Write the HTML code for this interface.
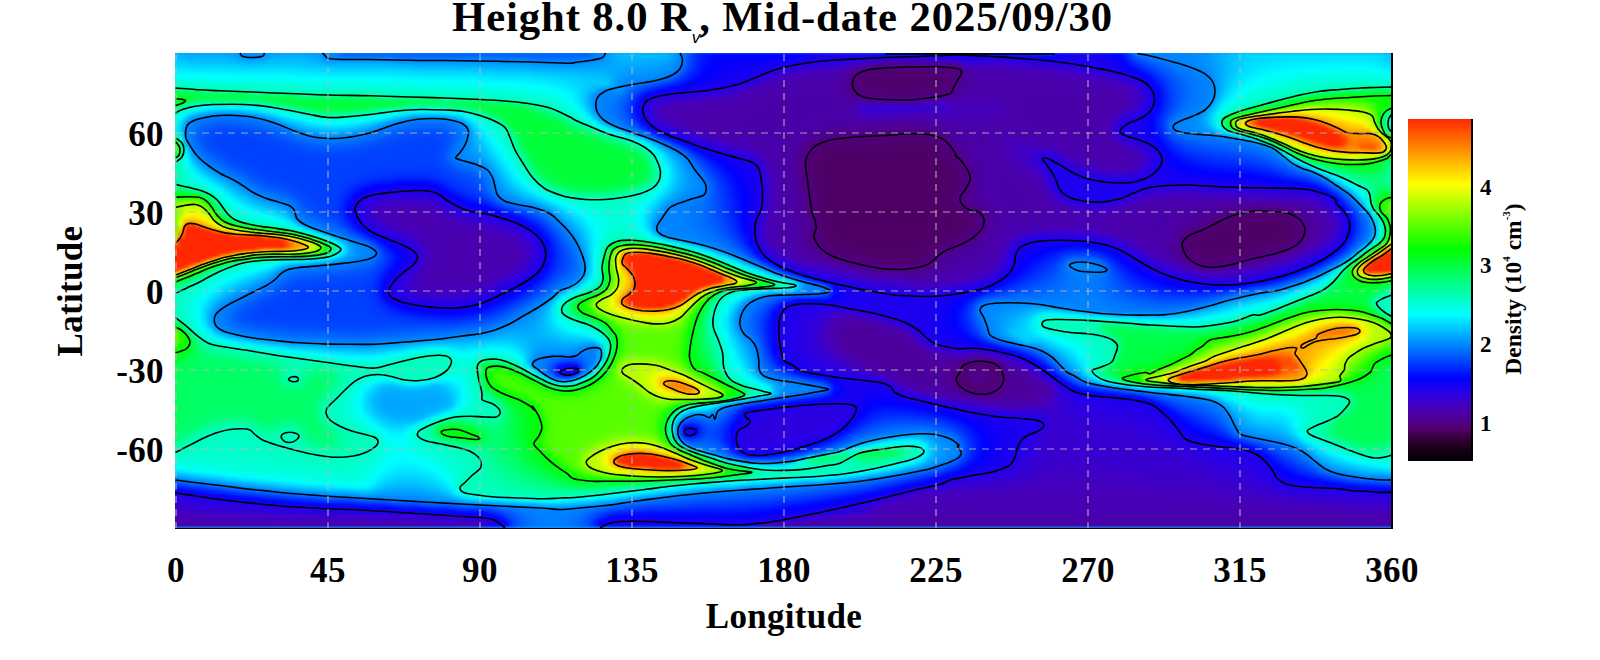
<!DOCTYPE html>
<html><head><meta charset="utf-8"><title>Density map</title>
<style>
html,body{margin:0;padding:0;background:#fff;}
body{width:1600px;height:660px;position:relative;overflow:hidden;font-family:"Liberation Serif",serif;font-weight:bold;color:#000;}
#title{position:absolute;left:0;width:1565px;top:-7.5px;text-align:center;font-size:42.7px;line-height:48px;white-space:nowrap;letter-spacing:0.9px}
#title sub{font-size:17px;font-style:italic;font-weight:normal;vertical-align:baseline;position:relative;top:12px;left:0px;font-family:"Liberation Sans",sans-serif;margin-right:-1px;letter-spacing:0}
.xt{position:absolute;top:551.3px;width:100px;text-align:center;font-size:35px;line-height:40px;letter-spacing:0.4px}
.yt{position:absolute;left:60px;width:104px;text-align:right;font-size:35px;line-height:40px;letter-spacing:0.4px}
#xl{position:absolute;left:176px;width:1216px;top:597.3px;text-align:center;font-size:35px;line-height:40px;letter-spacing:0.3px}
#yl{position:absolute;left:-29px;top:271px;width:200px;height:40px;text-align:center;font-size:35px;line-height:40px;transform:rotate(-90deg);letter-spacing:0.3px}
#heat{position:absolute;left:175px;top:53px;width:1217px;height:475px;overflow:hidden;background:#00a0ff;}
#hin{width:100%;height:100%;filter:url(#vb)}
#hin div{height:3px;width:100%;}
#ov{position:absolute;left:0;top:0;}
#cb{position:absolute;left:1408px;top:119px;width:65px;height:342px;background:linear-gradient(to top,#000000 0%,#190019 3.6%,#34003a 6.9%,#4e0062 8.9%,#500087 11.2%,#4800b8 15.6%,#2800e8 20%,#0000ff 24.1%,#00ffff 42.9%,#00ff00 62%,#ffff00 81%,#ff2800 100%);border-right:2px solid #000;box-sizing:border-box}
.ct{position:absolute;left:1480px;font-size:23px;line-height:24px;}
#cl{position:absolute;left:1413px;top:277px;width:200px;height:24px;text-align:center;font-size:23.5px;line-height:24px;transform:rotate(-90deg);white-space:nowrap}
#cl sup{font-size:11px;vertical-align:baseline;position:relative;top:-11px}
</style></head><body>
<div id="title">Height 8.0 R<sub>v</sub>, Mid-date 2025/09/30</div>
<svg width="0" height="0" style="position:absolute"><defs><filter id="vb" x="0" y="0" width="100%" height="100%" color-interpolation-filters="sRGB"><feGaussianBlur stdDeviation="0 1.3" edgeMode="duplicate"/></filter></defs></svg>
<div id="heat"><div id="hin"><div style="background:linear-gradient(90deg,#00bfff,#00b4ff,#00adff,#00abff,#00abff,#00abff,#00abff,#00aaff,#00a9ff,#00a4ff,#00a0ff,#008bff,#0086ff,#0087ff,#008eff,#0094ff,#00a1ff,#00a6ff,#00aaff,#00aaff,#00aaff,#00a9ff,#00a6ff,#00a2ff,#009bff,#0086ff,#0084ff,#0080ff,#006bff,#0060ff,#0060ff,#0060ff,#0060ff,#0060ff,#0060ff,#0060ff,#0060ff,#005eff,#005eff,#005eff,#005eff,#005eff,#005eff,#005eff,#005eff,#005eff,#005eff,#005eff,#005eff,#005eff,#005eff,#005eff,#005eff,#005eff,#005eff,#005eff,#005eff,#005eff,#005eff,#005dff,#005eff,#005dff,#005dff,#005dff,#005dff,#005dff,#005eff,#005dff,#005eff,#0061ff,#007bff,#0084ff,#0094ff,#00a7ff,#00b4ff,#00b9ff,#00bcff,#00bcff,#00bcff,#00bbff,#00baff,#00b7ff,#00b6ff,#00a6ff,#008aff,#006eff,#0048ff,#0028ff,#0015ff,#000bff,#0006ff,#0005ff,#0004ff,#0003ff,#0002ff,#0002ff,#0001ff,#0000ff,#0000ff,#0000ff,#0000ff,#0000ff,#0000ff,#0100ff,#0300fe,#1100f5,#1800f1,#1b00ef,#1c00ef,#1c00ef,#1c00ef,#1c00ef,#1c00ef,#1c00ef,#1c00ef,#1c00ef,#1c00ef,#1b00ef,#0200fe,#0011ff,#0011ff,#0011ff,#0011ff,#0011ff,#0011ff,#000eff,#0800fa,#0700fb,#0400fd,#0c00f8,#1300f4,#0a00fa,#0500fc,#0200fe,#0400fc,#000fff,#0012ff,#0012ff,#0012ff,#0012ff,#0018ff,#0021ff,#0021ff,#0021ff,#0024ff,#0028ff,#0027ff,#0004ff,#1200f5,#1900f1,#1b00ef,#1c00ef,#1b00ef,#1a00f0,#1800f1,#1500f3,#0f00f6,#0600fc,#000cff,#002cff,#0065ff,#007dff,#0080ff,#0084ff,#0084ff,#0085ff,#0085ff,#0085ff,#0086ff,#0087ff,#008aff,#008fff,#0095ff,#009eff,#00a8ff,#00b2ff,#00bdff,#00c6ff,#00ceff,#00d3ff,#00d6ff,#00d7ff,#00d8ff,#00d9ff,#00daff,#00daff,#00daff,#00dbff,#00dbff,#00dbff,#00dcff,#00dcff,#00dcff,#00dcff,#00dcff,#00dcff,#00dcff,#00dcff,#00dcff,#00dbff,#00daff,#00d5ff,#00cbff,#00c4ff)"></div>
<div style="background:linear-gradient(90deg,#00c5ff,#00bcff,#00b5ff,#00b3ff,#00b3ff,#00b2ff,#00b2ff,#00b2ff,#00b1ff,#00aeff,#00a8ff,#0098ff,#0091ff,#0091ff,#0093ff,#009fff,#00abff,#00afff,#00b2ff,#00b2ff,#00b1ff,#00b1ff,#00aeff,#00aaff,#00a1ff,#008cff,#0087ff,#0086ff,#0080ff,#007dff,#007dff,#007dff,#007dff,#007dff,#007dff,#007dff,#007bff,#0072ff,#0071ff,#0071ff,#0071ff,#0071ff,#0071ff,#0071ff,#0071ff,#0071ff,#0071ff,#0071ff,#0071ff,#0071ff,#0071ff,#0071ff,#0071ff,#0071ff,#0071ff,#0071ff,#0071ff,#0071ff,#0071ff,#006eff,#006bff,#006aff,#006aff,#006aff,#006aff,#006aff,#006bff,#006eff,#0071ff,#0075ff,#0083ff,#0089ff,#0098ff,#00a7ff,#00b1ff,#00b6ff,#00b8ff,#00b8ff,#00b7ff,#00b7ff,#00b5ff,#00b2ff,#00aeff,#00a0ff,#008bff,#006eff,#0047ff,#0029ff,#0015ff,#000aff,#0005ff,#0003ff,#0001ff,#0000ff,#0100ff,#0100fe,#0200fe,#0200fe,#0300fd,#0400fd,#0400fc,#0500fc,#0600fb,#0800fb,#0b00f9,#1400f3,#1a00f0,#1c00ef,#1c00ef,#1c00ef,#1d00ee,#1e00ee,#1f00ed,#1f00ed,#2000ed,#2000ed,#2200ec,#2900e7,#2800e8,#2800e8,#2800e8,#2800e8,#2800e8,#2800e8,#2800e8,#2800e8,#2700e9,#2400ea,#2300eb,#2700e9,#2800e8,#2000ed,#1900f1,#1600f2,#1a00f0,#1e00ed,#1f00ed,#1f00ed,#1f00ed,#1e00ee,#1600f2,#0f00f6,#0f00f6,#0f00f7,#0900fa,#0100ff,#0100fe,#0c00f8,#1500f3,#1a00f0,#1b00ef,#1c00ef,#1c00ef,#1b00f0,#1900f1,#1600f2,#1100f5,#0800fb,#0008ff,#0025ff,#004fff,#0067ff,#0072ff,#007cff,#0082ff,#0084ff,#0085ff,#0085ff,#0085ff,#0087ff,#008aff,#008eff,#0095ff,#009dff,#00a8ff,#00b2ff,#00bdff,#00c7ff,#00cfff,#00d4ff,#00d8ff,#00daff,#00dcff,#00ddff,#00deff,#00deff,#00dfff,#00e0ff,#00e0ff,#00e1ff,#00e1ff,#00e1ff,#00e2ff,#00e2ff,#00e2ff,#00e2ff,#00e2ff,#00e2ff,#00e2ff,#00e1ff,#00dfff,#00daff,#00d0ff,#00caff)"></div>
<div style="background:linear-gradient(90deg,#00cdff,#00c5ff,#00bfff,#00bdff,#00bdff,#00bcff,#00bcff,#00bcff,#00bbff,#00b9ff,#00b5ff,#00abff,#00a6ff,#00a5ff,#00a7ff,#00afff,#00b7ff,#00baff,#00bbff,#00bbff,#00bbff,#00baff,#00b7ff,#00b4ff,#00acff,#009dff,#0097ff,#0096ff,#0096ff,#0096ff,#0096ff,#0096ff,#0096ff,#0096ff,#0096ff,#0095ff,#0092ff,#008aff,#0089ff,#0089ff,#0088ff,#0088ff,#0088ff,#0088ff,#0088ff,#0088ff,#0088ff,#0088ff,#0088ff,#0088ff,#0088ff,#0087ff,#0087ff,#0087ff,#0087ff,#0087ff,#0087ff,#0087ff,#0086ff,#0081ff,#007cff,#007cff,#007cff,#007cff,#007cff,#007cff,#007cff,#0080ff,#0085ff,#0086ff,#008cff,#0091ff,#009dff,#00a7ff,#00aeff,#00b2ff,#00b3ff,#00b3ff,#00b2ff,#00b1ff,#00afff,#00acff,#00a5ff,#0099ff,#008aff,#006dff,#0046ff,#0028ff,#0015ff,#0009ff,#0003ff,#0000ff,#0100fe,#0200fe,#0300fd,#0400fd,#0500fc,#0600fb,#0700fb,#0900fa,#0b00f9,#0d00f8,#0f00f6,#1100f5,#1500f3,#1a00f0,#1c00ef,#2000ed,#2100ec,#2100ec,#2300eb,#2700e8,#2900e6,#2b00e3,#2e00df,#3000db,#3400d7,#3a00cd,#3f00c6,#4100c3,#4100c2,#4100c2,#4100c2,#4100c2,#4100c2,#4100c3,#3f00c5,#3e00c7,#3d00c8,#3e00c7,#3c00ca,#3400d6,#2d00e0,#2a00e4,#2c00e3,#2e00de,#2f00dd,#2f00dd,#2f00de,#2d00e0,#2a00e6,#2800e8,#2800e8,#2600e9,#2000ed,#1c00ef,#1c00ef,#1a00f0,#1a00f0,#1c00ef,#1c00ef,#1c00ef,#1c00ef,#1b00ef,#1a00f0,#1700f2,#1300f4,#0b00f9,#0002ff,#001bff,#003aff,#0050ff,#0060ff,#006cff,#0077ff,#007eff,#0082ff,#0084ff,#0085ff,#0086ff,#0089ff,#008dff,#0094ff,#009dff,#00a7ff,#00b3ff,#00beff,#00c8ff,#00d0ff,#00d7ff,#00dbff,#00deff,#00e0ff,#00e2ff,#00e3ff,#00e4ff,#00e5ff,#00e6ff,#00e6ff,#00e7ff,#00e8ff,#00e8ff,#00e8ff,#00e9ff,#00e9ff,#00e9ff,#00e9ff,#00e9ff,#00e9ff,#00e8ff,#00e5ff,#00e0ff,#00d7ff,#00d1ff)"></div>
<div style="background:linear-gradient(90deg,#00d6ff,#00cfff,#00caff,#00c9ff,#00c8ff,#00c8ff,#00c8ff,#00c7ff,#00c7ff,#00c6ff,#00c3ff,#00beff,#00bbff,#00baff,#00bcff,#00c0ff,#00c4ff,#00c6ff,#00c7ff,#00c6ff,#00c5ff,#00c4ff,#00c2ff,#00bfff,#00baff,#00b1ff,#00adff,#00acff,#00abff,#00abff,#00abff,#00abff,#00abff,#00abff,#00abff,#00aaff,#00a7ff,#00a3ff,#00a2ff,#00a1ff,#009fff,#009eff,#009dff,#009dff,#009dff,#009dff,#009dff,#009dff,#009dff,#009dff,#009dff,#009cff,#009aff,#009aff,#009aff,#009aff,#0099ff,#0099ff,#0097ff,#0091ff,#008eff,#008eff,#008eff,#008dff,#008dff,#008dff,#008dff,#008eff,#0092ff,#0093ff,#0096ff,#009bff,#00a1ff,#00a7ff,#00abff,#00adff,#00aeff,#00adff,#00acff,#00abff,#00a8ff,#00a5ff,#009eff,#0094ff,#0087ff,#0068ff,#0042ff,#0027ff,#0014ff,#0008ff,#0001ff,#0200fe,#0400fd,#0500fc,#0700fb,#0800fb,#0900fa,#0b00f9,#0d00f8,#0f00f6,#1200f5,#1500f3,#1800f1,#1b00ef,#1f00ed,#2300eb,#2500e9,#2a00e5,#2b00e3,#2c00e2,#2e00df,#3100da,#3500d5,#3a00ce,#3f00c5,#4400be,#4800b6,#4900af,#4b00a6,#4c00a1,#4c00a0,#4c00a0,#4c00a0,#4c00a0,#4c00a0,#4c00a0,#4c00a2,#4c00a2,#4b00a3,#4b00a3,#4a00a9,#4700ba,#3c00ca,#3800d0,#3800d0,#3900cf,#3900cf,#3900cf,#3800d0,#3700d2,#3400d5,#3300d7,#3200d9,#3000db,#2d00e0,#2c00e2,#2b00e4,#2700e9,#2400ea,#2200ec,#1e00ee,#1d00ee,#1c00ef,#1c00ef,#1b00f0,#1900f1,#1500f3,#0f00f7,#0400fd,#000fff,#0027ff,#003cff,#004dff,#005bff,#0068ff,#0073ff,#007bff,#0081ff,#0084ff,#0085ff,#0087ff,#008bff,#0092ff,#009bff,#00a7ff,#00b3ff,#00bfff,#00c9ff,#00d2ff,#00d9ff,#00dfff,#00e2ff,#00e5ff,#00e7ff,#00e9ff,#00eaff,#00ecff,#00edff,#00eeff,#00eeff,#00efff,#00f0ff,#00f0ff,#00f1ff,#00f1ff,#00f2ff,#00f2ff,#00f2ff,#00f1ff,#00f0ff,#00edff,#00e7ff,#00dfff,#00d9ff)"></div>
<div style="background:linear-gradient(90deg,#00e0ff,#00dbff,#00d7ff,#00d5ff,#00d5ff,#00d4ff,#00d4ff,#00d4ff,#00d4ff,#00d3ff,#00d1ff,#00cfff,#00ceff,#00cdff,#00ceff,#00d0ff,#00d1ff,#00d2ff,#00d3ff,#00d2ff,#00d1ff,#00cfff,#00cdff,#00cbff,#00c8ff,#00c4ff,#00c1ff,#00c0ff,#00c0ff,#00bfff,#00bfff,#00bfff,#00bfff,#00bfff,#00bfff,#00beff,#00bdff,#00bbff,#00bbff,#00baff,#00b6ff,#00b3ff,#00b2ff,#00b2ff,#00b2ff,#00b2ff,#00b2ff,#00b2ff,#00b2ff,#00b2ff,#00b1ff,#00afff,#00adff,#00acff,#00acff,#00acff,#00abff,#00abff,#00a9ff,#00a5ff,#00a2ff,#00a0ff,#00a0ff,#009fff,#009eff,#009dff,#009dff,#009dff,#009fff,#00a0ff,#00a1ff,#00a4ff,#00a6ff,#00a8ff,#00a9ff,#00a9ff,#00a8ff,#00a7ff,#00a5ff,#00a4ff,#00a1ff,#009dff,#0097ff,#008fff,#0083ff,#0060ff,#003dff,#0023ff,#0011ff,#0005ff,#0100fe,#0500fc,#0700fb,#0800fa,#0a00f9,#0c00f8,#0d00f7,#0f00f6,#1200f5,#1500f3,#1900f1,#1d00ee,#2100ec,#2700e9,#2a00e4,#2e00df,#3100db,#3400d6,#3600d3,#3700d2,#3800cf,#3b00cb,#4000c4,#4700b9,#4a00ab,#4c00a0,#4e0096,#4e0093,#4f008b,#500087,#500086,#500086,#500086,#500086,#500086,#500086,#500086,#500087,#500087,#500087,#4f008d,#4c009f,#4800b8,#4400bf,#4300c0,#4200c1,#4200c1,#4200c1,#4200c2,#4000c4,#3e00c7,#3d00c9,#3c00ca,#3a00cd,#3800d0,#3600d3,#3500d5,#3200d9,#2f00dd,#2c00e2,#2800e7,#2500ea,#2100ec,#1e00ee,#1c00ef,#1b00f0,#1800f1,#1300f4,#0b00f9,#0002ff,#0016ff,#0029ff,#003bff,#004bff,#005aff,#0067ff,#0071ff,#007aff,#0080ff,#0083ff,#0086ff,#0089ff,#0090ff,#009aff,#00a6ff,#00b3ff,#00c0ff,#00cbff,#00d5ff,#00ddff,#00e3ff,#00e7ff,#00eaff,#00edff,#00efff,#00f1ff,#00f3ff,#00f4ff,#00f5ff,#00f6ff,#00f7ff,#00f8ff,#00f9ff,#00faff,#00faff,#00fbff,#00fbff,#00fbff,#00fbff,#00f9ff,#00f6ff,#00f0ff,#00e8ff,#00e3ff)"></div>
<div style="background:linear-gradient(90deg,#00eaff,#00e7ff,#00e4ff,#00e3ff,#00e2ff,#00e2ff,#00e2ff,#00e1ff,#00e1ff,#00e0ff,#00dfff,#00deff,#00ddff,#00ddff,#00ddff,#00deff,#00deff,#00dfff,#00dfff,#00deff,#00ddff,#00dbff,#00d9ff,#00d7ff,#00d6ff,#00d4ff,#00d3ff,#00d2ff,#00d2ff,#00d1ff,#00d1ff,#00d1ff,#00d1ff,#00d1ff,#00d1ff,#00d1ff,#00d1ff,#00d0ff,#00d0ff,#00ceff,#00c9ff,#00c7ff,#00c6ff,#00c6ff,#00c6ff,#00c6ff,#00c6ff,#00c6ff,#00c5ff,#00c5ff,#00c5ff,#00c2ff,#00bfff,#00bdff,#00bdff,#00bdff,#00bdff,#00bcff,#00bbff,#00b8ff,#00b4ff,#00b2ff,#00b1ff,#00b1ff,#00afff,#00adff,#00acff,#00acff,#00abff,#00abff,#00acff,#00acff,#00abff,#00a9ff,#00a7ff,#00a4ff,#00a2ff,#00a0ff,#009fff,#009cff,#009aff,#0096ff,#0091ff,#008aff,#007cff,#0056ff,#0036ff,#001eff,#000dff,#0002ff,#0400fd,#0800fb,#0a00f9,#0c00f8,#0e00f7,#1000f6,#1200f5,#1400f3,#1700f2,#1b00ef,#2100ec,#2700e9,#2c00e2,#3100db,#3500d5,#3800cf,#3b00cb,#3e00c7,#4000c4,#4100c3,#4200c1,#4400be,#4800b5,#4b00a4,#4e0091,#500089,#500081,#500080,#4f007d,#4f007a,#4f007a,#4f0079,#4f0079,#4f0079,#4f0079,#4f0079,#4f0079,#4f007a,#4f007a,#4f007c,#500081,#4f008e,#4a00aa,#4900b3,#4800b6,#4800b6,#4800b6,#4800b7,#4800b7,#4800b8,#4600ba,#4500bc,#4500bd,#4300bf,#4100c2,#4000c4,#3e00c7,#3c00ca,#3900ce,#3600d2,#3300d7,#3000dd,#2c00e3,#2700e8,#2400ea,#2000ed,#1d00ee,#1900f1,#1300f4,#0900fa,#0005ff,#0017ff,#002aff,#003cff,#004dff,#005bff,#0068ff,#0072ff,#007aff,#0080ff,#0083ff,#0086ff,#008cff,#0097ff,#00a5ff,#00b3ff,#00c1ff,#00ceff,#00d8ff,#00e1ff,#00e7ff,#00ecff,#00f0ff,#00f4ff,#00f6ff,#00f8ff,#00faff,#00fcff,#00feff,#00ffff,#00fffe,#00fffd,#00fffc,#00fffb,#00fffa,#00fffa,#00fff9,#00fff9,#00fffa,#00fffb,#00fffe,#00faff,#00f2ff,#00edff)"></div>
<div style="background:linear-gradient(90deg,#00f6ff,#00f4ff,#00f2ff,#00f1ff,#00f1ff,#00f0ff,#00efff,#00efff,#00efff,#00eeff,#00eeff,#00edff,#00ecff,#00ebff,#00ebff,#00ebff,#00ecff,#00ecff,#00ecff,#00ebff,#00eaff,#00e8ff,#00e6ff,#00e4ff,#00e3ff,#00e2ff,#00e1ff,#00e1ff,#00e1ff,#00e0ff,#00e0ff,#00e0ff,#00e0ff,#00e0ff,#00e0ff,#00dfff,#00dfff,#00dfff,#00deff,#00dcff,#00d9ff,#00d7ff,#00d7ff,#00d7ff,#00d7ff,#00d6ff,#00d6ff,#00d6ff,#00d6ff,#00d6ff,#00d5ff,#00d2ff,#00cfff,#00ceff,#00cdff,#00cdff,#00cdff,#00ccff,#00ccff,#00caff,#00c5ff,#00c3ff,#00c2ff,#00c1ff,#00bfff,#00bcff,#00bbff,#00b9ff,#00b8ff,#00b6ff,#00b5ff,#00b3ff,#00b0ff,#00aaff,#00a4ff,#009fff,#009cff,#009aff,#0098ff,#0096ff,#0093ff,#008fff,#008bff,#0084ff,#006cff,#0049ff,#002cff,#0017ff,#0008ff,#0200fe,#0700fb,#0b00f9,#0d00f7,#0f00f6,#1100f5,#1300f4,#1600f2,#1900f1,#1d00ee,#2300eb,#2b00e3,#3100da,#3600d3,#3b00cc,#3f00c6,#4200c1,#4400be,#4600bb,#4700b9,#4800b8,#4800b6,#4900b3,#4b00a8,#4e0092,#500082,#4f007c,#4f0078,#4f0077,#4f0076,#4f0075,#4f0074,#4f0074,#4f0074,#4f0074,#4f0074,#4f0074,#4f0074,#4f0074,#4f0075,#4f0078,#50007e,#50008a,#4c00a2,#4a00ac,#4900b1,#4900b1,#4900b1,#4900b2,#4900b2,#4900b2,#4900b3,#4900b4,#4900b5,#4800b5,#4800b7,#4800b9,#4700ba,#4500bd,#4300c0,#4000c4,#3d00c8,#3a00cd,#3600d3,#3200d9,#2f00de,#2a00e4,#2700e9,#2000ec,#1b00f0,#1400f4,#0900fa,#0005ff,#0019ff,#002dff,#0040ff,#0051ff,#005fff,#006bff,#0074ff,#007bff,#0080ff,#0084ff,#0088ff,#0094ff,#00a4ff,#00b4ff,#00c3ff,#00d0ff,#00dcff,#00e5ff,#00ecff,#00f2ff,#00f7ff,#00faff,#00fdff,#00fffe,#00fffc,#00fffa,#00fff8,#00fff7,#00fff5,#00fff4,#00fff3,#00fff2,#00fff1,#00fff0,#00fff0,#00ffef,#00ffef,#00fff1,#00fff3,#00fff8,#00feff,#00f9ff)"></div>
<div style="background:linear-gradient(90deg,#00fff8,#00fffb,#00fffd,#00fffd,#00fffe,#00ffff,#00feff,#00fdff,#00fdff,#00fdff,#00fcff,#00fcff,#00fbff,#00faff,#00faff,#00f9ff,#00f9ff,#00f9ff,#00f9ff,#00f8ff,#00f6ff,#00f4ff,#00f3ff,#00f1ff,#00f0ff,#00f0ff,#00efff,#00efff,#00efff,#00efff,#00efff,#00eeff,#00eeff,#00eeff,#00edff,#00edff,#00edff,#00ecff,#00ebff,#00e9ff,#00e7ff,#00e6ff,#00e5ff,#00e5ff,#00e5ff,#00e4ff,#00e4ff,#00e4ff,#00e3ff,#00e3ff,#00e2ff,#00e0ff,#00ddff,#00dcff,#00dcff,#00dbff,#00dbff,#00daff,#00d9ff,#00d7ff,#00d4ff,#00d2ff,#00d1ff,#00d0ff,#00cdff,#00c9ff,#00c8ff,#00c5ff,#00c2ff,#00bfff,#00bdff,#00baff,#00b5ff,#00acff,#00a1ff,#009aff,#0096ff,#0093ff,#0091ff,#008fff,#008dff,#0089ff,#0083ff,#0075ff,#0058ff,#0039ff,#0021ff,#000fff,#0001ff,#0600fc,#0b00f9,#0e00f7,#1100f5,#1300f4,#1500f3,#1700f2,#1a00f0,#1e00ee,#2600e9,#2e00df,#3500d4,#3b00cc,#4000c4,#4400be,#4700ba,#4800b7,#4900b5,#4900b3,#4900b3,#4900b2,#4900b0,#4a00ab,#4c009e,#500087,#4f007b,#4f0075,#4f0073,#4f0072,#4f0071,#4f0070,#4f0070,#4f0070,#4f0070,#4f0070,#4f0070,#4f0070,#4f0070,#4f0070,#4f0071,#4f0075,#4f007d,#50008a,#4c009e,#4a00a9,#4a00ad,#4a00ae,#4a00ae,#4a00ae,#4a00af,#4900af,#4900af,#4900b0,#4900b1,#4900b1,#4900b2,#4900b2,#4900b3,#4900b4,#4800b6,#4800b8,#4600bc,#4300c0,#4000c5,#3c00ca,#3900cf,#3500d5,#3100db,#2b00e3,#2500ea,#1e00ee,#1600f3,#0b00f9,#0007ff,#001eff,#0034ff,#0047ff,#0057ff,#0064ff,#006fff,#0077ff,#007dff,#0082ff,#0085ff,#0090ff,#00a2ff,#00b5ff,#00c5ff,#00d4ff,#00e0ff,#00eaff,#00f2ff,#00f8ff,#00fdff,#00fffd,#00fffa,#00fff7,#00fff4,#00fff2,#00fff0,#00ffee,#00ffec,#00ffeb,#00ffe9,#00ffe8,#00ffe7,#00ffe6,#00ffe5,#00ffe5,#00ffe5,#00ffe5,#00ffe8,#00ffec,#00fff2,#00fff6)"></div>
<div style="background:linear-gradient(90deg,#00ffe9,#00ffeb,#00ffed,#00ffee,#00ffef,#00fff1,#00fff2,#00fff2,#00fff3,#00fff3,#00fff3,#00fff4,#00fff5,#00fff6,#00fff7,#00fff7,#00fff7,#00fff8,#00fff8,#00fff9,#00fffa,#00fffd,#00fffe,#00ffff,#00feff,#00feff,#00fdff,#00fdff,#00fdff,#00fdff,#00fdff,#00fdff,#00fdff,#00fcff,#00fcff,#00fbff,#00faff,#00f9ff,#00f8ff,#00f7ff,#00f5ff,#00f4ff,#00f4ff,#00f3ff,#00f3ff,#00f2ff,#00f2ff,#00f1ff,#00f1ff,#00f0ff,#00efff,#00edff,#00ebff,#00eaff,#00e9ff,#00e8ff,#00e8ff,#00e7ff,#00e5ff,#00e3ff,#00e0ff,#00deff,#00ddff,#00dbff,#00d7ff,#00d4ff,#00d1ff,#00ceff,#00c9ff,#00c6ff,#00c4ff,#00c2ff,#00bcff,#00adff,#009cff,#0094ff,#008fff,#008dff,#008bff,#0088ff,#0085ff,#007cff,#006fff,#005bff,#0041ff,#0029ff,#0015ff,#0005ff,#0500fc,#0b00f9,#0f00f6,#1200f5,#1400f3,#1600f2,#1800f1,#1b00f0,#2000ed,#2800e8,#3000dc,#3800d0,#3f00c6,#4400bf,#4700b9,#4800b5,#4900b3,#4900b2,#4900b1,#4900b0,#4900af,#4a00af,#4a00ac,#4b00a6,#4d0098,#500082,#4f0077,#4f0071,#4f006f,#4f006f,#4f006e,#4f006e,#4f006e,#4f006e,#4f006e,#4f006e,#4f006e,#4f006e,#4f006e,#4f006f,#4f0070,#4f0073,#50007f,#4f008c,#4c009e,#4b00a7,#4a00aa,#4a00ab,#4a00ac,#4a00ac,#4a00ac,#4a00ac,#4a00ad,#4a00ad,#4a00ad,#4a00ae,#4a00ae,#4900af,#4900b0,#4900b0,#4900b2,#4900b2,#4900b4,#4800b6,#4700b9,#4500bd,#4200c1,#3f00c6,#3b00cc,#3500d4,#2f00dd,#2900e6,#2000ed,#1800f1,#0800fb,#0010ff,#0028ff,#003eff,#0050ff,#005fff,#006aff,#0074ff,#007bff,#0080ff,#0083ff,#008cff,#00a1ff,#00b6ff,#00c8ff,#00d8ff,#00e5ff,#00efff,#00f8ff,#00feff,#00fffa,#00fff6,#00fff2,#00ffef,#00ffec,#00ffea,#00ffe7,#00ffe5,#00ffe3,#00ffe1,#00ffdf,#00ffde,#00ffdd,#00ffdc,#00ffdb,#00ffdb,#00ffda,#00ffda,#00ffdc,#00ffdf,#00ffe4,#00ffe7)"></div>
<div style="background:linear-gradient(90deg,#00ffda,#00ffdd,#00ffde,#00ffdf,#00ffe0,#00ffe2,#00ffe3,#00ffe4,#00ffe5,#00ffe5,#00ffe5,#00ffe6,#00ffe6,#00ffe8,#00ffe9,#00ffea,#00ffea,#00ffea,#00ffeb,#00ffec,#00ffed,#00ffef,#00fff1,#00fff2,#00fff3,#00fff3,#00fff3,#00fff3,#00fff3,#00fff3,#00fff3,#00fff3,#00fff4,#00fff4,#00fff5,#00fff6,#00fff7,#00fff8,#00fff9,#00fffa,#00fffb,#00fffc,#00fffc,#00fffd,#00fffd,#00fffe,#00ffff,#00feff,#00feff,#00fdff,#00fcff,#00fbff,#00f9ff,#00f7ff,#00f6ff,#00f6ff,#00f5ff,#00f3ff,#00f2ff,#00efff,#00edff,#00eaff,#00e8ff,#00e5ff,#00e1ff,#00ddff,#00d9ff,#00d3ff,#00ceff,#00cbff,#00cbff,#00cbff,#00c8ff,#00afff,#0095ff,#008cff,#0089ff,#0085ff,#0082ff,#0079ff,#0071ff,#0061ff,#0052ff,#003eff,#002aff,#0017ff,#0007ff,#0400fd,#0b00f9,#0f00f6,#1300f4,#1500f3,#1700f2,#1900f0,#1c00ef,#2000ec,#2a00e5,#3200d9,#3a00cd,#4100c3,#4600ba,#4800b5,#4900b3,#4900b1,#4900b0,#4a00af,#4a00ae,#4a00ad,#4a00ac,#4a00ac,#4a00a9,#4b00a4,#4e0095,#500081,#4f0076,#4f0070,#4f006f,#4f006e,#4f006e,#4f006e,#4f006e,#4f006e,#4f006e,#4f006e,#4f006e,#4f006e,#4f006e,#4f006f,#4f006f,#4f0075,#500081,#4f0090,#4c009f,#4b00a7,#4a00a9,#4a00aa,#4a00aa,#4a00aa,#4a00aa,#4a00aa,#4a00ab,#4a00ab,#4a00ab,#4a00ab,#4a00ac,#4a00ac,#4a00ad,#4a00ad,#4a00ae,#4900af,#4900b0,#4900b1,#4900b3,#4900b4,#4800b7,#4700ba,#4300bf,#3f00c6,#3900ce,#3200d8,#2a00e4,#2100ec,#1400f4,#0001ff,#001eff,#0036ff,#0049ff,#005aff,#0067ff,#0071ff,#0078ff,#007eff,#0082ff,#0089ff,#00a0ff,#00b8ff,#00ccff,#00dcff,#00eaff,#00f5ff,#00feff,#00fff9,#00fff4,#00ffef,#00ffeb,#00ffe7,#00ffe4,#00ffe1,#00ffde,#00ffdc,#00ffda,#00ffd8,#00ffd6,#00ffd5,#00ffd4,#00ffd3,#00ffd2,#00ffd1,#00ffd0,#00ffd0,#00ffd1,#00ffd3,#00ffd6,#00ffd9)"></div>
<div style="background:linear-gradient(90deg,#00ffcb,#00ffcf,#00ffd0,#00ffd1,#00ffd2,#00ffd5,#00ffd7,#00ffd7,#00ffd8,#00ffd8,#00ffd8,#00ffd8,#00ffd9,#00ffdb,#00ffdc,#00ffdd,#00ffdd,#00ffde,#00ffde,#00ffdf,#00ffe0,#00ffe2,#00ffe4,#00ffe5,#00ffe5,#00ffe6,#00ffe6,#00ffe6,#00ffe6,#00ffe6,#00ffe6,#00ffe6,#00ffe6,#00ffe7,#00ffe8,#00ffe9,#00ffea,#00ffeb,#00ffec,#00ffed,#00ffee,#00ffee,#00ffef,#00ffef,#00fff0,#00fff1,#00fff2,#00fff3,#00fff3,#00fff4,#00fff5,#00fff6,#00fff8,#00fffa,#00fffb,#00fffc,#00fffd,#00fffe,#00feff,#00fbff,#00f8ff,#00f6ff,#00f3ff,#00efff,#00ebff,#00e6ff,#00e0ff,#00d9ff,#00d1ff,#00cbff,#00c8ff,#00caff,#00ccff,#00acff,#008fff,#0086ff,#0081ff,#0078ff,#006eff,#0060ff,#0052ff,#0042ff,#0033ff,#0023ff,#0014ff,#0005ff,#0600fc,#0c00f8,#1100f5,#1400f3,#1700f2,#1900f0,#1b00ef,#1f00ed,#2400eb,#2b00e3,#3400d7,#3c00cb,#4200c0,#4800b8,#4900b3,#4900b1,#4900b0,#4a00ae,#4a00ad,#4a00ac,#4a00ab,#4a00ab,#4a00ab,#4a00aa,#4b00a8,#4c00a2,#4e0094,#500081,#4f0075,#4f0070,#4f006f,#4f006e,#4f006e,#4f006e,#4f006d,#4f006e,#4f006d,#4f006d,#4f006e,#4f006e,#4f006e,#4f006e,#4f0071,#4f0078,#500085,#4e0094,#4c00a1,#4b00a7,#4a00a9,#4a00aa,#4a00aa,#4a00aa,#4a00aa,#4a00aa,#4a00aa,#4a00aa,#4a00aa,#4a00aa,#4a00aa,#4a00ab,#4a00ab,#4a00ab,#4a00ac,#4a00ac,#4a00ad,#4a00ae,#4900af,#4900b0,#4900b2,#4900b3,#4800b5,#4700ba,#4200c1,#3c00ca,#3300d7,#2900e6,#1c00ef,#0900fa,#0014ff,#002eff,#0044ff,#0055ff,#0063ff,#006eff,#0077ff,#007dff,#0081ff,#0086ff,#00a0ff,#00baff,#00d0ff,#00e2ff,#00f0ff,#00fcff,#00fff9,#00fff2,#00ffec,#00ffe7,#00ffe3,#00ffdf,#00ffdc,#00ffd8,#00ffd6,#00ffd3,#00ffd1,#00ffcf,#00ffce,#00ffcc,#00ffca,#00ffca,#00ffc9,#00ffc8,#00ffc3,#00ffc2,#00ffc2,#00ffc3,#00ffc5,#00ffc7)"></div>
<div style="background:linear-gradient(90deg,#00ffb2,#00ffba,#00ffba,#00ffba,#00ffbc,#00ffc6,#00ffc9,#00ffca,#00ffca,#00ffca,#00ffca,#00ffca,#00ffcb,#00ffcf,#00ffd1,#00ffd1,#00ffd2,#00ffd2,#00ffd2,#00ffd3,#00ffd4,#00ffd6,#00ffd8,#00ffd9,#00ffd9,#00ffd9,#00ffd9,#00ffd9,#00ffda,#00ffda,#00ffda,#00ffda,#00ffda,#00ffdb,#00ffdc,#00ffdd,#00ffde,#00ffdf,#00ffe0,#00ffe0,#00ffe1,#00ffe1,#00ffe2,#00ffe2,#00ffe3,#00ffe5,#00ffe6,#00ffe7,#00ffe7,#00ffe8,#00ffe8,#00ffea,#00ffeb,#00ffed,#00ffee,#00ffef,#00fff1,#00fff2,#00fff5,#00fff7,#00fffa,#00fffd,#00fdff,#00f9ff,#00f4ff,#00edff,#00e6ff,#00dcff,#00d2ff,#00c7ff,#00bbff,#00b1ff,#00a6ff,#0096ff,#009dff,#0086ff,#0075ff,#0065ff,#0055ff,#0042ff,#0032ff,#0023ff,#0015ff,#0007ff,#0300fd,#0a00fa,#1100f5,#1500f3,#1700f2,#1a00f0,#1d00ef,#1e00ed,#2400eb,#2900e6,#2f00de,#3500d4,#3d00c8,#4400be,#4800b7,#4900b3,#4900b0,#4a00ae,#4a00ad,#4a00ac,#4a00ab,#4a00aa,#4a00aa,#4a00aa,#4a00aa,#4a00a9,#4b00a7,#4c00a2,#4e0095,#500083,#4f0077,#4f0071,#4f006f,#4f006f,#4f006f,#4f006e,#4f006e,#4f006e,#4f006e,#4f006e,#4f006f,#4f006f,#4f0070,#4f0071,#4f0075,#4f007c,#500089,#4d0098,#4b00a3,#4b00a7,#4a00a9,#4a00aa,#4a00aa,#4a00aa,#4a00aa,#4a00aa,#4a00aa,#4a00aa,#4a00aa,#4a00aa,#4a00aa,#4a00aa,#4a00aa,#4a00aa,#4a00aa,#4a00ab,#4a00ab,#4a00ac,#4a00ad,#4a00ad,#4a00af,#4900b0,#4900b1,#4900b3,#4800b7,#4400be,#3c00cb,#3000dc,#2200eb,#1000f6,#000cff,#0028ff,#003fff,#0052ff,#0061ff,#006dff,#0076ff,#007cff,#0081ff,#0086ff,#00a1ff,#00beff,#00d5ff,#00e8ff,#00f7ff,#00fffb,#00fff2,#00ffeb,#00ffe5,#00ffdf,#00ffdb,#00ffd7,#00ffd3,#00ffd0,#00ffce,#00ffcb,#00ffc9,#00ffc6,#00ffc5,#00ffc0,#00ffba,#00ffb8,#00ffb8,#00ffb7,#00ffa8,#00ffa0,#00ff9c,#00ff9a,#00ff9e,#00ffa8)"></div>
<div style="background:linear-gradient(90deg,#00ff79,#00ff8a,#00ff89,#00ff86,#00ff8b,#00ffa7,#00ffab,#00ffac,#00ffac,#00ffac,#00ffac,#00ffac,#00ffae,#00ffbe,#00ffc2,#00ffc2,#00ffc2,#00ffc2,#00ffc2,#00ffc2,#00ffc4,#00ffca,#00ffcd,#00ffcd,#00ffcd,#00ffcd,#00ffce,#00ffce,#00ffce,#00ffce,#00ffce,#00ffce,#00ffce,#00ffce,#00ffd0,#00ffd2,#00ffd3,#00ffd4,#00ffd4,#00ffd5,#00ffd5,#00ffd6,#00ffd6,#00ffd6,#00ffd7,#00ffd9,#00ffda,#00ffdb,#00ffdb,#00ffdc,#00ffdc,#00ffdd,#00ffdf,#00ffe0,#00ffe2,#00ffe3,#00ffe5,#00ffe7,#00ffe9,#00ffec,#00ffef,#00fff2,#00fff6,#00fffb,#00fcff,#00f5ff,#00ebff,#00e0ff,#00d2ff,#00c1ff,#00abff,#0094ff,#0088ff,#0087ff,#0098ff,#0080ff,#0068ff,#0053ff,#003cff,#0025ff,#0013ff,#0003ff,#0600fc,#0f00f6,#1400f4,#1600f2,#1c00ef,#1f00ed,#2000ed,#2200ec,#2700e9,#2a00e6,#2e00de,#3300d7,#3900cf,#3f00c6,#4500bc,#4800b5,#4900b2,#4900b0,#4a00ad,#4a00ac,#4a00ab,#4a00aa,#4a00aa,#4a00aa,#4a00aa,#4a00aa,#4a00a9,#4a00a9,#4b00a7,#4b00a3,#4d0097,#500087,#4f007c,#4f0075,#4f0073,#4f0072,#4f0072,#4f0072,#4f0070,#4f0070,#4f0070,#4f0071,#4f0072,#4f0073,#4f0075,#4f0077,#4f007a,#500080,#4f008e,#4d009c,#4b00a5,#4b00a8,#4a00a9,#4a00aa,#4a00aa,#4a00aa,#4a00aa,#4a00a9,#4a00a9,#4a00a9,#4a00a9,#4a00a9,#4a00a9,#4a00a9,#4a00aa,#4a00aa,#4a00aa,#4a00aa,#4a00aa,#4a00aa,#4a00ab,#4a00ab,#4a00ac,#4a00ad,#4a00ae,#4900b0,#4900b2,#4800b6,#4300c0,#3600d3,#2700e9,#1600f2,#0004ff,#0023ff,#003cff,#0050ff,#0060ff,#006cff,#0075ff,#007cff,#0081ff,#0086ff,#00a4ff,#00c3ff,#00dcff,#00efff,#00ffff,#00fff3,#00ffea,#00ffe3,#00ffdc,#00ffd7,#00ffd3,#00ffd0,#00ffcc,#00ffc9,#00ffc5,#00ffc0,#00ffb8,#00ffac,#00ffab,#00ffa0,#00ff8b,#00ff85,#00ff85,#00ff83,#00ff75,#00ff6b,#00ff5f,#00ff59,#00ff5e,#00ff6b)"></div>
<div style="background:linear-gradient(90deg,#00ff39,#00ff51,#00ff50,#00ff4d,#00ff51,#00ff69,#00ff6f,#00ff6f,#00ff6f,#00ff6f,#00ff6f,#00ff6f,#00ff75,#00ff93,#00ff99,#00ff99,#00ff99,#00ff99,#00ff99,#00ff99,#00ff9e,#00ffb5,#00ffb9,#00ffb9,#00ffb9,#00ffb9,#00ffb9,#00ffb9,#00ffb9,#00ffb9,#00ffb9,#00ffb9,#00ffb9,#00ffbb,#00ffc3,#00ffc7,#00ffc8,#00ffc8,#00ffc8,#00ffc8,#00ffc9,#00ffc9,#00ffc9,#00ffc9,#00ffca,#00ffcd,#00ffcf,#00ffd0,#00ffd0,#00ffd1,#00ffd1,#00ffd2,#00ffd3,#00ffd5,#00ffd7,#00ffd8,#00ffd9,#00ffdb,#00ffdd,#00ffe0,#00ffe3,#00ffe7,#00ffec,#00fff2,#00fff9,#00fcff,#00f1ff,#00e3ff,#00d1ff,#00baff,#009bff,#0086ff,#0083ff,#0083ff,#0085ff,#0074ff,#005bff,#0041ff,#0023ff,#0006ff,#0900fa,#1500f3,#1900f1,#2000ed,#2300eb,#2400ea,#2700e8,#2b00e4,#2c00e2,#2d00e0,#3100da,#3400d5,#3900cf,#3d00c8,#4200c1,#4700ba,#4900b4,#4900b1,#4900af,#4a00ad,#4a00ab,#4a00aa,#4a00aa,#4a00aa,#4a00aa,#4a00a9,#4a00a9,#4a00a9,#4a00a9,#4a00a9,#4b00a8,#4b00a5,#4d009b,#4f008d,#500081,#4f007b,#4f0078,#4f0077,#4f0077,#4f0077,#4f0075,#4f0075,#4f0075,#4f0076,#4f0077,#4f0079,#4f007b,#4f007d,#500082,#500088,#4e0095,#4c00a0,#4b00a7,#4a00a9,#4a00ab,#4a00ab,#4a00ab,#4a00aa,#4a00aa,#4a00aa,#4a00a9,#4a00a9,#4a00a9,#4a00a9,#4a00a9,#4a00a9,#4a00a9,#4a00a9,#4a00a9,#4a00aa,#4a00aa,#4a00aa,#4a00aa,#4a00aa,#4a00aa,#4a00ab,#4a00ac,#4a00ad,#4900b0,#4900b3,#4600ba,#3b00cc,#2b00e4,#1a00f0,#0100ff,#0020ff,#003aff,#004fff,#005fff,#006bff,#0075ff,#007cff,#0081ff,#0086ff,#00a8ff,#00caff,#00e4ff,#00f8ff,#00fff6,#00ffeb,#00ffe1,#00ffda,#00ffd4,#00ffd0,#00ffcd,#00ffc9,#00ffc4,#00ffbb,#00ffb3,#00ff9c,#00ff8a,#00ff72,#00ff6d,#00ff64,#00ff4c,#00ff41,#00ff40,#00ff3f,#00ff39,#00ff34,#00ff24,#00ff1b,#00ff1f,#00ff28)"></div>
<div style="background:linear-gradient(90deg,#00ff15,#00ff21,#00ff32,#00ff43,#00ff45,#00ff46,#00ff48,#00ff48,#00ff48,#00ff48,#00ff48,#00ff48,#00ff4a,#00ff5c,#00ff60,#00ff5e,#00ff5d,#00ff5c,#00ff5c,#00ff5c,#00ff62,#00ff7f,#00ff85,#00ff85,#00ff85,#00ff85,#00ff85,#00ff85,#00ff85,#00ff85,#00ff85,#00ff85,#00ff85,#00ff8a,#00ffa6,#00ffab,#00ffab,#00ffab,#00ffab,#00ffab,#00ffab,#00ffab,#00ffac,#00ffac,#00ffaf,#00ffbf,#00ffc1,#00ffc1,#00ffc2,#00ffc2,#00ffc2,#00ffc2,#00ffc6,#00ffcb,#00ffcc,#00ffcd,#00ffce,#00ffd0,#00ffd3,#00ffd5,#00ffd8,#00ffdc,#00ffe2,#00ffe8,#00fff0,#00fffa,#00f8ff,#00e7ff,#00d2ff,#00b5ff,#0090ff,#0083ff,#0082ff,#0080ff,#0079ff,#0069ff,#004fff,#0030ff,#0008ff,#1100f5,#1c00ef,#2400ea,#2800e8,#2c00e2,#2f00de,#3000dc,#3200d9,#3500d5,#3700d2,#3800d0,#3b00cb,#3e00c6,#4200c1,#4600bc,#4800b7,#4900b3,#4900b0,#4a00ae,#4a00ac,#4a00ab,#4a00aa,#4a00aa,#4a00aa,#4a00a9,#4a00a9,#4a00a9,#4a00a9,#4a00a9,#4a00a9,#4a00a9,#4b00a8,#4b00a6,#4c009f,#4e0095,#4f008b,#500085,#500080,#500080,#500080,#50007f,#4f007c,#4f007a,#4f007b,#50007f,#500080,#500082,#500089,#4f008a,#4e0090,#4e0096,#4c009d,#4b00a5,#4a00aa,#4a00ac,#4a00ad,#4a00ad,#4a00ad,#4a00ac,#4a00ab,#4a00aa,#4a00a9,#4a00a9,#4a00a9,#4a00a9,#4a00a9,#4a00a9,#4a00a9,#4a00a9,#4a00a9,#4a00a9,#4a00a9,#4a00a9,#4a00aa,#4a00aa,#4a00aa,#4a00aa,#4a00aa,#4a00ab,#4a00ae,#4900b2,#4700ba,#3d00c8,#2c00e1,#1d00ef,#0300fd,#001eff,#0039ff,#004fff,#005fff,#006cff,#0076ff,#007dff,#0081ff,#0089ff,#00afff,#00d2ff,#00edff,#00fffc,#00ffec,#00ffe1,#00ffd8,#00ffd2,#00ffcd,#00ffc9,#00ffc4,#00ffbc,#00ffab,#00ff90,#00ff7a,#00ff5c,#00ff47,#00ff2e,#00ff2a,#00ff25,#00ff14,#00ff05,#00ff04,#00ff04,#00ff05,#00ff06,#00ff03,#00ff02,#00ff07,#00ff0c)"></div>
<div style="background:linear-gradient(90deg,#00ff08,#00ff0a,#00ff31,#00ff4b,#00ff5b,#00ff5d,#00ff5d,#00ff5d,#00ff5d,#00ff5d,#00ff5d,#00ff5d,#00ff5d,#00ff60,#00ff5f,#00ff4f,#00ff47,#00ff45,#00ff46,#00ff44,#00ff44,#00ff4a,#00ff4c,#00ff4c,#00ff4c,#00ff4c,#00ff4c,#00ff4c,#00ff4c,#00ff4c,#00ff4c,#00ff4c,#00ff4d,#00ff51,#00ff69,#00ff6e,#00ff6f,#00ff6f,#00ff6f,#00ff6f,#00ff70,#00ff70,#00ff70,#00ff70,#00ff79,#00ffa0,#00ff9b,#00ff99,#00ff99,#00ff99,#00ff99,#00ff9b,#00ffac,#00ffb8,#00ffb9,#00ffb9,#00ffbb,#00ffc5,#00ffc8,#00ffca,#00ffce,#00ffd2,#00ffd7,#00ffde,#00ffe6,#00fff1,#00ffff,#00edff,#00d4ff,#00b2ff,#008bff,#0083ff,#0081ff,#007bff,#0072ff,#0060ff,#0045ff,#0020ff,#0c00f8,#1e00ee,#2800e8,#2e00df,#3200d8,#3600d3,#3900cf,#3a00cd,#3c00ca,#3f00c6,#4000c4,#4200c1,#4400be,#4700ba,#4800b7,#4900b4,#4900b2,#4900b0,#4a00ae,#4a00ac,#4a00ab,#4a00aa,#4a00aa,#4a00a9,#4a00a9,#4a00a9,#4a00a9,#4a00a9,#4a00a9,#4a00a9,#4a00a9,#4a00a9,#4b00a8,#4b00a7,#4b00a3,#4c009d,#4d009a,#4e0096,#4e0093,#4e0093,#4e0093,#4e0091,#500089,#500087,#500087,#4f008f,#4e0093,#4e0096,#4c009f,#4c00a1,#4b00a4,#4b00a6,#4b00a6,#4a00aa,#4a00ae,#4900b0,#4900b0,#4900b0,#4900b0,#4a00ae,#4a00ac,#4a00aa,#4a00aa,#4a00a9,#4a00a9,#4a00a9,#4a00a9,#4a00a9,#4a00a9,#4a00a9,#4a00a9,#4a00a9,#4a00a9,#4a00a9,#4a00a9,#4a00a9,#4a00a9,#4a00aa,#4a00aa,#4a00ab,#4a00ad,#4900b2,#4700ba,#3d00c8,#2c00e1,#1d00ee,#0300fd,#001eff,#003aff,#0050ff,#0061ff,#006dff,#0077ff,#007eff,#0082ff,#008fff,#00b9ff,#00ddff,#00f9ff,#00fff0,#00ffe2,#00ffd8,#00ffd1,#00ffcb,#00ffc5,#00ffbd,#00ffb1,#00ff90,#00ff6e,#00ff4b,#00ff34,#00ff15,#00ff0b,#0dff00,#14ff00,#15ff00,#1aff00,#28ff00,#29ff00,#26ff00,#21ff00,#19ff00,#0fff00,#04ff00,#00ff05,#00ff07)"></div>
<div style="background:linear-gradient(90deg,#00ff0a,#00ff18,#00ff59,#00ff7d,#00ff99,#00ff9b,#00ff9b,#00ff9b,#00ff9c,#00ff9c,#00ff9c,#00ff9b,#00ff9b,#00ff9b,#00ff98,#00ff7e,#00ff6e,#00ff58,#00ff4d,#00ff45,#00ff43,#00ff42,#00ff41,#00ff42,#00ff41,#00ff40,#00ff40,#00ff40,#00ff40,#00ff40,#00ff41,#00ff42,#00ff43,#00ff42,#00ff44,#00ff46,#00ff47,#00ff48,#00ff4a,#00ff55,#00ff58,#00ff58,#00ff58,#00ff58,#00ff60,#00ff7f,#00ff63,#00ff61,#00ff60,#00ff5e,#00ff5d,#00ff5e,#00ff76,#00ff84,#00ff85,#00ff85,#00ff8a,#00ffa6,#00ffac,#00ffb3,#00ffc2,#00ffc6,#00ffcc,#00ffd4,#00ffdc,#00ffe8,#00fff7,#00f4ff,#00d9ff,#00b3ff,#0088ff,#0082ff,#007fff,#0078ff,#006cff,#0059ff,#003dff,#0013ff,#1600f2,#2500e9,#3000dd,#3700d1,#3c00ca,#3f00c5,#4200c1,#4300bf,#4500bd,#4700ba,#4800b8,#4800b7,#4900b5,#4900b3,#4900b1,#4900b0,#4a00af,#4a00ad,#4a00ac,#4a00aa,#4a00aa,#4a00aa,#4a00a9,#4a00a9,#4a00a9,#4a00a9,#4a00a9,#4a00a9,#4a00a9,#4a00a9,#4a00a9,#4a00a9,#4a00a9,#4b00a8,#4b00a6,#4b00a5,#4a00ab,#4900b0,#4a00af,#4a00af,#4a00ae,#4a00ac,#4b00a4,#4c00a2,#4b00a3,#4a00aa,#4a00ae,#4900b2,#4800b9,#4800b8,#4700b9,#4800b6,#4a00ae,#4900b0,#4900b4,#4900b4,#4900b5,#4900b5,#4900b4,#4900b2,#4a00ae,#4a00ab,#4a00aa,#4a00a9,#4a00a9,#4a00a9,#4a00a9,#4a00a9,#4a00a9,#4a00a9,#4a00a9,#4a00a9,#4a00a9,#4a00a9,#4a00a9,#4a00a9,#4a00a9,#4a00aa,#4a00aa,#4a00ac,#4a00af,#4900b3,#4700ba,#3b00cc,#2b00e4,#1b00f0,#0200fe,#0020ff,#003cff,#0052ff,#0063ff,#0070ff,#0079ff,#007fff,#0083ff,#009aff,#00c6ff,#00eaff,#00fff8,#00ffe4,#00ffd8,#00ffcf,#00ffc8,#00ffbf,#00ffae,#00ff96,#00ff70,#00ff45,#00ff27,#00ff08,#0fff00,#2eff00,#35ff00,#43ff00,#4cff00,#4dff00,#50ff00,#55ff00,#51ff00,#4cff00,#43ff00,#34ff00,#1fff00,#09ff00,#00ff04,#00ff08)"></div>
<div style="background:linear-gradient(90deg,#00ff29,#00ff5e,#00ffa0,#00ffb7,#00ffcf,#00ffd4,#00ffd7,#00ffd9,#00ffda,#00ffda,#00ffda,#00ffd8,#00ffd6,#00ffd3,#00ffcc,#00ffb6,#00ffae,#00ff93,#00ff84,#00ff6a,#00ff58,#00ff46,#00ff41,#00ff42,#00ff42,#00ff43,#00ff43,#00ff43,#00ff43,#00ff44,#00ff41,#00ff42,#00ff43,#00ff42,#00ff46,#00ff4c,#00ff5b,#00ff5d,#00ff62,#00ff7f,#00ff85,#00ff86,#00ff86,#00ff86,#00ff8b,#00ff8b,#00ff64,#00ff61,#00ff5f,#00ff4e,#00ff45,#00ff46,#00ff47,#00ff4c,#00ff4c,#00ff4c,#00ff50,#00ff69,#00ff6f,#00ff82,#00ffa6,#00ffb5,#00ffbf,#00ffc9,#00ffd2,#00ffde,#00ffed,#00fcff,#00e0ff,#00b7ff,#0089ff,#0082ff,#007eff,#0076ff,#0069ff,#0055ff,#0037ff,#000cff,#1b00ef,#2a00e5,#3600d3,#4000c5,#4400be,#4700b9,#4800b7,#4800b5,#4900b4,#4900b3,#4900b2,#4900b1,#4900b0,#4900b0,#4a00ae,#4a00ad,#4a00ac,#4a00ab,#4a00aa,#4a00aa,#4a00aa,#4a00a9,#4a00a9,#4a00a9,#4a00a9,#4a00a9,#4a00a9,#4a00a9,#4a00a9,#4a00a9,#4a00a9,#4a00a9,#4a00a9,#4b00a8,#4b00a8,#4a00aa,#4700b9,#3e00c7,#3d00c8,#3d00c8,#3e00c8,#3e00c7,#3f00c6,#4000c4,#3f00c5,#3e00c7,#3e00c7,#3c00ca,#3a00cd,#3c00ca,#3d00c9,#4000c4,#4700b9,#4800b8,#4700b9,#4700b9,#4700b9,#4700b9,#4800b8,#4800b5,#4900b0,#4a00ac,#4a00aa,#4a00a9,#4a00a9,#4a00a9,#4a00a9,#4a00a9,#4a00a9,#4a00a9,#4a00a9,#4a00a9,#4a00a9,#4a00a9,#4a00a9,#4a00a9,#4a00a9,#4a00aa,#4a00ab,#4a00ad,#4900b0,#4800b5,#4300bf,#3600d2,#2800e8,#1800f1,#0002ff,#0023ff,#003fff,#0055ff,#0066ff,#0073ff,#007bff,#0081ff,#0087ff,#00a7ff,#00d4ff,#00f9ff,#00ffea,#00ffd9,#00ffcd,#00ffc2,#00ffb1,#00ff90,#00ff6f,#00ff49,#00ff1b,#02ff00,#26ff00,#39ff00,#5dff00,#75ff00,#7aff00,#80ff00,#84ff00,#85ff00,#86ff00,#86ff00,#7bff00,#74ff00,#68ff00,#52ff00,#30ff00,#0fff00,#00ff06,#00ff14)"></div>
<div style="background:linear-gradient(90deg,#00ff6d,#00ffaf,#00ffce,#00ffe3,#00fff7,#00fcff,#00f4ff,#00eeff,#00ecff,#00ecff,#00ecff,#00efff,#00f7ff,#00fdff,#00fff5,#00ffe4,#00ffdb,#00ffc6,#00ffbc,#00ffa5,#00ff95,#00ff74,#00ff62,#00ff4d,#00ff43,#00ff41,#00ff41,#00ff41,#00ff41,#00ff42,#00ff47,#00ff4c,#00ff4e,#00ff62,#00ff6f,#00ff7e,#00ff98,#00ff9b,#00ffa0,#00ffba,#00ffc5,#00ffc6,#00ffc6,#00ffc6,#00ffc5,#00ffb4,#00ff9e,#00ff9b,#00ff98,#00ff7d,#00ff62,#00ff49,#00ff43,#00ff41,#00ff40,#00ff3f,#00ff3e,#00ff41,#00ff43,#00ff54,#00ff7d,#00ff94,#00ffa7,#00ffbb,#00ffc7,#00ffd4,#00ffe2,#00fff7,#00ebff,#00c1ff,#008eff,#0082ff,#007eff,#0076ff,#0068ff,#0053ff,#0035ff,#0009ff,#1d00ee,#2c00e1,#3c00cb,#4500bc,#4800b7,#4900b3,#4900b2,#4900b1,#4900b0,#4900b0,#4900af,#4a00ae,#4a00ae,#4a00ad,#4a00ac,#4a00ab,#4a00aa,#4a00aa,#4a00aa,#4a00aa,#4a00a9,#4a00a9,#4a00a9,#4a00a9,#4a00a9,#4a00a9,#4a00a9,#4a00a9,#4a00a9,#4a00a9,#4a00a9,#4a00a9,#4a00a9,#4a00a9,#4a00a9,#4a00ac,#4300bf,#3700d2,#3600d4,#3500d4,#3600d4,#3500d4,#3300d7,#3400d6,#3400d6,#3500d5,#3700d2,#3600d3,#3700d2,#3800cf,#3900ce,#3c00c9,#4100c3,#4500bd,#4500bc,#4500bc,#4500bc,#4500bc,#4600bb,#4800b8,#4900b1,#4a00ac,#4a00aa,#4a00a9,#4a00a9,#4a00a9,#4a00a9,#4a00a9,#4a00a9,#4a00a9,#4a00a9,#4a00a9,#4a00a9,#4a00a9,#4a00a9,#4a00a9,#4a00aa,#4a00aa,#4a00ac,#4900af,#4900b4,#4500bc,#3d00c9,#3000db,#2300eb,#1400f3,#0007ff,#0027ff,#0043ff,#005aff,#006bff,#0077ff,#007eff,#0083ff,#008fff,#00b6ff,#00e3ff,#00fff4,#00ffdb,#00ffc9,#00ffb3,#00ff97,#00ff6d,#00ff3c,#00ff1f,#12ff00,#3cff00,#5fff00,#81ff00,#8bff00,#a7ff00,#b9ff00,#b9ff00,#b8ff00,#b7ff00,#b6ff00,#b4ff00,#aeff00,#a1ff00,#9cff00,#8dff00,#74ff00,#41ff00,#0fff00,#00ff15,#00ff3d)"></div>
<div style="background:linear-gradient(90deg,#00ffad,#00ffd2,#00ffef,#00f3ff,#00dcff,#00cdff,#00c3ff,#00b6ff,#00b4ff,#00b4ff,#00b4ff,#00b8ff,#00c7ff,#00ceff,#00ddff,#00eeff,#00feff,#00ffee,#00ffdf,#00ffcf,#00ffc5,#00ffb0,#00ff9f,#00ff85,#00ff6a,#00ff5d,#00ff5c,#00ff5c,#00ff5c,#00ff5e,#00ff76,#00ff84,#00ff87,#00ff9f,#00ffae,#00ffb6,#00ffcc,#00ffd4,#00ffda,#00ffe9,#00fffb,#00ffff,#00ffff,#00ffff,#00fffa,#00ffe7,#00ffdd,#00ffd8,#00ffcd,#00ffb5,#00ff9d,#00ff77,#00ff53,#00ff41,#00ff42,#00ff41,#00ff3f,#00ff3d,#00ff3e,#00ff46,#00ff5a,#00ff6e,#00ff84,#00ffa1,#00ffb7,#00ffc8,#00ffd7,#00ffeb,#00f8ff,#00cfff,#0097ff,#0082ff,#007fff,#0076ff,#0069ff,#0054ff,#0036ff,#000aff,#1d00ee,#2d00e0,#3d00c8,#4500bc,#4800b6,#4900b2,#4900b0,#4a00ae,#4a00ae,#4a00ad,#4a00ac,#4a00ac,#4a00ab,#4a00ab,#4a00aa,#4a00aa,#4a00aa,#4a00aa,#4a00a9,#4a00a9,#4a00a9,#4a00a9,#4a00a9,#4a00a9,#4a00a9,#4a00a9,#4a00a9,#4a00a9,#4a00a9,#4a00a9,#4a00a9,#4a00a9,#4a00a9,#4a00a9,#4a00aa,#4a00ae,#4500bc,#3a00cd,#3800cf,#3800d0,#3800d0,#3700d1,#3600d3,#3600d3,#3900cf,#3b00cb,#3d00c8,#3d00c9,#3d00c8,#3e00c6,#3f00c6,#4100c2,#4400bf,#4500bd,#4500bc,#4500bc,#4500bc,#4500bc,#4600bb,#4800b8,#4900b1,#4a00ac,#4a00aa,#4a00a9,#4a00a9,#4a00a9,#4a00a9,#4a00a9,#4a00a9,#4a00a9,#4a00a9,#4a00a9,#4a00a9,#4a00a9,#4a00a9,#4a00a9,#4a00aa,#4a00ab,#4a00ae,#4900b2,#4600bb,#3e00c7,#3500d5,#2a00e6,#1d00ee,#0e00f7,#000cff,#002cff,#0049ff,#0061ff,#0071ff,#007cff,#0082ff,#0088ff,#009cff,#00c4ff,#00f4ff,#00ffdf,#00ffc7,#00ffa1,#00ff69,#00ff38,#00ff05,#29ff00,#4fff00,#91ff00,#a6ff00,#bbff00,#ddff00,#e2ff00,#edff00,#f4ff00,#efff00,#e8ff00,#e1ff00,#dbff00,#d4ff00,#c9ff00,#c0ff00,#bcff00,#aeff00,#98ff00,#54ff00,#0aff00,#00ff42,#00ff83)"></div>
<div style="background:linear-gradient(90deg,#00ffc9,#00ffe9,#00edff,#00c7ff,#00b0ff,#009fff,#0097ff,#008aff,#0089ff,#0089ff,#0089ff,#008dff,#009bff,#00a0ff,#00b0ff,#00c2ff,#00d7ff,#00ebff,#00fdff,#00fff1,#00ffe4,#00ffd7,#00ffc9,#00ffbd,#00ffa5,#00ff9b,#00ff9a,#00ff9a,#00ff9a,#00ff9c,#00ffb0,#00ffbd,#00ffc0,#00ffcc,#00ffdb,#00ffe3,#00fff4,#00faff,#00edff,#00ddff,#00cbff,#00c7ff,#00c7ff,#00c7ff,#00cbff,#00d5ff,#00e4ff,#00f1ff,#00fff7,#00ffdc,#00ffc6,#00ffaf,#00ff89,#00ff56,#00ff40,#00ff3d,#00ff3f,#00ff3c,#00ff3d,#00ff3f,#00ff45,#00ff4f,#00ff61,#00ff7c,#00ff99,#00ffb7,#00ffca,#00ffdc,#00fff6,#00e2ff,#00a9ff,#0085ff,#007fff,#0079ff,#006cff,#0058ff,#003aff,#000fff,#1a00f0,#2c00e2,#3b00cb,#4600bb,#4800b5,#4900b1,#4a00ae,#4a00ad,#4a00ac,#4a00ab,#4a00ab,#4a00aa,#4a00aa,#4a00aa,#4a00aa,#4a00aa,#4a00a9,#4a00a9,#4a00a9,#4a00a9,#4a00a9,#4a00a9,#4a00a9,#4a00a9,#4a00a9,#4a00a9,#4a00a9,#4a00a9,#4a00a9,#4a00a9,#4a00a9,#4a00a9,#4b00a8,#4b00a8,#4a00a9,#4a00ad,#4800b7,#4300c0,#4100c3,#4100c3,#4100c3,#4000c4,#4000c4,#4100c3,#4500bd,#4800b8,#4800b8,#4800b8,#4700ba,#4600bb,#4600bb,#4600bb,#4700ba,#4700ba,#4700b9,#4700b9,#4700b9,#4700b9,#4800b9,#4800b6,#4900b0,#4a00ac,#4a00aa,#4a00a9,#4a00a9,#4a00a9,#4a00a9,#4a00a9,#4a00a9,#4a00a9,#4a00a9,#4a00a9,#4a00a9,#4a00a9,#4a00a9,#4a00a9,#4a00aa,#4a00ac,#4900b0,#4800b7,#3f00c5,#3500d4,#2c00e2,#2200ec,#1800f1,#0900fa,#0012ff,#0032ff,#0051ff,#006aff,#0079ff,#0081ff,#0086ff,#008fff,#00a7ff,#00d0ff,#00fff8,#00ffc6,#00ff99,#00ff42,#10ff00,#49ff00,#8fff00,#dcff00,#f3ff00,#ffe600,#ffdd00,#ffda00,#ffcb00,#ffc900,#ffca00,#ffd700,#ffe000,#ffec00,#fff600,#fdff00,#f1ff00,#e5ff00,#dbff00,#d3ff00,#c6ff00,#b2ff00,#66ff00,#00ff00,#00ff77,#00ffb4)"></div>
<div style="background:linear-gradient(90deg,#00ffd8,#00fffc,#00c8ff,#009dff,#008dff,#0082ff,#007fff,#0078ff,#0077ff,#0076ff,#0077ff,#007bff,#0080ff,#0083ff,#008dff,#009aff,#00afff,#00c6ff,#00dcff,#00eeff,#00fdff,#00fff3,#00ffe6,#00ffdc,#00ffcf,#00ffcb,#00ffca,#00ffca,#00ffcb,#00ffcc,#00ffd4,#00ffdf,#00ffe5,#00ffef,#00fffe,#00f2ff,#00e0ff,#00cbff,#00b7ff,#00a9ff,#0096ff,#0094ff,#0094ff,#0094ff,#0095ff,#0099ff,#00abff,#00baff,#00d9ff,#00ffff,#00ffe2,#00ffcd,#00ffb7,#00ff8d,#00ff5c,#00ff3f,#00ff3d,#00ff3c,#00ff3b,#00ff3c,#00ff3f,#00ff42,#00ff49,#00ff5b,#00ff76,#00ff9a,#00ffbb,#00ffcd,#00ffe3,#00f8ff,#00c4ff,#008bff,#0081ff,#007bff,#0070ff,#005eff,#0042ff,#001aff,#1200f4,#2900e7,#3700d2,#4300bf,#4800b6,#4900b2,#4900b0,#4a00ad,#4a00ac,#4a00ab,#4a00aa,#4a00aa,#4a00aa,#4a00aa,#4a00a9,#4a00a9,#4a00a9,#4a00a9,#4a00a9,#4a00a9,#4a00a9,#4a00a9,#4a00a9,#4a00a9,#4a00a9,#4a00a9,#4a00a9,#4a00a9,#4a00a9,#4a00a9,#4b00a8,#4b00a8,#4b00a7,#4b00a7,#4b00a8,#4a00ab,#4900b0,#4800b5,#4800b6,#4800b6,#4800b5,#4800b5,#4900b4,#4900b2,#4900b0,#4a00ae,#4a00ae,#4a00af,#4900b1,#4900b2,#4900b4,#4900b5,#4900b5,#4900b5,#4900b5,#4900b5,#4900b5,#4900b5,#4900b4,#4900b2,#4a00ae,#4a00ab,#4a00aa,#4a00a9,#4a00a9,#4a00a9,#4a00a9,#4a00a9,#4a00a9,#4a00a9,#4a00a9,#4a00a9,#4a00a9,#4a00a9,#4a00a9,#4a00a9,#4a00aa,#4a00ad,#4900b2,#4300bf,#3700d2,#2b00e3,#2200eb,#1c00ef,#1400f4,#0400fd,#0017ff,#0037ff,#005bff,#0075ff,#0081ff,#0085ff,#0089ff,#0095ff,#00aeff,#00d8ff,#00ffe5,#00ffa8,#00ff3a,#4cff00,#9fff00,#fff800,#ffd000,#ff8000,#ff5c00,#ff6100,#ff6700,#ff6900,#ff6e00,#ff7600,#ff8600,#ffa400,#ffb400,#ffc500,#ffd500,#ffe400,#fff200,#fffe00,#f5ff00,#eaff00,#dbff00,#c4ff00,#79ff00,#00ff0e,#00ff96,#00ffc8)"></div>
<div style="background:linear-gradient(90deg,#00ffe1,#00edff,#00a6ff,#0086ff,#007dff,#0076ff,#0071ff,#006dff,#006bff,#006bff,#006cff,#006fff,#0072ff,#0076ff,#007bff,#0083ff,#008eff,#00a2ff,#00baff,#00ceff,#00e0ff,#00efff,#00fcff,#00fff7,#00ffed,#00ffe9,#00ffe7,#00ffe7,#00ffe9,#00ffec,#00fff2,#00fffb,#00faff,#00edff,#00ddff,#00c9ff,#00b4ff,#009fff,#008dff,#0086ff,#007eff,#007bff,#007bff,#007bff,#007bff,#007dff,#0087ff,#008eff,#00acff,#00ddff,#00fffb,#00ffe1,#00ffce,#00ffb9,#00ff96,#00ff54,#00ff3c,#00ff3b,#00ff39,#00ff3a,#00ff3c,#00ff3f,#00ff41,#00ff46,#00ff58,#00ff79,#00ffa1,#00ffbc,#00ffcd,#00ffeb,#00e4ff,#00a4ff,#0087ff,#007eff,#0075ff,#0065ff,#004dff,#0029ff,#0600fb,#2200eb,#3100db,#3c00c9,#4500bc,#4800b5,#4900b2,#4900b0,#4a00ad,#4a00ac,#4a00ab,#4a00aa,#4a00aa,#4a00aa,#4a00a9,#4a00a9,#4a00a9,#4a00a9,#4a00a9,#4a00a9,#4a00a9,#4a00a9,#4a00a9,#4a00a9,#4a00a9,#4a00a9,#4a00a9,#4a00a9,#4b00a9,#4b00a8,#4b00a7,#4b00a6,#4b00a6,#4b00a6,#4b00a6,#4b00a7,#4a00aa,#4a00ac,#4a00ac,#4a00ab,#4a00ab,#4a00aa,#4a00aa,#4b00a7,#4b00a5,#4b00a5,#4b00a5,#4b00a6,#4b00a8,#4a00aa,#4a00ac,#4a00ae,#4900af,#4900b0,#4900b0,#4900b0,#4900b0,#4900b0,#4900b0,#4a00af,#4a00ac,#4a00aa,#4a00aa,#4a00a9,#4a00a9,#4a00a9,#4a00a9,#4a00a9,#4a00a9,#4a00a9,#4a00a9,#4a00a9,#4a00a9,#4a00a9,#4a00a9,#4a00aa,#4a00aa,#4a00ae,#4800b5,#3d00c8,#2d00e0,#2100ec,#1c00ef,#1800f1,#1000f6,#0100fe,#001aff,#003dff,#0067ff,#0080ff,#0085ff,#0086ff,#008bff,#0097ff,#00afff,#00daff,#00ffda,#00ff90,#13ff00,#afff00,#fff400,#ffa600,#ff5f00,#ff2800,#ff2800,#ff2800,#ff2800,#ff2800,#ff2800,#ff2800,#ff3a00,#ff5d00,#ff7f00,#ff9e00,#ffb400,#ffc800,#ffd900,#ffe600,#fff200,#fffc00,#f2ff00,#d6ff00,#8fff00,#00ff13,#00ff9e,#00ffce)"></div>
<div style="background:linear-gradient(90deg,#00ffe6,#00daff,#008fff,#007eff,#0075ff,#006cff,#0066ff,#0062ff,#0060ff,#005fff,#0061ff,#0063ff,#0066ff,#006aff,#006fff,#0076ff,#007dff,#0088ff,#009aff,#00afff,#00c3ff,#00d3ff,#00e1ff,#00edff,#00f6ff,#00fbff,#00fdff,#00fdff,#00faff,#00f6ff,#00efff,#00e6ff,#00daff,#00cbff,#00b9ff,#00a2ff,#0090ff,#0083ff,#007cff,#0076ff,#0072ff,#006fff,#006eff,#006eff,#0070ff,#0073ff,#0079ff,#0080ff,#008eff,#00bdff,#00ecff,#00fff3,#00ffdc,#00ffcc,#00ffbc,#00ff80,#00ff3f,#00ff3c,#00ff39,#00ff38,#00ff39,#00ff3b,#00ff3d,#00ff41,#00ff46,#00ff5a,#00ff7e,#00ffa0,#00ffb7,#00ffcf,#00fff6,#00d4ff,#00a2ff,#0086ff,#007cff,#006eff,#005aff,#003bff,#000dff,#1a00f0,#2a00e5,#3500d5,#3e00c7,#4500bd,#4800b6,#4900b2,#4900b0,#4a00ae,#4a00ac,#4a00ab,#4a00aa,#4a00aa,#4a00aa,#4a00a9,#4a00a9,#4a00a9,#4a00a9,#4a00a9,#4a00a9,#4a00a9,#4a00a9,#4a00a9,#4a00a9,#4a00a9,#4a00a9,#4b00a9,#4b00a8,#4b00a7,#4b00a6,#4b00a5,#4b00a4,#4b00a3,#4c00a3,#4b00a3,#4b00a4,#4b00a4,#4b00a3,#4c00a2,#4c00a1,#4c00a1,#4c00a0,#4c009e,#4d009c,#4d009b,#4d009c,#4c009e,#4c00a0,#4b00a3,#4b00a6,#4b00a9,#4a00ab,#4a00ac,#4a00ad,#4a00ad,#4a00ad,#4a00ad,#4a00ad,#4a00ac,#4a00ab,#4a00aa,#4a00aa,#4a00a9,#4a00a9,#4a00a9,#4a00a9,#4a00a9,#4a00a9,#4a00a9,#4a00a9,#4a00a9,#4a00a9,#4a00a9,#4a00a9,#4a00aa,#4a00ab,#4a00ae,#4700b9,#3700d1,#2400ea,#1c00ef,#1b00f0,#1600f2,#0e00f7,#0001ff,#001cff,#0040ff,#0072ff,#0084ff,#0085ff,#0087ff,#008bff,#0097ff,#00acff,#00d4ff,#00ffe2,#00ff91,#1aff00,#bcff00,#ffda00,#ff9e00,#ff5300,#ff2800,#ff2800,#ff2800,#ff2800,#ff2800,#ff2800,#ff2800,#ff2800,#ff2800,#ff3800,#ff6700,#ff9000,#ffae00,#ffc200,#ffd100,#ffdc00,#ffe600,#fff400,#edff00,#a6ff00,#00ff0c,#00ff9d,#00ffd1)"></div>
<div style="background:linear-gradient(90deg,#00ffe6,#00cdff,#0086ff,#007aff,#006eff,#0062ff,#005bff,#0056ff,#0054ff,#0054ff,#0055ff,#0058ff,#005bff,#005fff,#0064ff,#006aff,#0071ff,#007aff,#0084ff,#0093ff,#00a6ff,#00b7ff,#00c6ff,#00d2ff,#00dbff,#00e0ff,#00e3ff,#00e2ff,#00dfff,#00daff,#00d2ff,#00c8ff,#00bbff,#00abff,#0098ff,#0088ff,#007dff,#0076ff,#0070ff,#006bff,#0067ff,#0064ff,#0063ff,#0063ff,#0064ff,#0069ff,#0070ff,#007aff,#0083ff,#00a3ff,#00d8ff,#00fcff,#00ffe9,#00ffd7,#00ffc8,#00ffa8,#00ff4d,#00ff3d,#00ff3a,#00ff37,#00ff36,#00ff38,#00ff3a,#00ff3d,#00ff41,#00ff47,#00ff5d,#00ff7b,#00ff98,#00ffb4,#00ffd0,#00fff8,#00d4ff,#00a5ff,#008bff,#007aff,#0069ff,#004fff,#0027ff,#0a00f9,#2000ec,#2c00e2,#3500d5,#3d00c9,#4300bf,#4800b8,#4900b3,#4900b1,#4a00af,#4a00ad,#4a00ab,#4a00ab,#4a00aa,#4a00aa,#4a00aa,#4a00a9,#4a00a9,#4a00a9,#4a00a9,#4a00a9,#4a00a9,#4a00a9,#4a00a9,#4a00a9,#4a00a9,#4b00a8,#4b00a6,#4b00a5,#4b00a4,#4c00a2,#4c00a0,#4c009e,#4c009d,#4c009c,#4c009c,#4d009c,#4d009a,#4d0099,#4d0098,#4d0098,#4d0097,#4e0095,#4e0093,#4e0093,#4e0093,#4e0095,#4d0098,#4d009b,#4c00a0,#4b00a5,#4b00a7,#4a00a9,#4a00aa,#4a00ab,#4a00ab,#4a00ab,#4a00ab,#4a00ab,#4a00aa,#4a00aa,#4a00aa,#4a00aa,#4a00aa,#4a00a9,#4a00a9,#4a00a9,#4a00a9,#4a00a9,#4a00a9,#4a00a9,#4a00a9,#4a00a9,#4a00a9,#4a00aa,#4a00ab,#4a00af,#4500bc,#3200d9,#1e00ee,#1c00ef,#1a00f0,#1600f3,#0d00f8,#0001ff,#001cff,#0040ff,#0074ff,#0085ff,#0085ff,#0086ff,#008aff,#0093ff,#00a5ff,#00c6ff,#00fff9,#00ffab,#00ff18,#86ff00,#f5ff00,#ffc700,#ff9000,#ff4d00,#ff2800,#ff2800,#ff2800,#ff2800,#ff2800,#ff2800,#ff2800,#ff2800,#ff2800,#ff2800,#ff5500,#ff8a00,#ffaa00,#ffbd00,#ffc700,#ffce00,#ffd900,#fff200,#c2ff00,#12ff00,#00ff98,#00ffcf)"></div>
<div style="background:linear-gradient(90deg,#00ffdc,#00caff,#0082ff,#0077ff,#0067ff,#0058ff,#0051ff,#004dff,#004cff,#004cff,#004cff,#004eff,#0050ff,#0054ff,#0059ff,#005fff,#0066ff,#006eff,#0078ff,#0081ff,#008dff,#009cff,#00abff,#00b8ff,#00c0ff,#00c6ff,#00c9ff,#00c7ff,#00c3ff,#00beff,#00b5ff,#00abff,#009eff,#008fff,#0083ff,#007bff,#0072ff,#006aff,#0064ff,#005fff,#005bff,#0058ff,#0057ff,#0057ff,#0059ff,#005eff,#0068ff,#0075ff,#007fff,#0095ff,#00c9ff,#00eeff,#00fff5,#00ffe0,#00ffcf,#00ffbb,#00ff6a,#00ff41,#00ff3b,#00ff37,#00ff35,#00ff36,#00ff37,#00ff3a,#00ff3d,#00ff40,#00ff48,#00ff5a,#00ff74,#00ff91,#00ffae,#00ffcc,#00fff2,#00dfff,#00b4ff,#008eff,#007cff,#0067ff,#0045ff,#0016ff,#1100f5,#2200ec,#2c00e2,#3400d7,#3b00cc,#4100c2,#4700ba,#4900b4,#4900b2,#4900b0,#4a00ae,#4a00ac,#4a00ab,#4a00aa,#4a00aa,#4a00aa,#4a00aa,#4a00a9,#4a00a9,#4a00a9,#4a00a9,#4a00a9,#4a00a9,#4a00a9,#4b00a8,#4b00a7,#4b00a5,#4c00a2,#4c009f,#4d009c,#4d0099,#4d0097,#4e0095,#4e0095,#4e0095,#4e0094,#4e0092,#4f0090,#4f008f,#4f008f,#4f008f,#4f008d,#4f008a,#4f008a,#4f008a,#4f008d,#4f0090,#4e0094,#4d0099,#4c00a0,#4b00a5,#4b00a7,#4a00a9,#4a00aa,#4a00aa,#4a00aa,#4a00aa,#4a00aa,#4a00aa,#4a00ab,#4a00ab,#4a00aa,#4a00aa,#4a00aa,#4a00aa,#4a00aa,#4a00aa,#4a00a9,#4a00a9,#4a00a9,#4a00a9,#4a00a9,#4a00a9,#4a00aa,#4a00ab,#4900af,#4500bd,#2f00dd,#1d00ef,#1c00ef,#1a00f0,#1600f3,#0d00f7,#0000ff,#0019ff,#003cff,#006cff,#0082ff,#0085ff,#0085ff,#0088ff,#008eff,#009aff,#00b1ff,#00e1ff,#00ffd5,#00ff78,#00ff03,#8dff00,#c1ff00,#ffe700,#ffb800,#ff8a00,#ff5500,#ff2f00,#ff2800,#ff2800,#ff2800,#ff2800,#ff2800,#ff2800,#ff2800,#ff2800,#ff4900,#ff8a00,#ffaa00,#ffb300,#ffb700,#ffbc00,#ffcb00,#f3ff00,#50ff00,#00ff85,#00ffc3)"></div>
<div style="background:linear-gradient(90deg,#00ffbf,#00d2ff,#0081ff,#0075ff,#0062ff,#0052ff,#004cff,#0049ff,#0048ff,#0048ff,#0048ff,#0048ff,#004aff,#004cff,#004fff,#0054ff,#005bff,#0063ff,#006cff,#0075ff,#007fff,#0087ff,#0093ff,#009fff,#00a5ff,#00adff,#00b0ff,#00aeff,#00a7ff,#00a3ff,#0099ff,#0092ff,#0087ff,#007fff,#0077ff,#006eff,#0066ff,#005fff,#0059ff,#0054ff,#0051ff,#004fff,#004eff,#004eff,#0050ff,#0054ff,#0060ff,#0071ff,#007eff,#0090ff,#00bfff,#00e2ff,#00fdff,#00ffea,#00ffd6,#00ffc4,#00ff8b,#00ff4d,#00ff3d,#00ff38,#00ff35,#00ff35,#00ff36,#00ff37,#00ff3a,#00ff3d,#00ff40,#00ff46,#00ff56,#00ff6e,#00ff8c,#00ffac,#00ffc3,#00ffe3,#00f1ff,#00c1ff,#009bff,#0081ff,#0067ff,#003fff,#0010ff,#1200f5,#2000ec,#2a00e5,#3200da,#3800cf,#3f00c6,#4500bd,#4800b6,#4900b3,#4900b1,#4a00af,#4a00ad,#4a00ac,#4a00ab,#4a00aa,#4a00aa,#4a00aa,#4a00a9,#4a00a9,#4a00a9,#4a00a9,#4a00a9,#4b00a9,#4b00a7,#4b00a6,#4c00a2,#4c009d,#4d0098,#4e0094,#4e0091,#4f008f,#4f008d,#4f008d,#4f008c,#4f008c,#4f008a,#500088,#500087,#500087,#500087,#500085,#500082,#500081,#500082,#500085,#500088,#4f008b,#4e0092,#4d009a,#4c00a2,#4b00a6,#4b00a8,#4a00a9,#4a00a9,#4a00aa,#4a00aa,#4a00aa,#4a00ab,#4a00ac,#4a00ac,#4a00ac,#4a00ab,#4a00aa,#4a00aa,#4a00aa,#4a00aa,#4a00aa,#4a00aa,#4a00a9,#4a00a9,#4a00a9,#4a00a9,#4a00aa,#4a00ab,#4a00af,#4500bc,#3100da,#1e00ee,#1c00ef,#1a00f0,#1600f2,#0f00f6,#0300fd,#0014ff,#0034ff,#005bff,#0075ff,#007fff,#0081ff,#0085ff,#0088ff,#008cff,#0096ff,#00b6ff,#00e6ff,#00ffde,#00ffac,#00ff37,#0bff00,#7eff00,#dfff00,#ffe800,#ffb300,#ff8a00,#ff5d00,#ff2b00,#ff2800,#ff2800,#ff2800,#ff2800,#ff2800,#ff2800,#ff2800,#ff4e00,#ff8e00,#ff9e00,#ffa100,#ffa200,#ffa600,#ffce00,#adff00,#00ff45,#00ff96)"></div>
<div style="background:linear-gradient(90deg,#00ff90,#00e6ff,#0082ff,#0074ff,#005fff,#0051ff,#004aff,#0046ff,#0044ff,#0044ff,#0044ff,#0045ff,#0046ff,#0048ff,#0049ff,#004cff,#0051ff,#0058ff,#0060ff,#0069ff,#0072ff,#007bff,#0082ff,#0089ff,#008dff,#0096ff,#0098ff,#0096ff,#008eff,#008bff,#0085ff,#007fff,#0078ff,#0072ff,#006bff,#0063ff,#005bff,#0054ff,#004fff,#004cff,#004aff,#0049ff,#0049ff,#0049ff,#004bff,#0050ff,#005aff,#006dff,#007dff,#008fff,#00b7ff,#00d8ff,#00f3ff,#00fff3,#00ffde,#00ffca,#00ffa3,#00ff5c,#00ff40,#00ff3a,#00ff36,#00ff35,#00ff35,#00ff35,#00ff37,#00ff3a,#00ff3d,#00ff40,#00ff45,#00ff51,#00ff69,#00ff87,#00ffa1,#00ffb9,#00ffd3,#00fffa,#00d7ff,#00acff,#008aff,#0067ff,#003fff,#0012ff,#0c00f8,#1d00ef,#2800e8,#2f00de,#3600d4,#3d00c9,#4300c0,#4800b9,#4900b4,#4900b2,#4900b0,#4a00ae,#4a00ad,#4a00ab,#4a00ab,#4a00aa,#4a00aa,#4a00a9,#4a00a9,#4a00a9,#4a00a9,#4b00a8,#4b00a6,#4b00a3,#4c009d,#4e0096,#4e0090,#4f008c,#50008a,#500087,#500084,#500084,#500084,#500084,#500082,#50007f,#50007e,#50007e,#50007e,#4f007d,#4f007b,#4f007a,#4f007b,#4f007e,#50007f,#500083,#50008a,#4e0094,#4c009e,#4b00a5,#4b00a7,#4a00a9,#4a00a9,#4a00a9,#4a00aa,#4a00aa,#4a00ac,#4a00ae,#4900af,#4a00af,#4a00ad,#4a00ac,#4a00ab,#4a00ab,#4a00ab,#4a00aa,#4a00aa,#4a00aa,#4a00a9,#4a00a9,#4a00a9,#4a00aa,#4a00ab,#4a00ae,#4700b9,#3700d2,#2500ea,#1e00ee,#1b00ef,#1800f1,#1200f5,#0600fb,#000eff,#002aff,#004aff,#0063ff,#0070ff,#0076ff,#007cff,#007eff,#007fff,#0082ff,#008fff,#009dff,#00bbff,#00deff,#00ffe9,#00ff98,#00ff3d,#3bff00,#aaff00,#f9ff00,#ffcb00,#ffa100,#ff7a00,#ff4900,#ff2800,#ff2800,#ff2800,#ff2800,#ff2800,#ff2800,#ff2800,#ff6100,#ff8700,#ff9100,#ff9100,#ff9300,#ffa200,#ffed00,#2dff00,#00ff3e)"></div>
<div style="background:linear-gradient(90deg,#00ff5d,#00fff6,#0089ff,#0074ff,#005fff,#004fff,#0048ff,#0044ff,#0042ff,#0042ff,#0042ff,#0042ff,#0043ff,#0044ff,#0046ff,#0048ff,#004aff,#004fff,#0056ff,#005eff,#0066ff,#006eff,#0076ff,#007aff,#007dff,#0083ff,#0084ff,#0083ff,#007fff,#007aff,#0077ff,#0071ff,#006cff,#0066ff,#005fff,#0058ff,#0051ff,#004cff,#0049ff,#0048ff,#0046ff,#0045ff,#0045ff,#0045ff,#0048ff,#004eff,#0057ff,#006cff,#007eff,#0091ff,#00b2ff,#00d0ff,#00eaff,#00fffc,#00ffe5,#00ffd0,#00ffb1,#00ff6c,#00ff43,#00ff3b,#00ff36,#00ff35,#00ff35,#00ff35,#00ff35,#00ff37,#00ff39,#00ff3d,#00ff3f,#00ff43,#00ff4f,#00ff64,#00ff7c,#00ff95,#00ffac,#00ffc2,#00ffe6,#00edff,#00bdff,#0090ff,#006dff,#0045ff,#001dff,#0500fc,#1900f0,#2400ea,#2c00e2,#3300d7,#3a00cd,#4000c4,#4500bc,#4800b7,#4900b3,#4900b1,#4900b0,#4a00ae,#4a00ac,#4a00ab,#4a00aa,#4a00aa,#4a00a9,#4a00a9,#4a00a9,#4b00a7,#4b00a5,#4c009f,#4d0097,#4f008e,#500088,#500084,#500081,#50007f,#4f007c,#4f007c,#4f007c,#4f007c,#4f007b,#4f0079,#4f0078,#4f0077,#4f0077,#4f0076,#4f0075,#4f0074,#4f0075,#4f0077,#4f0079,#4f007d,#500083,#4f008e,#4d0099,#4b00a3,#4b00a6,#4b00a8,#4a00a9,#4a00a9,#4a00aa,#4a00ab,#4a00ad,#4900b1,#4900b4,#4900b3,#4900b0,#4a00af,#4a00ae,#4a00ad,#4a00ad,#4a00ac,#4a00ab,#4a00aa,#4a00aa,#4a00a9,#4a00a9,#4a00aa,#4a00ab,#4a00ad,#4800b5,#3e00c8,#3000dd,#2600e9,#1f00ed,#1b00ef,#1600f2,#0c00f8,#0006ff,#0020ff,#003bff,#0052ff,#0060ff,#0068ff,#006fff,#0072ff,#0075ff,#0077ff,#007bff,#007dff,#0085ff,#0091ff,#00aaff,#00ddff,#00ffd5,#00ff76,#00ff02,#87ff00,#eaff00,#ffde00,#ffb300,#ff8f00,#ff5b00,#ff2c00,#ff2800,#ff2800,#ff2800,#ff2800,#ff2800,#ff3f00,#ff7700,#ff8400,#ff8200,#ff8300,#ff8d00,#ffb100,#aeff00,#26ff00)"></div>
<div style="background:linear-gradient(90deg,#00ff05,#00ffc6,#0094ff,#0076ff,#0062ff,#0050ff,#0048ff,#0043ff,#0041ff,#0041ff,#0041ff,#0041ff,#0041ff,#0042ff,#0043ff,#0045ff,#0047ff,#0049ff,#004dff,#0053ff,#005bff,#0062ff,#0069ff,#006dff,#0071ff,#0074ff,#0075ff,#0075ff,#0072ff,#006eff,#006aff,#0065ff,#0060ff,#005aff,#0054ff,#004fff,#004aff,#0048ff,#0046ff,#0044ff,#0043ff,#0042ff,#0042ff,#0043ff,#0046ff,#004cff,#0058ff,#006eff,#0080ff,#0092ff,#00aeff,#00c9ff,#00e2ff,#00faff,#00ffed,#00ffd5,#00ffba,#00ff7c,#00ff47,#00ff3d,#00ff37,#00ff35,#00ff35,#00ff35,#00ff35,#00ff36,#00ff37,#00ff39,#00ff3c,#00ff3f,#00ff42,#00ff4b,#00ff5b,#00ff70,#00ff87,#00ff9b,#00ffb4,#00ffd4,#00faff,#00c0ff,#0096ff,#0075ff,#004fff,#0025ff,#0200fe,#1500f3,#2000ed,#2a00e6,#3100db,#3700d1,#3d00c9,#4200c1,#4600bb,#4800b6,#4900b3,#4900b1,#4a00af,#4a00ad,#4a00ab,#4a00aa,#4a00a9,#4a00a9,#4b00a9,#4b00a7,#4b00a3,#4d009b,#4f0090,#500087,#500080,#4f007d,#4f007a,#4f0078,#4f0076,#4f0076,#4f0075,#4f0075,#4f0074,#4f0073,#4f0072,#4f0071,#4f0071,#4f0070,#4f006f,#4f006f,#4f006f,#4f0071,#4f0073,#4f0077,#50007e,#500088,#4e0094,#4c00a0,#4b00a5,#4b00a8,#4a00a9,#4a00a9,#4a00aa,#4a00ab,#4900af,#4800b5,#4800b9,#4800b8,#4800b5,#4900b3,#4900b1,#4900b0,#4900af,#4a00ae,#4a00ac,#4a00ab,#4a00aa,#4a00aa,#4a00a9,#4a00a9,#4a00aa,#4a00ad,#4900b2,#4400be,#3a00ce,#3100db,#2900e6,#2200ec,#1b00f0,#1200f4,#0300fe,#0016ff,#002fff,#0043ff,#0051ff,#005bff,#0062ff,#0066ff,#006aff,#006dff,#0071ff,#0074ff,#0076ff,#007aff,#0081ff,#008aff,#00aeff,#00edff,#00ffa7,#00ff15,#7eff00,#d6ff00,#ffed00,#ffc200,#ff9900,#ff7100,#ff4600,#ff2800,#ff2800,#ff2800,#ff2800,#ff3a00,#ff7200,#ff7f00,#ff7700,#ff7500,#ff7f00,#ff9a00,#faff00,#81ff00)"></div>
<div style="background:linear-gradient(90deg,#2fff00,#00ff9a,#00adff,#007bff,#0067ff,#0054ff,#004aff,#0044ff,#0042ff,#0041ff,#0040ff,#0040ff,#0040ff,#0041ff,#0041ff,#0042ff,#0044ff,#0046ff,#0048ff,#004cff,#0051ff,#0057ff,#005dff,#0061ff,#0064ff,#0067ff,#0068ff,#0067ff,#0065ff,#0062ff,#005eff,#005aff,#0055ff,#0051ff,#004cff,#0049ff,#0047ff,#0045ff,#0043ff,#0042ff,#0041ff,#0041ff,#0041ff,#0042ff,#0045ff,#004cff,#005cff,#0071ff,#0083ff,#0093ff,#00aaff,#00c2ff,#00daff,#00f2ff,#00fff4,#00ffdc,#00ffc2,#00ff8c,#00ff4d,#00ff3f,#00ff38,#00ff35,#00ff35,#00ff35,#00ff35,#00ff35,#00ff35,#00ff37,#00ff39,#00ff3b,#00ff3e,#00ff41,#00ff46,#00ff52,#00ff63,#00ff76,#00ff90,#00ffae,#00ffd2,#00f4ff,#00bfff,#0096ff,#0078ff,#0052ff,#0029ff,#0004ff,#1000f6,#1d00ee,#2600e9,#2d00e0,#3300d7,#3900cf,#3e00c7,#4300bf,#4700b9,#4900b5,#4900b1,#4a00af,#4a00ac,#4a00aa,#4a00aa,#4a00a9,#4b00a8,#4b00a6,#4c00a1,#4e0095,#500089,#500080,#4f007b,#4f0077,#4f0074,#4f0072,#4f0070,#4f0070,#4f0070,#4f006f,#4f006f,#4f006d,#4f006d,#4f006d,#4f006c,#4f006c,#4e006b,#4e006b,#4e006b,#4f006c,#4f006e,#4f0072,#4f0079,#500082,#4f0090,#4c009d,#4b00a4,#4b00a7,#4a00a9,#4a00a9,#4a00aa,#4a00ab,#4900b1,#4800b8,#4500bd,#4400bd,#4600bb,#4800b7,#4900b4,#4900b4,#4900b2,#4900b0,#4a00ae,#4a00ac,#4a00aa,#4a00aa,#4a00aa,#4a00a9,#4a00aa,#4a00ac,#4900af,#4800b6,#4200c1,#3a00cc,#3300d8,#2b00e3,#2200ec,#1900f1,#0a00f9,#000bff,#0023ff,#0036ff,#0044ff,#004fff,#0056ff,#005bff,#005fff,#0063ff,#0067ff,#006bff,#006eff,#0071ff,#0074ff,#0077ff,#007dff,#008fff,#00c5ff,#00ffae,#00ff1b,#6bff00,#ceff00,#fff600,#ffcc00,#ffa900,#ff8600,#ff5e00,#ff3500,#ff2800,#ff2800,#ff4900,#ff7700,#ff7c00,#ff6500,#ff6200,#ff6f00,#ff8c00,#ffe700,#9dff00)"></div>
<div style="background:linear-gradient(90deg,#4bff00,#00ff80,#00cdff,#0080ff,#006dff,#005aff,#004cff,#0047ff,#0043ff,#0041ff,#0040ff,#0040ff,#0040ff,#0040ff,#0040ff,#0041ff,#0042ff,#0043ff,#0045ff,#0047ff,#004aff,#004eff,#0052ff,#0056ff,#0059ff,#005bff,#005cff,#005bff,#0059ff,#0057ff,#0053ff,#0050ff,#004dff,#004aff,#0048ff,#0046ff,#0044ff,#0042ff,#0041ff,#0041ff,#0040ff,#0040ff,#0040ff,#0041ff,#0045ff,#004eff,#0060ff,#0076ff,#0085ff,#0093ff,#00a6ff,#00bcff,#00d2ff,#00eaff,#00fffc,#00ffe3,#00ffc9,#00ff9a,#00ff57,#00ff41,#00ff3a,#00ff36,#00ff35,#00ff35,#00ff35,#00ff35,#00ff35,#00ff35,#00ff36,#00ff38,#00ff3b,#00ff3d,#00ff40,#00ff43,#00ff4a,#00ff57,#00ff6d,#00ff8d,#00ffb1,#00ffdc,#00e6ff,#00b5ff,#0092ff,#0078ff,#0054ff,#002aff,#0008ff,#0d00f8,#1900f0,#2200eb,#2900e7,#2f00de,#3500d5,#3a00cd,#4000c4,#4500bd,#4800b7,#4900b1,#4a00ae,#4a00ab,#4a00aa,#4a00a9,#4b00a8,#4b00a5,#4c009e,#4e0090,#500083,#4f007b,#4f0075,#4f0071,#4f006e,#4f006d,#4f006c,#4f006c,#4f006b,#4e006b,#4e006b,#4e006a,#4e006a,#4e006a,#4e006a,#4e006a,#4e0069,#4e006a,#4e006a,#4e006a,#4e006b,#4f006d,#4f0075,#50007f,#4f008b,#4d0098,#4c00a3,#4b00a6,#4b00a8,#4a00a9,#4a00aa,#4a00ac,#4900b1,#4700ba,#4200c0,#4100c2,#4200c1,#4300c0,#4400bf,#4500bd,#4700ba,#4900b5,#4900b1,#4a00ae,#4a00ac,#4a00aa,#4a00aa,#4a00aa,#4a00aa,#4a00ab,#4a00ae,#4900b1,#4800b7,#4300c0,#3c00c9,#3400d6,#2a00e5,#1f00ed,#1200f5,#0001ff,#0018ff,#002bff,#0039ff,#0043ff,#004aff,#0050ff,#0054ff,#0058ff,#005cff,#0060ff,#0064ff,#0068ff,#006cff,#0071ff,#0074ff,#0079ff,#0084ff,#00c2ff,#00ffaf,#00ff22,#68ff00,#caff00,#fbff00,#ffdc00,#ffba00,#ff9b00,#ff7e00,#ff5f00,#ff5800,#ff6f00,#ff8400,#ff8300,#ff6800,#ff5f00,#ff5b00,#ff8900,#ffe100,#a8ff00)"></div>
<div style="background:linear-gradient(90deg,#3fff00,#00ff75,#00e6ff,#008aff,#0073ff,#0061ff,#0052ff,#0049ff,#0045ff,#0042ff,#0041ff,#0040ff,#0040ff,#0040ff,#0040ff,#0040ff,#0041ff,#0041ff,#0043ff,#0045ff,#0046ff,#0048ff,#004bff,#004dff,#004fff,#0051ff,#0051ff,#0051ff,#0050ff,#004dff,#004bff,#0049ff,#0048ff,#0046ff,#0045ff,#0043ff,#0042ff,#0041ff,#0040ff,#0040ff,#0040ff,#0040ff,#0040ff,#0042ff,#0045ff,#0050ff,#0066ff,#007dff,#0087ff,#0092ff,#00a2ff,#00b5ff,#00caff,#00e1ff,#00faff,#00ffea,#00ffd0,#00ffa8,#00ff66,#00ff43,#00ff3c,#00ff37,#00ff35,#00ff35,#00ff35,#00ff35,#00ff35,#00ff35,#00ff35,#00ff36,#00ff38,#00ff3a,#00ff3c,#00ff3f,#00ff41,#00ff45,#00ff52,#00ff6c,#00ff92,#00ffbe,#00fff3,#00d2ff,#00a9ff,#008eff,#0076ff,#004fff,#0027ff,#0008ff,#0b00f9,#1600f2,#1d00ee,#2400ea,#2b00e4,#3000dc,#3600d2,#3c00ca,#4200c1,#4800b7,#4900b0,#4a00ad,#4a00aa,#4a00a9,#4b00a7,#4b00a4,#4d009a,#4f008b,#50007f,#4f0077,#4f0070,#4f006c,#4e006b,#4e006a,#4e006a,#4e006a,#4e006a,#4e006a,#4e0069,#4e0069,#4e0069,#4e0069,#4e0069,#4e0069,#4e0069,#4e0069,#4e0069,#4e0069,#4e006a,#4e006b,#4f0071,#4f007b,#500087,#4e0094,#4c009f,#4b00a5,#4b00a8,#4a00a9,#4a00aa,#4a00ac,#4900b1,#4700ba,#4200c1,#4000c5,#3e00c7,#3c00ca,#3b00cb,#3c00ca,#3f00c6,#4400be,#4800b5,#4900b1,#4a00ae,#4a00ac,#4a00aa,#4a00aa,#4a00aa,#4a00aa,#4a00ac,#4a00af,#4900b2,#4800b6,#4400be,#3d00c9,#3100da,#2500ea,#1900f1,#0600fc,#000fff,#0020ff,#002eff,#0038ff,#003fff,#0045ff,#0049ff,#004dff,#0051ff,#0054ff,#0058ff,#005cff,#0061ff,#0067ff,#006cff,#0071ff,#0076ff,#0082ff,#00c6ff,#00ffa2,#00ff20,#66ff00,#b7ff00,#e6ff00,#fff300,#ffd400,#ffb700,#ffaa00,#ffa400,#ff9700,#ff9a00,#ff9a00,#ff9000,#ff8a00,#ff8400,#ffa200,#efff00,#88ff00)"></div>
<div style="background:linear-gradient(90deg,#0fff00,#00ff8d,#00f1ff,#0098ff,#007bff,#006aff,#005aff,#004eff,#0048ff,#0045ff,#0042ff,#0041ff,#0040ff,#0040ff,#0040ff,#0040ff,#0040ff,#0040ff,#0041ff,#0042ff,#0044ff,#0045ff,#0047ff,#0048ff,#0049ff,#004aff,#004aff,#004aff,#0049ff,#0048ff,#0047ff,#0046ff,#0045ff,#0043ff,#0042ff,#0041ff,#0041ff,#0040ff,#0040ff,#0040ff,#0040ff,#0040ff,#0040ff,#0042ff,#0046ff,#0052ff,#006bff,#0082ff,#0087ff,#0090ff,#009dff,#00aeff,#00c2ff,#00d8ff,#00f1ff,#00fff2,#00ffd7,#00ffb5,#00ff7a,#00ff49,#00ff3e,#00ff38,#00ff35,#00ff35,#00ff35,#00ff35,#00ff35,#00ff35,#00ff35,#00ff35,#00ff36,#00ff37,#00ff39,#00ff3b,#00ff3d,#00ff41,#00ff45,#00ff52,#00ff74,#00ffa8,#00ffd7,#00ebff,#00bfff,#009fff,#0088ff,#006fff,#0043ff,#0020ff,#0007ff,#0900fa,#1300f4,#1a00f0,#2000ed,#2600e9,#2c00e2,#3200d9,#3a00ce,#4200c1,#4900b5,#4a00ae,#4a00ab,#4a00a9,#4b00a7,#4b00a3,#4d0097,#500088,#4f007b,#4f0072,#4f006c,#4e006a,#4e0069,#4e0069,#4e0069,#4e0069,#4e0069,#4e0069,#4e0069,#4e0068,#4e0068,#4e0068,#4e0068,#4e0068,#4e0068,#4e0068,#4e0068,#4e0068,#4e0069,#4e006a,#4f006e,#4f0077,#500082,#4f008f,#4d009c,#4b00a4,#4b00a7,#4a00a9,#4a00aa,#4a00ab,#4900b0,#4800b8,#4300c0,#3f00c5,#3c00ca,#3a00ce,#3600d4,#3200da,#3400d6,#3c00ca,#4400be,#4900b5,#4900b1,#4a00ae,#4a00ac,#4a00ab,#4a00aa,#4a00aa,#4a00ab,#4a00ad,#4900af,#4900b2,#4800b6,#4300bf,#3700d2,#2900e6,#1c00ef,#0b00f9,#0006ff,#0017ff,#0024ff,#002dff,#0035ff,#003aff,#003fff,#0043ff,#0046ff,#0049ff,#004dff,#0051ff,#0055ff,#005aff,#0060ff,#0067ff,#006fff,#0075ff,#008aff,#00f3ff,#00ff97,#00ff1e,#49ff00,#96ff00,#c3ff00,#ebff00,#fff900,#ffe800,#ffde00,#ffcd00,#ffca00,#ffca00,#ffcc00,#ffcc00,#ffd100,#ffef00,#7aff00,#2aff00)"></div>
<div style="background:linear-gradient(90deg,#00ff25,#00ffb0,#00f7ff,#00aaff,#0083ff,#0072ff,#0063ff,#0055ff,#004cff,#0047ff,#0044ff,#0042ff,#0041ff,#0040ff,#0040ff,#0040ff,#0040ff,#0040ff,#0040ff,#0041ff,#0042ff,#0043ff,#0044ff,#0045ff,#0045ff,#0046ff,#0046ff,#0046ff,#0046ff,#0045ff,#0044ff,#0043ff,#0042ff,#0041ff,#0041ff,#0040ff,#0040ff,#0040ff,#0040ff,#0040ff,#0040ff,#0040ff,#0040ff,#0042ff,#0046ff,#0053ff,#006dff,#0083ff,#0086ff,#008cff,#0096ff,#00a5ff,#00b9ff,#00cfff,#00e8ff,#00fffb,#00ffdf,#00ffc2,#00ff91,#00ff55,#00ff40,#00ff3a,#00ff36,#00ff35,#00ff35,#00ff35,#00ff35,#00ff35,#00ff35,#00ff35,#00ff35,#00ff35,#00ff36,#00ff38,#00ff3a,#00ff3d,#00ff40,#00ff46,#00ff5b,#00ff91,#00ffc6,#00fffd,#00d1ff,#00aeff,#0095ff,#0083ff,#005cff,#0036ff,#001aff,#0005ff,#0900fa,#1200f5,#1700f2,#1c00ef,#2200ec,#2800e8,#2f00dd,#3a00cc,#4600bb,#4900b0,#4a00ac,#4a00a9,#4b00a7,#4c00a2,#4e0095,#500084,#4f0078,#4f006e,#4e006b,#4e0069,#4e0069,#4e0068,#4e0068,#4e0068,#4e0068,#4e0068,#4e0068,#4e0068,#4e0068,#4e0068,#4e0068,#4e0067,#4e0067,#4e0067,#4e0067,#4e0068,#4e0068,#4e0069,#4f006b,#4f0073,#50007e,#4f008b,#4d0097,#4c00a1,#4b00a6,#4b00a8,#4a00a9,#4a00ab,#4a00ae,#4900b4,#4500bc,#4100c3,#3c00ca,#3900cf,#3000dc,#2600e9,#2900e6,#3200d9,#3c00c9,#4500bc,#4900b4,#4900b1,#4a00ae,#4a00ac,#4a00ab,#4a00ab,#4a00ab,#4a00ac,#4a00ae,#4900b0,#4900b5,#4600bb,#3b00cc,#2b00e3,#1e00ee,#0f00f6,#0100ff,#000eff,#001aff,#0023ff,#002aff,#0030ff,#0034ff,#0038ff,#003cff,#003fff,#0042ff,#0046ff,#0049ff,#004eff,#0054ff,#005bff,#0065ff,#006dff,#0078ff,#00a7ff,#00ffef,#00ff89,#00ff31,#13ff00,#5dff00,#90ff00,#b2ff00,#d1ff00,#d8ff00,#e1ff00,#edff00,#efff00,#e1ff00,#deff00,#d0ff00,#8dff00,#10ff00,#00ff16)"></div>
<div style="background:linear-gradient(90deg,#00ff7e,#00ffc9,#00fdff,#00bdff,#008eff,#007bff,#006dff,#005fff,#0053ff,#004bff,#0047ff,#0044ff,#0042ff,#0041ff,#0040ff,#0040ff,#0040ff,#0040ff,#0040ff,#0040ff,#0041ff,#0041ff,#0042ff,#0042ff,#0043ff,#0043ff,#0043ff,#0043ff,#0043ff,#0042ff,#0042ff,#0041ff,#0041ff,#0040ff,#0040ff,#0040ff,#0040ff,#0040ff,#003fff,#003fff,#003fff,#0040ff,#0040ff,#0041ff,#0046ff,#0051ff,#0069ff,#007eff,#0084ff,#0088ff,#008fff,#009cff,#00afff,#00c6ff,#00dfff,#00faff,#00ffe8,#00ffcb,#00ffa7,#00ff66,#00ff43,#00ff3c,#00ff37,#00ff35,#00ff35,#00ff35,#00ff35,#00ff35,#00ff35,#00ff35,#00ff35,#00ff35,#00ff35,#00ff36,#00ff37,#00ff39,#00ff3d,#00ff42,#00ff4c,#00ff7c,#00ffb9,#00ffec,#00e1ff,#00bbff,#00a0ff,#008cff,#006fff,#0049ff,#002cff,#0015ff,#0002ff,#0900fa,#1000f6,#1600f2,#1a00f0,#1e00ee,#2400ea,#3200da,#4100c2,#4900b2,#4a00ad,#4a00aa,#4b00a7,#4c00a1,#4e0093,#500081,#4f0076,#4f006c,#4e006a,#4e0069,#4e0068,#4e0068,#4e0068,#4e0067,#4e0067,#4e0067,#4e0067,#4e0067,#4e0067,#4e0067,#4e0067,#4e0067,#4e0067,#4e0067,#4e0067,#4e0067,#4e0068,#4e0069,#4e006a,#4f0070,#4f007a,#500086,#4e0092,#4c009e,#4b00a5,#4b00a8,#4a00a9,#4a00aa,#4a00ac,#4900b1,#4800b7,#4400be,#3d00c8,#3900cf,#2e00e0,#1e00ee,#1f00ed,#2900e7,#3300d7,#3e00c8,#4600bb,#4900b4,#4900b1,#4900af,#4a00ae,#4a00ad,#4a00ac,#4a00ac,#4a00ad,#4900b0,#4800b5,#4600bc,#3c00cb,#2c00e2,#1f00ed,#1200f5,#0500fc,#0007ff,#0011ff,#001aff,#0021ff,#0026ff,#002aff,#002eff,#0031ff,#0034ff,#0037ff,#003bff,#003eff,#0042ff,#0048ff,#004eff,#0058ff,#0062ff,#006cff,#0080ff,#00bbff,#00ffe5,#00ff93,#00ff4a,#00ff10,#1aff00,#44ff00,#6aff00,#75ff00,#85ff00,#9eff00,#a6ff00,#81ff00,#6cff00,#52ff00,#14ff00,#00ff2e,#00ff58)"></div>
<div style="background:linear-gradient(90deg,#00ffa8,#00ffcd,#00fff9,#00cfff,#00a0ff,#0085ff,#0077ff,#0069ff,#005cff,#0051ff,#004aff,#0047ff,#0044ff,#0042ff,#0040ff,#0040ff,#0040ff,#0040ff,#0040ff,#0040ff,#0040ff,#0040ff,#0040ff,#0041ff,#0041ff,#0041ff,#0041ff,#0041ff,#0041ff,#0041ff,#0041ff,#0040ff,#0040ff,#0040ff,#003fff,#003fff,#003fff,#003fff,#003fff,#003fff,#003fff,#003fff,#003fff,#0041ff,#0044ff,#004eff,#0060ff,#0071ff,#007bff,#0082ff,#0087ff,#0092ff,#00a3ff,#00bbff,#00d6ff,#00f1ff,#00fff1,#00ffd5,#00ffb6,#00ff79,#00ff48,#00ff3e,#00ff38,#00ff35,#00ff35,#00ff35,#00ff35,#00ff35,#00ff35,#00ff35,#00ff35,#00ff35,#00ff35,#00ff35,#00ff35,#00ff36,#00ff39,#00ff3f,#00ff46,#00ff6b,#00ffad,#00ffdf,#00edff,#00c6ff,#00a9ff,#0093ff,#007dff,#005bff,#003cff,#0024ff,#0010ff,#0000ff,#0900fa,#1000f6,#1500f3,#1900f1,#1d00ef,#2900e6,#3c00ca,#4800b6,#4a00ae,#4a00aa,#4b00a7,#4c00a1,#4e0092,#500080,#4f0075,#4f006b,#4e006a,#4e0068,#4e0067,#4e0067,#4e0067,#4e0067,#4e0067,#4e0067,#4e0067,#4e0067,#4e0067,#4e0067,#4e0067,#4e0067,#4e0067,#4e0067,#4e0067,#4e0067,#4e0067,#4e0068,#4e0069,#4f006d,#4f0076,#500080,#4f008d,#4d009b,#4b00a4,#4b00a7,#4a00a9,#4a00aa,#4a00ab,#4a00ae,#4900b3,#4700b9,#4100c3,#3900ce,#3000dc,#1f00ed,#1c00ef,#2000ed,#2a00e5,#3500d5,#3f00c6,#4600bb,#4800b5,#4900b2,#4900b1,#4900b0,#4900af,#4a00af,#4900af,#4900b1,#4900b5,#4600bb,#3a00cd,#2b00e4,#1e00ee,#1400f4,#0900fa,#0000ff,#0009ff,#0011ff,#0017ff,#001cff,#0020ff,#0024ff,#0027ff,#002aff,#002dff,#0030ff,#0033ff,#0037ff,#003cff,#0042ff,#004aff,#0055ff,#0061ff,#006fff,#008aff,#00c8ff,#00ffe6,#00ff9c,#00ff5f,#00ff3b,#00ff15,#00ff03,#12ff00,#2bff00,#3aff00,#40ff00,#24ff00,#07ff00,#00ff07,#00ff22,#00ff55,#00ff85)"></div>
<div style="background:linear-gradient(90deg,#00ffa3,#00ffc8,#00fff2,#00deff,#00b4ff,#0094ff,#0081ff,#0073ff,#0066ff,#005aff,#0051ff,#004aff,#0046ff,#0043ff,#0041ff,#0040ff,#0040ff,#0040ff,#0040ff,#0040ff,#0040ff,#0040ff,#0040ff,#0040ff,#0040ff,#0040ff,#0040ff,#0040ff,#0040ff,#0040ff,#0040ff,#0040ff,#003fff,#003fff,#003fff,#003eff,#003eff,#003eff,#003dff,#003dff,#003dff,#003dff,#003eff,#003fff,#0043ff,#004aff,#0057ff,#0065ff,#006fff,#0077ff,#007eff,#0087ff,#0097ff,#00b0ff,#00ccff,#00e8ff,#00fffa,#00ffde,#00ffc1,#00ff8d,#00ff53,#00ff41,#00ff3b,#00ff36,#00ff35,#00ff35,#00ff35,#00ff35,#00ff35,#00ff35,#00ff35,#00ff35,#00ff35,#00ff35,#00ff35,#00ff35,#00ff37,#00ff3c,#00ff44,#00ff5e,#00ffa1,#00ffd5,#00f7ff,#00cfff,#00b0ff,#0099ff,#0085ff,#006aff,#004bff,#0031ff,#001cff,#000aff,#0300fd,#0b00f9,#1100f5,#1600f2,#1a00f0,#2200ec,#3600d2,#4700ba,#4900af,#4a00aa,#4b00a7,#4c00a1,#4e0092,#500080,#4f0074,#4e006b,#4e0069,#4e0068,#4e0067,#4e0067,#4e0067,#4e0067,#4e0067,#4e0067,#4e0067,#4e0067,#4e0067,#4e0067,#4e0067,#4e0067,#4e0067,#4e0067,#4e0067,#4e0067,#4e0067,#4e0068,#4e0069,#4e006b,#4f0072,#4f007d,#500088,#4d0097,#4b00a3,#4b00a7,#4a00a9,#4a00a9,#4a00aa,#4a00ac,#4900af,#4900b4,#4600bb,#3c00ca,#3400d6,#2300eb,#1c00ef,#1d00ef,#2000ec,#2c00e2,#3600d3,#3e00c6,#4400bd,#4800b8,#4900b5,#4900b3,#4900b2,#4900b2,#4900b2,#4900b4,#4800b7,#4200c0,#3600d3,#2800e8,#1d00ee,#1500f3,#0c00f8,#0500fc,#0002ff,#0008ff,#000eff,#0012ff,#0016ff,#001aff,#001dff,#001fff,#0022ff,#0025ff,#0028ff,#002bff,#0030ff,#0035ff,#003dff,#0047ff,#0053ff,#0061ff,#0074ff,#008fff,#00c5ff,#00ffef,#00ffac,#00ff7c,#00ff57,#00ff42,#00ff2a,#00ff1a,#00ff14,#00ff10,#00ff14,#00ff1e,#00ff26,#00ff3c,#00ff69,#00ff8c)"></div>
<div style="background:linear-gradient(90deg,#00ff9f,#00ffc3,#00ffea,#00ecff,#00c8ff,#00a7ff,#008eff,#007eff,#0071ff,#0065ff,#005aff,#0050ff,#0049ff,#0046ff,#0043ff,#0041ff,#0040ff,#0040ff,#0040ff,#0040ff,#0040ff,#0040ff,#0040ff,#0040ff,#0040ff,#0040ff,#0040ff,#0040ff,#0040ff,#0040ff,#003fff,#003fff,#003eff,#003eff,#003dff,#003cff,#003cff,#003bff,#003bff,#003aff,#003aff,#003aff,#003bff,#003dff,#0040ff,#0046ff,#0050ff,#005aff,#0063ff,#006bff,#0074ff,#007eff,#008aff,#00a5ff,#00c2ff,#00deff,#00faff,#00ffe8,#00ffcc,#00ffa3,#00ff64,#00ff44,#00ff3e,#00ff39,#00ff36,#00ff35,#00ff35,#00ff35,#00ff35,#00ff35,#00ff35,#00ff35,#00ff35,#00ff35,#00ff35,#00ff35,#00ff36,#00ff3b,#00ff44,#00ff56,#00ff99,#00ffcd,#00feff,#00d5ff,#00b6ff,#009dff,#008aff,#0077ff,#0059ff,#003eff,#0027ff,#0014ff,#0004ff,#0600fc,#0d00f7,#1300f4,#1800f1,#1e00ee,#3200d9,#4400be,#4900b0,#4a00ab,#4b00a7,#4c00a1,#4e0093,#500082,#4f0074,#4e006b,#4e0069,#4e0067,#4e0067,#4e0067,#4e0067,#4e0067,#4e0067,#4e0067,#4e0067,#4e0067,#4e0067,#4e0067,#4e0067,#4e0067,#4e0067,#4e0067,#4e0067,#4e0067,#4e0067,#4e0067,#4e0068,#4e006a,#4f006f,#4f0079,#500084,#4e0094,#4c00a1,#4b00a6,#4b00a9,#4a00a9,#4a00aa,#4a00ab,#4a00ad,#4900b0,#4800b5,#4200c0,#3800d0,#2900e6,#1d00ee,#1c00ef,#1d00ef,#2300eb,#2d00e1,#3500d4,#3c00ca,#4100c3,#4500bd,#4700ba,#4800b7,#4800b6,#4800b7,#4700b9,#4300bf,#3b00cb,#3000dc,#2300eb,#1b00ef,#1600f3,#0f00f6,#0900fa,#0400fd,#0000ff,#0005ff,#0009ff,#000dff,#0010ff,#0012ff,#0015ff,#0017ff,#001aff,#001cff,#0020ff,#0024ff,#0029ff,#002fff,#0038ff,#0044ff,#0051ff,#0061ff,#0073ff,#0089ff,#00b6ff,#00fffb,#00ffb7,#00ff93,#00ff76,#00ff5c,#00ff47,#00ff3c,#00ff35,#00ff32,#00ff33,#00ff3b,#00ff4e,#00ff74,#00ff8e)"></div>
<div style="background:linear-gradient(90deg,#00ff9f,#00ffbf,#00ffe3,#00faff,#00daff,#00bcff,#00a0ff,#0089ff,#007cff,#0070ff,#0064ff,#0059ff,#004fff,#0049ff,#0045ff,#0042ff,#0041ff,#0040ff,#0040ff,#0040ff,#0040ff,#0040ff,#0040ff,#0040ff,#0040ff,#0040ff,#0040ff,#0040ff,#0040ff,#003fff,#003fff,#003eff,#003cff,#003bff,#003aff,#0038ff,#0037ff,#0037ff,#0036ff,#0036ff,#0036ff,#0036ff,#0037ff,#0039ff,#003cff,#0042ff,#0049ff,#0050ff,#0058ff,#0060ff,#006aff,#0076ff,#0083ff,#009aff,#00b9ff,#00d5ff,#00f0ff,#00fff2,#00ffd6,#00ffb4,#00ff7a,#00ff4b,#00ff41,#00ff3c,#00ff38,#00ff36,#00ff35,#00ff35,#00ff35,#00ff35,#00ff35,#00ff35,#00ff35,#00ff35,#00ff35,#00ff36,#00ff37,#00ff3c,#00ff45,#00ff55,#00ff95,#00ffca,#00fffd,#00d9ff,#00baff,#00a1ff,#008fff,#0081ff,#0065ff,#0049ff,#0031ff,#001dff,#000cff,#0100fe,#0900fa,#1000f6,#1600f2,#1c00ef,#2e00df,#4200c1,#4900b1,#4a00ab,#4b00a7,#4c00a1,#4e0094,#500084,#4f0075,#4f006b,#4e0069,#4e0067,#4e0067,#4e0067,#4e0067,#4e0067,#4e0067,#4e0067,#4e0067,#4e0067,#4e0067,#4e0067,#4e0067,#4e0067,#4e0067,#4e0067,#4e0067,#4e0067,#4e0067,#4e0067,#4e0068,#4e006a,#4f006d,#4f0077,#500081,#4e0091,#4c00a0,#4b00a6,#4b00a8,#4a00a9,#4a00a9,#4a00aa,#4a00ab,#4a00ad,#4900b2,#4800b7,#3d00c9,#2f00dd,#1f00ed,#1c00ef,#1c00ef,#1d00ee,#2300eb,#2c00e3,#3200d8,#3800d0,#3c00ca,#3f00c6,#4100c2,#4200c0,#4200c1,#4000c4,#3b00cc,#3300d7,#2900e6,#1e00ee,#1b00f0,#1700f2,#1200f5,#0d00f7,#0900fa,#0600fc,#0300fd,#0000ff,#0003ff,#0006ff,#0008ff,#000aff,#000cff,#000fff,#0011ff,#0014ff,#0017ff,#001cff,#0022ff,#002aff,#0034ff,#0040ff,#004eff,#005dff,#006cff,#007eff,#00a7ff,#00fbff,#00ffc7,#00ffa7,#00ff8c,#00ff71,#00ff5d,#00ff51,#00ff4a,#00ff48,#00ff4e,#00ff5e,#00ff7e,#00ff92)"></div>
<div style="background:linear-gradient(90deg,#00ffa1,#00ffbd,#00ffdb,#00fff7,#00ebff,#00cfff,#00b4ff,#009aff,#0088ff,#007cff,#0070ff,#0063ff,#0057ff,#004dff,#0048ff,#0045ff,#0043ff,#0041ff,#0041ff,#0040ff,#0040ff,#0040ff,#0040ff,#0040ff,#0040ff,#0040ff,#0040ff,#0040ff,#003fff,#003fff,#003dff,#003bff,#0039ff,#0037ff,#0035ff,#0033ff,#0033ff,#0031ff,#0030ff,#0030ff,#0030ff,#0030ff,#0031ff,#0034ff,#0037ff,#003dff,#0043ff,#0049ff,#004fff,#0056ff,#0060ff,#006dff,#007dff,#0091ff,#00b0ff,#00ccff,#00e6ff,#00fffd,#00ffe1,#00ffc2,#00ff94,#00ff5d,#00ff44,#00ff3f,#00ff3b,#00ff39,#00ff37,#00ff36,#00ff36,#00ff36,#00ff36,#00ff36,#00ff36,#00ff36,#00ff37,#00ff38,#00ff3a,#00ff3e,#00ff47,#00ff57,#00ff98,#00ffcb,#00fffc,#00daff,#00bcff,#00a4ff,#0092ff,#0086ff,#0071ff,#0054ff,#003aff,#0025ff,#0013ff,#0004ff,#0600fc,#0e00f7,#1400f3,#1a00f0,#2b00e3,#4000c4,#4900b2,#4a00ac,#4b00a7,#4c00a2,#4e0095,#500085,#4f0076,#4f006c,#4e0069,#4e0067,#4e0067,#4e0067,#4e0067,#4e0067,#4e0067,#4e0067,#4e0067,#4e0067,#4e0067,#4e0067,#4e0067,#4e0067,#4e0067,#4e0067,#4e0067,#4e0067,#4e0067,#4e0067,#4e0068,#4e0069,#4f006c,#4f0075,#50007f,#4f008f,#4c009e,#4b00a6,#4b00a8,#4a00a9,#4a00a9,#4a00aa,#4a00aa,#4a00ab,#4900af,#4900b3,#4300c0,#3500d4,#2300eb,#1c00ef,#1d00ef,#1c00ef,#1d00ee,#2200ec,#2900e7,#2d00e0,#3200d9,#3500d4,#3800d0,#3900ce,#3900cf,#3600d2,#3100da,#2a00e5,#2100ec,#1c00ef,#1b00f0,#1800f1,#1500f3,#1100f5,#0e00f7,#0b00f8,#0900fa,#0700fb,#0500fc,#0300fd,#0100fe,#0000ff,#0002ff,#0003ff,#0005ff,#0008ff,#000bff,#000eff,#0014ff,#001bff,#0023ff,#002dff,#0039ff,#0046ff,#0054ff,#0063ff,#0076ff,#00a4ff,#00efff,#00ffd5,#00ffb5,#00ff97,#00ff80,#00ff6e,#00ff63,#00ff5d,#00ff5f,#00ff6b,#00ff85,#00ff96)"></div>
<div style="background:linear-gradient(90deg,#00ffa5,#00ffbc,#00ffd3,#00ffeb,#00fcff,#00e3ff,#00c9ff,#00afff,#0099ff,#0088ff,#007bff,#006fff,#0061ff,#0055ff,#004cff,#0048ff,#0045ff,#0043ff,#0042ff,#0041ff,#0040ff,#0040ff,#0040ff,#0040ff,#0040ff,#0040ff,#0040ff,#0040ff,#003fff,#003dff,#003bff,#0037ff,#0034ff,#0032ff,#002fff,#002cff,#002aff,#0027ff,#0025ff,#0025ff,#0025ff,#0025ff,#0027ff,#002bff,#0031ff,#0037ff,#003dff,#0044ff,#0048ff,#004dff,#0056ff,#0065ff,#0077ff,#008bff,#00a8ff,#00c3ff,#00dcff,#00f6ff,#00ffec,#00ffce,#00ffad,#00ff77,#00ff4e,#00ff43,#00ff3f,#00ff3c,#00ff3a,#00ff39,#00ff38,#00ff37,#00ff37,#00ff37,#00ff38,#00ff38,#00ff39,#00ff3b,#00ff3d,#00ff41,#00ff47,#00ff62,#00ffa1,#00ffd0,#00fffe,#00daff,#00bcff,#00a5ff,#0094ff,#0088ff,#007cff,#005eff,#0042ff,#002cff,#0019ff,#0009ff,#0300fd,#0b00f8,#1300f4,#1900f0,#2a00e5,#3f00c6,#4900b3,#4a00ac,#4b00a7,#4c00a3,#4e0096,#500086,#4f0077,#4f006c,#4e0069,#4e0068,#4e0067,#4e0067,#4e0067,#4e0067,#4e0067,#4e0067,#4e0067,#4e0067,#4e0067,#4e0067,#4e0067,#4e0067,#4e0067,#4e0067,#4e0067,#4e0067,#4e0067,#4e0067,#4e0068,#4e0069,#4f006c,#4f0075,#50007f,#4f008e,#4c009e,#4b00a6,#4b00a8,#4a00a9,#4a00a9,#4a00a9,#4a00aa,#4a00aa,#4a00ad,#4900b1,#4700b9,#3a00cc,#2900e7,#1d00ef,#1d00ee,#1c00ef,#1c00ef,#1d00ee,#1f00ed,#2300eb,#2800e8,#2b00e4,#2e00df,#2f00de,#2e00de,#2d00e1,#2700e8,#2100ec,#1d00ee,#1c00ef,#1b00ef,#1900f0,#1700f2,#1500f3,#1300f4,#1100f5,#0f00f6,#0e00f7,#0c00f8,#0a00f9,#0900fa,#0800fb,#0700fb,#0600fc,#0500fc,#0300fd,#0200fe,#0001ff,#0005ff,#000cff,#0013ff,#001bff,#0024ff,#002fff,#003bff,#0049ff,#005cff,#0077ff,#00a7ff,#00ebff,#00ffdd,#00ffb8,#00ff9f,#00ff8b,#00ff7b,#00ff71,#00ff6d,#00ff73,#00ff89,#00ff99)"></div>
<div style="background:linear-gradient(90deg,#00ffaa,#00ffbd,#00ffcd,#00ffde,#00fff1,#00f7ff,#00deff,#00c4ff,#00adff,#0097ff,#0086ff,#007aff,#006cff,#005eff,#0053ff,#004cff,#0048ff,#0046ff,#0044ff,#0042ff,#0041ff,#0040ff,#0040ff,#0040ff,#0040ff,#0040ff,#0040ff,#003fff,#003eff,#003bff,#0037ff,#0033ff,#002dff,#0028ff,#0023ff,#001fff,#001cff,#0018ff,#0016ff,#0015ff,#0015ff,#0016ff,#0018ff,#001dff,#0026ff,#0030ff,#0037ff,#003eff,#0043ff,#0048ff,#004fff,#005eff,#0072ff,#0086ff,#00a1ff,#00baff,#00d2ff,#00ebff,#00fff9,#00ffdc,#00ffbf,#00ff94,#00ff65,#00ff4b,#00ff43,#00ff40,#00ff3e,#00ff3c,#00ff3b,#00ff3b,#00ff3b,#00ff3b,#00ff3b,#00ff3c,#00ff3d,#00ff3e,#00ff41,#00ff45,#00ff52,#00ff78,#00ffae,#00ffd8,#00fbff,#00d7ff,#00bbff,#00a5ff,#0095ff,#008aff,#0082ff,#0067ff,#0049ff,#0032ff,#001eff,#000eff,#0000ff,#0900fa,#1100f5,#1900f1,#2900e6,#3d00c8,#4900b3,#4a00ad,#4b00a8,#4b00a3,#4d0097,#500086,#4f0078,#4f006c,#4e0069,#4e0068,#4e0067,#4e0067,#4e0067,#4e0067,#4e0067,#4e0067,#4e0067,#4e0067,#4e0067,#4e0067,#4e0067,#4e0067,#4e0067,#4e0067,#4e0067,#4e0067,#4e0067,#4e0067,#4e0068,#4e0069,#4f006c,#4f0075,#500080,#4f008e,#4c009e,#4b00a6,#4b00a8,#4a00a9,#4a00a9,#4a00a9,#4a00a9,#4a00aa,#4a00ab,#4900af,#4900b5,#3f00c5,#2d00e1,#1d00ee,#1d00ee,#1d00ee,#1d00ef,#1c00ef,#1c00ef,#1d00ee,#1e00ee,#2000ec,#2300eb,#2400ea,#2400ea,#2300eb,#1e00ed,#1d00ef,#1c00ef,#1c00ef,#1b00ef,#1b00f0,#1900f0,#1800f1,#1700f2,#1600f2,#1500f3,#1400f3,#1300f4,#1100f5,#1000f6,#0f00f6,#0e00f7,#0e00f7,#0d00f8,#0c00f8,#0b00f9,#0900fa,#0700fb,#0300fd,#0002ff,#0008ff,#000eff,#0016ff,#0020ff,#002eff,#0041ff,#0059ff,#007bff,#00afff,#00ecff,#00ffdc,#00ffbc,#00ffa4,#00ff92,#00ff82,#00ff77,#00ff78,#00ff8b,#00ff9d)"></div>
<div style="background:linear-gradient(90deg,#00ffac,#00ffbc,#00ffc5,#00ffd1,#00ffe0,#00fff4,#00f3ff,#00d9ff,#00c1ff,#00a9ff,#0093ff,#0084ff,#0077ff,#0069ff,#005cff,#0053ff,#004dff,#0049ff,#0047ff,#0045ff,#0043ff,#0041ff,#0040ff,#0040ff,#0040ff,#0040ff,#0040ff,#003fff,#003dff,#0038ff,#0033ff,#002aff,#0021ff,#0019ff,#0013ff,#000fff,#000bff,#0006ff,#0004ff,#0003ff,#0003ff,#0003ff,#0006ff,#000cff,#0018ff,#0025ff,#0031ff,#0037ff,#003eff,#0044ff,#004aff,#0057ff,#006cff,#0082ff,#009aff,#00b1ff,#00c8ff,#00dfff,#00f7ff,#00ffec,#00ffce,#00ffaf,#00ff84,#00ff62,#00ff4e,#00ff44,#00ff41,#00ff40,#00ff3f,#00ff3f,#00ff3e,#00ff3f,#00ff3f,#00ff40,#00ff40,#00ff43,#00ff46,#00ff51,#00ff6c,#00ff94,#00ffbc,#00ffe1,#00f4ff,#00d2ff,#00b8ff,#00a3ff,#0095ff,#008bff,#0085ff,#006eff,#004eff,#0036ff,#0023ff,#0012ff,#0003ff,#0700fb,#1000f6,#1800f1,#2700e9,#3c00ca,#4900b4,#4a00ad,#4b00a8,#4b00a4,#4d0098,#500088,#4f0079,#4f006d,#4e0069,#4e0068,#4e0067,#4e0067,#4e0067,#4e0067,#4e0067,#4e0067,#4e0067,#4e0067,#4e0067,#4e0067,#4e0067,#4e0067,#4e0067,#4e0067,#4e0067,#4e0067,#4e0067,#4e0067,#4e0068,#4e0069,#4f006c,#4f0077,#500082,#4e0091,#4c009f,#4b00a6,#4b00a8,#4a00a9,#4a00a9,#4a00a9,#4a00a9,#4a00aa,#4a00aa,#4a00ad,#4900b2,#4300c0,#3100da,#1e00ee,#1d00ef,#1d00ee,#1d00ee,#1d00ef,#1c00ef,#1c00ef,#1c00ef,#1d00ef,#1d00ee,#1d00ee,#1d00ee,#1d00ee,#1c00ef,#1c00ef,#1c00ef,#1c00ef,#1c00ef,#1d00ee,#1d00ee,#1d00ee,#1d00ee,#1d00ef,#1c00ef,#1c00ef,#1a00f0,#1700f2,#1700f2,#1600f2,#1600f2,#1600f3,#1500f3,#1500f3,#1400f3,#1400f4,#1200f5,#0d00f7,#0b00f9,#0800fa,#0500fc,#0200fe,#0004ff,#000fff,#0022ff,#003bff,#005bff,#0083ff,#00b4ff,#00f1ff,#00ffdc,#00ffbb,#00ffa7,#00ff93,#00ff7f,#00ff77,#00ff86,#00ff9b)"></div>
<div style="background:linear-gradient(90deg,#00ff90,#00ffa6,#00ffb3,#00ffc2,#00ffce,#00ffe0,#00fff7,#00eeff,#00d4ff,#00bbff,#00a4ff,#008fff,#0081ff,#0073ff,#0067ff,#005dff,#0055ff,#004fff,#004bff,#0047ff,#0045ff,#0042ff,#0041ff,#0040ff,#0040ff,#0040ff,#003fff,#003eff,#003aff,#0035ff,#002bff,#001dff,#0011ff,#0007ff,#0000ff,#0300fd,#0600fc,#0a00f9,#0b00f8,#0c00f8,#0c00f8,#0c00f8,#0a00f9,#0600fc,#0007ff,#0017ff,#0027ff,#0032ff,#0037ff,#003eff,#0046ff,#0051ff,#0066ff,#007fff,#0095ff,#00a9ff,#00bdff,#00d2ff,#00e9ff,#00fffc,#00ffe0,#00ffc3,#00ffa4,#00ff84,#00ff69,#00ff56,#00ff4a,#00ff46,#00ff44,#00ff43,#00ff43,#00ff43,#00ff43,#00ff45,#00ff49,#00ff50,#00ff5b,#00ff6e,#00ff8e,#00ffaf,#00ffca,#00ffee,#00ebff,#00ccff,#00b3ff,#00a1ff,#0093ff,#008aff,#0086ff,#0071ff,#0052ff,#003aff,#0026ff,#0015ff,#0006ff,#0600fc,#0f00f6,#1700f2,#2400ea,#3a00cc,#4800b5,#4a00ad,#4b00a8,#4b00a4,#4d0099,#50008a,#4f007a,#4f006e,#4e0069,#4e0068,#4e0067,#4e0067,#4e0067,#4e0067,#4e0067,#4e0067,#4e0067,#4e0067,#4e0067,#4e0067,#4e0067,#4e0067,#4e0067,#4e0067,#4e0067,#4e0067,#4e0067,#4e0067,#4e0068,#4e0069,#4f006e,#4f0079,#500084,#4e0093,#4c00a0,#4b00a6,#4b00a8,#4a00a9,#4a00a9,#4a00a9,#4a00a9,#4a00a9,#4a00aa,#4a00ac,#4900b1,#4600bb,#3600d3,#2200ec,#1c00ef,#1d00ee,#1d00ee,#1d00ee,#1d00ef,#1d00ef,#1d00ef,#1c00ef,#1c00ef,#1c00ef,#1c00ef,#1c00ef,#1c00ef,#1d00ef,#1e00ee,#2000ec,#2200ec,#2600e9,#2800e8,#2800e8,#2800e8,#2800e8,#2800e8,#2700e8,#2300eb,#2000ed,#2000ed,#2000ed,#1f00ed,#1f00ed,#1f00ed,#1f00ed,#1f00ed,#1e00ed,#1d00ee,#1800f1,#1600f2,#1500f3,#1400f3,#1300f4,#1100f5,#0b00f9,#0002ff,#0019ff,#0038ff,#0061ff,#0089ff,#00c0ff,#00faff,#00ffd5,#00ffbc,#00ffa2,#00ff84,#00ff71,#00ff76,#00ff84)"></div>
<div style="background:linear-gradient(90deg,#00ff66,#00ff76,#00ff87,#00ff9c,#00ffb4,#00ffca,#00ffe2,#00fffc,#00e7ff,#00cdff,#00b5ff,#009fff,#008bff,#007dff,#0072ff,#0068ff,#0060ff,#0059ff,#0052ff,#004cff,#0047ff,#0044ff,#0041ff,#0040ff,#0040ff,#0040ff,#003fff,#003dff,#0038ff,#0030ff,#0020ff,#000eff,#0200fe,#0800fa,#0f00f7,#1100f5,#1300f4,#1800f1,#1900f0,#1900f0,#1900f0,#1900f0,#1900f1,#1400f3,#0900fa,#0007ff,#001aff,#0029ff,#0032ff,#0038ff,#0040ff,#004bff,#005fff,#007cff,#0090ff,#00a1ff,#00b2ff,#00c5ff,#00d9ff,#00f0ff,#00fff4,#00ffd8,#00ffbe,#00ffa6,#00ff8e,#00ff76,#00ff66,#00ff5a,#00ff53,#00ff52,#00ff52,#00ff52,#00ff53,#00ff59,#00ff64,#00ff6f,#00ff7f,#00ff92,#00ffad,#00ffc3,#00ffda,#00fffc,#00e0ff,#00c4ff,#00adff,#009cff,#0091ff,#0089ff,#0085ff,#0072ff,#0054ff,#003dff,#0029ff,#0018ff,#0008ff,#0400fc,#0e00f7,#1600f2,#2300eb,#3a00ce,#4800b6,#4a00ae,#4b00a8,#4b00a4,#4d009a,#4f008b,#4f007a,#4f006f,#4e0069,#4e0068,#4e0067,#4e0067,#4e0067,#4e0067,#4e0067,#4e0067,#4e0067,#4e0067,#4e0067,#4e0067,#4e0067,#4e0067,#4e0067,#4e0067,#4e0067,#4e0067,#4e0067,#4e0067,#4e0068,#4e0069,#4f0070,#4f007c,#500087,#4e0095,#4c00a1,#4b00a6,#4b00a8,#4a00a9,#4a00a9,#4a00a9,#4a00a9,#4a00a9,#4a00aa,#4a00ab,#4900af,#4800b6,#3b00cc,#2800e8,#1d00ef,#1c00ef,#1d00ee,#1d00ee,#1d00ee,#1d00ee,#1d00ee,#1d00ee,#1d00ee,#1d00ee,#1c00ef,#1c00ef,#1d00ee,#2000ed,#2600e9,#2b00e4,#2d00e0,#3100db,#3200d9,#3300d8,#3300d8,#3300d8,#3300d8,#3100da,#2e00de,#2c00e1,#2c00e2,#2c00e2,#2b00e3,#2b00e4,#2a00e4,#2a00e5,#2a00e5,#2a00e6,#2800e8,#2400ea,#2300eb,#2300eb,#2300eb,#2200eb,#2100ec,#1c00ef,#1500f3,#0700fb,#0012ff,#003dff,#006bff,#0098ff,#00ceff,#00fff9,#00ffd1,#00ffb0,#00ff85,#00ff67,#00ff5d,#00ff61)"></div>
<div style="background:linear-gradient(90deg,#00ff3c,#00ff43,#00ff4d,#00ff5b,#00ff76,#00ffa8,#00ffcd,#00ffe9,#00f9ff,#00deff,#00c6ff,#00b0ff,#009aff,#0089ff,#007dff,#0074ff,#006bff,#0064ff,#005cff,#0054ff,#004cff,#0046ff,#0043ff,#0041ff,#0040ff,#0040ff,#003fff,#003cff,#0036ff,#0028ff,#0012ff,#0300fd,#1000f6,#1600f3,#1c00ef,#1d00ee,#1e00ee,#2200eb,#2400ea,#2500ea,#2500ea,#2400ea,#2300eb,#1e00ee,#1500f3,#0700fb,#000aff,#001cff,#0029ff,#0031ff,#0038ff,#0045ff,#0057ff,#0074ff,#008bff,#0099ff,#00a8ff,#00b8ff,#00caff,#00deff,#00f5ff,#00ffef,#00ffd4,#00ffc2,#00ffaf,#00ff9b,#00ff8c,#00ff7c,#00ff75,#00ff74,#00ff73,#00ff74,#00ff75,#00ff7c,#00ff8b,#00ff95,#00ffa6,#00ffb1,#00ffc2,#00ffd3,#00ffeb,#00f4ff,#00d5ff,#00baff,#00a5ff,#0097ff,#008dff,#0088ff,#0084ff,#006fff,#0055ff,#003fff,#002cff,#001aff,#000aff,#0300fd,#0d00f7,#1600f2,#2300eb,#3900ce,#4800b6,#4a00ae,#4b00a9,#4b00a5,#4d009b,#4f008b,#4f007b,#4f006f,#4e006a,#4e0068,#4e0067,#4e0067,#4e0067,#4e0067,#4e0067,#4e0067,#4e0067,#4e0067,#4e0067,#4e0067,#4e0067,#4e0067,#4e0067,#4e0067,#4e0067,#4e0067,#4e0067,#4e0067,#4e0068,#4e006a,#4f0072,#50007f,#50008a,#4e0096,#4c00a1,#4b00a5,#4b00a8,#4a00a9,#4a00a9,#4a00a9,#4a00a9,#4a00a9,#4a00a9,#4a00aa,#4a00ae,#4900b3,#4000c4,#2f00dd,#1f00ed,#1c00ef,#1c00ef,#1d00ee,#1d00ee,#1d00ef,#1d00ee,#1d00ee,#1d00ef,#1d00ef,#1c00ef,#1d00ee,#2300eb,#2a00e5,#3000dc,#3500d5,#3800d0,#3b00cc,#3c00c9,#3d00c9,#3d00c8,#3d00c8,#3d00c9,#3b00cb,#3900ce,#3700d1,#3700d2,#3600d2,#3600d3,#3500d5,#3400d6,#3300d7,#3300d7,#3300d8,#3100da,#2f00dd,#2e00de,#2e00df,#2e00df,#2e00e0,#2c00e1,#2900e7,#2400ea,#1c00ef,#0d00f8,#0017ff,#004bff,#0079ff,#00a6ff,#00e2ff,#00ffe8,#00ffba,#00ff84,#00ff56,#00ff3d,#00ff3a)"></div>
<div style="background:linear-gradient(90deg,#00ff0f,#00ff0e,#00ff10,#00ff14,#00ff22,#00ff65,#00ffaf,#00ffd5,#00fff3,#00efff,#00d7ff,#00c1ff,#00acff,#0099ff,#0089ff,#007fff,#0077ff,#006fff,#0067ff,#005eff,#0053ff,#0049ff,#0045ff,#0041ff,#0040ff,#0040ff,#003fff,#003aff,#0032ff,#001eff,#0002ff,#1100f5,#1b00f0,#2000ed,#2500ea,#2800e8,#2900e6,#2b00e3,#2d00e1,#2d00e0,#2d00e0,#2c00e1,#2b00e4,#2600e9,#1e00ee,#1300f4,#0400fd,#000dff,#001cff,#0028ff,#0030ff,#003bff,#004bff,#0067ff,#0085ff,#0091ff,#009dff,#00aaff,#00b9ff,#00cbff,#00dfff,#00f7ff,#00ffee,#00ffd9,#00ffc8,#00ffba,#00ffb1,#00ffa2,#00ff9d,#00ff9c,#00ff9c,#00ff9c,#00ff9d,#00ffa2,#00ffb0,#00ffb5,#00ffbe,#00ffc5,#00ffd1,#00ffe2,#00fffb,#00e5ff,#00c8ff,#00afff,#009cff,#0090ff,#0088ff,#0085ff,#007fff,#006cff,#0056ff,#0041ff,#002eff,#001cff,#000cff,#0200fe,#0d00f8,#1600f3,#2200eb,#3900ce,#4800b6,#4a00ae,#4a00a9,#4b00a5,#4d009c,#4f008c,#4f007b,#4f006f,#4e006a,#4e0068,#4e0067,#4e0067,#4e0067,#4e0067,#4e0067,#4e0067,#4e0067,#4e0067,#4e0067,#4e0067,#4e0067,#4e0067,#4e0067,#4e0067,#4e0067,#4e0067,#4e0067,#4e0067,#4e0068,#4e006a,#4f0074,#500081,#4f008a,#4e0095,#4c00a0,#4b00a5,#4b00a7,#4a00a9,#4a00a9,#4a00a9,#4a00a9,#4a00a9,#4a00a9,#4a00aa,#4a00ac,#4900b1,#4500bd,#3700d2,#2700e9,#1d00ee,#1c00ef,#1c00ef,#1c00ef,#1c00ef,#1c00ef,#1c00ef,#1c00ef,#1c00ef,#1e00ee,#2300eb,#2c00e1,#3400d6,#3a00cd,#3e00c6,#4100c2,#4400be,#4500bc,#4600bc,#4600bc,#4600bc,#4500bc,#4400bd,#4200c0,#4100c2,#4100c3,#4000c3,#4000c5,#3e00c7,#3d00c8,#3d00c9,#3d00c9,#3c00ca,#3b00cc,#3a00ce,#3900cf,#3800d0,#3700d1,#3700d1,#3600d3,#3300d8,#2e00de,#2800e8,#1e00ee,#0a00f9,#002bff,#005eff,#0089ff,#00c1ff,#00ffff,#00ffc3,#00ff7e,#00ff3f,#00ff1a,#00ff11)"></div>
<div style="background:linear-gradient(90deg,#1cff00,#2cff00,#32ff00,#32ff00,#21ff00,#00ff21,#00ff80,#00ffc3,#00ffe3,#00ffff,#00e7ff,#00d2ff,#00beff,#00abff,#009aff,#008bff,#0083ff,#007bff,#0074ff,#0069ff,#005cff,#004eff,#0046ff,#0043ff,#0041ff,#0040ff,#003eff,#0039ff,#002eff,#0014ff,#0a00f9,#1b00f0,#2100ec,#2800e8,#2c00e2,#2f00dd,#3100db,#3300d8,#3400d6,#3500d5,#3500d5,#3400d6,#3200da,#2d00e0,#2600e9,#1c00ef,#1000f6,#0300fd,#000cff,#001aff,#0024ff,#002eff,#003dff,#0056ff,#0077ff,#0088ff,#0092ff,#009cff,#00a8ff,#00b7ff,#00c9ff,#00deff,#00f6ff,#00fff3,#00ffe0,#00ffd2,#00ffc8,#00ffc0,#00ffbd,#00ffbc,#00ffbc,#00ffbb,#00ffbb,#00ffbc,#00ffc1,#00ffc4,#00ffc8,#00ffd0,#00ffdd,#00fff1,#00f4ff,#00d7ff,#00bbff,#00a1ff,#0091ff,#0088ff,#0084ff,#0081ff,#0079ff,#0069ff,#0055ff,#0042ff,#0030ff,#001eff,#000dff,#0200fe,#0c00f8,#1600f3,#2300eb,#3900ce,#4800b6,#4a00ae,#4a00a9,#4b00a5,#4d009c,#4f008d,#4f007d,#4f0070,#4e006a,#4e0068,#4e0067,#4e0067,#4e0067,#4e0067,#4e0067,#4e0067,#4e0067,#4e0067,#4e0067,#4e0067,#4e0067,#4e0067,#4e0067,#4e0067,#4e0067,#4e0067,#4e0067,#4e0067,#4e0068,#4e006a,#4f0074,#500082,#50008a,#4e0093,#4c009e,#4b00a4,#4b00a7,#4b00a8,#4a00a9,#4a00a9,#4a00a9,#4a00a9,#4a00a9,#4a00aa,#4a00ab,#4900af,#4800b7,#3e00c7,#3000dc,#2500ea,#2000ed,#1d00ee,#1d00ee,#1c00ef,#1c00ef,#1d00ee,#1d00ee,#2000ed,#2600e9,#2e00df,#3600d3,#3d00c8,#4300c0,#4700ba,#4800b7,#4800b5,#4900b4,#4900b4,#4900b4,#4900b4,#4900b4,#4900b5,#4800b6,#4800b7,#4800b7,#4800b7,#4800b7,#4700ba,#4600bb,#4600bb,#4600bb,#4500bc,#4500bd,#4400bf,#4200c0,#4100c2,#4100c3,#4100c3,#4000c4,#3d00c9,#3800d0,#3100da,#2800e8,#1b00f0,#000dff,#0044ff,#0073ff,#00a2ff,#00e6ff,#00ffcb,#00ff75,#00ff24,#02ff00,#12ff00)"></div>
<div style="background:linear-gradient(90deg,#4bff00,#6aff00,#77ff00,#77ff00,#65ff00,#11ff00,#00ff4a,#00ffab,#00ffd5,#00fff0,#00f7ff,#00e2ff,#00cfff,#00beff,#00adff,#009eff,#0091ff,#0088ff,#0081ff,#0076ff,#0066ff,#0055ff,#0049ff,#0044ff,#0041ff,#0040ff,#003eff,#0038ff,#0029ff,#000bff,#1400f4,#1f00ed,#2700e9,#2e00e0,#3300d7,#3600d2,#3900cf,#3a00cc,#3b00cb,#3c00ca,#3c00ca,#3b00cc,#3900cf,#3400d6,#2d00e0,#2400eb,#1900f0,#0f00f6,#0300fd,#0009ff,#0014ff,#001eff,#002cff,#0042ff,#0060ff,#007bff,#0085ff,#008eff,#0096ff,#00a2ff,#00b1ff,#00c5ff,#00dcff,#00f2ff,#00fff8,#00ffe7,#00ffdb,#00ffd2,#00ffce,#00ffcb,#00ffc9,#00ffc7,#00ffc6,#00ffc5,#00ffc7,#00ffca,#00ffd0,#00ffda,#00ffe9,#00fffe,#00e6ff,#00c9ff,#00abff,#0093ff,#0088ff,#0084ff,#0081ff,#007dff,#0074ff,#0066ff,#0055ff,#0043ff,#0031ff,#0020ff,#000fff,#0100fe,#0c00f8,#1600f2,#2300eb,#3a00cd,#4800b5,#4a00ae,#4a00a9,#4b00a6,#4c009d,#4f008f,#50007f,#4f0071,#4e006a,#4e0068,#4e0067,#4e0067,#4e0067,#4e0067,#4e0067,#4e0067,#4e0067,#4e0067,#4e0067,#4e0067,#4e0067,#4e0067,#4e0067,#4e0067,#4e0067,#4e0067,#4e0067,#4e0067,#4e0068,#4e006a,#4f0073,#500081,#500088,#4f0090,#4d009a,#4c00a1,#4b00a6,#4b00a8,#4a00a9,#4a00a9,#4a00a9,#4a00a9,#4a00a9,#4a00aa,#4a00ab,#4a00ae,#4900b2,#4400bd,#3a00cd,#3000dc,#2a00e5,#2500ea,#2300eb,#1f00ed,#1f00ed,#2200eb,#2500ea,#2a00e5,#3100db,#3800d0,#3f00c5,#4500bc,#4800b6,#4900b4,#4900b2,#4900b1,#4900b1,#4900b0,#4900b0,#4900b0,#4900b0,#4900b0,#4900b0,#4900b0,#4a00af,#4a00ad,#4a00ab,#4a00ad,#4a00ae,#4a00ad,#4a00ad,#4a00ad,#4a00ae,#4900b0,#4900b1,#4900b4,#4800b5,#4800b6,#4800b7,#4500bc,#4100c3,#3a00cd,#3000dc,#2300eb,#0800fa,#002cff,#005eff,#008aff,#00caff,#00ffd3,#00ff6b,#00ff0c,#1eff00,#39ff00)"></div>
<div style="background:linear-gradient(90deg,#7dff00,#a0ff00,#adff00,#aeff00,#a4ff00,#4bff00,#00ff1b,#00ff8a,#00ffc9,#00ffe3,#00fff8,#00f2ff,#00e0ff,#00d0ff,#00c1ff,#00b2ff,#00a5ff,#0099ff,#008dff,#0082ff,#0070ff,#005cff,#004dff,#0047ff,#0043ff,#0041ff,#003eff,#0037ff,#0026ff,#0004ff,#1a00f0,#2200eb,#2b00e4,#3300d7,#3a00cd,#3d00c8,#3f00c5,#4100c2,#4200c1,#4200c1,#4200c1,#4100c2,#4000c5,#3b00cb,#3400d6,#2b00e3,#2200ec,#1900f0,#0f00f6,#0600fb,#0002ff,#000cff,#0019ff,#002cff,#0045ff,#0060ff,#0070ff,#007dff,#0084ff,#008eff,#0099ff,#00abff,#00c2ff,#00d9ff,#00efff,#00fffc,#00ffed,#00ffe2,#00ffda,#00ffd5,#00ffd0,#00ffcd,#00ffcb,#00ffca,#00ffcb,#00ffcf,#00ffd6,#00ffe2,#00fff3,#00f5ff,#00d9ff,#00bbff,#009cff,#0087ff,#0084ff,#0082ff,#007fff,#007aff,#0071ff,#0064ff,#0055ff,#0044ff,#0032ff,#0021ff,#0010ff,#0100ff,#0c00f8,#1700f2,#2500ea,#3b00cb,#4900b5,#4a00ad,#4a00a9,#4b00a6,#4c009f,#4f0090,#50007f,#4f0073,#4e006a,#4e0068,#4e0067,#4e0067,#4e0067,#4e0067,#4e0067,#4e0067,#4e0067,#4e0067,#4e0067,#4e0067,#4e0067,#4e0067,#4e0067,#4e0067,#4e0067,#4e0067,#4e0067,#4e0067,#4e0068,#4e0069,#4f0071,#4f007e,#500085,#4f008c,#4e0094,#4c009d,#4b00a4,#4b00a7,#4a00a9,#4a00a9,#4a00a9,#4a00a9,#4a00a9,#4a00a9,#4a00aa,#4a00ac,#4900b0,#4800b6,#4200c1,#3a00cd,#3400d5,#3000dc,#2e00df,#2a00e5,#2a00e6,#2d00e1,#3000dc,#3500d5,#3b00cc,#4100c3,#4700ba,#4900b4,#4900b2,#4900b0,#4900af,#4a00ae,#4a00ad,#4a00ad,#4a00ad,#4a00ad,#4a00ad,#4a00ac,#4a00ac,#4a00aa,#4b00a8,#4b00a4,#4c00a1,#4c00a1,#4c00a1,#4c009f,#4c009e,#4c009e,#4c009f,#4c00a0,#4c00a2,#4b00a5,#4b00a8,#4a00aa,#4a00ad,#4900b3,#4800b8,#4200c1,#3700d1,#2a00e6,#1500f3,#0013ff,#0049ff,#0078ff,#00abff,#00ffe7,#00ff6d,#00ff00,#33ff00,#5eff00)"></div>
<div style="background:linear-gradient(90deg,#8dff00,#b0ff00,#c2ff00,#c8ff00,#bfff00,#88ff00,#0fff00,#00ff66,#00ffbb,#00ffd7,#00ffea,#00fffc,#00f1ff,#00e2ff,#00d4ff,#00c6ff,#00b9ff,#00acff,#009dff,#008dff,#0079ff,#0063ff,#0052ff,#004aff,#0046ff,#0042ff,#003fff,#0037ff,#0025ff,#0001ff,#1b00ef,#2400ea,#2d00e0,#3800d0,#4000c5,#4300c0,#4500bd,#4600bb,#4600bb,#4600ba,#4600ba,#4600bb,#4500bd,#4100c2,#3b00cc,#3300d8,#2b00e4,#2200ec,#1a00f0,#1200f4,#0c00f8,#0600fc,#0004ff,#0014ff,#0029ff,#0040ff,#0053ff,#0062ff,#0070ff,#007aff,#0085ff,#0092ff,#00a8ff,#00c0ff,#00d9ff,#00eeff,#00fffe,#00fff1,#00ffe7,#00ffde,#00ffd8,#00ffd3,#00ffcf,#00ffce,#00ffd0,#00ffd4,#00ffdc,#00ffe9,#00fffb,#00eaff,#00cdff,#00adff,#008eff,#0084ff,#0083ff,#0081ff,#007dff,#0077ff,#006fff,#0063ff,#0055ff,#0045ff,#0034ff,#0022ff,#0011ff,#0100ff,#0d00f8,#1800f1,#2900e7,#3d00c8,#4900b3,#4a00ad,#4a00a9,#4b00a6,#4c009f,#4e0091,#500080,#4f0074,#4e006a,#4e0069,#4e0067,#4e0067,#4e0067,#4e0067,#4e0067,#4e0067,#4e0067,#4e0067,#4e0067,#4e0067,#4e0067,#4e0067,#4e0067,#4e0067,#4e0067,#4e0067,#4e0067,#4e0067,#4e0068,#4e0069,#4f006e,#4f0079,#500081,#500087,#4f008d,#4d0098,#4c00a2,#4b00a7,#4b00a9,#4a00a9,#4a00a9,#4a00a9,#4a00a9,#4a00a9,#4a00aa,#4a00ab,#4a00ae,#4900b1,#4800b7,#4300bf,#3e00c7,#3b00cc,#3800d0,#3500d4,#3500d5,#3700d1,#3b00cc,#3e00c6,#4300bf,#4800b8,#4900b3,#4900b1,#4a00af,#4a00ad,#4a00ac,#4a00ac,#4a00ab,#4a00ab,#4a00ab,#4a00aa,#4a00aa,#4b00a9,#4b00a7,#4b00a5,#4c00a1,#4d009c,#4d0098,#4e0096,#4e0094,#4e0090,#4f008f,#4f008f,#4f0090,#4e0090,#4e0092,#4d0097,#4d009a,#4c009f,#4b00a5,#4a00ac,#4900b2,#4800b8,#3e00c6,#3000dc,#1f00ed,#0400fd,#0035ff,#0066ff,#008eff,#00f1ff,#00ff8a,#00ff03,#3bff00,#6bff00)"></div>
<div style="background:linear-gradient(90deg,#7cff00,#afff00,#d1ff00,#dcff00,#d4ff00,#b4ff00,#44ff00,#00ff40,#00ffa1,#00ffcd,#00ffde,#00ffed,#00fffb,#00f5ff,#00e7ff,#00dbff,#00ceff,#00c0ff,#00afff,#0099ff,#007fff,#006bff,#005aff,#004eff,#0049ff,#0045ff,#0041ff,#0038ff,#0025ff,#0002ff,#1b00ef,#2500ea,#2f00dd,#3a00cc,#4200c1,#4500bc,#4700b9,#4800b7,#4800b6,#4800b6,#4800b6,#4800b7,#4800b9,#4600bb,#4100c3,#3a00cd,#3200d8,#2b00e3,#2400ea,#1e00ee,#1800f1,#1400f3,#0d00f8,#0400fd,#000eff,#0022ff,#0034ff,#0046ff,#0056ff,#0064ff,#0072ff,#0080ff,#0090ff,#00a7ff,#00c4ff,#00dbff,#00efff,#00ffff,#00fff3,#00ffe8,#00ffe0,#00ffd9,#00ffd4,#00ffd3,#00ffd3,#00ffd8,#00ffe1,#00ffee,#00fcff,#00e1ff,#00c2ff,#009eff,#0087ff,#0084ff,#0082ff,#0080ff,#007cff,#0076ff,#006dff,#0062ff,#0055ff,#0046ff,#0035ff,#0024ff,#0012ff,#0000ff,#0e00f7,#1900f1,#2b00e4,#3f00c5,#4900b2,#4a00ad,#4a00a9,#4b00a6,#4c00a0,#4e0093,#500082,#4f0075,#4e006b,#4e0069,#4e0067,#4e0067,#4e0067,#4e0067,#4e0067,#4e0067,#4e0067,#4e0067,#4e0067,#4e0067,#4e0067,#4e0067,#4e0067,#4e0067,#4e0067,#4e0067,#4e0067,#4e0067,#4e0068,#4e0069,#4f006c,#4f0074,#4f007d,#500081,#500086,#4e0093,#4c00a0,#4b00a6,#4b00a8,#4a00a9,#4a00a9,#4a00a9,#4a00a9,#4a00aa,#4a00aa,#4a00aa,#4a00ac,#4a00af,#4900b1,#4800b6,#4600bb,#4400be,#4100c2,#3f00c5,#3f00c5,#4100c3,#4300bf,#4600ba,#4800b6,#4900b2,#4900b0,#4a00ae,#4a00ac,#4a00ab,#4a00aa,#4a00aa,#4a00aa,#4a00aa,#4a00a9,#4b00a8,#4b00a7,#4b00a6,#4b00a4,#4c00a0,#4d009a,#4e0094,#4f008f,#4f008b,#500089,#500083,#500082,#500082,#500082,#500082,#500084,#50008a,#4f008d,#4e0095,#4c009e,#4b00a6,#4a00ad,#4900b3,#4400bd,#3700d2,#2700e8,#1100f5,#0022ff,#0055ff,#007cff,#00c0ff,#00ffb4,#00ff10,#34ff00,#5fff00)"></div>
<div style="background:linear-gradient(90deg,#6fff00,#b2ff00,#e6ff00,#f7ff00,#edff00,#ceff00,#7dff00,#00ff19,#00ff78,#00ffc0,#00ffd2,#00ffdf,#00ffeb,#00fff6,#00fbff,#00f0ff,#00e4ff,#00d5ff,#00c3ff,#00a7ff,#0084ff,#0072ff,#0062ff,#0055ff,#004dff,#0049ff,#0044ff,#003bff,#0028ff,#0005ff,#1900f1,#2500ea,#2f00dd,#3b00cb,#4200c1,#4600ba,#4800b6,#4900b4,#4900b3,#4900b2,#4900b2,#4900b3,#4900b4,#4800b8,#4600bc,#4000c4,#3a00cd,#3300d7,#2d00e0,#2900e7,#2300eb,#2100ec,#1b00f0,#1600f3,#0a00f9,#0004ff,#0016ff,#002aff,#003cff,#004dff,#005eff,#006fff,#007eff,#0091ff,#00b0ff,#00caff,#00dfff,#00f1ff,#00fffe,#00fff1,#00ffe7,#00ffdf,#00ffd9,#00ffd6,#00ffd6,#00ffdb,#00ffe4,#00fff2,#00f6ff,#00d9ff,#00b6ff,#0092ff,#0084ff,#0083ff,#0082ff,#007fff,#007bff,#0075ff,#006dff,#0062ff,#0056ff,#0047ff,#0037ff,#0025ff,#0013ff,#0000ff,#0f00f7,#1b00ef,#2e00df,#4200c2,#4900b1,#4a00ac,#4a00a9,#4b00a7,#4c00a1,#4e0094,#500085,#4f0077,#4f006c,#4e0069,#4e0068,#4e0067,#4e0067,#4e0067,#4e0067,#4e0067,#4e0067,#4e0067,#4e0067,#4e0067,#4e0067,#4e0067,#4e0067,#4e0067,#4e0067,#4e0067,#4e0067,#4e0067,#4e0067,#4e0068,#4e006a,#4f006f,#4f0077,#4f007c,#500081,#4f008e,#4c009e,#4b00a6,#4b00a8,#4a00a9,#4a00a9,#4a00aa,#4a00aa,#4a00aa,#4a00aa,#4a00aa,#4a00ab,#4a00ad,#4900af,#4900b1,#4900b3,#4800b5,#4800b7,#4700b9,#4700ba,#4800b8,#4800b5,#4900b3,#4900b1,#4900af,#4a00ad,#4a00ac,#4a00ab,#4a00aa,#4a00aa,#4a00aa,#4a00a9,#4a00a9,#4b00a8,#4b00a7,#4b00a5,#4b00a4,#4c00a0,#4d009a,#4e0093,#4f008c,#500087,#500081,#4f007d,#4f007a,#4f0078,#4f0078,#4f0078,#4f0079,#4f007b,#50007e,#500083,#4f008c,#4d0097,#4c00a2,#4a00a9,#4900b0,#4800b7,#3d00c9,#2d00e0,#1a00f0,#0012ff,#0047ff,#006eff,#0097ff,#00ffe8,#00ff3c,#23ff00,#51ff00)"></div>
<div style="background:linear-gradient(90deg,#69ff00,#bfff00,#fff800,#ffe800,#fff400,#eaff00,#acff00,#19ff00,#00ff48,#00ffa3,#00ffc6,#00ffd3,#00ffdd,#00ffe5,#00fff0,#00fff9,#00faff,#00ecff,#00d9ff,#00b9ff,#008cff,#0079ff,#006cff,#005fff,#0055ff,#004eff,#0048ff,#003fff,#002cff,#000cff,#1500f3,#2300eb,#2e00df,#3a00cd,#4200c1,#4600bb,#4800b6,#4900b3,#4900b2,#4900b1,#4900b0,#4900b1,#4900b1,#4900b4,#4800b7,#4500bc,#4000c4,#3b00cc,#3500d4,#3100db,#2d00e1,#2a00e5,#2600e9,#2100ec,#1b00ef,#1100f5,#0500fc,#000eff,#0022ff,#0036ff,#004aff,#005dff,#0070ff,#0084ff,#009dff,#00b9ff,#00d0ff,#00e3ff,#00f5ff,#00fffa,#00ffee,#00ffe4,#00ffdc,#00ffd9,#00ffd8,#00ffdc,#00ffe6,#00fff5,#00f3ff,#00d3ff,#00acff,#008aff,#0084ff,#0083ff,#0081ff,#007eff,#007aff,#0075ff,#006dff,#0063ff,#0057ff,#0049ff,#0039ff,#0027ff,#0014ff,#0000ff,#1000f6,#1f00ed,#3200d9,#4400be,#4900b0,#4a00ac,#4a00a9,#4b00a7,#4c00a2,#4e0096,#500087,#4f0078,#4f006d,#4e0069,#4e0068,#4e0067,#4e0067,#4e0067,#4e0067,#4e0067,#4e0067,#4e0067,#4e0067,#4e0067,#4e0067,#4e0067,#4e0067,#4e0067,#4e0067,#4e0067,#4e0067,#4e0067,#4e0067,#4e0068,#4e0069,#4f006c,#4f0071,#4f0079,#50007f,#4f008b,#4d009c,#4b00a5,#4b00a8,#4a00a9,#4a00aa,#4a00aa,#4a00aa,#4a00ab,#4a00ab,#4a00ab,#4a00ab,#4a00ac,#4a00ae,#4900b0,#4900b1,#4900b2,#4900b2,#4900b3,#4900b3,#4900b2,#4900b1,#4900b0,#4a00ae,#4a00ad,#4a00ab,#4a00aa,#4a00aa,#4a00aa,#4a00a9,#4a00a9,#4a00a9,#4b00a8,#4b00a7,#4b00a5,#4b00a3,#4c009f,#4d0099,#4e0092,#4f008b,#500084,#50007e,#4f0079,#4f0075,#4f0072,#4f0071,#4f0071,#4f0071,#4f0071,#4f0073,#4f0076,#4f007b,#500084,#4e0091,#4c009d,#4b00a6,#4a00ad,#4900b3,#4200c1,#3200d9,#2100ec,#0004ff,#003bff,#0064ff,#0084ff,#00ecff,#00ff81,#0dff00,#43ff00)"></div>
<div style="background:linear-gradient(90deg,#64ff00,#d6ff00,#ffd200,#ffc600,#ffd600,#fff300,#d3ff00,#66ff00,#00ff0e,#00ff63,#00ffac,#00ffc3,#00ffcf,#00ffd7,#00ffdf,#00ffe6,#00fff0,#00fffb,#00f2ff,#00d2ff,#00a1ff,#0081ff,#0074ff,#006aff,#0060ff,#0057ff,#004fff,#0045ff,#0033ff,#0015ff,#0e00f7,#2000ec,#2b00e3,#3600d3,#4000c5,#4500bc,#4800b8,#4900b5,#4900b2,#4900b1,#4900b0,#4900b0,#4900b0,#4900b1,#4900b4,#4800b7,#4500bc,#4100c2,#3d00c9,#3800cf,#3500d5,#3200da,#2e00df,#2a00e4,#2600e9,#2000ed,#1700f2,#0a00f9,#0008ff,#0020ff,#0036ff,#004cff,#0062ff,#0079ff,#008eff,#00a9ff,#00c1ff,#00d7ff,#00ebff,#00fcff,#00fff4,#00ffe8,#00ffdf,#00ffda,#00ffd9,#00ffdd,#00ffe6,#00fff5,#00f1ff,#00cfff,#00a2ff,#0086ff,#0084ff,#0083ff,#0081ff,#007eff,#007aff,#0075ff,#006eff,#0064ff,#0059ff,#004bff,#003bff,#002aff,#0016ff,#0000ff,#1100f5,#2200eb,#3600d4,#4600bb,#4900b0,#4a00ab,#4a00a9,#4b00a7,#4b00a3,#4d0098,#500089,#4f007a,#4f006e,#4e0069,#4e0068,#4e0067,#4e0067,#4e0067,#4e0067,#4e0067,#4e0067,#4e0067,#4e0067,#4e0067,#4e0067,#4e0067,#4e0067,#4e0067,#4e0067,#4e0067,#4e0067,#4e0067,#4e0067,#4e0068,#4e0069,#4e006a,#4f006d,#4f0076,#50007e,#500089,#4d009b,#4b00a5,#4b00a8,#4a00a9,#4a00aa,#4a00ab,#4a00ab,#4a00ac,#4a00ad,#4a00ad,#4a00ad,#4a00ae,#4a00ae,#4900af,#4900b0,#4900b1,#4900b2,#4900b1,#4900b1,#4900b0,#4900af,#4a00ad,#4a00ac,#4a00ab,#4a00aa,#4a00aa,#4a00aa,#4a00a9,#4a00a9,#4a00a9,#4b00a9,#4b00a7,#4b00a6,#4b00a3,#4c009f,#4d0099,#4e0092,#4f008b,#500083,#4f007c,#4f0076,#4f0071,#4f006e,#4f006c,#4f006c,#4f006c,#4f006c,#4f006c,#4f006d,#4f006f,#4f0074,#4f007d,#4f008b,#4d0099,#4b00a4,#4a00aa,#4900b2,#4600bb,#3600d3,#2500ea,#0400fd,#0032ff,#005dff,#007bff,#00ccff,#00ffb5,#00ff12,#35ff00)"></div>
<div style="background:linear-gradient(90deg,#61ff00,#f4ff00,#ff9e00,#ff9700,#ffb400,#ffd100,#fffd00,#b1ff00,#3dff00,#00ff15,#00ff59,#00ff91,#00ffb0,#00ffc1,#00ffcc,#00ffd5,#00ffdc,#00ffe6,#00fff4,#00f2ff,#00c4ff,#0090ff,#007eff,#0074ff,#006bff,#0062ff,#0059ff,#004eff,#003cff,#0021ff,#0300fd,#1b00ef,#2800e8,#3100da,#3a00cc,#4100c2,#4600bb,#4800b8,#4900b5,#4900b2,#4900b0,#4900af,#4900af,#4900b0,#4900b2,#4900b4,#4800b7,#4600bb,#4300c0,#3f00c5,#3c00ca,#3900ce,#3600d3,#3200d9,#2e00df,#2900e6,#2300eb,#1a00f0,#0d00f8,#0009ff,#0022ff,#003bff,#0053ff,#006cff,#0082ff,#009aff,#00b4ff,#00cbff,#00e1ff,#00f4ff,#00fff9,#00ffeb,#00ffe1,#00ffda,#00ffd8,#00ffdb,#00ffe4,#00fff3,#00f3ff,#00ceff,#0099ff,#0084ff,#0085ff,#0083ff,#0081ff,#007fff,#007bff,#0076ff,#006fff,#0066ff,#005bff,#004eff,#003eff,#002cff,#0018ff,#0001ff,#1200f5,#2500ea,#3800cf,#4800b8,#4900af,#4a00ab,#4a00a9,#4b00a7,#4b00a4,#4d0099,#50008a,#4f007c,#4f006f,#4e0069,#4e0068,#4e0067,#4e0067,#4e0067,#4e0067,#4e0067,#4e0067,#4e0067,#4e0067,#4e0067,#4e0067,#4e0067,#4e0067,#4e0067,#4e0067,#4e0067,#4e0067,#4e0067,#4e0067,#4e0068,#4e0069,#4e006a,#4f006d,#4f0075,#4f007e,#500089,#4d009b,#4b00a5,#4b00a8,#4a00aa,#4a00ab,#4a00ac,#4a00ae,#4a00af,#4900af,#4900b0,#4900b0,#4900b0,#4900b1,#4900b1,#4900b1,#4900b2,#4900b2,#4900b1,#4900b1,#4900af,#4a00ae,#4a00ac,#4a00ab,#4a00aa,#4a00aa,#4a00a9,#4a00a9,#4a00a9,#4a00a9,#4a00a9,#4b00a8,#4b00a6,#4b00a3,#4c009e,#4d0098,#4e0092,#4f008b,#500084,#4f007b,#4f0075,#4f006f,#4f006b,#4e006b,#4e006a,#4e006a,#4e006a,#4e006a,#4e006a,#4e006a,#4e006b,#4f006e,#4f0078,#500085,#4e0096,#4b00a3,#4a00a9,#4900b0,#4700b9,#3900cf,#2700e9,#0700fb,#002dff,#0057ff,#0076ff,#00b4ff,#00ffd5,#00ff2f,#28ff00)"></div>
<div style="background:linear-gradient(90deg,#5aff00,#ffed00,#ff4f00,#ff3a00,#ff7c00,#ffa800,#ffcf00,#f5ff00,#a5ff00,#53ff00,#17ff00,#00ff20,#00ff5a,#00ff75,#00ffa0,#00ffb1,#00ffb8,#00ffcf,#00ffd8,#00ffed,#00efff,#00b8ff,#008fff,#0080ff,#0075ff,#006dff,#0064ff,#0059ff,#0048ff,#002eff,#000dff,#1300f4,#2200ec,#2c00e3,#3400d6,#3b00cb,#4100c2,#4500bc,#4800b8,#4900b5,#4900b2,#4900b0,#4900af,#4900af,#4900b0,#4900b2,#4900b4,#4800b6,#4700b9,#4500bc,#4200c0,#4000c4,#3d00c8,#3a00cd,#3600d4,#3100db,#2b00e3,#2400ea,#1a00f0,#0a00fa,#000eff,#0029ff,#0044ff,#005fff,#0078ff,#008dff,#00a6ff,#00c0ff,#00d8ff,#00edff,#00fffd,#00ffed,#00ffe1,#00ffd9,#00ffd6,#00ffd8,#00ffe0,#00ffee,#00f8ff,#00d1ff,#0096ff,#0085ff,#0086ff,#0084ff,#0082ff,#0080ff,#007cff,#0077ff,#0070ff,#0068ff,#005eff,#0051ff,#0042ff,#0030ff,#001bff,#0003ff,#1200f5,#2800e8,#3a00cc,#4800b6,#4900af,#4a00aa,#4a00a9,#4b00a7,#4b00a4,#4d0099,#4f008b,#4f007e,#4f0070,#4e0069,#4e0068,#4e0067,#4e0067,#4e0067,#4e0067,#4e0067,#4e0067,#4e0067,#4e0067,#4e0067,#4e0067,#4e0067,#4e0067,#4e0067,#4e0067,#4e0067,#4e0067,#4e0067,#4e0067,#4e0068,#4e0069,#4e006b,#4f006d,#4f0075,#50007f,#4f008c,#4d009c,#4b00a5,#4b00a8,#4a00ab,#4a00ad,#4a00af,#4900b0,#4900b2,#4900b3,#4900b3,#4900b3,#4900b4,#4900b4,#4900b4,#4900b4,#4900b4,#4900b3,#4900b2,#4900b2,#4900b0,#4900af,#4a00ad,#4a00ab,#4a00aa,#4a00aa,#4a00a9,#4a00a9,#4a00a9,#4a00a9,#4a00a9,#4b00a7,#4b00a5,#4c009f,#4d0098,#4e0091,#4f008b,#500084,#4f007d,#4f0074,#4f006e,#4e006a,#4e006a,#4e0069,#4e0069,#4e0069,#4e0069,#4e0069,#4e0069,#4e0069,#4e006a,#4f006b,#4f0074,#500081,#4e0094,#4c00a2,#4b00a8,#4900b0,#4800b8,#3a00ce,#2700e8,#0800fb,#002aff,#0055ff,#0073ff,#00a4ff,#00ffe8,#00ff4b,#13ff00)"></div>
<div style="background:linear-gradient(90deg,#5cff00,#ffcf00,#ff2800,#ff2800,#ff2800,#ff5c00,#ff9700,#ffc300,#fff600,#d2ff00,#99ff00,#64ff00,#35ff00,#12ff00,#00ff1e,#00ff42,#00ff51,#00ff8f,#00ffa0,#00ffc0,#00ffdc,#00f4ff,#00c3ff,#009dff,#0084ff,#0078ff,#006fff,#0065ff,#0055ff,#003eff,#0020ff,#0500fc,#1a00f0,#2500ea,#2d00e0,#3400d5,#3b00cc,#4000c3,#4500bd,#4800b8,#4900b5,#4900b2,#4900b0,#4900af,#4900af,#4900b0,#4900b1,#4900b3,#4800b5,#4800b7,#4700ba,#4500bc,#4300bf,#4100c3,#3d00c9,#3800cf,#3300d8,#2c00e2,#2300eb,#1800f1,#0500fc,#0018ff,#0036ff,#0052ff,#006dff,#0082ff,#0099ff,#00b5ff,#00cfff,#00e7ff,#00fdff,#00ffee,#00ffe0,#00ffd7,#00ffd3,#00ffd3,#00ffda,#00ffe7,#00fffd,#00daff,#0099ff,#0084ff,#0085ff,#0085ff,#0083ff,#0081ff,#007eff,#0079ff,#0073ff,#006bff,#0061ff,#0055ff,#0046ff,#0034ff,#001eff,#0005ff,#1100f5,#2800e7,#3c00cb,#4800b6,#4a00ae,#4a00aa,#4a00a9,#4b00a7,#4b00a4,#4d0099,#4f008b,#4f007d,#4f0070,#4e006a,#4e0068,#4e0067,#4e0067,#4e0067,#4e0067,#4e0067,#4e0067,#4e0067,#4e0067,#4e0067,#4e0067,#4e0067,#4e0067,#4e0067,#4e0067,#4e0067,#4e0067,#4e0067,#4e0068,#4e0069,#4e006a,#4e006b,#4f0070,#4f0078,#500081,#4f008f,#4c009e,#4b00a6,#4a00a9,#4a00ac,#4a00af,#4900b1,#4900b5,#4800b8,#4600ba,#4600bb,#4600bb,#4600bc,#4600bc,#4600bc,#4600bc,#4600bb,#4700ba,#4800b7,#4800b5,#4900b3,#4900b1,#4900af,#4a00ad,#4a00ab,#4a00aa,#4a00aa,#4a00a9,#4a00a9,#4a00a9,#4b00a8,#4b00a6,#4c00a2,#4d009a,#4e0091,#500089,#500083,#4f007d,#4f0075,#4f006d,#4e006a,#4e0069,#4e0069,#4e0069,#4e0068,#4e0068,#4e0068,#4e0068,#4e0068,#4e0069,#4e006a,#4f006b,#4f0072,#500080,#4e0093,#4c00a1,#4b00a9,#4900b0,#4700b9,#3900cf,#2700e9,#0700fb,#002aff,#0054ff,#0072ff,#00a0ff,#00ffef,#00ff59,#07ff00)"></div>
<div style="background:linear-gradient(90deg,#6dff00,#ffb200,#ff2800,#ff2800,#ff2800,#ff2800,#ff3300,#ff6c00,#ffa200,#ffb900,#ffed00,#f7ff00,#e4ff00,#b0ff00,#9aff00,#7dff00,#5bff00,#02ff00,#00ff12,#00ff44,#00ff8a,#00ffc1,#00fff5,#00ddff,#00abff,#008aff,#007cff,#0071ff,#0063ff,#004fff,#0035ff,#0013ff,#0a00f9,#1c00ef,#2600e9,#2d00e0,#3400d7,#3a00cd,#3f00c5,#4400bd,#4800b8,#4900b4,#4900b1,#4900af,#4900af,#4900af,#4900b0,#4900b1,#4900b2,#4900b4,#4800b6,#4800b7,#4700b9,#4600bb,#4300bf,#3f00c5,#3a00cd,#3300d8,#2b00e3,#2100ec,#1300f4,#0006ff,#0028ff,#0046ff,#0062ff,#007aff,#008dff,#00aaff,#00c7ff,#00e2ff,#00faff,#00ffef,#00ffde,#00ffd3,#00ffce,#00ffce,#00ffd3,#00ffdd,#00fff0,#00eaff,#00aaff,#0086ff,#0084ff,#0084ff,#0084ff,#0083ff,#0080ff,#007cff,#0076ff,#006eff,#0065ff,#0059ff,#004bff,#0039ff,#0023ff,#0009ff,#1000f6,#2800e7,#3b00cb,#4800b6,#4a00af,#4a00aa,#4a00a9,#4b00a8,#4b00a4,#4d0099,#500089,#4f007c,#4f0070,#4e006a,#4e0068,#4e0067,#4e0067,#4e0067,#4e0067,#4e0067,#4e0067,#4e0067,#4e0067,#4e0067,#4e0067,#4e0067,#4e0067,#4e0067,#4e0067,#4e0067,#4e0067,#4e0068,#4e0069,#4e0069,#4e006a,#4f006d,#4f0074,#4f007c,#500085,#4e0094,#4c00a0,#4b00a7,#4a00aa,#4a00ae,#4900b1,#4800b7,#4400be,#4000c4,#3e00c7,#3d00c8,#3d00c8,#3d00c8,#3d00c8,#3d00c8,#3d00c8,#3e00c8,#3f00c6,#4100c2,#4400be,#4700ba,#4800b5,#4900b2,#4900b0,#4a00ad,#4a00ab,#4a00aa,#4a00aa,#4a00a9,#4a00a9,#4b00a8,#4b00a6,#4c009f,#4e0094,#500089,#500082,#4f007c,#4f0075,#4f006e,#4e006a,#4e0069,#4e0069,#4e0068,#4e0068,#4e0068,#4e0068,#4e0068,#4e0068,#4e0068,#4e0069,#4e006a,#4e006b,#4f0072,#500081,#4e0093,#4c00a2,#4a00aa,#4900b2,#4600bb,#3600d3,#2500ea,#0600fc,#002dff,#0057ff,#0073ff,#00a0ff,#00ffee,#00ff53,#0fff00)"></div>
<div style="background:linear-gradient(90deg,#9aff00,#ff8600,#ff2800,#ff2800,#ff2800,#ff2800,#ff2800,#ff2800,#ff2f00,#ff4900,#ff8200,#ff8b00,#ff8f00,#ff9a00,#ff9f00,#ffd200,#fff900,#d9ff00,#b8ff00,#62ff00,#22ff00,#00ff40,#00ff8f,#00ffd4,#00f2ff,#00bdff,#0096ff,#0081ff,#0073ff,#0062ff,#004bff,#0030ff,#000fff,#0e00f7,#1c00ef,#2500ea,#2c00e2,#3200d9,#3900cf,#3f00c6,#4500bd,#4800b7,#4900b2,#4900b0,#4900af,#4a00af,#4900af,#4900af,#4900b0,#4900b1,#4900b2,#4900b3,#4800b5,#4800b7,#4700b9,#4500bd,#4000c4,#3a00cd,#3100da,#2800e8,#1c00ef,#0800fa,#001aff,#003bff,#0058ff,#0072ff,#0085ff,#00a0ff,#00bfff,#00ddff,#00f8ff,#00ffed,#00ffda,#00ffcf,#00ffca,#00ffca,#00ffcd,#00ffd4,#00ffe3,#00fffe,#00cdff,#0097ff,#0087ff,#0084ff,#0083ff,#0083ff,#0081ff,#007eff,#0079ff,#0073ff,#006aff,#005fff,#0051ff,#003fff,#0029ff,#000eff,#0e00f7,#2700e8,#3a00cd,#4800b7,#4900af,#4a00ab,#4a00a9,#4b00a8,#4b00a4,#4d0099,#500088,#4f007c,#4f0071,#4e006b,#4e0069,#4e0068,#4e0067,#4e0067,#4e0067,#4e0067,#4e0067,#4e0067,#4e0067,#4e0067,#4e0067,#4e0067,#4e0067,#4e0067,#4e0067,#4e0067,#4e0068,#4e0069,#4e0069,#4e006a,#4f006d,#4f0072,#4f0079,#500080,#4f008b,#4d0098,#4b00a3,#4b00a8,#4a00ac,#4900b0,#4800b7,#4200c1,#3b00cb,#3700d2,#3400d6,#3300d7,#3300d7,#3300d7,#3300d8,#3300d8,#3300d7,#3300d7,#3500d5,#3800d0,#3b00cb,#3f00c5,#4400bf,#4800b8,#4900b3,#4900b0,#4a00ad,#4a00ab,#4a00aa,#4a00aa,#4a00a9,#4b00a8,#4b00a4,#4d009b,#4f008d,#500082,#4f007a,#4f0074,#4f006e,#4e006a,#4e0069,#4e0069,#4e0068,#4e0068,#4e0068,#4e0067,#4e0068,#4e0068,#4e0068,#4e0068,#4e0069,#4e006a,#4f006b,#4f0075,#500083,#4e0095,#4b00a3,#4a00ac,#4900b4,#4300c0,#3300d8,#2200ec,#0100fe,#0033ff,#005bff,#0076ff,#00a7ff,#00ffe6,#00ff3e,#33ff00)"></div>
<div style="background:linear-gradient(90deg,#ebff00,#ff5900,#ff2800,#ff2800,#ff2800,#ff2800,#ff2800,#ff2800,#ff2800,#ff2800,#ff2800,#ff2800,#ff2800,#ff2800,#ff2800,#ff4f00,#ff6400,#ff7a00,#ffb500,#ffef00,#d2ff00,#78ff00,#18ff00,#00ff54,#00ffb1,#00fff4,#00d4ff,#00a3ff,#0087ff,#0076ff,#0064ff,#004dff,#002fff,#000cff,#0c00f8,#1b00f0,#2300eb,#2a00e4,#3100da,#3800cf,#4000c4,#4700ba,#4900b4,#4900b1,#4900af,#4a00af,#4a00af,#4900af,#4900af,#4900b0,#4900b0,#4900b1,#4900b2,#4900b3,#4800b5,#4800b8,#4500bc,#4000c4,#3800d1,#2e00e0,#2200ec,#1300f4,#000dff,#0031ff,#004fff,#0069ff,#007fff,#0096ff,#00b8ff,#00d8ff,#00f7ff,#00ffeb,#00ffd6,#00ffc9,#00ffc4,#00ffc3,#00ffc5,#00ffc8,#00ffd0,#00ffe5,#00f8ff,#00c9ff,#00a4ff,#008fff,#0088ff,#0084ff,#0082ff,#0080ff,#007cff,#0077ff,#006fff,#0065ff,#0057ff,#0046ff,#0030ff,#0014ff,#0b00f9,#2500ea,#3800d0,#4700b9,#4900b1,#4a00ac,#4a00aa,#4b00a8,#4b00a5,#4d009a,#50008a,#4f007d,#4f0073,#4e006b,#4e006a,#4e0068,#4e0068,#4e0067,#4e0067,#4e0067,#4e0067,#4e0067,#4e0067,#4e0067,#4e0067,#4e0067,#4e0067,#4e0067,#4e0067,#4e0068,#4e0068,#4e0069,#4e006a,#4f006d,#4f0071,#4f0077,#50007e,#500087,#4e0091,#4c009c,#4b00a5,#4a00a9,#4a00ae,#4900b4,#4300c0,#3900ce,#3100da,#2c00e3,#2900e7,#2800e7,#2800e7,#2800e8,#2800e8,#2800e8,#2800e7,#2900e7,#2a00e5,#2e00df,#3100db,#3500d4,#3b00cc,#4100c2,#4700b9,#4900b3,#4900b0,#4a00ad,#4a00ab,#4a00aa,#4a00a9,#4b00a7,#4b00a3,#4d0097,#500087,#4f007c,#4f0073,#4f006e,#4e006a,#4e0069,#4e0069,#4e0068,#4e0068,#4e0067,#4e0068,#4e0068,#4e0068,#4e0068,#4e0069,#4e0069,#4e006a,#4e006a,#4f006e,#4f0079,#500088,#4d0098,#4b00a5,#4a00af,#4800b7,#3e00c8,#2e00df,#1c00ef,#0009ff,#003dff,#0062ff,#007bff,#00beff,#00ffd2,#00ff23,#74ff00)"></div>
<div style="background:linear-gradient(90deg,#ffcd00,#ff2800,#ff2800,#ff2800,#ff2800,#ff2800,#ff2800,#ff2800,#ff2800,#ff2800,#ff2800,#ff2800,#ff2800,#ff2800,#ff2800,#ff2800,#ff2800,#ff2800,#ff3900,#ff8c00,#ffbc00,#fff600,#b7ff00,#4cff00,#00ff2d,#00ff98,#00ffe1,#00deff,#00a9ff,#008bff,#007aff,#006bff,#0050ff,#002dff,#000aff,#0d00f8,#1900f0,#2100ec,#2900e6,#3100db,#3a00cd,#4300c0,#4800b6,#4900b2,#4900af,#4a00af,#4a00af,#4a00af,#4a00af,#4900af,#4900af,#4900af,#4900b0,#4900b1,#4900b2,#4900b5,#4800b8,#4500bd,#3d00c8,#3300d8,#2700e8,#1b00f0,#0002ff,#0028ff,#0047ff,#0062ff,#0079ff,#008eff,#00b1ff,#00d4ff,#00f7ff,#00ffe8,#00ffcf,#00ffba,#00ff9d,#00ff96,#00ff96,#00ff96,#00ff9a,#00ffbd,#00ffd3,#00fff8,#00e4ff,#00c3ff,#00a9ff,#0097ff,#0089ff,#0084ff,#0080ff,#007bff,#0075ff,#006cff,#005fff,#004fff,#0039ff,#001dff,#0600fc,#2100ec,#3500d5,#4500bd,#4900b3,#4a00ad,#4a00aa,#4b00a8,#4b00a5,#4d009c,#4f008d,#50007f,#4f0075,#4f006d,#4e006a,#4e0069,#4e0068,#4e0068,#4e0068,#4e0067,#4e0067,#4e0067,#4e0067,#4e0067,#4e0067,#4e0067,#4e0067,#4e0067,#4e0068,#4e0068,#4e0069,#4e006a,#4f006e,#4f0072,#4f0078,#4f007d,#500084,#4f008d,#4d0097,#4c00a0,#4b00a6,#4a00aa,#4900af,#4700ba,#3b00cb,#2f00dd,#2600e9,#2000ec,#1d00ee,#1c00ef,#1c00ef,#1b00ef,#1b00f0,#1a00f0,#1a00f0,#1a00f0,#1c00ef,#2200eb,#2500e9,#2b00e3,#3100db,#3800d0,#4000c4,#4700b9,#4900b3,#4900b0,#4a00ad,#4a00ab,#4a00a9,#4b00a7,#4c00a2,#4e0094,#500082,#4f0077,#4f006e,#4e006a,#4e0069,#4e0069,#4e0068,#4e0068,#4e0068,#4e0068,#4e0068,#4e0068,#4e0069,#4e0069,#4e0069,#4e006a,#4e006b,#4f006d,#4f0074,#50007e,#4f008d,#4c009d,#4a00a9,#4900b2,#4400be,#3700d1,#2900e7,#1500f3,#0018ff,#0049ff,#006aff,#0087ff,#00ebff,#00ffab,#12ff00,#b1ff00)"></div>
<div style="background:linear-gradient(90deg,#ff9400,#ff2800,#ff2800,#ff2800,#ff2800,#ff2800,#ff2800,#ff2800,#ff2800,#ff2800,#ff2800,#ff2800,#ff2800,#ff2800,#ff2800,#ff2800,#ff2800,#ff2800,#ff2800,#ff5300,#ff9a00,#ffb200,#ffe000,#b5ff00,#56ff00,#00ff27,#00ff92,#00ffe4,#00d0ff,#00a0ff,#008aff,#0080ff,#0071ff,#004dff,#0024ff,#0004ff,#0d00f7,#1800f1,#2000ed,#2900e6,#3400d7,#3f00c6,#4700b9,#4900b3,#4900b0,#4a00af,#4a00af,#4a00af,#4a00af,#4a00af,#4a00af,#4900af,#4900af,#4900af,#4900b0,#4900b2,#4900b4,#4700b9,#4200c2,#3700d1,#2b00e3,#1e00ee,#0500fc,#0021ff,#0041ff,#005bff,#0072ff,#0089ff,#00aaff,#00d1ff,#00f7ff,#00ffe4,#00ffc4,#00ff84,#00ff3a,#00ff1e,#00ff1d,#00ff1d,#00ff20,#00ff55,#00ff77,#00ffab,#00ffd0,#00fff5,#00eeff,#00ceff,#00aeff,#0097ff,#0089ff,#0080ff,#007bff,#0073ff,#0068ff,#0058ff,#0043ff,#0027ff,#0002ff,#1d00ee,#3100db,#4100c3,#4800b5,#4900b0,#4a00ac,#4a00a9,#4b00a6,#4c009f,#4e0091,#500082,#4f0079,#4f0070,#4e006b,#4e006a,#4e0069,#4e0069,#4e0068,#4e0068,#4e0068,#4e0067,#4e0067,#4e0067,#4e0067,#4e0067,#4e0067,#4e0068,#4e0068,#4e0069,#4e006a,#4f006e,#4f0073,#4f0078,#50007e,#500084,#4f008c,#4e0094,#4c009d,#4b00a4,#4b00a7,#4a00ac,#4900b2,#4200c1,#3300d8,#2500ea,#1c00ef,#1900f0,#1600f2,#1400f3,#1200f4,#1000f6,#0e00f7,#0c00f8,#0b00f9,#0b00f9,#0e00f7,#1400f4,#1900f1,#1f00ed,#2600e9,#2e00df,#3700d1,#4000c4,#4700b9,#4900b3,#4900af,#4a00ac,#4a00aa,#4b00a7,#4c00a2,#4e0093,#500080,#4f0074,#4f006b,#4e006a,#4e0069,#4e0068,#4e0068,#4e0068,#4e0068,#4e0068,#4e0069,#4e0069,#4e0069,#4e006a,#4e006b,#4f006c,#4f006e,#4f0074,#4f007b,#500086,#4e0096,#4b00a3,#4a00ae,#4800b8,#3e00c7,#3100db,#2100ec,#0900fa,#002aff,#0056ff,#0076ff,#00abff,#00ffd3,#00ff61,#68ff00,#edff00)"></div>
<div style="background:linear-gradient(90deg,#ff4700,#ff2800,#ff2800,#ff2800,#ff2800,#ff2800,#ff2800,#ff2800,#ff2800,#ff2800,#ff2800,#ff2800,#ff2800,#ff2800,#ff2800,#ff2800,#ff2800,#ff2800,#ff2800,#ff6200,#ff9900,#ffa600,#ffc100,#ceff00,#9bff00,#14ff00,#00ff4c,#00ffbf,#00efff,#00aeff,#0092ff,#0088ff,#0082ff,#006bff,#003bff,#0017ff,#0100fe,#0f00f7,#1900f1,#2000ec,#2c00e1,#3a00cd,#4500bc,#4900b4,#4900b0,#4a00af,#4a00af,#4a00af,#4a00af,#4a00af,#4a00af,#4a00af,#4a00af,#4900af,#4900af,#4900b0,#4900b2,#4800b6,#4400bd,#3b00cc,#2e00df,#2100ec,#0900fa,#001cff,#003cff,#0055ff,#006cff,#0082ff,#00a2ff,#00cdff,#00f8ff,#00ffdf,#00ffad,#00ff2d,#30ff00,#6bff00,#6dff00,#6dff00,#6aff00,#3dff00,#10ff00,#00ff28,#00ff67,#00ff9d,#00ffc8,#00ffed,#00edff,#00caff,#00acff,#0092ff,#0083ff,#007bff,#0071ff,#0063ff,#004fff,#0034ff,#000fff,#1600f2,#2c00e2,#3b00cb,#4700ba,#4900b2,#4a00ae,#4a00ab,#4b00a7,#4c00a1,#4e0095,#500087,#4f007d,#4f0075,#4f006e,#4e006b,#4e006a,#4e0069,#4e0069,#4e0069,#4e0068,#4e0068,#4e0068,#4e0068,#4e0068,#4e0068,#4e0068,#4e0068,#4e0069,#4e006a,#4f006c,#4f0072,#4f0079,#50007f,#500085,#4f008b,#4e0093,#4d009b,#4c00a2,#4b00a6,#4b00a8,#4a00ad,#4900b5,#3d00c9,#2a00e5,#1d00ee,#1800f1,#1400f3,#1100f5,#0d00f7,#0a00f9,#0600fc,#0200fe,#0003ff,#0006ff,#0006ff,#0002ff,#0400fd,#0b00f9,#1200f4,#1b00f0,#2300eb,#2d00e0,#3700d1,#4000c3,#4800b8,#4900b2,#4900af,#4a00ac,#4b00a8,#4c00a2,#4e0093,#500080,#4f0072,#4f006c,#4e006a,#4e0069,#4e0068,#4e0068,#4e0068,#4e0069,#4e0069,#4e0069,#4e006a,#4e006a,#4f006c,#4f006e,#4f0071,#4f0076,#4f007b,#500083,#4f0090,#4c00a0,#4a00ab,#4800b6,#4100c2,#3600d3,#2a00e5,#1900f1,#0009ff,#003dff,#0066ff,#0091ff,#00f5ff,#00ff86,#13ff00,#deff00,#ffb900)"></div>
<div style="background:linear-gradient(90deg,#ff2800,#ff2800,#ff2800,#ff2800,#ff2800,#ff2800,#ff2800,#ff2800,#ff2800,#ff2800,#ff2800,#ff2800,#ff3400,#ff3a00,#ff6400,#ff8900,#ff8b00,#ff8b00,#ff8e00,#ffa100,#ffb300,#ffcf00,#fff700,#b6ff00,#84ff00,#11ff00,#00ff46,#00ffb8,#00faff,#00b3ff,#0096ff,#008aff,#0086ff,#007dff,#0051ff,#0027ff,#000eff,#0500fc,#1300f4,#1b00f0,#2400ea,#3600d3,#4300bf,#4900b5,#4900b0,#4a00af,#4a00af,#4a00ae,#4a00af,#4a00af,#4a00af,#4a00af,#4a00af,#4a00af,#4a00af,#4900af,#4900b0,#4900b4,#4600bc,#3d00c8,#3000dc,#2300eb,#0c00f8,#0019ff,#0038ff,#0050ff,#0067ff,#007dff,#009cff,#00caff,#00f9ff,#00ffd9,#00ff83,#15ff00,#96ff00,#efff00,#f9ff00,#f9ff00,#f8ff00,#e5ff00,#a6ff00,#78ff00,#31ff00,#00ff14,#00ff64,#00ff9a,#00ffcd,#00fff4,#00e5ff,#00bfff,#009dff,#0088ff,#007cff,#006fff,#005dff,#0043ff,#0020ff,#0c00f8,#2600e9,#3500d5,#4100c2,#4800b6,#4900b1,#4a00ae,#4a00a9,#4b00a4,#4d009a,#4f008d,#500081,#4f007a,#4f0074,#4f006f,#4f006c,#4e006b,#4e006a,#4e0069,#4e0069,#4e0069,#4e0069,#4e0069,#4e0069,#4e0069,#4e0069,#4e0069,#4e006a,#4e006b,#4f0070,#4f0078,#50007f,#500086,#4f008c,#4e0093,#4d009a,#4c00a0,#4b00a5,#4b00a7,#4a00aa,#4a00af,#4800b8,#3800d0,#2200eb,#1900f1,#1400f3,#1000f6,#0b00f9,#0600fb,#0100fe,#0006ff,#000eff,#0016ff,#001bff,#001cff,#0019ff,#0012ff,#0008ff,#0400fd,#0f00f6,#1900f0,#2300eb,#2e00e0,#3800d0,#4200c1,#4800b7,#4900b2,#4a00ae,#4a00a9,#4b00a3,#4e0095,#500082,#4f0073,#4f006c,#4e006a,#4e0069,#4e0069,#4e0069,#4e0069,#4e0069,#4e006a,#4e006a,#4f006c,#4f006e,#4f0072,#4f0075,#4f0079,#4f007e,#500084,#4f008f,#4c009d,#4a00ab,#4800b6,#4300c0,#3900ce,#2e00de,#2100ec,#0b00f9,#0023ff,#0051ff,#007bff,#00d4ff,#00ffac,#00ff1c,#91ff00,#ffb000,#ff5300)"></div>
<div style="background:linear-gradient(90deg,#ff2800,#ff2800,#ff2800,#ff2800,#ff2800,#ff2800,#ff2800,#ff2800,#ff2800,#ff3500,#ff6600,#ff9100,#ffc400,#ffd800,#fff000,#f2ff00,#f1ff00,#f1ff00,#f1ff00,#f0ff00,#e2ff00,#a7ff00,#86ff00,#57ff00,#25ff00,#00ff27,#00ff81,#00ffce,#00ebff,#00b0ff,#0095ff,#0089ff,#0086ff,#0084ff,#005eff,#0033ff,#001aff,#0003ff,#0e00f7,#1800f1,#1e00ed,#3300d8,#4200c1,#4800b5,#4900b0,#4a00af,#4a00af,#4a00ae,#4a00ae,#4a00ae,#4a00ae,#4a00af,#4a00af,#4a00af,#4a00af,#4900af,#4900b0,#4900b3,#4600bb,#3e00c7,#3100db,#2400eb,#0d00f8,#0017ff,#0036ff,#004bff,#0062ff,#0078ff,#0095ff,#00c7ff,#00faff,#00ffd4,#00ff66,#49ff00,#d8ff00,#ffaf00,#ff8e00,#ff8b00,#ff8b00,#ff9300,#ffc400,#ffe800,#cdff00,#8cff00,#38ff00,#00ff18,#00ff66,#00ffa5,#00ffde,#00f9ff,#00cfff,#00abff,#008fff,#007dff,#006cff,#0054ff,#0034ff,#0002ff,#1e00ee,#2e00df,#3a00cd,#4400be,#4800b5,#4900b1,#4a00ad,#4b00a7,#4c009f,#4e0094,#500088,#50007f,#4f0079,#4f0075,#4f0071,#4f006e,#4f006c,#4e006b,#4e006a,#4e006a,#4e006a,#4e006a,#4e0069,#4e006a,#4e006a,#4e006a,#4e006b,#4f006e,#4f0075,#4f007d,#500085,#4f008d,#4e0094,#4d009a,#4c00a0,#4b00a4,#4b00a6,#4b00a8,#4a00ab,#4900b0,#4600bb,#3400d6,#1e00ee,#1600f2,#1100f5,#0b00f9,#0500fc,#0001ff,#000aff,#0014ff,#001fff,#002bff,#0031ff,#0033ff,#0031ff,#002aff,#001fff,#000fff,#0200fe,#0f00f7,#1900f1,#2300eb,#2f00dd,#3a00cd,#4300c0,#4800b6,#4900b1,#4a00ac,#4b00a5,#4d0098,#500086,#4f0076,#4f006c,#4e006a,#4e006a,#4e006a,#4e006a,#4e006a,#4e006a,#4f006c,#4f006f,#4f0072,#4f0075,#4f0079,#4f007d,#500082,#500088,#4e0091,#4c009d,#4a00aa,#4800b7,#4100c2,#3a00cd,#3100db,#2600e9,#1500f3,#000dff,#003dff,#0066ff,#00a4ff,#00ffd6,#00ff45,#68ff00,#fff100,#ff5300,#ff2800)"></div>
<div style="background:linear-gradient(90deg,#ff2800,#ff2800,#ff2800,#ff2800,#ff2800,#ff2800,#ff2800,#ff2b00,#ff8000,#ffb400,#f7ff00,#ceff00,#95ff00,#4aff00,#38ff00,#32ff00,#25ff00,#23ff00,#23ff00,#23ff00,#1eff00,#02ff00,#00ff15,#00ff45,#00ff67,#00ff99,#00ffca,#00fffb,#00ceff,#00a7ff,#0091ff,#0089ff,#0085ff,#0081ff,#0060ff,#003bff,#0023ff,#000bff,#0b00f9,#1600f2,#1d00ee,#3100da,#4100c3,#4800b6,#4900b1,#4900af,#4a00af,#4a00ae,#4a00ae,#4a00ae,#4a00ae,#4a00ae,#4a00af,#4a00af,#4a00af,#4900af,#4900b0,#4900b3,#4600bb,#3e00c6,#3100db,#2300eb,#0d00f8,#0016ff,#0034ff,#0048ff,#005eff,#0074ff,#008fff,#00c4ff,#00fbff,#00ffcd,#00ff52,#6eff00,#fffe00,#ff6d00,#ff2800,#ff2800,#ff2800,#ff2800,#ff4d00,#ff6800,#ffa900,#ffd500,#e8ff00,#8aff00,#39ff00,#00ff26,#00ff8d,#00ffc9,#00fff7,#00dfff,#00b8ff,#0094ff,#007eff,#0067ff,#004bff,#001eff,#1200f5,#2700e9,#3300d8,#3d00c9,#4500bd,#4800b5,#4900b1,#4a00ac,#4b00a4,#4d009b,#4e0091,#500088,#500080,#4f007b,#4f0077,#4f0074,#4f0071,#4f006f,#4f006d,#4f006b,#4e006b,#4e006b,#4e006b,#4e006b,#4e006b,#4f006b,#4f006d,#4f0073,#4f007a,#500082,#4f008b,#4e0093,#4d009a,#4c00a0,#4b00a4,#4b00a6,#4b00a7,#4a00a9,#4a00ac,#4900b2,#4400bf,#3100da,#1c00ef,#1400f4,#0c00f8,#0600fc,#0001ff,#000bff,#0015ff,#0021ff,#0030ff,#0041ff,#004aff,#004cff,#004aff,#0044ff,#0036ff,#0025ff,#0010ff,#0300fd,#1000f6,#1a00f0,#2600e9,#3100db,#3b00cb,#4400be,#4800b5,#4900b0,#4b00a9,#4c009d,#4f008c,#4f007b,#4f0071,#4f006c,#4f006c,#4e006b,#4e006b,#4f006c,#4f006e,#4f0071,#4f0075,#4f007a,#50007e,#500082,#500089,#4f008f,#4d0096,#4c00a0,#4a00ac,#4800b8,#4000c4,#3900cf,#3100da,#2800e8,#1a00f0,#0000ff,#002cff,#0056ff,#0085ff,#00faff,#00ff71,#3dff00,#f5ff00,#ff7a00,#ff2800,#ff2800)"></div>
<div style="background:linear-gradient(90deg,#ff2800,#ff2800,#ff2800,#ff2800,#ff2800,#ff2800,#ff5a00,#ffc300,#e7ff00,#8fff00,#4aff00,#01ff00,#00ff24,#00ff57,#00ff71,#00ff75,#00ff99,#00ffa3,#00ffa6,#00ffa9,#00ffac,#00ffaf,#00ffb2,#00ffc4,#00ffd5,#00fff4,#00f5ff,#00ccff,#00aeff,#0098ff,#008aff,#0085ff,#0081ff,#0076ff,#005aff,#003dff,#0026ff,#000dff,#0a00f9,#1600f2,#1d00ee,#3200d9,#4100c2,#4800b6,#4900b1,#4900af,#4a00af,#4a00ae,#4a00ae,#4a00ae,#4a00ae,#4a00af,#4a00af,#4a00af,#4a00af,#4900af,#4900b1,#4900b4,#4500bc,#3d00c8,#3000dc,#2200eb,#0c00f8,#0017ff,#0034ff,#0047ff,#005bff,#0071ff,#008aff,#00c0ff,#00fcff,#00ffc6,#00ff35,#86ff00,#ffeb00,#ff3e00,#ff2800,#ff2800,#ff2800,#ff2800,#ff2800,#ff2800,#ff2800,#ff4b00,#ff8e00,#ffda00,#daff00,#72ff00,#04ff00,#00ff66,#00ffb4,#00ffe9,#00ebff,#00c0ff,#009cff,#007eff,#0065ff,#003fff,#0006ff,#1c00ef,#2a00e5,#3500d5,#3d00c8,#4400be,#4800b6,#4900b1,#4a00ab,#4c00a2,#4d009b,#4e0093,#50008a,#500083,#50007e,#4f007a,#4f0077,#4f0074,#4f0072,#4f0070,#4f006f,#4f006e,#4f006e,#4f006e,#4f006f,#4f0070,#4f0073,#4f0078,#50007f,#500088,#4e0091,#4d009a,#4c00a0,#4b00a4,#4b00a6,#4b00a7,#4a00a9,#4a00aa,#4a00ae,#4900b4,#4100c3,#2f00de,#1b00ef,#1100f5,#0800fa,#0000ff,#000aff,#0014ff,#001fff,#002eff,#0041ff,#005aff,#0064ff,#0066ff,#0065ff,#0060ff,#0050ff,#003bff,#0022ff,#000bff,#0600fc,#1200f5,#1c00ef,#2700e8,#3200d8,#3c00ca,#4400bd,#4800b5,#4a00ae,#4b00a5,#4e0096,#500084,#4f0078,#4f0072,#4f0070,#4f006f,#4f0070,#4f0072,#4f0075,#4f0079,#4f007e,#500084,#50008a,#4f0090,#4e0096,#4c009d,#4b00a6,#4900b0,#4600ba,#3f00c5,#3800d1,#3100db,#2900e7,#1c00ef,#0600fb,#0022ff,#004bff,#0073ff,#00c3ff,#00ffa9,#11ff00,#d4ff00,#ff9500,#ff2800,#ff2800,#ff2800)"></div>
<div style="background:linear-gradient(90deg,#ff2800,#ff2800,#ff2800,#ff2800,#ff2a00,#ff8e00,#fffc00,#8dff00,#31ff00,#00ff19,#00ff4b,#00ff8a,#00ffa8,#00ffbc,#00ffc3,#00ffc7,#00ffd6,#00ffe7,#00fff4,#00fffe,#00f6ff,#00efff,#00edff,#00deff,#00d1ff,#00c2ff,#00b6ff,#0099ff,#008eff,#0088ff,#0080ff,#007dff,#0076ff,#0069ff,#0051ff,#0039ff,#0024ff,#000bff,#0b00f9,#1700f2,#2100ec,#3400d6,#4200c1,#4800b5,#4900b0,#4a00af,#4a00af,#4a00ae,#4a00ae,#4a00ae,#4a00af,#4a00af,#4a00af,#4a00af,#4900af,#4900b0,#4900b2,#4800b7,#4400be,#3a00cd,#2e00e0,#2000ec,#0a00f9,#001aff,#0035ff,#0047ff,#0058ff,#006fff,#0085ff,#00beff,#00fcff,#00ffc3,#00ff29,#8cff00,#ffe800,#ff4000,#ff2800,#ff2800,#ff2800,#ff2800,#ff2800,#ff2800,#ff2800,#ff2800,#ff2800,#ff5600,#ffa200,#ffee00,#9fff00,#28ff00,#00ff3c,#00ffa5,#00ffdf,#00f5ff,#00caff,#009fff,#0082ff,#0064ff,#0030ff,#0600fc,#1f00ed,#2c00e2,#3400d6,#3c00ca,#4200c1,#4800b9,#4900b2,#4a00ab,#4b00a6,#4c009f,#4e0096,#4f008e,#500088,#500082,#50007e,#4f007b,#4f0078,#4f0076,#4f0074,#4f0074,#4f0074,#4f0074,#4f0074,#4f0076,#4f0079,#4f007d,#500084,#4f008f,#4d0098,#4c009f,#4b00a4,#4b00a6,#4b00a7,#4a00a9,#4a00aa,#4a00ac,#4900b0,#4800b6,#3d00c8,#2c00e3,#1a00f0,#0d00f7,#0400fd,#0007ff,#0012ff,#001dff,#0029ff,#0039ff,#0051ff,#0073ff,#007cff,#007cff,#007cff,#007aff,#006bff,#0053ff,#0034ff,#001aff,#0005ff,#0900fa,#1500f3,#1e00ee,#2900e6,#3300d7,#3c00ca,#4400be,#4800b7,#4a00af,#4c00a1,#4f008f,#500080,#4f0079,#4f0076,#4f0076,#4f0077,#4f007a,#4f007c,#500082,#500089,#4e0091,#4d0098,#4c009e,#4b00a5,#4a00ad,#4800b5,#4400be,#3d00c8,#3600d3,#2f00dd,#2800e8,#1d00ee,#0900fa,#001cff,#0045ff,#006bff,#00a6ff,#00ffd9,#00ff3b,#99ff00,#ffb300,#ff2800,#ff2800,#ff2800,#ff2800)"></div>
<div style="background:linear-gradient(90deg,#ff2800,#ff2800,#ff2800,#ff5400,#ffb200,#cbff00,#5bff00,#00ff03,#00ff48,#00ff82,#00ffb0,#00ffc6,#00ffd0,#00ffd9,#00ffe0,#00ffe8,#00fff6,#00f5ff,#00daff,#00c7ff,#00b6ff,#00acff,#00a9ff,#009aff,#008eff,#008bff,#0088ff,#0080ff,#007bff,#0079ff,#0075ff,#0070ff,#0069ff,#005cff,#0049ff,#0032ff,#001dff,#0004ff,#0f00f6,#1a00f0,#2700e8,#3700d1,#4400be,#4900b4,#4900b0,#4a00af,#4a00af,#4a00ae,#4a00ae,#4a00af,#4a00af,#4a00af,#4a00af,#4900af,#4900b0,#4900b2,#4800b5,#4700ba,#4100c3,#3600d2,#2b00e4,#1d00ee,#0500fc,#001eff,#0037ff,#0048ff,#0058ff,#006fff,#0084ff,#00beff,#00fdff,#00ffc2,#00ff27,#85ff00,#fff300,#ff6c00,#ff2800,#ff2800,#ff2800,#ff2800,#ff2800,#ff2800,#ff2800,#ff2800,#ff2800,#ff2800,#ff2900,#ff7b00,#ffd800,#b6ff00,#44ff00,#00ff2c,#00ff95,#00ffd4,#00fbff,#00d0ff,#00aaff,#0087ff,#005fff,#002dff,#0600fb,#1f00ed,#2b00e3,#3300d8,#3a00ce,#4000c5,#4500bd,#4800b6,#4900b2,#4a00ac,#4b00a4,#4d009c,#4e0095,#4f008e,#500088,#500083,#50007f,#4f007c,#4f007a,#4f007a,#4f007a,#4f007a,#4f007a,#4f007c,#50007f,#500083,#4f008b,#4e0095,#4c009e,#4b00a3,#4b00a6,#4b00a8,#4a00a9,#4a00aa,#4a00ac,#4a00af,#4900b3,#4600bb,#3900cf,#2800e8,#1700f2,#0900fa,#0002ff,#000eff,#001aff,#0025ff,#0032ff,#0043ff,#005cff,#007fff,#0084ff,#0084ff,#0084ff,#0084ff,#007fff,#006bff,#0045ff,#0027ff,#0011ff,#0100fe,#0d00f8,#1600f2,#1f00ed,#2a00e5,#3300d7,#3b00cb,#4100c2,#4600ba,#4a00ae,#4c009d,#4f008d,#500082,#50007f,#50007f,#50007f,#500083,#500089,#4f0090,#4d0097,#4c009f,#4b00a6,#4a00ad,#4900b4,#4600bc,#4000c4,#3a00cc,#3400d6,#2e00e0,#2600e9,#1d00ee,#0900fa,#0018ff,#0041ff,#0068ff,#0092ff,#00f8ff,#00ff7f,#3fff00,#fff900,#ff5900,#ff2800,#ff2800,#ff2800,#ff2800)"></div>
<div style="background:linear-gradient(90deg,#ff2800,#ff2800,#ff6400,#ffda00,#afff00,#35ff00,#00ff1c,#00ff61,#00ff9d,#00ffbe,#00ffce,#00ffd8,#00ffe1,#00ffe8,#00fff3,#00ffff,#00edff,#00ceff,#00aaff,#0095ff,#008aff,#0082ff,#0081ff,#007eff,#0078ff,#0076ff,#0075ff,#0072ff,#006fff,#006cff,#0068ff,#0063ff,#005cff,#0052ff,#0042ff,#002bff,#0013ff,#0500fc,#1500f3,#1f00ed,#2d00e0,#3b00cb,#4600bb,#4900b3,#4900b0,#4a00af,#4a00af,#4a00af,#4a00af,#4a00af,#4a00af,#4a00af,#4900af,#4900b0,#4900b1,#4900b4,#4800b8,#4400bf,#3c00ca,#3200da,#2700e9,#1900f1,#0001ff,#0023ff,#003aff,#004aff,#005bff,#0070ff,#0085ff,#00bfff,#00ffff,#00ffc2,#00ff27,#75ff00,#f7ff00,#ff9d00,#ff2800,#ff2800,#ff2800,#ff2800,#ff2800,#ff2800,#ff2800,#ff2800,#ff2800,#ff2800,#ff2800,#ff2800,#ff5600,#ffbf00,#d0ff00,#5eff00,#00ff18,#00ff85,#00ffcd,#00fff8,#00deff,#00b3ff,#008dff,#0065ff,#002fff,#0500fc,#1e00ee,#2900e6,#3100db,#3600d2,#3c00ca,#4000c4,#4300bf,#4700b9,#4900b2,#4a00aa,#4b00a3,#4d009c,#4e0095,#4f008f,#4f008a,#500084,#500082,#500082,#500082,#500082,#500082,#500083,#500087,#4f008c,#4e0092,#4d009b,#4c00a2,#4b00a6,#4b00a8,#4a00aa,#4a00ab,#4a00ac,#4a00af,#4900b2,#4800b6,#4100c3,#3300d8,#2200eb,#1300f4,#0400fc,#0009ff,#0016ff,#0022ff,#002dff,#003aff,#004bff,#0062ff,#007eff,#0084ff,#0084ff,#0085ff,#0085ff,#0084ff,#007dff,#0052ff,#0032ff,#001cff,#0009ff,#0400fc,#0e00f7,#1800f1,#2000ed,#2a00e6,#3200d9,#3800d0,#3e00c7,#4500bc,#4a00ae,#4c009e,#4e0092,#4f008f,#4f008e,#4f008e,#4e0092,#4d0099,#4c00a0,#4b00a7,#4a00af,#4800b5,#4500bc,#4100c3,#3c00ca,#3700d2,#3100da,#2b00e3,#2400ea,#1a00f0,#0a00f9,#0018ff,#003fff,#0066ff,#0089ff,#00cbff,#00ffbf,#00ff3b,#95ff00,#ffc500,#ff2800,#ff2800,#ff2800,#ff2800,#ff2800)"></div>
<div style="background:linear-gradient(90deg,#ff3800,#ff8800,#ffe700,#8aff00,#20ff00,#00ff2a,#00ff6c,#00ffa6,#00ffc4,#00ffd2,#00ffdd,#00ffe6,#00fff1,#00fffc,#00f5ff,#00e5ff,#00cfff,#00acff,#008aff,#007eff,#0079ff,#0074ff,#0072ff,#0070ff,#006dff,#006bff,#0069ff,#0066ff,#0063ff,#0060ff,#005cff,#0058ff,#0052ff,#0049ff,#003aff,#0023ff,#0008ff,#0e00f7,#1b00ef,#2600e9,#3300d8,#3f00c6,#4800b9,#4900b2,#4900af,#4a00af,#4a00af,#4a00af,#4a00af,#4a00af,#4a00af,#4900af,#4900b0,#4900b1,#4900b4,#4800b8,#4500bd,#3f00c6,#3600d3,#2c00e1,#2100ec,#1300f4,#000bff,#002aff,#003fff,#004eff,#005fff,#0073ff,#0086ff,#00c3ff,#00fffb,#00ffc1,#00ff28,#6bff00,#e4ff00,#ffc200,#ff5900,#ff2800,#ff2800,#ff2800,#ff2800,#ff2800,#ff2800,#ff2800,#ff2800,#ff2800,#ff2800,#ff2800,#ff2800,#ff3900,#ffa900,#e6ff00,#72ff00,#07ff00,#00ff68,#00ffbc,#00ffe8,#00edff,#00c2ff,#0094ff,#0068ff,#0034ff,#0100ff,#1800f1,#2600e9,#2d00e0,#3200d8,#3700d2,#3a00cc,#3f00c6,#4300bf,#4800b8,#4900b2,#4a00ab,#4b00a4,#4c009d,#4d0098,#4e0092,#4f0090,#4f008f,#4f008e,#4f008d,#4f008d,#4f008c,#4f008f,#4e0094,#4d009a,#4c00a1,#4b00a6,#4b00a8,#4a00ab,#4a00ac,#4a00ae,#4900b0,#4900b2,#4800b5,#4400bd,#3a00cd,#2d00e1,#1d00ee,#0d00f7,#0002ff,#0011ff,#001eff,#002aff,#0035ff,#0042ff,#0051ff,#0064ff,#0078ff,#0082ff,#0084ff,#0084ff,#0084ff,#0084ff,#007eff,#0059ff,#003bff,#0025ff,#0014ff,#0005ff,#0700fb,#1000f6,#1800f1,#1f00ed,#2800e7,#2f00de,#3500d4,#3c00ca,#4400bf,#4900b2,#4b00a7,#4b00a3,#4c00a1,#4c00a2,#4b00a5,#4a00ab,#4900b1,#4800b7,#4400be,#4000c4,#3c00ca,#3700d1,#3300d8,#2e00df,#2800e8,#2000ec,#1600f2,#0500fc,#001aff,#003fff,#0065ff,#0087ff,#00b6ff,#00fff2,#00ff93,#00ff1b,#b1ff00,#ffb800,#ff2800,#ff2800,#ff2800,#ff2800,#ff2800)"></div>
<div style="background:linear-gradient(90deg,#ffb700,#f3ff00,#71ff00,#0aff00,#00ff35,#00ff71,#00ffa9,#00ffc4,#00ffd3,#00ffdf,#00ffeb,#00fff7,#00faff,#00edff,#00deff,#00ccff,#00b4ff,#0093ff,#007fff,#0074ff,#006dff,#006aff,#0067ff,#0064ff,#0062ff,#005fff,#005dff,#005aff,#0058ff,#0055ff,#0052ff,#004eff,#004aff,#0042ff,#0034ff,#001bff,#0300fe,#1600f2,#2100ec,#2c00e2,#3800d0,#4300c0,#4800b7,#4900b1,#4900af,#4a00af,#4a00af,#4a00af,#4a00af,#4900af,#4900af,#4900b0,#4900b1,#4900b4,#4800b7,#4600bc,#4000c4,#3800cf,#3000dc,#2600e9,#1a00f0,#0900fa,#0015ff,#0032ff,#0046ff,#0055ff,#0066ff,#0077ff,#008aff,#00cbff,#00fff6,#00ffc0,#00ff2a,#60ff00,#d2ff00,#ffd500,#ff8a00,#ff2800,#ff2800,#ff2800,#ff2800,#ff2800,#ff2800,#ff2800,#ff2800,#ff2800,#ff2800,#ff2800,#ff2800,#ff2800,#ff3100,#ff9900,#fff800,#9bff00,#28ff00,#00ff41,#00ff9e,#00ffd7,#00feff,#00cfff,#00a2ff,#0072ff,#0043ff,#0012ff,#1200f5,#1f00ed,#2800e7,#2e00df,#3200d9,#3600d3,#3a00cd,#3f00c6,#4300bf,#4700b9,#4900b3,#4a00ac,#4b00a7,#4c00a2,#4c009f,#4c009d,#4d009b,#4d009a,#4d0098,#4d0097,#4d0098,#4d009c,#4c00a1,#4b00a6,#4a00a9,#4a00ac,#4a00ae,#4900b0,#4900b1,#4900b3,#4800b6,#4500bc,#3d00c8,#3200d8,#2600e9,#1700f2,#0600fc,#000bff,#001aff,#0026ff,#0032ff,#003dff,#0049ff,#0056ff,#0066ff,#0075ff,#007eff,#0081ff,#0082ff,#0083ff,#0081ff,#0077ff,#005cff,#0042ff,#002eff,#001eff,#000fff,#0002ff,#0700fb,#1000f6,#1700f2,#1e00ee,#2500ea,#2c00e2,#3200d9,#3900cf,#3f00c5,#4500bd,#4800b8,#4800b6,#4800b6,#4800b8,#4500bc,#4200c1,#3e00c7,#3a00cd,#3600d2,#3200d8,#2e00df,#2900e6,#2400ea,#1c00ef,#0f00f6,#0003ff,#0021ff,#0042ff,#0066ff,#0085ff,#00acff,#00ecff,#00ffc2,#00ff77,#00ff17,#8fff00,#ffe600,#ff8e00,#ff7800,#ff7900,#ff9700,#ffb600)"></div>
<div style="background:linear-gradient(90deg,#a7ff00,#5cff00,#00ff04,#00ff3f,#00ff77,#00ffaa,#00ffc4,#00ffd3,#00ffe0,#00ffed,#00fffb,#00f5ff,#00e7ff,#00d8ff,#00c8ff,#00b5ff,#009dff,#0085ff,#0076ff,#006bff,#0063ff,#005eff,#005bff,#0058ff,#0056ff,#0054ff,#0052ff,#0050ff,#004eff,#004cff,#004aff,#0048ff,#0045ff,#003dff,#002eff,#0012ff,#0b00f8,#1c00ef,#2600e9,#3100da,#3d00c9,#4500bc,#4800b5,#4900b1,#4900af,#4900af,#4900af,#4900af,#4900af,#4900b0,#4900b0,#4900b2,#4900b4,#4800b7,#4600bb,#4100c3,#3a00cd,#3200d9,#2900e6,#1f00ed,#1100f5,#0003ff,#0021ff,#003bff,#004fff,#005eff,#006dff,#007cff,#0098ff,#00d8ff,#00ffee,#00ffbe,#00ff2f,#51ff00,#c7ff00,#ffe000,#ffa400,#ff2800,#ff2800,#ff2800,#ff2800,#ff2800,#ff2800,#ff2800,#ff2800,#ff2800,#ff2800,#ff2800,#ff2800,#ff2800,#ff2800,#ff2800,#ffa300,#ffe700,#adff00,#54ff00,#00ff04,#00ff71,#00ffbb,#00ffe6,#00e8ff,#00b2ff,#008eff,#005eff,#002cff,#0002ff,#1500f3,#2100ec,#2900e6,#2d00e0,#3100da,#3600d4,#3a00cd,#3e00c7,#4200c1,#4600bb,#4800b6,#4900b1,#4a00ad,#4a00ab,#4a00a9,#4b00a7,#4b00a4,#4c00a1,#4c00a1,#4b00a3,#4b00a7,#4a00ab,#4a00ae,#4900b0,#4900b1,#4900b3,#4800b5,#4800b9,#4300bf,#3d00c8,#3500d5,#2a00e5,#1d00ee,#0f00f6,#0003ff,#0015ff,#0023ff,#002fff,#003aff,#0044ff,#004fff,#005bff,#0068ff,#0073ff,#007bff,#007fff,#0080ff,#0080ff,#007cff,#0072ff,#005dff,#0049ff,#0036ff,#0027ff,#0019ff,#000dff,#0001ff,#0700fb,#0e00f7,#1500f3,#1b00ef,#2100ec,#2900e7,#2e00e0,#3300d7,#3800d1,#3b00cb,#3d00c9,#3d00c8,#3c00ca,#3a00cd,#3700d1,#3400d6,#3100db,#2d00e1,#2900e6,#2300eb,#1d00ee,#1500f3,#0700fb,#0011ff,#002dff,#004aff,#0068ff,#0088ff,#00a7ff,#00d8ff,#00ffe5,#00ffa5,#00ff61,#00ff1d,#3eff00,#b9ff00,#f7ff00,#faff00,#f5ff00,#b9ff00,#a9ff00)"></div>
<div style="background:linear-gradient(90deg,#1aff00,#00ff0c,#00ff46,#00ff7c,#00ffac,#00ffc4,#00ffd2,#00ffe0,#00ffee,#00fffd,#00f1ff,#00e3ff,#00d4ff,#00c5ff,#00b4ff,#00a0ff,#008bff,#007cff,#006cff,#0060ff,#0057ff,#0053ff,#0050ff,#004fff,#004dff,#004cff,#004bff,#0049ff,#0049ff,#0048ff,#0046ff,#0045ff,#0041ff,#0039ff,#0028ff,#0009ff,#1300f4,#2000ed,#2a00e5,#3500d4,#4000c4,#4700ba,#4900b4,#4900b1,#4900b0,#4900b0,#4900b0,#4900b0,#4900b0,#4900b1,#4900b2,#4900b5,#4800b8,#4600bb,#4100c2,#3b00cc,#3300d7,#2b00e4,#2100ec,#1700f1,#0600fc,#0012ff,#002dff,#0045ff,#0059ff,#0068ff,#0075ff,#0085ff,#00b1ff,#00ebff,#00ffe5,#00ffbb,#00ff2d,#4eff00,#c4ff00,#ffe400,#ffb100,#ff2800,#ff2800,#ff2800,#ff2800,#ff2800,#ff2800,#ff2800,#ff2800,#ff2800,#ff2800,#ff2800,#ff2800,#ff2800,#ff2800,#ff2800,#ff8c00,#ffac00,#f2ff00,#adff00,#86ff00,#24ff00,#00ff44,#00ff88,#00ffc5,#00fffa,#00e6ff,#00b2ff,#0079ff,#004cff,#0022ff,#0100fe,#1700f2,#2300eb,#2800e8,#2c00e1,#3100db,#3500d5,#3900cf,#3d00c9,#4000c4,#4300bf,#4600bb,#4800b9,#4800b6,#4900b3,#4900b0,#4a00ab,#4a00aa,#4a00ab,#4a00ae,#4900b0,#4900b2,#4900b4,#4800b7,#4600ba,#4300bf,#4000c4,#3b00cc,#3400d6,#2c00e2,#2100ec,#1300f4,#0400fd,#0010ff,#0020ff,#002dff,#0038ff,#0042ff,#004bff,#0055ff,#005fff,#006aff,#0073ff,#007aff,#007dff,#007eff,#007dff,#0079ff,#006fff,#005fff,#004eff,#003eff,#002fff,#0023ff,#0017ff,#000dff,#0003ff,#0500fc,#0b00f9,#1100f5,#1700f2,#1d00ee,#2100ec,#2800e8,#2b00e4,#2f00de,#3100db,#3100da,#3100db,#2f00dd,#2d00e0,#2900e6,#2700e9,#2100ec,#1b00ef,#1400f3,#0900fa,#0008ff,#001fff,#003bff,#0057ff,#0072ff,#008bff,#00abff,#00ceff,#00fffd,#00ffc4,#00ff86,#00ff50,#00ff2a,#00ff04,#38ff00,#6bff00,#6fff00,#63ff00,#28ff00,#1eff00)"></div>
<div style="background:linear-gradient(90deg,#00ff31,#00ff4b,#00ff7f,#00ffad,#00ffc3,#00ffd0,#00ffde,#00ffed,#00fffd,#00f0ff,#00e1ff,#00d1ff,#00c2ff,#00b2ff,#00a0ff,#008eff,#0080ff,#0071ff,#0062ff,#0056ff,#004fff,#004bff,#004aff,#0049ff,#0048ff,#0047ff,#0047ff,#0046ff,#0045ff,#0044ff,#0043ff,#0042ff,#003fff,#0037ff,#0023ff,#0001ff,#1900f1,#2200eb,#2c00e2,#3800d1,#4200c1,#4600bb,#4800b5,#4900b3,#4900b2,#4900b1,#4900b1,#4900b2,#4900b2,#4900b4,#4800b6,#4800b8,#4500bc,#4100c3,#3b00cc,#3400d6,#2c00e2,#2300eb,#1900f1,#0c00f8,#0008ff,#0021ff,#003aff,#0051ff,#0064ff,#0072ff,#007fff,#0099ff,#00ceff,#00fffe,#00ffda,#00ffae,#00ff20,#5bff00,#c7ff00,#ffe200,#ffb300,#ff2800,#ff2800,#ff2800,#ff2800,#ff2800,#ff2800,#ff2800,#ff2800,#ff2800,#ff2800,#ff2800,#ff2800,#ff2800,#ff2800,#ff4a00,#ffa000,#ffba00,#f1ff00,#afff00,#9fff00,#50ff00,#00ff04,#00ff22,#00ff71,#00ffc2,#00ffcf,#00fff3,#00b7ff,#0082ff,#006aff,#004bff,#001eff,#0b00f9,#1b00f0,#2200eb,#2800e8,#2b00e3,#2f00dd,#3300d7,#3700d2,#3a00cd,#3d00c9,#3f00c6,#4100c3,#4300c0,#4500bc,#4800b6,#4900b4,#4900b4,#4800b5,#4800b8,#4600bb,#4400bd,#4200c2,#3e00c7,#3b00cc,#3700d2,#3100da,#2b00e4,#2200ec,#1700f2,#0700fb,#000cff,#001dff,#002cff,#0037ff,#0041ff,#004aff,#0052ff,#005bff,#0063ff,#006cff,#0074ff,#0079ff,#007cff,#007dff,#007bff,#0077ff,#006eff,#0061ff,#0053ff,#0045ff,#0038ff,#002cff,#0022ff,#0018ff,#000fff,#0007ff,#0100fe,#0700fb,#0c00f8,#1100f5,#1600f2,#1a00f0,#1b00f0,#2100ec,#2400ea,#2400ea,#2400eb,#2300eb,#2100ec,#1900f1,#1400f3,#0d00f7,#0200fe,#000aff,#001dff,#0031ff,#004aff,#0064ff,#007bff,#0094ff,#00afff,#00d0ff,#00f4ff,#00ffdb,#00ffa8,#00ff66,#00ff49,#00ff37,#00ff20,#00ff0e,#04ff00,#05ff00,#00ff03,#00ff22,#00ff2b)"></div>
<div style="background:linear-gradient(90deg,#00ff63,#00ff84,#00ffae,#00ffc2,#00ffce,#00ffdb,#00ffea,#00fffb,#00f1ff,#00e0ff,#00d0ff,#00c0ff,#00b1ff,#00a0ff,#008fff,#0082ff,#0075ff,#0067ff,#0059ff,#004eff,#004aff,#0047ff,#0046ff,#0045ff,#0044ff,#0044ff,#0043ff,#0043ff,#0042ff,#0042ff,#0041ff,#0040ff,#003dff,#0035ff,#001fff,#0500fc,#1c00ef,#2300eb,#2c00e1,#3800d1,#4000c4,#4500bc,#4800b8,#4800b6,#4900b5,#4900b4,#4900b4,#4900b5,#4800b6,#4800b8,#4700b9,#4500bd,#4000c4,#3b00cc,#3400d6,#2c00e1,#2400ea,#1a00f0,#0e00f7,#0001ff,#0018ff,#002fff,#0047ff,#005eff,#0072ff,#007eff,#0091ff,#00bbff,#00edff,#00ffea,#00ffcc,#00ff91,#00ff09,#71ff00,#d4ff00,#ffdc00,#ffaf00,#ff2800,#ff2800,#ff2800,#ff2800,#ff2800,#ff2800,#ff2800,#ff2800,#ff2800,#ff2800,#ff2800,#ff2800,#ff4700,#ff8900,#ffc000,#f0ff00,#c6ff00,#9fff00,#4fff00,#21ff00,#00ff0e,#00ff28,#00ff30,#00ff77,#00ffb9,#00ffc6,#00ffd3,#00cfff,#0093ff,#0084ff,#007dff,#0067ff,#002dff,#0a00f9,#1800f1,#1e00ee,#2100ec,#2600e9,#2900e6,#2d00e0,#3100db,#3300d7,#3600d3,#3800d0,#3a00cd,#3d00c9,#4100c3,#4300c0,#4300bf,#4200c0,#4000c4,#3e00c7,#3c00cb,#3800d0,#3500d5,#3000db,#2d00e0,#2800e8,#1f00ed,#1500f3,#0800fa,#000aff,#001dff,#002cff,#0038ff,#0042ff,#004bff,#0052ff,#0059ff,#0060ff,#0068ff,#006fff,#0075ff,#0079ff,#007cff,#007cff,#007aff,#0076ff,#006eff,#0064ff,#0057ff,#004bff,#0040ff,#0035ff,#002cff,#0023ff,#001bff,#0013ff,#000cff,#0006ff,#0000ff,#0400fc,#0900fa,#0b00f9,#0c00f8,#1100f5,#1200f5,#1100f5,#1000f6,#0e00f7,#0b00f9,#0100ff,#000bff,#0018ff,#0028ff,#0037ff,#0047ff,#005aff,#0071ff,#0085ff,#009bff,#00b7ff,#00d4ff,#00f4ff,#00ffe9,#00ffc1,#00ff87,#00ff53,#00ff48,#00ff3f,#00ff34,#00ff28,#00ff22,#00ff22,#00ff2d,#00ff48,#00ff57)"></div>
<div style="background:linear-gradient(90deg,#00ff91,#00ffaf,#00ffc1,#00ffcb,#00ffd7,#00ffe5,#00fff7,#00f5ff,#00e2ff,#00d0ff,#00bfff,#00afff,#009fff,#008fff,#0083ff,#0077ff,#006aff,#005dff,#0050ff,#0049ff,#0046ff,#0044ff,#0043ff,#0042ff,#0042ff,#0042ff,#0041ff,#0041ff,#0041ff,#0041ff,#0040ff,#0040ff,#003cff,#0034ff,#001dff,#0800fa,#1d00ee,#2300eb,#2c00e3,#3600d3,#3f00c6,#4400be,#4600bb,#4700ba,#4800b9,#4800b8,#4800b8,#4700b9,#4600ba,#4500bc,#4300c0,#3f00c6,#3a00ce,#3300d7,#2c00e1,#2400ea,#1a00f0,#0f00f6,#0200fe,#0012ff,#0027ff,#003eff,#0054ff,#006aff,#0081ff,#0093ff,#00b6ff,#00e4ff,#00fff1,#00ffd2,#00ffb1,#00ff56,#1fff00,#8fff00,#e9ff00,#ffd100,#ffa100,#ff2800,#ff2800,#ff2800,#ff2800,#ff2800,#ff2800,#ff2800,#ff2800,#ff2800,#ff2800,#ff2800,#ff7e00,#ffc600,#f1ff00,#8aff00,#2aff00,#00ff23,#00ff29,#00ff5a,#00ff8c,#00ffab,#00ffb1,#00ffb8,#00ffcd,#00ffdb,#00fff0,#00faff,#00bdff,#0092ff,#0087ff,#0085ff,#0082ff,#005bff,#0007ff,#1100f5,#1900f0,#1c00ef,#1e00ee,#2000ed,#2300eb,#2800e8,#2a00e5,#2d00e1,#2f00dd,#3100db,#3300d8,#3700d2,#3900ce,#3900ce,#3900cf,#3600d2,#3400d6,#3200da,#2e00df,#2a00e4,#2500ea,#2200ec,#1a00f0,#1100f5,#0300fd,#000eff,#0020ff,#002eff,#003bff,#0045ff,#004eff,#0055ff,#005bff,#0060ff,#0066ff,#006cff,#0071ff,#0076ff,#007aff,#007cff,#007cff,#007aff,#0076ff,#006fff,#0066ff,#005cff,#0051ff,#0047ff,#003eff,#0036ff,#002eff,#0027ff,#0020ff,#001aff,#0015ff,#0010ff,#000bff,#0008ff,#0005ff,#0004ff,#0002ff,#0003ff,#0006ff,#000bff,#0011ff,#001aff,#0028ff,#0036ff,#0045ff,#0053ff,#0063ff,#006fff,#007cff,#008fff,#00a5ff,#00bfff,#00dbff,#00f8ff,#00ffe6,#00ffca,#00ffa4,#00ff66,#00ff4d,#00ff47,#00ff40,#00ff3d,#00ff38,#00ff35,#00ff37,#00ff47,#00ff6e,#00ff82)"></div>
<div style="background:linear-gradient(90deg,#00ffb2,#00ffc0,#00ffc8,#00ffd2,#00ffdf,#00fff0,#00fbff,#00e7ff,#00d3ff,#00c1ff,#00afff,#009eff,#0090ff,#0082ff,#0078ff,#006cff,#005fff,#0053ff,#004aff,#0046ff,#0043ff,#0042ff,#0041ff,#0041ff,#0041ff,#0040ff,#0040ff,#0040ff,#0040ff,#0040ff,#0040ff,#003fff,#003cff,#0034ff,#001dff,#0900fa,#1d00ee,#2200eb,#2a00e5,#3300d8,#3a00cd,#3f00c5,#4100c2,#4300c0,#4400be,#4500bd,#4500bd,#4400bf,#4200c1,#4000c4,#3d00c9,#3800d0,#3200d9,#2c00e2,#2400ea,#1b00f0,#0f00f6,#0300fd,#000eff,#0022ff,#0037ff,#004cff,#0062ff,#0077ff,#0095ff,#00b9ff,#00e3ff,#00fff0,#00ffcf,#00ffae,#00ff68,#00ff0c,#5cff00,#b0ff00,#fffc00,#ffbe00,#ff6e00,#ff2800,#ff2800,#ff2800,#ff2800,#ff2800,#ff2800,#ff2800,#ff2800,#ff2800,#ff2800,#ff7b00,#ffe000,#b9ff00,#51ff00,#00ff25,#00ff7c,#00ffb4,#00ffbd,#00ffbe,#00ffdd,#00feff,#00ecff,#00d8ff,#00d4ff,#00d2ff,#00c6ff,#00b9ff,#009fff,#008cff,#0086ff,#0082ff,#007eff,#0060ff,#000eff,#0e00f7,#1700f2,#1b00f0,#1c00ef,#1c00ef,#1d00ee,#1f00ed,#2000ec,#2400ea,#2600e9,#2700e9,#2900e7,#2d00e1,#2f00de,#2f00de,#2e00de,#2c00e2,#2900e7,#2700e8,#2300eb,#1f00ed,#1a00f0,#1400f4,#0900fa,#0005ff,#0018ff,#0027ff,#0035ff,#0041ff,#004aff,#0053ff,#0059ff,#005fff,#0063ff,#0068ff,#006cff,#0070ff,#0075ff,#0078ff,#007bff,#007cff,#007cff,#007aff,#0077ff,#0071ff,#0069ff,#0061ff,#0058ff,#004fff,#0047ff,#003fff,#0038ff,#0032ff,#002dff,#0028ff,#0023ff,#0020ff,#001dff,#001aff,#001aff,#001aff,#001bff,#001fff,#0024ff,#002cff,#0036ff,#0043ff,#0051ff,#0061ff,#006fff,#007bff,#0084ff,#0092ff,#009bff,#00b1ff,#00caff,#00e4ff,#00fffe,#00ffe3,#00ffc7,#00ffa9,#00ff7d,#00ff52,#00ff4a,#00ff45,#00ff40,#00ff3e,#00ff3e,#00ff3f,#00ff48,#00ff68,#00ff94,#00ffa7)"></div>
<div style="background:linear-gradient(90deg,#00ffc0,#00ffc5,#00ffcc,#00ffd8,#00ffe8,#00fffa,#00efff,#00d9ff,#00c4ff,#00b0ff,#009dff,#008eff,#0083ff,#0078ff,#006cff,#0060ff,#0055ff,#004cff,#0047ff,#0044ff,#0041ff,#0041ff,#0040ff,#0040ff,#0040ff,#0040ff,#0040ff,#0040ff,#0040ff,#0040ff,#0040ff,#003fff,#003cff,#0035ff,#001fff,#0600fc,#1c00ef,#2000ec,#2700e9,#2e00df,#3400d6,#3900cf,#3b00cb,#3d00c9,#3e00c7,#3f00c6,#3f00c6,#3e00c8,#3c00cb,#3900ce,#3500d4,#3100db,#2b00e4,#2400eb,#1b00f0,#1100f5,#0400fd,#000cff,#001fff,#0032ff,#0046ff,#005bff,#006fff,#0087ff,#00b3ff,#00e2ff,#00ffef,#00ffc7,#00ff9f,#00ff5b,#00ff0d,#46ff00,#9aff00,#cfff00,#ffe200,#ffa200,#ff2800,#ff2800,#ff2800,#ff2800,#ff2800,#ff2800,#ff2800,#ff2800,#ff2800,#ff2800,#ff5900,#ffd000,#beff00,#52ff00,#00ff1e,#00ff88,#00ffc2,#00ffd7,#00ffe6,#00fff3,#00e8ff,#00c2ff,#00a9ff,#0092ff,#008bff,#0087ff,#0082ff,#007dff,#0076ff,#0072ff,#0071ff,#006aff,#005dff,#0042ff,#0009ff,#0e00f7,#1700f2,#1a00f0,#1c00ef,#1c00ef,#1c00ef,#1c00ef,#1c00ef,#1d00ee,#1e00ee,#1e00ee,#1f00ed,#2300eb,#2400ea,#2400ea,#2400ea,#2200ec,#1e00ee,#1d00ee,#1b00f0,#1600f3,#0f00f6,#0400fd,#000eff,#0023ff,#0034ff,#0041ff,#004bff,#0053ff,#005bff,#0061ff,#0065ff,#0069ff,#006cff,#006fff,#0072ff,#0075ff,#0078ff,#007bff,#007cff,#007dff,#007dff,#007bff,#0078ff,#0073ff,#006dff,#0065ff,#005eff,#0056ff,#004fff,#0049ff,#0043ff,#003eff,#0039ff,#0035ff,#0032ff,#002fff,#002eff,#002dff,#002eff,#0030ff,#0033ff,#0039ff,#0042ff,#004dff,#005aff,#006bff,#0076ff,#0086ff,#008dff,#009aff,#00a2ff,#00b1ff,#00bfff,#00d5ff,#00eeff,#00fff4,#00ffda,#00ffc2,#00ffa8,#00ff81,#00ff5b,#00ff4a,#00ff45,#00ff41,#00ff3f,#00ff3e,#00ff40,#00ff46,#00ff62,#00ff90,#00ffb3,#00ffbc)"></div>
<div style="background:linear-gradient(90deg,#00ffc3,#00ffc7,#00ffd1,#00ffde,#00ffef,#00faff,#00e3ff,#00cbff,#00b5ff,#00a0ff,#008eff,#0082ff,#0078ff,#006cff,#0061ff,#0056ff,#004dff,#0048ff,#0045ff,#0042ff,#0041ff,#0040ff,#0040ff,#0040ff,#0040ff,#0040ff,#0040ff,#0040ff,#0040ff,#0040ff,#0040ff,#003fff,#003dff,#0036ff,#0024ff,#0003ff,#1600f2,#1e00ee,#2300eb,#2900e7,#2e00e0,#3100da,#3400d6,#3500d4,#3700d2,#3800d0,#3800d0,#3600d2,#3400d6,#3200da,#2e00df,#2900e7,#2200ec,#1a00f0,#1000f6,#0500fc,#000bff,#001dff,#002fff,#0042ff,#0055ff,#0069ff,#007dff,#009cff,#00d2ff,#00fff3,#00ffc5,#00ff92,#00ff4e,#00ff0c,#39ff00,#94ff00,#baff00,#e6ff00,#ffcb00,#ff7100,#ff2800,#ff2800,#ff2800,#ff2800,#ff2800,#ff2800,#ff2800,#ff2800,#ff2800,#ff2800,#ffaf00,#e4ff00,#79ff00,#02ff00,#00ff5b,#00ffb9,#00ffd4,#00ffe6,#00fffd,#00deff,#00b1ff,#0092ff,#0082ff,#0077ff,#006aff,#005eff,#0052ff,#0047ff,#003dff,#003aff,#0039ff,#0037ff,#0030ff,#001dff,#0200fe,#1000f6,#1700f2,#1b00f0,#1c00ef,#1c00ef,#1c00ef,#1c00ef,#1c00ef,#1c00ef,#1c00ef,#1c00ef,#1c00ef,#1d00ee,#1d00ee,#1d00ef,#1c00ef,#1c00ef,#1900f0,#1800f1,#1400f3,#0e00f7,#0400fd,#000fff,#0028ff,#0042ff,#0053ff,#005cff,#0062ff,#0067ff,#006bff,#006fff,#0072ff,#0073ff,#0074ff,#0076ff,#0077ff,#007aff,#007cff,#007dff,#007fff,#007fff,#007fff,#007dff,#007aff,#0076ff,#0070ff,#006aff,#0064ff,#005eff,#0058ff,#0053ff,#004eff,#0049ff,#0045ff,#0042ff,#0040ff,#003fff,#003fff,#003fff,#0042ff,#0045ff,#004bff,#0053ff,#005fff,#006cff,#007bff,#0089ff,#0093ff,#00a1ff,#00a9ff,#00b5ff,#00c1ff,#00d0ff,#00e1ff,#00f8ff,#00ffed,#00ffd1,#00ffb8,#00ff9d,#00ff7e,#00ff5c,#00ff4a,#00ff43,#00ff40,#00ff3f,#00ff3e,#00ff3e,#00ff42,#00ff4d,#00ff84,#00ffb1,#00ffbf,#00ffc1)"></div>
<div style="background:linear-gradient(90deg,#00ffc4,#00ffc9,#00ffd4,#00ffe3,#00fff6,#00f1ff,#00d7ff,#00bdff,#00a4ff,#0090ff,#0083ff,#0078ff,#006cff,#0061ff,#0056ff,#004eff,#0048ff,#0045ff,#0042ff,#0041ff,#0040ff,#0040ff,#0040ff,#0040ff,#0040ff,#0040ff,#0040ff,#0040ff,#0040ff,#0040ff,#0040ff,#003fff,#003dff,#0038ff,#0029ff,#000fff,#0b00f9,#1700f2,#1d00ee,#2200eb,#2700e9,#2a00e5,#2c00e1,#2e00df,#2f00de,#3000db,#3000dc,#2f00de,#2d00e1,#2a00e5,#2600e9,#2000ed,#1900f1,#0f00f6,#0400fd,#000aff,#001bff,#002dff,#003eff,#0051ff,#0064ff,#0078ff,#008bff,#00b4ff,#00f1ff,#00ffcf,#00ffa0,#00ff4f,#00ff10,#1cff00,#74ff00,#b3ff00,#c5ff00,#f1ff00,#ffbf00,#ff5500,#ff2800,#ff2800,#ff2800,#ff2800,#ff2800,#ff2800,#ff2800,#ff2800,#ff2800,#ff8500,#ffea00,#a7ff00,#38ff00,#00ff2e,#00ff8b,#00ffc8,#00ffde,#00fff7,#00e4ff,#00b6ff,#008cff,#007eff,#0073ff,#0065ff,#0054ff,#003fff,#0026ff,#0013ff,#0000ff,#0200fe,#0300fd,#0001ff,#0006ff,#0200fe,#0d00f8,#1400f4,#1800f1,#1b00f0,#1c00ef,#1d00ef,#1d00ee,#1d00ee,#1d00ee,#1c00ef,#1c00ef,#1c00ef,#1c00ef,#1c00ef,#1c00ef,#1b00ef,#1a00f0,#1900f1,#1700f2,#1400f4,#0f00f7,#0700fb,#0008ff,#0021ff,#0044ff,#0062ff,#0072ff,#0075ff,#0078ff,#007aff,#007cff,#007dff,#007eff,#007eff,#007cff,#007cff,#007cff,#007dff,#007fff,#0080ff,#0081ff,#0081ff,#0080ff,#007fff,#007dff,#0079ff,#0075ff,#0070ff,#006bff,#0066ff,#0061ff,#005cff,#0058ff,#0055ff,#0052ff,#0050ff,#004fff,#004eff,#004fff,#0051ff,#0055ff,#005aff,#0062ff,#006cff,#007aff,#0087ff,#0095ff,#00a1ff,#00aeff,#00bbff,#00c5ff,#00d1ff,#00dfff,#00efff,#00fffc,#00ffe4,#00ffcc,#00ffb5,#00ff93,#00ff71,#00ff57,#00ff45,#00ff3d,#00ff3a,#00ff39,#00ff3a,#00ff3c,#00ff3d,#00ff41,#00ff51,#00ff9f,#00ffbe,#00ffc1,#00ffc3)"></div>
<div style="background:linear-gradient(90deg,#00ffc4,#00ffcb,#00ffd7,#00ffe7,#00fffb,#00e9ff,#00ccff,#00adff,#0094ff,#0085ff,#007aff,#006dff,#0061ff,#0057ff,#004eff,#0049ff,#0046ff,#0043ff,#0041ff,#0040ff,#0040ff,#0040ff,#0040ff,#0040ff,#0040ff,#0040ff,#0040ff,#0040ff,#0040ff,#0040ff,#0040ff,#003fff,#003eff,#0039ff,#0030ff,#001bff,#0004ff,#0b00f9,#1400f3,#1b00f0,#1d00ee,#2000ec,#2400ea,#2500ea,#2600e9,#2900e6,#2900e7,#2600e9,#2400ea,#2100ec,#1d00ee,#1700f2,#0e00f7,#0300fd,#000bff,#001bff,#002bff,#003cff,#004eff,#0061ff,#0073ff,#0083ff,#009cff,#00c9ff,#00fff2,#00ffb9,#00ff84,#00ff22,#03ff00,#2cff00,#8fff00,#b7ff00,#c6ff00,#f0ff00,#ffc700,#ff7a00,#ff2800,#ff2800,#ff2800,#ff2800,#ff2800,#ff2800,#ff2800,#ff2800,#ff7b00,#ffcd00,#d4ff00,#71ff00,#07ff00,#00ff4d,#00ffa9,#00ffd1,#00ffe9,#00f4ff,#00c8ff,#0098ff,#0080ff,#0075ff,#0068ff,#0056ff,#003fff,#001fff,#0300fd,#1200f5,#1900f0,#1b00f0,#1b00ef,#1800f1,#1500f3,#1700f2,#1900f1,#1900f1,#1a00f0,#1b00ef,#1c00ef,#1c00ef,#1d00ee,#1d00ee,#1d00ee,#1d00ee,#1d00ef,#1d00ef,#1c00ef,#1c00ef,#1c00ef,#1b00f0,#1a00f0,#1800f1,#1500f3,#1100f5,#0a00f9,#0000ff,#0014ff,#0032ff,#0060ff,#007cff,#0083ff,#0085ff,#0086ff,#0087ff,#0088ff,#0089ff,#008bff,#008bff,#0086ff,#0085ff,#0082ff,#0081ff,#0081ff,#0081ff,#0082ff,#0082ff,#0082ff,#0081ff,#007fff,#007dff,#0079ff,#0076ff,#0071ff,#006dff,#006aff,#0066ff,#0063ff,#0060ff,#005eff,#005dff,#005dff,#005eff,#005fff,#0062ff,#0068ff,#006fff,#0077ff,#0083ff,#0091ff,#009fff,#00aeff,#00bbff,#00c9ff,#00d6ff,#00e1ff,#00eeff,#00fcff,#00fff1,#00ffde,#00ffc6,#00ffae,#00ff91,#00ff6a,#00ff4b,#00ff3a,#00ff32,#00ff2a,#00ff29,#00ff29,#00ff2a,#00ff31,#00ff35,#00ff3c,#00ff50,#00ffa1,#00ffbf,#00ffc0,#00ffc2)"></div>
<div style="background:linear-gradient(90deg,#00ffc4,#00ffcb,#00ffd8,#00ffe9,#00feff,#00e2ff,#00c1ff,#009eff,#0087ff,#007dff,#0071ff,#0063ff,#0057ff,#004eff,#0049ff,#0046ff,#0043ff,#0041ff,#0040ff,#0040ff,#0040ff,#0040ff,#0040ff,#0040ff,#0040ff,#0040ff,#0040ff,#0040ff,#0040ff,#0040ff,#0040ff,#0040ff,#003fff,#003bff,#0034ff,#0027ff,#0015ff,#0004ff,#0700fb,#0e00f7,#1100f5,#1600f2,#1900f1,#1a00f0,#1b00ef,#2000ed,#2000ed,#1b00ef,#1a00f0,#1700f2,#1100f5,#0a00f9,#0100fe,#000dff,#001cff,#002bff,#003bff,#004cff,#005eff,#0071ff,#0080ff,#008eff,#00acff,#00daff,#00ffde,#00ffb0,#00ff78,#00ff16,#05ff00,#2cff00,#89ff00,#b5ff00,#c4ff00,#e6ff00,#ffe000,#ffaa00,#ff6c00,#ff3600,#ff2800,#ff2800,#ff2800,#ff2800,#ff4d00,#ff8000,#ffba00,#fcff00,#9fff00,#42ff00,#00ff15,#00ff65,#00ffb9,#00ffd8,#00fff5,#00e2ff,#00b1ff,#0087ff,#007aff,#006eff,#005dff,#0047ff,#0029ff,#0001ff,#1800f1,#1d00ee,#1e00ee,#1f00ed,#2000ec,#2100ec,#2100ec,#2300eb,#2200ec,#2000ed,#1d00ee,#1d00ef,#1c00ef,#1c00ef,#1c00ef,#1c00ef,#1d00ee,#1d00ee,#1d00ee,#1d00ef,#1c00ef,#1c00ef,#1b00ef,#1a00f0,#1900f1,#1600f2,#1300f4,#0e00f7,#0600fb,#0007ff,#001dff,#003eff,#0072ff,#0085ff,#0087ff,#0089ff,#008bff,#008eff,#0091ff,#0094ff,#0098ff,#009bff,#009bff,#009aff,#0092ff,#008eff,#0086ff,#0085ff,#0083ff,#0083ff,#0082ff,#0082ff,#0081ff,#007fff,#007dff,#007aff,#0077ff,#0075ff,#0072ff,#006fff,#006dff,#006bff,#006aff,#006aff,#006aff,#006cff,#006fff,#0073ff,#007aff,#0083ff,#008dff,#009cff,#00abff,#00b9ff,#00c7ff,#00d6ff,#00e4ff,#00f1ff,#00fdff,#00fff5,#00ffe6,#00ffd4,#00ffc1,#00ffa8,#00ff87,#00ff67,#00ff46,#00ff2d,#00ff22,#00ff1c,#00ff12,#00ff10,#00ff0f,#00ff11,#00ff1b,#00ff22,#00ff2d,#00ff44,#00ff8e,#00ffbe,#00ffc1,#00ffc2)"></div>
<div style="background:linear-gradient(90deg,#00ffc4,#00ffca,#00ffd7,#00ffea,#00fcff,#00dcff,#00b5ff,#0090ff,#0081ff,#0077ff,#0069ff,#005aff,#0050ff,#004aff,#0047ff,#0044ff,#0042ff,#0041ff,#0040ff,#0040ff,#0040ff,#0040ff,#0040ff,#0040ff,#0040ff,#0040ff,#0040ff,#0040ff,#0040ff,#0040ff,#0040ff,#0040ff,#003fff,#003dff,#0038ff,#0030ff,#0023ff,#0015ff,#000aff,#0000ff,#0400fd,#0800fa,#0b00f8,#0d00f8,#1000f6,#1400f4,#1400f3,#1000f6,#0d00f8,#0a00f9,#0400fd,#0005ff,#0011ff,#001eff,#002cff,#003bff,#004aff,#005cff,#006eff,#007eff,#0089ff,#009aff,#00b7ff,#00e4ff,#00ffd6,#00ffaf,#00ff7d,#00ff23,#01ff00,#21ff00,#6aff00,#aaff00,#bcff00,#d6ff00,#fffd00,#ffd300,#ffb500,#ff9700,#ff8200,#ff8000,#ff8000,#ff8400,#ffa300,#ffbc00,#ffe700,#ccff00,#7aff00,#1dff00,#00ff29,#00ff76,#00ffc0,#00ffdf,#00feff,#00d4ff,#00a0ff,#0081ff,#0076ff,#0067ff,#0053ff,#0039ff,#0016ff,#1000f6,#1d00ee,#1e00ee,#1f00ed,#2000ec,#2200eb,#2500ea,#2800e8,#2a00e5,#2c00e3,#2c00e2,#2800e8,#2400ea,#1f00ed,#1e00ee,#1d00ef,#1c00ef,#1c00ef,#1d00ef,#1d00ee,#1c00ef,#1c00ef,#1c00ef,#1b00f0,#1a00f0,#1800f1,#1500f3,#1100f5,#0b00f9,#0300fd,#000cff,#0024ff,#0046ff,#0077ff,#0085ff,#0087ff,#008bff,#008fff,#0093ff,#0098ff,#009eff,#00a5ff,#00adff,#00b6ff,#00bcff,#00b9ff,#00b2ff,#00a4ff,#009cff,#008eff,#008cff,#0087ff,#0084ff,#0083ff,#0082ff,#0080ff,#007eff,#007cff,#007aff,#0079ff,#0077ff,#0076ff,#0075ff,#0074ff,#0075ff,#0078ff,#007aff,#007fff,#0085ff,#0091ff,#009cff,#00aaff,#00b8ff,#00c6ff,#00d4ff,#00e2ff,#00f0ff,#00ffff,#00fff1,#00ffe6,#00ffdb,#00ffcc,#00ffb7,#00ff9d,#00ff7e,#00ff5d,#00ff3e,#00ff24,#00ff11,#00ff05,#00ff01,#14ff00,#1eff00,#1eff00,#1bff00,#03ff00,#00ff05,#00ff15,#00ff2c,#00ff6a,#00ffb2,#00ffc1,#00ffc3)"></div>
<div style="background:linear-gradient(90deg,#00ffc3,#00ffc9,#00ffd5,#00ffe9,#00fbff,#00d8ff,#00abff,#0086ff,#007eff,#0073ff,#0062ff,#0054ff,#004cff,#0048ff,#0045ff,#0043ff,#0041ff,#0041ff,#0040ff,#0040ff,#0040ff,#0040ff,#0040ff,#0040ff,#0040ff,#0040ff,#0040ff,#0040ff,#0040ff,#0040ff,#0040ff,#0040ff,#0040ff,#003eff,#003aff,#0036ff,#002eff,#0024ff,#001bff,#0013ff,#000dff,#0008ff,#0004ff,#0001ff,#0200fe,#0500fc,#0500fc,#0200fe,#0001ff,#0006ff,#000eff,#0017ff,#0022ff,#002eff,#003cff,#004aff,#005aff,#006bff,#007cff,#0086ff,#0092ff,#00a3ff,#00bfff,#00e8ff,#00ffdc,#00ffb6,#00ff8d,#00ff43,#00ff0f,#0aff00,#3fff00,#82ff00,#a8ff00,#c0ff00,#deff00,#fffd00,#ffe400,#ffce00,#ffc600,#ffc300,#ffc300,#ffc400,#ffd000,#ffe800,#ebff00,#a7ff00,#5cff00,#06ff00,#00ff38,#00ff86,#00ffc5,#00ffe4,#00f6ff,#00caff,#0094ff,#007eff,#0072ff,#0060ff,#004aff,#002eff,#0007ff,#1900f1,#1d00ee,#1e00ee,#2000ec,#2200eb,#2500ea,#2900e7,#2c00e2,#3000dc,#3500d5,#3800d0,#3600d2,#3200d9,#2d00e1,#2900e7,#2200eb,#1e00ee,#1d00ee,#1c00ef,#1c00ef,#1c00ef,#1c00ef,#1c00ef,#1b00f0,#1900f1,#1700f2,#1400f3,#1000f6,#0a00f9,#0100fe,#0010ff,#0028ff,#004aff,#0078ff,#0086ff,#0088ff,#008dff,#0093ff,#0099ff,#00a0ff,#00a8ff,#00b2ff,#00bfff,#00d1ff,#00e3ff,#00e7ff,#00e2ff,#00d9ff,#00cfff,#00c0ff,#00b7ff,#00a4ff,#009aff,#0099ff,#0094ff,#0088ff,#0086ff,#0085ff,#0085ff,#0084ff,#0083ff,#0082ff,#0082ff,#0082ff,#0082ff,#0088ff,#008fff,#0096ff,#00a2ff,#00aeff,#00baff,#00c8ff,#00d4ff,#00e1ff,#00eeff,#00fcff,#00fff4,#00ffe5,#00ffd5,#00ffcb,#00ffc2,#00ffb0,#00ff92,#00ff71,#00ff51,#00ff32,#00ff16,#02ff00,#16ff00,#2dff00,#37ff00,#50ff00,#60ff00,#61ff00,#5cff00,#44ff00,#31ff00,#13ff00,#00ff07,#00ff36,#00ff7f,#00ffb9,#00ffc0)"></div>
<div style="background:linear-gradient(90deg,#00ffbd,#00ffc7,#00ffd2,#00ffe7,#00fcff,#00d7ff,#00a5ff,#0083ff,#007dff,#0071ff,#0060ff,#0053ff,#004dff,#0048ff,#0045ff,#0043ff,#0042ff,#0042ff,#0041ff,#0041ff,#0041ff,#0041ff,#0041ff,#0041ff,#0041ff,#0041ff,#0040ff,#0040ff,#0040ff,#0040ff,#0040ff,#0040ff,#0040ff,#003fff,#003dff,#003aff,#0035ff,#0030ff,#002aff,#0023ff,#001fff,#001aff,#0016ff,#0014ff,#0010ff,#000dff,#000dff,#0010ff,#0014ff,#0019ff,#0020ff,#0029ff,#0033ff,#003fff,#004cff,#005aff,#0069ff,#0079ff,#0085ff,#008dff,#0099ff,#00aaff,#00c4ff,#00e8ff,#00ffe7,#00ffc3,#00ffa6,#00ff73,#00ff3d,#00ff16,#13ff00,#4bff00,#7eff00,#a2ff00,#bbff00,#d3ff00,#ebff00,#fffd00,#fff100,#ffeb00,#ffea00,#ffed00,#fff800,#ecff00,#c5ff00,#8dff00,#44ff00,#00ff09,#00ff45,#00ff91,#00ffca,#00ffe8,#00f0ff,#00c2ff,#008fff,#007cff,#006eff,#005bff,#0043ff,#0024ff,#0300fd,#1b00ef,#1e00ee,#1f00ed,#2200eb,#2500ea,#2800e7,#2c00e2,#3000db,#3600d2,#3e00c8,#4400be,#4500bd,#4100c3,#3b00cb,#3700d2,#3000dc,#2900e7,#2200eb,#1e00ee,#1c00ef,#1c00ef,#1c00ef,#1c00ef,#1b00f0,#1900f1,#1700f2,#1400f4,#0f00f6,#0900fa,#0000ff,#0012ff,#0029ff,#004aff,#0073ff,#0086ff,#0089ff,#008fff,#0097ff,#009fff,#00a8ff,#00b1ff,#00bdff,#00d0ff,#00edff,#00fff1,#00ffe8,#00ffea,#00ffee,#00fff3,#00fffa,#00f3ff,#00e0ff,#00d8ff,#00d6ff,#00ccff,#00b5ff,#00adff,#00acff,#00abff,#00a9ff,#00a5ff,#00a4ff,#00a3ff,#00a3ff,#00a3ff,#00a9ff,#00b3ff,#00bbff,#00c5ff,#00cfff,#00daff,#00e5ff,#00f1ff,#00fcff,#00fff6,#00ffe9,#00ffda,#00ffcb,#00ffb8,#00ffa9,#00ffa1,#00ff88,#00ff67,#00ff44,#00ff25,#00ff09,#15ff00,#33ff00,#50ff00,#6dff00,#7bff00,#93ff00,#a3ff00,#a5ff00,#a3ff00,#90ff00,#77ff00,#5cff00,#35ff00,#06ff00,#00ff34,#00ff8e,#00ffb0)"></div>
<div style="background:linear-gradient(90deg,#00ffa0,#00ffc2,#00ffcf,#00ffe2,#00ffff,#00d9ff,#00a4ff,#0083ff,#007dff,#0072ff,#0061ff,#0053ff,#004dff,#0049ff,#0047ff,#0046ff,#0045ff,#0044ff,#0043ff,#0043ff,#0042ff,#0042ff,#0042ff,#0042ff,#0042ff,#0042ff,#0041ff,#0041ff,#0041ff,#0041ff,#0041ff,#0041ff,#0041ff,#0041ff,#0040ff,#003eff,#003bff,#0038ff,#0035ff,#0031ff,#002eff,#002aff,#0028ff,#0026ff,#0023ff,#0020ff,#0020ff,#0022ff,#0026ff,#002bff,#0032ff,#003aff,#0044ff,#004fff,#005bff,#0069ff,#0078ff,#0084ff,#008bff,#0094ff,#009fff,#00afff,#00c6ff,#00e5ff,#00fff4,#00ffd5,#00ffbf,#00ffa3,#00ff7c,#00ff4b,#00ff16,#16ff00,#4dff00,#7bff00,#9bff00,#afff00,#bfff00,#cfff00,#dfff00,#e7ff00,#e8ff00,#e6ff00,#dbff00,#c5ff00,#a7ff00,#75ff00,#2fff00,#00ff11,#00ff4e,#00ff97,#00ffcc,#00ffeb,#00ecff,#00bcff,#008bff,#007bff,#006cff,#0057ff,#003eff,#001eff,#0900fa,#1d00ef,#1e00ee,#2100ec,#2400ea,#2700e8,#2b00e4,#2f00de,#3400d5,#3c00ca,#4500bc,#4900b0,#4a00ad,#4900b0,#4800b7,#4500bc,#3f00c6,#3700d1,#3000dc,#2900e6,#2100ec,#1d00ee,#1c00ef,#1c00ef,#1b00f0,#1900f1,#1700f2,#1300f4,#0f00f7,#0800fa,#0001ff,#0012ff,#0029ff,#0047ff,#006cff,#0084ff,#008aff,#0091ff,#009aff,#00a5ff,#00afff,#00b9ff,#00c7ff,#00deff,#00fff7,#00ffcd,#00ffc6,#00ffc6,#00ffc7,#00ffc8,#00ffc9,#00ffd7,#00ffe2,#00ffe5,#00ffe5,#00ffe9,#00fffc,#00f0ff,#00eeff,#00eeff,#00eaff,#00deff,#00daff,#00d9ff,#00d9ff,#00d8ff,#00d8ff,#00ddff,#00e2ff,#00e9ff,#00f0ff,#00f8ff,#00fffb,#00fff2,#00ffe8,#00ffdd,#00ffd1,#00ffc3,#00ffb2,#00ff94,#00ff80,#00ff75,#00ff5b,#00ff3b,#00ff1b,#02ff00,#23ff00,#4aff00,#6cff00,#8dff00,#a6ff00,#b7ff00,#c7ff00,#d9ff00,#deff00,#deff00,#ccff00,#b9ff00,#a2ff00,#81ff00,#4eff00,#0dff00,#00ff45,#00ff7c)"></div>
<div style="background:linear-gradient(90deg,#00ff60,#00ffb2,#00ffc9,#00ffdd,#00fff9,#00dfff,#00a8ff,#0083ff,#007eff,#0074ff,#0064ff,#0057ff,#0051ff,#004dff,#004bff,#0049ff,#0048ff,#0048ff,#0047ff,#0046ff,#0045ff,#0045ff,#0045ff,#0045ff,#0044ff,#0044ff,#0044ff,#0043ff,#0043ff,#0043ff,#0043ff,#0043ff,#0043ff,#0043ff,#0043ff,#0042ff,#0041ff,#003fff,#003dff,#003bff,#003aff,#0038ff,#0037ff,#0036ff,#0034ff,#0032ff,#0032ff,#0034ff,#0038ff,#003dff,#0043ff,#004bff,#0054ff,#005fff,#006bff,#0077ff,#0083ff,#008bff,#0092ff,#009aff,#00a4ff,#00b2ff,#00c6ff,#00e0ff,#00fdff,#00ffe7,#00ffd3,#00ffc4,#00ffb1,#00ff8a,#00ff4c,#00ff14,#1fff00,#55ff00,#7cff00,#93ff00,#a2ff00,#abff00,#b9ff00,#bdff00,#bdff00,#bcff00,#b8ff00,#a8ff00,#8eff00,#60ff00,#20ff00,#00ff1a,#00ff55,#00ff9a,#00ffcd,#00ffec,#00ebff,#00b9ff,#0088ff,#007aff,#006bff,#0055ff,#003aff,#0019ff,#0b00f8,#1d00ee,#1f00ed,#2200ec,#2500ea,#2900e7,#2c00e1,#3100da,#3800d1,#4000c4,#4800b5,#4a00aa,#4b00a7,#4b00a6,#4a00aa,#4a00ab,#4900b3,#4600bb,#3f00c6,#3700d1,#2e00df,#2500ea,#1d00ee,#1c00ef,#1b00ef,#1900f0,#1700f2,#1400f4,#0f00f6,#0900fa,#0000ff,#0011ff,#0026ff,#0042ff,#0065ff,#0082ff,#008aff,#0092ff,#009dff,#00a9ff,#00b5ff,#00c0ff,#00cfff,#00e8ff,#00ffe6,#00ffc0,#00ffbf,#00ffbf,#00ffbf,#00ffbf,#00ffbf,#00ffc1,#00ffc2,#00ffc0,#00ffba,#00ffb2,#00ffc2,#00ffcd,#00ffce,#00ffce,#00ffd5,#00ffe9,#00ffed,#00ffed,#00ffed,#00ffee,#00fff7,#00fff9,#00fff7,#00fff3,#00ffee,#00ffe9,#00ffde,#00ffd6,#00ffcf,#00ffc2,#00ffb7,#00ffa6,#00ff8e,#00ff6c,#00ff56,#00ff4a,#00ff31,#00ff11,#0eff00,#30ff00,#58ff00,#81ff00,#a2ff00,#b8ff00,#cfff00,#e4ff00,#f6ff00,#fff800,#ffed00,#ffec00,#fff600,#f2ff00,#d0ff00,#b4ff00,#96ff00,#56ff00,#02ff00,#00ff31)"></div>
<div style="background:linear-gradient(90deg,#00ff24,#00ff7d,#00ffbe,#00ffd6,#00fff1,#00e8ff,#00b1ff,#0086ff,#007fff,#0077ff,#006bff,#0060ff,#0059ff,#0055ff,#0051ff,#004fff,#004dff,#004cff,#004bff,#0049ff,#0049ff,#0048ff,#0048ff,#0048ff,#0048ff,#0047ff,#0047ff,#0046ff,#0046ff,#0046ff,#0046ff,#0046ff,#0046ff,#0046ff,#0047ff,#0047ff,#0047ff,#0046ff,#0045ff,#0045ff,#0045ff,#0045ff,#0046ff,#0046ff,#0045ff,#0043ff,#0044ff,#0046ff,#004aff,#004fff,#0055ff,#005cff,#0064ff,#006fff,#007aff,#0084ff,#008cff,#0093ff,#0099ff,#009fff,#00a8ff,#00b4ff,#00c5ff,#00daff,#00f2ff,#00fff7,#00ffe5,#00ffd8,#00ffcb,#00ffb8,#00ff89,#00ff44,#00ff07,#34ff00,#5fff00,#79ff00,#87ff00,#91ff00,#9aff00,#9cff00,#9cff00,#9cff00,#9aff00,#8eff00,#77ff00,#4fff00,#15ff00,#00ff21,#00ff59,#00ff9b,#00ffcc,#00ffeb,#00ebff,#00bbff,#0089ff,#007bff,#006bff,#0054ff,#0038ff,#0017ff,#0d00f8,#1d00ee,#1f00ed,#2300eb,#2600e9,#2a00e5,#2e00df,#3300d7,#3a00cd,#4300c0,#4900b2,#4b00a8,#4b00a4,#4b00a3,#4b00a5,#4b00a5,#4b00a7,#4a00ac,#4900b2,#4500bc,#3d00c9,#3200d9,#2600e9,#1d00ee,#1b00ef,#1a00f0,#1700f2,#1400f3,#0f00f6,#0900fa,#0100fe,#000eff,#0022ff,#003cff,#005dff,#007fff,#008aff,#0092ff,#009fff,#00aeff,#00baff,#00c5ff,#00d4ff,#00ecff,#00ffe3,#00ffc0,#00ffbf,#00ffbf,#00ffc0,#00ffc0,#00ffc0,#00ffbf,#00ffbe,#00ffb9,#00ffa8,#00ff8c,#00ff95,#00ff98,#00ff99,#00ff9b,#00ffaa,#00ffb7,#00ffb8,#00ffb9,#00ffb9,#00ffbb,#00ffcd,#00ffd2,#00ffd1,#00ffd0,#00ffce,#00ffcc,#00ffc1,#00ffb7,#00ffb1,#00ffa0,#00ff92,#00ff7e,#00ff67,#00ff49,#00ff33,#00ff23,#00ff0a,#19ff00,#3dff00,#65ff00,#8bff00,#aeff00,#c6ff00,#d9ff00,#f4ff00,#fff200,#ffde00,#ffcf00,#ffbf00,#ffbc00,#ffc100,#ffdb00,#f4ff00,#cbff00,#b6ff00,#99ff00,#45ff00,#08ff00)"></div>
<div style="background:linear-gradient(90deg,#0fff00,#00ff37,#00ffa3,#00ffcc,#00ffe6,#00f4ff,#00c3ff,#0091ff,#0082ff,#007cff,#0073ff,#006aff,#0064ff,#005fff,#005cff,#0059ff,#0056ff,#0054ff,#0052ff,#0050ff,#004eff,#004dff,#004dff,#004dff,#004cff,#004cff,#004bff,#004aff,#004aff,#0049ff,#0049ff,#0049ff,#004aff,#004aff,#004bff,#004cff,#004cff,#004dff,#004eff,#0050ff,#0050ff,#0051ff,#0053ff,#0055ff,#0054ff,#0054ff,#0055ff,#0058ff,#005cff,#0060ff,#0065ff,#006cff,#0074ff,#007dff,#0086ff,#008eff,#0096ff,#009bff,#009fff,#00a4ff,#00abff,#00b5ff,#00c3ff,#00d4ff,#00e7ff,#00f9ff,#00fff6,#00ffe9,#00ffde,#00ffce,#00ffb5,#00ff7a,#00ff29,#19ff00,#46ff00,#63ff00,#6fff00,#78ff00,#7fff00,#81ff00,#81ff00,#80ff00,#7eff00,#76ff00,#64ff00,#42ff00,#0bff00,#00ff26,#00ff5c,#00ff9a,#00ffc9,#00ffe9,#00eeff,#00c0ff,#008eff,#007cff,#006cff,#0055ff,#0038ff,#0016ff,#0d00f7,#1d00ee,#2000ed,#2300eb,#2700e9,#2b00e4,#2f00de,#3500d5,#3c00ca,#4500bd,#4900af,#4b00a5,#4c00a1,#4c00a1,#4c00a2,#4b00a3,#4b00a4,#4b00a5,#4b00a7,#4a00ab,#4900b5,#4000c4,#3200d9,#2300eb,#1c00ef,#1a00f0,#1800f1,#1500f3,#1100f5,#0b00f9,#0300fd,#000aff,#001dff,#0035ff,#0054ff,#007aff,#0089ff,#0092ff,#00a0ff,#00b3ff,#00bfff,#00c9ff,#00d7ff,#00ecff,#00ffeb,#00ffc8,#00ffc1,#00ffbf,#00ffbf,#00ffbf,#00ffbf,#00ffbf,#00ffbd,#00ffb8,#00ffa1,#00ff70,#00ff6c,#00ff6d,#00ff6d,#00ff6f,#00ff7e,#00ff88,#00ff89,#00ff89,#00ff8a,#00ff8f,#00ffa2,#00ffa7,#00ffa7,#00ffa7,#00ffa7,#00ffa7,#00ff9f,#00ff92,#00ff88,#00ff78,#00ff68,#00ff56,#00ff41,#00ff29,#00ff13,#02ff00,#20ff00,#47ff00,#6eff00,#97ff00,#b4ff00,#cbff00,#e3ff00,#faff00,#ffe900,#ffcc00,#ffb600,#ffa900,#ff9a00,#ff9000,#ff9500,#ffb200,#ffee00,#d9ff00,#c0ff00,#b3ff00,#83ff00,#3fff00)"></div>
<div style="background:linear-gradient(90deg,#4bff00,#00ff04,#00ff6e,#00ffbf,#00ffdb,#00fffb,#00daff,#00aaff,#008dff,#0083ff,#007cff,#0075ff,#006fff,#006bff,#0068ff,#0064ff,#0061ff,#005fff,#005dff,#005aff,#0058ff,#0057ff,#0056ff,#0056ff,#0055ff,#0054ff,#0052ff,#0051ff,#0050ff,#0050ff,#004fff,#0050ff,#0050ff,#0051ff,#0053ff,#0055ff,#0056ff,#0057ff,#0059ff,#005bff,#005dff,#005eff,#0060ff,#0062ff,#0063ff,#0064ff,#0066ff,#0069ff,#006eff,#0071ff,#0075ff,#007cff,#0082ff,#008aff,#0093ff,#009bff,#00a0ff,#00a3ff,#00a6ff,#00a9ff,#00adff,#00b4ff,#00bfff,#00cdff,#00dcff,#00ebff,#00f7ff,#00fffc,#00fff1,#00ffe3,#00ffcf,#00ffa9,#00ff50,#01ff00,#33ff00,#55ff00,#60ff00,#66ff00,#69ff00,#6bff00,#6bff00,#6aff00,#69ff00,#64ff00,#58ff00,#38ff00,#04ff00,#00ff2b,#00ff5d,#00ff96,#00ffc4,#00ffe5,#00f2ff,#00c6ff,#0095ff,#007fff,#006fff,#0057ff,#0039ff,#0016ff,#0d00f7,#1e00ee,#2000ed,#2300eb,#2700e8,#2b00e3,#3000dc,#3600d4,#3d00c8,#4600bb,#4a00ad,#4b00a3,#4c009f,#4c009f,#4c009f,#4c00a0,#4c00a1,#4c00a2,#4b00a4,#4b00a5,#4b00a8,#4900b3,#3f00c6,#2e00de,#1f00ed,#1b00f0,#1900f1,#1600f2,#1200f5,#0d00f8,#0600fc,#0005ff,#0016ff,#002cff,#0049ff,#0071ff,#0088ff,#0090ff,#009eff,#00b8ff,#00c5ff,#00cbff,#00d6ff,#00e8ff,#00fffa,#00ffdd,#00ffce,#00ffc6,#00ffc3,#00ffc0,#00ffc0,#00ffbf,#00ffbe,#00ffb9,#00ffa6,#00ff76,#00ff61,#00ff57,#00ff55,#00ff55,#00ff5a,#00ff60,#00ff61,#00ff61,#00ff62,#00ff65,#00ff75,#00ff7a,#00ff7a,#00ff7a,#00ff7a,#00ff7a,#00ff76,#00ff6a,#00ff5d,#00ff4f,#00ff3f,#00ff30,#00ff1c,#00ff0c,#0fff00,#2eff00,#50ff00,#74ff00,#9bff00,#b9ff00,#d1ff00,#e8ff00,#ffff00,#ffe900,#ffca00,#ffab00,#ff9700,#ff8500,#ff7d00,#ff7600,#ff8200,#ffa400,#ffe200,#dfff00,#c3ff00,#b7ff00,#a8ff00,#7dff00)"></div>
<div style="background:linear-gradient(90deg,#74ff00,#1aff00,#00ff33,#00ffa7,#00ffcd,#00ffea,#00f2ff,#00cbff,#00acff,#0096ff,#0088ff,#0081ff,#007bff,#0077ff,#0073ff,#0071ff,#006dff,#006bff,#0069ff,#0066ff,#0064ff,#0062ff,#0061ff,#0061ff,#0061ff,#005fff,#005dff,#005bff,#005aff,#005aff,#0059ff,#005aff,#005aff,#005cff,#005eff,#0060ff,#0061ff,#0063ff,#0065ff,#0068ff,#0069ff,#006aff,#006dff,#006fff,#0071ff,#0074ff,#0077ff,#0079ff,#0080ff,#0082ff,#0084ff,#008cff,#0091ff,#009aff,#00a2ff,#00a8ff,#00abff,#00acff,#00acff,#00adff,#00aeff,#00b3ff,#00bbff,#00c6ff,#00d1ff,#00ddff,#00e7ff,#00f0ff,#00f9ff,#00fff9,#00ffe5,#00ffc5,#00ff7e,#00ff18,#25ff00,#4dff00,#5aff00,#5eff00,#60ff00,#60ff00,#60ff00,#60ff00,#5fff00,#5cff00,#52ff00,#31ff00,#00ff01,#00ff2e,#00ff5d,#00ff91,#00ffbf,#00ffe0,#00f8ff,#00ceff,#00a1ff,#0085ff,#0075ff,#005bff,#003bff,#0017ff,#0d00f7,#1e00ee,#2000ed,#2400ea,#2800e8,#2b00e3,#3000dc,#3600d3,#3e00c8,#4600ba,#4a00ad,#4b00a3,#4c009f,#4c009e,#4c009e,#4c009e,#4c009f,#4c00a0,#4c00a1,#4b00a3,#4b00a5,#4b00a8,#4900b5,#3b00cc,#2900e7,#1c00ef,#1a00f0,#1800f1,#1400f4,#0f00f6,#0900fa,#0100fe,#000eff,#0021ff,#003cff,#0064ff,#0085ff,#008dff,#009aff,#00b2ff,#00c7ff,#00ccff,#00d4ff,#00e0ff,#00f3ff,#00fff4,#00ffe4,#00ffd8,#00ffd0,#00ffc8,#00ffc6,#00ffc4,#00ffc1,#00ffbe,#00ffb7,#00ff9b,#00ff74,#00ff56,#00ff52,#00ff51,#00ff4e,#00ff4f,#00ff50,#00ff50,#00ff51,#00ff51,#00ff55,#00ff57,#00ff58,#00ff57,#00ff56,#00ff54,#00ff4f,#00ff42,#00ff33,#00ff27,#00ff19,#00ff0b,#0aff00,#1aff00,#3aff00,#5eff00,#7fff00,#9fff00,#bbff00,#d5ff00,#eeff00,#fffb00,#ffe600,#ffd000,#ffb200,#ff8f00,#ff7e00,#ff7700,#ff8100,#ff8500,#ff9800,#ffb000,#ffe900,#dfff00,#c3ff00,#b7ff00,#b2ff00,#9fff00)"></div>
<div style="background:linear-gradient(90deg,#77ff00,#27ff00,#00ff10,#00ff81,#00ffbc,#00ffd8,#00fff5,#00ecff,#00d1ff,#00baff,#00a8ff,#0099ff,#008fff,#0085ff,#0081ff,#007fff,#0079ff,#0076ff,#0075ff,#0072ff,#006fff,#006eff,#006dff,#006dff,#006dff,#006cff,#0069ff,#0067ff,#0066ff,#0065ff,#0065ff,#0065ff,#0066ff,#0067ff,#006aff,#006cff,#006dff,#006fff,#0071ff,#0074ff,#0076ff,#0076ff,#0079ff,#007eff,#007fff,#0083ff,#0089ff,#008aff,#0091ff,#0095ff,#0097ff,#009eff,#00a5ff,#00acff,#00b2ff,#00b6ff,#00b7ff,#00b5ff,#00b3ff,#00b0ff,#00afff,#00b1ff,#00b6ff,#00beff,#00c7ff,#00d0ff,#00d7ff,#00ddff,#00e3ff,#00edff,#00fffe,#00ffde,#00ffa9,#00ff35,#1cff00,#49ff00,#56ff00,#5bff00,#5dff00,#5dff00,#5dff00,#5dff00,#5cff00,#58ff00,#4fff00,#2bff00,#00ff08,#00ff30,#00ff5c,#00ff8c,#00ffb8,#00ffda,#00feff,#00d6ff,#00aeff,#008dff,#007cff,#0061ff,#003fff,#0019ff,#0c00f8,#1e00ee,#2000ed,#2400ea,#2800e8,#2c00e3,#3000dc,#3600d3,#3d00c8,#4600bb,#4a00ad,#4b00a3,#4c009f,#4c009d,#4c009d,#4c009d,#4c009d,#4c009e,#4c009f,#4c00a0,#4c00a2,#4b00a5,#4a00aa,#4600bb,#3300d7,#2000ed,#1b00f0,#1900f1,#1600f2,#1200f5,#0d00f8,#0600fc,#0004ff,#0014ff,#002bff,#0050ff,#0078ff,#0086ff,#0092ff,#00a5ff,#00bdff,#00ccff,#00d1ff,#00d6ff,#00e2ff,#00f4ff,#00fffa,#00ffec,#00ffe1,#00ffd7,#00ffd1,#00ffcc,#00ffc7,#00ffc3,#00ffc0,#00ffb8,#00ff9c,#00ff6a,#00ff4e,#00ff4f,#00ff4c,#00ff4c,#00ff4d,#00ff4d,#00ff4d,#00ff4d,#00ff4d,#00ff4d,#00ff4d,#00ff4c,#00ff48,#00ff3c,#00ff2b,#00ff1b,#00ff0d,#00ff01,#08ff00,#1dff00,#34ff00,#4cff00,#69ff00,#8dff00,#a9ff00,#c3ff00,#dcff00,#f6ff00,#fff500,#ffe300,#ffcd00,#ffb900,#ffa500,#ff8600,#ff8d00,#ff8f00,#ff9e00,#ffa500,#ffb500,#ffcc00,#fffa00,#d9ff00,#c1ff00,#b7ff00,#afff00,#9bff00)"></div>
<div style="background:linear-gradient(90deg,#64ff00,#26ff00,#00ff06,#00ff5e,#00ffa7,#00ffc6,#00ffde,#00fff2,#00f6ff,#00e3ff,#00d2ff,#00c2ff,#00b3ff,#00a2ff,#009cff,#0097ff,#008aff,#0086ff,#0085ff,#007fff,#007bff,#007aff,#007aff,#007aff,#007aff,#0079ff,#0075ff,#0073ff,#0072ff,#0071ff,#0071ff,#0071ff,#0072ff,#0073ff,#0077ff,#0079ff,#007aff,#007bff,#007dff,#0084ff,#0085ff,#0086ff,#0089ff,#0094ff,#0096ff,#0098ff,#009fff,#00a0ff,#00a4ff,#00a8ff,#00acff,#00b2ff,#00b9ff,#00bfff,#00c3ff,#00c4ff,#00c3ff,#00bfff,#00b9ff,#00b3ff,#00afff,#00aeff,#00b1ff,#00b6ff,#00bcff,#00c3ff,#00c7ff,#00caff,#00ccff,#00d1ff,#00e2ff,#00fff7,#00ffc4,#00ff4d,#18ff00,#46ff00,#53ff00,#59ff00,#5aff00,#5bff00,#5bff00,#5bff00,#59ff00,#54ff00,#4dff00,#28ff00,#00ff0b,#00ff31,#00ff5a,#00ff86,#00ffb1,#00ffd4,#00fff9,#00deff,#00b9ff,#0098ff,#0083ff,#0068ff,#0043ff,#001cff,#0c00f8,#1d00ee,#2000ed,#2400eb,#2800e8,#2b00e3,#3000dc,#3600d3,#3d00c9,#4500bc,#4900af,#4b00a5,#4c009f,#4c009d,#4c009d,#4c009d,#4c009d,#4c009d,#4c009d,#4c009e,#4c00a0,#4c00a3,#4b00a5,#4a00ae,#3e00c6,#2a00e5,#1d00ee,#1a00f0,#1800f1,#1500f3,#1100f5,#0c00f8,#0500fc,#0006ff,#0018ff,#0034ff,#0058ff,#0072ff,#0083ff,#0092ff,#00a5ff,#00c3ff,#00d0ff,#00cbff,#00cfff,#00dfff,#00efff,#00ffff,#00fff2,#00ffe7,#00ffde,#00ffd6,#00ffce,#00ffc8,#00ffc4,#00ffc1,#00ffb8,#00ff8b,#00ff50,#00ff4b,#00ff4a,#00ff49,#00ff4a,#00ff4a,#00ff4a,#00ff4a,#00ff4a,#00ff4a,#00ff48,#00ff45,#00ff3f,#00ff29,#00ff0e,#04ff00,#14ff00,#25ff00,#32ff00,#49ff00,#63ff00,#7eff00,#96ff00,#b3ff00,#ccff00,#e8ff00,#fffe00,#ffeb00,#ffdb00,#ffcb00,#ffb600,#ffa800,#ffa300,#ff9d00,#ffa600,#ffa900,#ffb200,#ffbe00,#ffcf00,#ffe900,#f0ff00,#ceff00,#bbff00,#b1ff00,#9bff00,#80ff00)"></div>
<div style="background:linear-gradient(90deg,#4bff00,#1fff00,#00ff04,#00ff49,#00ff90,#00ffb4,#00ffc7,#00ffd3,#00ffe5,#00fff2,#00fbff,#00edff,#00dfff,#00cfff,#00c5ff,#00bbff,#00acff,#00a6ff,#00a0ff,#0093ff,#008fff,#008eff,#008dff,#008dff,#008cff,#0089ff,#0082ff,#0080ff,#007fff,#007fff,#007fff,#007fff,#007fff,#0080ff,#0083ff,#0089ff,#008bff,#008cff,#008fff,#009cff,#00a0ff,#00a3ff,#00a8ff,#00b3ff,#00b6ff,#00b7ff,#00b8ff,#00b7ff,#00b9ff,#00bcff,#00c0ff,#00c7ff,#00cdff,#00d2ff,#00d4ff,#00d4ff,#00d0ff,#00c9ff,#00c0ff,#00b6ff,#00aeff,#00aaff,#00aaff,#00adff,#00b2ff,#00b6ff,#00b8ff,#00b8ff,#00b5ff,#00b2ff,#00bcff,#00eaff,#00ffd6,#00ff5b,#16ff00,#46ff00,#52ff00,#58ff00,#5aff00,#5aff00,#59ff00,#59ff00,#58ff00,#53ff00,#4bff00,#24ff00,#00ff0c,#00ff31,#00ff58,#00ff81,#00ffa9,#00ffcc,#00fff2,#00e6ff,#00c3ff,#00a3ff,#008aff,#0070ff,#0048ff,#0020ff,#0a00f9,#1d00ee,#2000ed,#2300eb,#2700e8,#2b00e3,#3000dd,#3500d4,#3c00ca,#4400be,#4900b1,#4b00a7,#4c00a0,#4c009e,#4c009d,#4c009d,#4c009d,#4c009d,#4c009d,#4c009d,#4c009e,#4c00a0,#4b00a3,#4b00a7,#4800b7,#3600d3,#2500ea,#1d00ee,#1a00f0,#1800f1,#1500f3,#1100f5,#0d00f8,#0600fb,#0003ff,#0016ff,#0031ff,#004bff,#0065ff,#0078ff,#0087ff,#009fff,#00c3ff,#00baff,#00baff,#00c9ff,#00dbff,#00ecff,#00fcff,#00fff5,#00ffe9,#00ffdf,#00ffd5,#00ffcd,#00ffc7,#00ffc2,#00ffc0,#00ffa2,#00ff56,#00ff4a,#00ff48,#00ff47,#00ff47,#00ff47,#00ff47,#00ff47,#00ff46,#00ff45,#00ff42,#00ff3f,#00ff32,#00ff16,#06ff00,#21ff00,#37ff00,#4bff00,#5eff00,#75ff00,#90ff00,#a9ff00,#bfff00,#daff00,#f5ff00,#fff100,#ffde00,#ffcd00,#ffc100,#ffb700,#ffa600,#ffa400,#ffa600,#ffab00,#ffb300,#ffba00,#ffc500,#ffd500,#ffe900,#fbff00,#d8ff00,#beff00,#adff00,#9aff00,#79ff00,#5fff00)"></div>
<div style="background:linear-gradient(90deg,#32ff00,#12ff00,#00ff09,#00ff44,#00ff7e,#00ffa0,#00ffb3,#00ffbc,#00ffc6,#00ffcc,#00ffdd,#00ffe5,#00fff4,#00fcff,#00efff,#00e3ff,#00d6ff,#00cdff,#00c5ff,#00b8ff,#00b1ff,#00aeff,#00acff,#00aaff,#00a7ff,#00a1ff,#0097ff,#0095ff,#0094ff,#0093ff,#0093ff,#0093ff,#0093ff,#0093ff,#0096ff,#00a0ff,#00a4ff,#00a8ff,#00aeff,#00baff,#00c1ff,#00c7ff,#00cdff,#00d5ff,#00d8ff,#00d6ff,#00d2ff,#00ceff,#00ccff,#00cfff,#00d4ff,#00dbff,#00e1ff,#00e6ff,#00e7ff,#00e4ff,#00deff,#00d4ff,#00c6ff,#00b8ff,#00acff,#00a5ff,#00a3ff,#00a5ff,#00a7ff,#00aaff,#00aaff,#00a6ff,#009dff,#0094ff,#0096ff,#00c7ff,#00ffe1,#00ff5f,#17ff00,#46ff00,#53ff00,#59ff00,#5aff00,#5aff00,#5aff00,#59ff00,#57ff00,#52ff00,#49ff00,#1fff00,#00ff0d,#00ff30,#00ff55,#00ff7b,#00ffa2,#00ffc6,#00ffec,#00eeff,#00cbff,#00acff,#0091ff,#0078ff,#004eff,#0024ff,#0600fb,#1c00ef,#1f00ed,#2300eb,#2700e9,#2a00e4,#2f00de,#3400d6,#3a00cc,#4200c1,#4900b4,#4a00a9,#4c00a2,#4c009f,#4c009d,#4c009d,#4c009d,#4c009d,#4c009d,#4c009d,#4c009d,#4c009e,#4c00a1,#4b00a4,#4a00ac,#4300c0,#3200d9,#2800e8,#2000ed,#1d00ee,#1a00f0,#1700f2,#1500f3,#1200f4,#0e00f7,#0700fb,#000aff,#0020ff,#0038ff,#004dff,#0062ff,#0076ff,#0095ff,#0099ff,#00a2ff,#00b3ff,#00c7ff,#00daff,#00ebff,#00fbff,#00fff5,#00ffe8,#00ffdc,#00ffd1,#00ffc9,#00ffc3,#00ffc0,#00ffa9,#00ff58,#00ff4a,#00ff46,#00ff45,#00ff45,#00ff45,#00ff44,#00ff44,#00ff42,#00ff41,#00ff3f,#00ff37,#00ff1f,#00ff05,#20ff00,#42ff00,#5bff00,#71ff00,#87ff00,#9fff00,#b6ff00,#d0ff00,#ebff00,#fff900,#ffe300,#ffcf00,#ffbe00,#ffb100,#ffaa00,#ffa900,#ffa300,#ffa600,#ffad00,#ffb500,#ffbf00,#ffc900,#ffd700,#ffea00,#fdff00,#deff00,#c0ff00,#acff00,#95ff00,#7aff00,#56ff00,#41ff00)"></div>
<div style="background:linear-gradient(90deg,#18ff00,#01ff00,#00ff16,#00ff46,#00ff72,#00ff8e,#00ff9f,#00ffaa,#00ffb0,#00ffb5,#00ffbe,#00ffc2,#00ffcf,#00ffd7,#00ffe6,#00fff2,#00feff,#00f5ff,#00eaff,#00dfff,#00d7ff,#00d2ff,#00ceff,#00caff,#00c6ff,#00beff,#00b6ff,#00b2ff,#00b0ff,#00aeff,#00adff,#00acff,#00acff,#00adff,#00b1ff,#00b9ff,#00c0ff,#00c6ff,#00cfff,#00d9ff,#00e2ff,#00e9ff,#00f2ff,#00faff,#00fbff,#00f7ff,#00ecff,#00e3ff,#00dfff,#00e1ff,#00e7ff,#00efff,#00f7ff,#00faff,#00faff,#00f6ff,#00edff,#00dfff,#00ceff,#00baff,#00a9ff,#009fff,#009cff,#009cff,#009dff,#009eff,#009dff,#0096ff,#008bff,#0085ff,#0085ff,#00acff,#00ffe4,#00ff57,#19ff00,#48ff00,#56ff00,#5bff00,#5cff00,#5cff00,#5cff00,#5bff00,#59ff00,#53ff00,#48ff00,#1aff00,#00ff10,#00ff2f,#00ff51,#00ff76,#00ff9c,#00ffc0,#00ffe5,#00f5ff,#00d3ff,#00b4ff,#0097ff,#007cff,#0053ff,#002aff,#0200fe,#1b00ef,#1f00ed,#2200eb,#2600e9,#2a00e5,#2e00df,#3300d8,#3900cf,#4000c4,#4800b8,#4a00ad,#4b00a5,#4c00a0,#4c009e,#4c009d,#4c009d,#4c009d,#4c009d,#4c009d,#4c009d,#4c009d,#4c009f,#4c00a2,#4b00a5,#4900b0,#4000c3,#3600d3,#2e00df,#2900e6,#2300eb,#2200ec,#2200ec,#2200ec,#2100ec,#1e00ee,#1200f5,#0900fa,#000bff,#001dff,#0036ff,#004eff,#0066ff,#007aff,#008aff,#009dff,#00b2ff,#00c8ff,#00dcff,#00eeff,#00feff,#00fff0,#00ffe2,#00ffd5,#00ffcb,#00ffc3,#00ffc1,#00ffa9,#00ff59,#00ff4a,#00ff46,#00ff44,#00ff44,#00ff43,#00ff42,#00ff41,#00ff40,#00ff3e,#00ff39,#00ff26,#00ff0b,#16ff00,#40ff00,#64ff00,#7fff00,#96ff00,#acff00,#c5ff00,#e2ff00,#fffe00,#ffe800,#ffd300,#ffbf00,#ffaf00,#ffa200,#ff9d00,#ff9d00,#ffa400,#ffa500,#ffab00,#ffb400,#ffbe00,#ffca00,#ffd700,#ffe800,#fffe00,#e2ff00,#c2ff00,#a9ff00,#93ff00,#77ff00,#59ff00,#38ff00,#25ff00)"></div>
<div style="background:linear-gradient(90deg,#00ff00,#00ff10,#00ff27,#00ff4b,#00ff6a,#00ff7f,#00ff8e,#00ff98,#00ff9e,#00ffa4,#00ffaa,#00ffaf,#00ffb6,#00ffbb,#00ffc5,#00ffcc,#00ffdb,#00ffe2,#00ffee,#00fff8,#00fcff,#00f5ff,#00f0ff,#00eaff,#00e4ff,#00ddff,#00d6ff,#00d1ff,#00cdff,#00caff,#00c8ff,#00c7ff,#00c7ff,#00c8ff,#00ccff,#00d4ff,#00dbff,#00e3ff,#00eeff,#00f9ff,#00fffa,#00fff1,#00ffe6,#00ffdf,#00ffde,#00ffe5,#00fff8,#00f6ff,#00f0ff,#00f2ff,#00faff,#00fffa,#00fff2,#00ffef,#00fff0,#00fff6,#00fdff,#00ecff,#00d6ff,#00bbff,#00a4ff,#0097ff,#0093ff,#0093ff,#0093ff,#0094ff,#0092ff,#008aff,#0081ff,#0080ff,#0083ff,#00a5ff,#00ffda,#00ff3f,#21ff00,#4cff00,#5bff00,#5eff00,#5fff00,#5fff00,#5eff00,#5dff00,#5bff00,#55ff00,#48ff00,#18ff00,#00ff11,#00ff2c,#00ff4c,#00ff70,#00ff96,#00ffbb,#00ffe0,#00fbff,#00dbff,#00bbff,#009dff,#0080ff,#0059ff,#0030ff,#0003ff,#1b00f0,#1f00ed,#2100ec,#2500ea,#2900e7,#2c00e1,#3100da,#3700d2,#3d00c8,#4500bd,#4900b2,#4a00a9,#4b00a3,#4c009f,#4c009e,#4c009d,#4c009d,#4c009d,#4c009d,#4c009d,#4c009d,#4c009e,#4c00a0,#4b00a3,#4b00a7,#4900b1,#4400be,#3d00c8,#3700d1,#3200d9,#3100db,#3200d8,#3400d6,#3400d6,#3100db,#2a00e6,#2300eb,#1600f2,#0b00f8,#0009ff,#0024ff,#0040ff,#005aff,#0072ff,#0087ff,#009dff,#00b6ff,#00ccff,#00e0ff,#00f3ff,#00fff8,#00ffe7,#00ffd8,#00ffcc,#00ffc4,#00ffc1,#00ffa5,#00ff57,#00ff49,#00ff45,#00ff43,#00ff43,#00ff42,#00ff41,#00ff3f,#00ff3e,#00ff3a,#00ff2b,#00ff12,#0eff00,#39ff00,#63ff00,#88ff00,#a2ff00,#b9ff00,#d8ff00,#faff00,#ffea00,#ffd200,#ffc100,#ffae00,#ffa000,#ff9200,#ff8a00,#ff8900,#ff9200,#ffa300,#ffa700,#ffb000,#ffbb00,#ffc700,#ffd500,#ffe500,#fff800,#e9ff00,#c8ff00,#aeff00,#94ff00,#78ff00,#5aff00,#3bff00,#1aff00,#0bff00)"></div>
<div style="background:linear-gradient(90deg,#00ff11,#00ff21,#00ff37,#00ff51,#00ff66,#00ff73,#00ff7f,#00ff87,#00ff8e,#00ff93,#00ff98,#00ff9e,#00ffa4,#00ffa9,#00ffb0,#00ffb5,#00ffbe,#00ffc2,#00ffcd,#00ffd4,#00ffdf,#00ffe6,#00ffeb,#00fff4,#00fffa,#00fcff,#00f4ff,#00eeff,#00e9ff,#00e5ff,#00e2ff,#00e0ff,#00e0ff,#00e2ff,#00e6ff,#00edff,#00f6ff,#00fffe,#00fff1,#00ffe5,#00ffd9,#00ffd1,#00ffc9,#00ffc4,#00ffc4,#00ffc9,#00ffe0,#00fff6,#00fffe,#00fffc,#00fff2,#00ffe5,#00ffdc,#00ffd9,#00ffdb,#00ffe4,#00fff1,#00fbff,#00dfff,#00bcff,#009bff,#008eff,#008aff,#0089ff,#0088ff,#0088ff,#0086ff,#007fff,#0079ff,#007dff,#0082ff,#00a8ff,#00ffcc,#00ff27,#2cff00,#55ff00,#65ff00,#6bff00,#68ff00,#65ff00,#64ff00,#61ff00,#5eff00,#58ff00,#4aff00,#19ff00,#00ff10,#00ff28,#00ff47,#00ff6a,#00ff90,#00ffb8,#00ffdc,#00fffd,#00e1ff,#00c2ff,#00a2ff,#0084ff,#005fff,#0036ff,#000aff,#1900f1,#1e00ee,#2000ed,#2300eb,#2700e8,#2b00e4,#2f00dd,#3400d6,#3a00cd,#4100c2,#4800b8,#4a00ae,#4b00a7,#4c00a2,#4c009f,#4c009e,#4c009d,#4c009d,#4c009d,#4c009d,#4c009d,#4c009d,#4c009e,#4c00a1,#4b00a3,#4b00a6,#4a00ad,#4900b4,#4600bc,#4000c4,#4000c5,#4300c0,#4600bb,#4700ba,#4400be,#3d00c9,#3500d5,#2b00e3,#2100ec,#1600f3,#0400fd,#001aff,#0038ff,#0054ff,#0071ff,#008bff,#00a5ff,#00bdff,#00d3ff,#00e8ff,#00fdff,#00ffec,#00ffda,#00ffcc,#00ffc4,#00ffc0,#00ff97,#00ff51,#00ff48,#00ff44,#00ff42,#00ff41,#00ff40,#00ff3f,#00ff3d,#00ff3a,#00ff2c,#00ff17,#03ff00,#33ff00,#60ff00,#87ff00,#acff00,#caff00,#f0ff00,#ffeb00,#ffd200,#ffba00,#ffa700,#ff9700,#ff8900,#ff7900,#ff7000,#ff7000,#ff7300,#ff7d00,#ffa100,#ffa900,#ffb300,#ffc100,#ffd000,#ffdf00,#fff100,#f6ff00,#d3ff00,#b4ff00,#9bff00,#7eff00,#5fff00,#3dff00,#1cff00,#01ff00,#00ff09)"></div>
<div style="background:linear-gradient(90deg,#00ff21,#00ff31,#00ff44,#00ff56,#00ff63,#00ff6c,#00ff73,#00ff79,#00ff7f,#00ff83,#00ff88,#00ff8d,#00ff93,#00ff98,#00ff9e,#00ffa4,#00ffab,#00ffb2,#00ffba,#00ffbe,#00ffc5,#00ffc8,#00ffcb,#00ffd6,#00ffdb,#00ffe4,#00ffeb,#00fff2,#00fff9,#00fffd,#00fcff,#00f9ff,#00f9ff,#00faff,#00ffff,#00fff7,#00ffed,#00ffe2,#00ffd4,#00ffc9,#00ffc4,#00ffc1,#00ffc0,#00ffbf,#00ffbf,#00ffc0,#00ffce,#00ffe9,#00fff2,#00ffee,#00ffe2,#00ffd0,#00ffc1,#00ffbd,#00ffc3,#00ffd1,#00ffe0,#00fff4,#00ebff,#00baff,#0090ff,#0086ff,#0080ff,#007bff,#0074ff,#0070ff,#006eff,#0069ff,#006dff,#007bff,#0081ff,#00afff,#00ffb0,#00ff0f,#3cff00,#68ff00,#7aff00,#82ff00,#7dff00,#79ff00,#76ff00,#70ff00,#66ff00,#5dff00,#4dff00,#1dff00,#00ff0e,#00ff24,#00ff40,#00ff62,#00ff8a,#00ffb7,#00ffd9,#00fff7,#00e8ff,#00c9ff,#00a8ff,#0088ff,#0064ff,#003eff,#0014ff,#1400f3,#1d00ee,#1f00ed,#2200ec,#2500ea,#2900e6,#2d00e1,#3100da,#3700d2,#3d00c8,#4400be,#4900b5,#4a00ac,#4b00a5,#4c00a1,#4c009f,#4c009e,#4c009d,#4c009d,#4c009d,#4c009d,#4c009d,#4c009d,#4c009f,#4c00a1,#4b00a3,#4b00a5,#4b00a8,#4a00ab,#4900b2,#4900b0,#4b00a8,#4c009e,#4c009d,#4c009f,#4a00ab,#4600bb,#3a00cd,#3100db,#2900e7,#1b00f0,#0800fb,#0015ff,#0036ff,#0057ff,#007cff,#0096ff,#00afff,#00c6ff,#00ddff,#00f5ff,#00fff1,#00ffdb,#00ffcc,#00ffc4,#00ffbd,#00ff83,#00ff4d,#00ff47,#00ff42,#00ff40,#00ff3f,#00ff3e,#00ff3d,#00ff39,#00ff2c,#00ff17,#00ff01,#28ff00,#5eff00,#86ff00,#aaff00,#dcff00,#fff400,#ffd200,#ffb200,#ffa200,#ff8800,#ff7700,#ff6300,#ff5500,#ff4900,#ff4b00,#ff5600,#ff5f00,#ff5b00,#ff9600,#ffa900,#ffb600,#ffc700,#ffd800,#ffe900,#fffd00,#e6ff00,#c2ff00,#a6ff00,#88ff00,#69ff00,#46ff00,#1fff00,#01ff00,#00ff10,#00ff19)"></div>
<div style="background:linear-gradient(90deg,#00ff31,#00ff40,#00ff4f,#00ff5b,#00ff62,#00ff68,#00ff6c,#00ff6f,#00ff73,#00ff75,#00ff7a,#00ff7e,#00ff83,#00ff88,#00ff8e,#00ff94,#00ff9b,#00ffa4,#00ffaf,#00ffb6,#00ffba,#00ffbb,#00ffbb,#00ffbf,#00ffc0,#00ffc9,#00ffcf,#00ffd5,#00ffdd,#00ffe2,#00ffe9,#00ffec,#00ffed,#00ffec,#00ffe7,#00ffde,#00ffd3,#00ffca,#00ffc2,#00ffbf,#00ffbf,#00ffbf,#00ffbf,#00ffc0,#00ffc0,#00ffbf,#00ffc7,#00ffdf,#00ffe8,#00ffe3,#00ffd3,#00ffb7,#00ff94,#00ff89,#00ff9a,#00ffb4,#00ffcc,#00ffe2,#00f9ff,#00baff,#0087ff,#0081ff,#0078ff,#0069ff,#0056ff,#004aff,#0047ff,#004cff,#0061ff,#0077ff,#0082ff,#00cbff,#00ff88,#09ff00,#51ff00,#84ff00,#94ff00,#9eff00,#97ff00,#93ff00,#91ff00,#87ff00,#78ff00,#68ff00,#56ff00,#28ff00,#00ff09,#00ff1e,#00ff38,#00ff59,#00ff83,#00ffb5,#00ffd5,#00fff1,#00efff,#00d0ff,#00aeff,#008bff,#0069ff,#0047ff,#0020ff,#0c00f8,#1b00ef,#1e00ee,#2000ec,#2300eb,#2700e9,#2a00e4,#2e00de,#3300d7,#3900cf,#3f00c6,#4500bc,#4900b2,#4a00aa,#4b00a5,#4c00a2,#4c00a0,#4c009e,#4c009e,#4c009d,#4c009d,#4c009d,#4c009d,#4c009e,#4c009f,#4c00a1,#4c00a2,#4b00a4,#4b00a3,#4b00a4,#4c009c,#4e0091,#500087,#500085,#500086,#4f0090,#4c00a1,#4800b8,#3e00c7,#3600d2,#2c00e3,#1c00ef,#0900fa,#0016ff,#003cff,#0067ff,#0089ff,#00a1ff,#00b9ff,#00d1ff,#00ecff,#00fff4,#00ffd9,#00ffc9,#00ffc2,#00ffb3,#00ff6e,#00ff4a,#00ff44,#00ff41,#00ff3f,#00ff3d,#00ff3c,#00ff37,#00ff2a,#00ff17,#00ff00,#29ff00,#5eff00,#8dff00,#b0ff00,#e3ff00,#ffdd00,#ffb900,#ff9800,#ff7b00,#ff6800,#ff5000,#ff3d00,#ff2c00,#ff2800,#ff2800,#ff2800,#ff4000,#ff5100,#ff4a00,#ff7f00,#ffa800,#ffb900,#ffcd00,#ffe000,#fff300,#f6ff00,#daff00,#b6ff00,#97ff00,#76ff00,#55ff00,#2eff00,#05ff00,#00ff11,#00ff21,#00ff2b)"></div>
<div style="background:linear-gradient(90deg,#00ff40,#00ff4d,#00ff57,#00ff5d,#00ff62,#00ff66,#00ff69,#00ff6b,#00ff6d,#00ff6e,#00ff71,#00ff72,#00ff76,#00ff79,#00ff7f,#00ff84,#00ff8c,#00ff97,#00ffa6,#00ffb2,#00ffb6,#00ffb5,#00ffb2,#00ffaf,#00ffaf,#00ffb5,#00ffb9,#00ffbf,#00ffc6,#00ffc9,#00ffd1,#00ffd3,#00ffd4,#00ffd5,#00ffd0,#00ffc8,#00ffc3,#00ffc0,#00ffbf,#00ffbf,#00ffbf,#00ffc0,#00ffc0,#00ffc1,#00ffc0,#00ffbf,#00ffc5,#00ffda,#00ffe1,#00ffdb,#00ffc7,#00ff94,#00ff52,#00ff44,#00ff4f,#00ff6c,#00ffa2,#00ffca,#00fff2,#00c1ff,#0085ff,#0080ff,#0073ff,#0059ff,#0034ff,#0020ff,#001dff,#0029ff,#0054ff,#0074ff,#008bff,#00fffb,#00ff59,#1eff00,#6bff00,#a4ff00,#abff00,#b0ff00,#adff00,#acff00,#abff00,#a0ff00,#8fff00,#7cff00,#66ff00,#39ff00,#00ff02,#00ff18,#00ff2e,#00ff4e,#00ff79,#00ffb1,#00ffd2,#00ffeb,#00f7ff,#00d8ff,#00b5ff,#008cff,#006eff,#0050ff,#002eff,#0006ff,#1200f5,#1c00ef,#1f00ed,#2100ec,#2400ea,#2800e8,#2b00e3,#2f00dd,#3400d6,#3a00ce,#4000c4,#4600ba,#4900b0,#4a00a9,#4b00a5,#4c00a2,#4c00a1,#4c009f,#4c009e,#4c009d,#4c009d,#4c009d,#4c009d,#4c009e,#4c009f,#4c00a0,#4c00a0,#4c009e,#4d0099,#4f008c,#500080,#4f0079,#4f0077,#4f0079,#50007f,#4f008b,#4b00a4,#4900b5,#4400be,#3900ce,#2b00e4,#1b00ef,#0600fc,#0020ff,#004cff,#007aff,#0094ff,#00acff,#00c5ff,#00e3ff,#00fff7,#00ffd4,#00ffc5,#00ffba,#00ff97,#00ff59,#00ff48,#00ff41,#00ff3f,#00ff3c,#00ff3a,#00ff34,#00ff25,#00ff14,#03ff00,#2eff00,#62ff00,#96ff00,#bfff00,#f6ff00,#ffcd00,#ffa100,#ff7c00,#ff5900,#ff3f00,#ff2b00,#ff2800,#ff2800,#ff2800,#ff2800,#ff2800,#ff2800,#ff3200,#ff4c00,#ff4c00,#ff5d00,#ffa200,#ffba00,#ffd300,#ffe900,#fffd00,#eaff00,#cfff00,#aeff00,#88ff00,#64ff00,#41ff00,#19ff00,#00ff0a,#00ff20,#00ff33,#00ff3a)"></div>
<div style="background:linear-gradient(90deg,#00ff4c,#00ff55,#00ff5a,#00ff5f,#00ff62,#00ff64,#00ff66,#00ff67,#00ff69,#00ff6a,#00ff6c,#00ff6c,#00ff6f,#00ff70,#00ff73,#00ff76,#00ff7e,#00ff8b,#00ff9f,#00ffae,#00ffb3,#00ffb0,#00ffa8,#00ffa2,#00ffa0,#00ffa4,#00ffa9,#00ffb2,#00ffb9,#00ffbd,#00ffc1,#00ffc2,#00ffc3,#00ffc4,#00ffc2,#00ffc0,#00ffbf,#00ffbf,#00ffc0,#00ffc0,#00ffc0,#00ffc0,#00ffc0,#00ffc0,#00ffc0,#00ffbf,#00ffc8,#00ffd9,#00ffdd,#00ffd6,#00ffc1,#00ff75,#00ff18,#00ff0d,#00ff0c,#00ff18,#00ff4c,#00ff9c,#00ffd5,#00ddff,#0090ff,#007fff,#0071ff,#004bff,#000fff,#0800fa,#0a00f9,#0100fe,#0049ff,#0075ff,#00a7ff,#00ffc3,#00ff26,#30ff00,#82ff00,#b2ff00,#b3ff00,#b5ff00,#b6ff00,#b9ff00,#bbff00,#b6ff00,#a8ff00,#95ff00,#7dff00,#51ff00,#10ff00,#00ff10,#00ff22,#00ff40,#00ff6b,#00ffa9,#00ffce,#00ffe4,#00fffe,#00e1ff,#00bdff,#008fff,#0073ff,#005bff,#003eff,#001fff,#0001ff,#1300f4,#1d00ee,#2000ed,#2200ec,#2400ea,#2800e8,#2b00e3,#2f00dd,#3400d6,#3900ce,#4000c4,#4700ba,#4900b0,#4b00a9,#4b00a5,#4b00a3,#4c00a1,#4c009f,#4c009e,#4c009d,#4c009d,#4c009d,#4c009d,#4c009d,#4c009e,#4c009d,#4d009b,#4e0092,#500083,#4f0077,#4f0073,#4f0073,#4f0073,#4f0076,#500080,#4e0095,#4b00a4,#4a00ad,#4600bb,#3800d0,#2a00e5,#1800f1,#0002ff,#002fff,#0062ff,#0088ff,#009fff,#00b8ff,#00d7ff,#00fffb,#00ffcb,#00ffbc,#00ffa1,#00ff71,#00ff4e,#00ff44,#00ff3c,#00ff35,#00ff30,#00ff2c,#00ff21,#00ff0e,#0eff00,#3bff00,#6eff00,#a0ff00,#d7ff00,#ffea00,#ffb600,#ff8a00,#ff5d00,#ff3700,#ff2800,#ff2800,#ff2800,#ff2800,#ff2800,#ff2800,#ff2800,#ff2800,#ff2800,#ff2b00,#ff4d00,#ff5700,#ff4f00,#ff9600,#ffbc00,#ffda00,#fff200,#f6ff00,#dfff00,#c7ff00,#a8ff00,#78ff00,#51ff00,#2eff00,#0aff00,#00ff14,#00ff2e,#00ff42,#00ff48)"></div>
<div style="background:linear-gradient(90deg,#00ff53,#00ff59,#00ff5d,#00ff61,#00ff62,#00ff63,#00ff64,#00ff65,#00ff65,#00ff66,#00ff67,#00ff69,#00ff6a,#00ff6b,#00ff6d,#00ff6f,#00ff76,#00ff81,#00ff99,#00ffac,#00ffb2,#00ffab,#00ff9f,#00ff94,#00ff90,#00ff93,#00ff9b,#00ffa6,#00ffb2,#00ffba,#00ffbe,#00ffbf,#00ffbf,#00ffbf,#00ffbf,#00ffbf,#00ffbf,#00ffc0,#00ffc1,#00ffc1,#00ffc1,#00ffc0,#00ffc1,#00ffc0,#00ffbf,#00ffc1,#00ffcf,#00ffdc,#00ffdc,#00ffd3,#00ffbf,#00ff61,#00ff06,#0aff00,#13ff00,#0bff00,#00ff09,#00ff44,#00ffa0,#00ffee,#00b9ff,#0084ff,#0071ff,#0045ff,#0b00f8,#1a00f0,#1a00f0,#1000f6,#004dff,#0080ff,#00dbff,#00ff8b,#00ff02,#3fff00,#91ff00,#b3ff00,#b3ff00,#b6ff00,#baff00,#c0ff00,#c8ff00,#cbff00,#c2ff00,#b1ff00,#9aff00,#6fff00,#2eff00,#00ff03,#00ff14,#00ff2f,#00ff59,#00ff9a,#00ffc9,#00ffdc,#00fff5,#00ecff,#00c7ff,#0095ff,#007aff,#0066ff,#004fff,#0036ff,#001dff,#0000ff,#1400f3,#1d00ef,#1f00ed,#2100ec,#2400eb,#2700e9,#2a00e5,#2e00df,#3300d8,#3800d0,#3f00c6,#4500bc,#4900b2,#4a00a9,#4b00a6,#4b00a3,#4c00a1,#4c009f,#4c009e,#4c009d,#4c009d,#4c009d,#4c009d,#4c009d,#4d009c,#4d0098,#4f008d,#50007f,#4f0073,#4f007b,#50007e,#4f007b,#4f0073,#4f0079,#4f008b,#4d009b,#4b00a5,#4a00ad,#4500bd,#3700d1,#2800e8,#1200f4,#0011ff,#0045ff,#0078ff,#0092ff,#00a9ff,#00c9ff,#00fbff,#00ffc4,#00ffb2,#00ff81,#00ff59,#00ff4a,#00ff3a,#00ff2b,#00ff20,#00ff1a,#00ff16,#00ff07,#1fff00,#4dff00,#81ff00,#b3ff00,#f6ff00,#ffcb00,#ff9000,#ff6500,#ff3900,#ff2800,#ff2800,#ff2800,#ff2800,#ff2800,#ff2800,#ff2800,#ff2800,#ff2800,#ff2800,#ff2800,#ff2e00,#ff5500,#ff6500,#ff6100,#ff8d00,#ffbd00,#ffe300,#fffd00,#e9ff00,#d5ff00,#c0ff00,#9fff00,#65ff00,#3dff00,#1cff00,#00ff01,#00ff1e,#00ff3b,#00ff4a,#00ff4f)"></div>
<div style="background:linear-gradient(90deg,#00ff56,#00ff5b,#00ff60,#00ff62,#00ff62,#00ff63,#00ff63,#00ff63,#00ff64,#00ff64,#00ff65,#00ff65,#00ff66,#00ff67,#00ff69,#00ff6c,#00ff71,#00ff7a,#00ff95,#00ffaf,#00ffb5,#00ffa8,#00ff95,#00ff86,#00ff81,#00ff84,#00ff8d,#00ff9c,#00ffad,#00ffb8,#00ffbd,#00ffbf,#00ffc0,#00ffc0,#00ffc1,#00ffc0,#00ffbf,#00ffbf,#00ffc0,#00ffc0,#00ffc0,#00ffc0,#00ffc0,#00ffbf,#00ffc0,#00ffca,#00ffda,#00ffe1,#00ffde,#00ffd3,#00ffc1,#00ff60,#00ff02,#16ff00,#29ff00,#23ff00,#13ff00,#00ff06,#00ff45,#00ffad,#00fdff,#009cff,#0079ff,#004fff,#0300fd,#1800f1,#1700f2,#0009ff,#0067ff,#00a5ff,#00ffde,#00ff51,#13ff00,#49ff00,#90ff00,#b2ff00,#b4ff00,#b6ff00,#bcff00,#c7ff00,#d6ff00,#e7ff00,#e9ff00,#d7ff00,#b8ff00,#94ff00,#5aff00,#22ff00,#00ff01,#00ff1a,#00ff41,#00ff84,#00ffc3,#00ffd6,#00ffea,#00f9ff,#00d6ff,#00a6ff,#0082ff,#0071ff,#0060ff,#004dff,#0038ff,#0020ff,#0003ff,#1000f6,#1400f3,#1b00ef,#1e00ee,#2200ec,#2400ea,#2800e8,#2c00e3,#3000dc,#3500d5,#3b00cb,#4200c2,#4800b7,#4900af,#4b00a7,#4b00a3,#4c00a1,#4c009f,#4c009e,#4c009d,#4c009d,#4c009d,#4d009c,#4d009b,#4e0096,#500089,#4f007c,#4f0075,#4f008d,#4f008e,#4f008e,#4f007c,#4f0075,#500087,#4d0096,#4c00a0,#4b00a6,#4a00ae,#4400be,#3400d6,#2300eb,#0a00fa,#0025ff,#005cff,#0082ff,#0097ff,#00b8ff,#00eaff,#00ffcc,#00ffb0,#00ff7b,#00ff5a,#00ff47,#00ff27,#00ff15,#00ff0c,#00ff01,#14ff00,#32ff00,#6cff00,#95ff00,#d5ff00,#ffe800,#ff9f00,#ff6700,#ff2800,#ff2800,#ff2800,#ff2800,#ff2800,#ff2800,#ff2800,#ff2800,#ff2800,#ff2800,#ff2800,#ff2800,#ff2800,#ff2800,#ff4400,#ff6500,#ff7400,#ff7900,#ff9300,#ffc200,#ffef00,#f3ff00,#ddff00,#cbff00,#b8ff00,#8aff00,#4eff00,#27ff00,#0aff00,#00ff0c,#00ff2a,#00ff45,#00ff4d,#00ff52)"></div>
<div style="background:linear-gradient(90deg,#00ff58,#00ff5d,#00ff61,#00ff62,#00ff63,#00ff63,#00ff63,#00ff63,#00ff63,#00ff63,#00ff63,#00ff64,#00ff64,#00ff65,#00ff66,#00ff68,#00ff6d,#00ff77,#00ff95,#00ffb6,#00ffbb,#00ffa7,#00ff8c,#00ff7b,#00ff76,#00ff79,#00ff82,#00ff94,#00ffaa,#00ffb7,#00ffbd,#00ffc0,#00ffc6,#00ffcb,#00ffce,#00ffcd,#00ffc5,#00ffc0,#00ffbf,#00ffbf,#00ffbf,#00ffbf,#00ffbf,#00ffc2,#00ffcb,#00ffde,#00ffe9,#00ffe9,#00ffe2,#00ffd5,#00ffc4,#00ff6d,#00ff04,#1fff00,#39ff00,#38ff00,#2aff00,#18ff00,#00ff03,#00ff4f,#00ffb6,#00e5ff,#0094ff,#0067ff,#002dff,#000bff,#0014ff,#004eff,#009cff,#00f6ff,#00ff93,#00ff18,#23ff00,#4fff00,#84ff00,#abff00,#b3ff00,#b7ff00,#beff00,#ccff00,#e4ff00,#fff900,#ffea00,#fff200,#ebff00,#c0ff00,#8bff00,#56ff00,#23ff00,#00ff03,#00ff24,#00ff62,#00ffb6,#00ffce,#00ffe0,#00fff7,#00e8ff,#00beff,#0092ff,#007dff,#0073ff,#0064ff,#0055ff,#0042ff,#002bff,#0014ff,#0006ff,#0900fa,#0f00f6,#1900f1,#1c00ef,#1f00ed,#2400eb,#2700e9,#2b00e4,#3000dc,#3400d5,#3a00cc,#4200c1,#4900b3,#4b00a7,#4b00a4,#4c00a1,#4c009f,#4c009e,#4c009d,#4c009d,#4d009c,#4d009b,#4e0094,#500086,#4f0077,#4f0078,#4f008f,#4f008e,#4f008f,#500085,#4f0074,#500086,#4e0094,#4c009d,#4b00a3,#4b00a6,#4900af,#4000c3,#2f00dd,#1a00f0,#0004ff,#0038ff,#0066ff,#0085ff,#00a2ff,#00cfff,#00ffe9,#00ffb9,#00ff91,#00ff71,#00ff54,#00ff15,#00ff08,#00ff03,#18ff00,#64ff00,#8fff00,#a9ff00,#d3ff00,#ffcb00,#ffa000,#ff3a00,#ff2800,#ff2800,#ff2800,#ff2800,#ff2800,#ff2800,#ff2800,#ff2800,#ff2800,#ff2800,#ff2800,#ff2800,#ff2f00,#ff3a00,#ff4900,#ff6600,#ff7b00,#ff8500,#ff8d00,#ff9e00,#ffd000,#feff00,#e3ff00,#d1ff00,#c3ff00,#b2ff00,#6cff00,#32ff00,#0fff00,#00ff06,#00ff1b,#00ff36,#00ff4a,#00ff51,#00ff55)"></div>
<div style="background:linear-gradient(90deg,#00ff5a,#00ff5f,#00ff62,#00ff62,#00ff63,#00ff63,#00ff63,#00ff63,#00ff63,#00ff63,#00ff63,#00ff63,#00ff63,#00ff63,#00ff64,#00ff66,#00ff6a,#00ff75,#00ff93,#00ffb9,#00ffbd,#00ffa4,#00ff84,#00ff74,#00ff72,#00ff74,#00ff7c,#00ff8f,#00ffa8,#00ffb8,#00ffbf,#00ffc6,#00ffd4,#00ffe0,#00ffea,#00ffec,#00ffe2,#00ffd0,#00ffc6,#00ffc2,#00ffc2,#00ffc3,#00ffcc,#00ffd7,#00ffea,#00fff7,#00fff8,#00fff3,#00ffe7,#00ffd7,#00ffc7,#00ff7b,#00ff09,#20ff00,#3cff00,#41ff00,#3cff00,#2eff00,#1bff00,#00ff04,#00ff53,#00ffb9,#00e3ff,#0093ff,#006cff,#005dff,#0068ff,#00a0ff,#00f4ff,#00ffa9,#00ff37,#0bff00,#32ff00,#53ff00,#75ff00,#97ff00,#aeff00,#b6ff00,#bfff00,#d0ff00,#efff00,#ffdc00,#ffbe00,#ffbf00,#ffd400,#ffff00,#bdff00,#8bff00,#56ff00,#23ff00,#00ff04,#00ff35,#00ff93,#00ffc3,#00ffd5,#00ffe8,#00fcff,#00d9ff,#00b0ff,#0091ff,#0085ff,#0079ff,#0073ff,#0063ff,#0053ff,#0040ff,#0030ff,#001eff,#000fff,#0600fc,#1100f5,#1800f1,#1c00ef,#1d00ee,#2000ed,#2400ea,#2700e9,#2b00e3,#3300d7,#3f00c5,#4900b1,#4b00a7,#4b00a4,#4c00a2,#4c00a0,#4c009e,#4c009e,#4c009c,#4d009b,#4e0094,#500086,#4f0076,#4f0077,#4f008e,#4e0090,#4f008f,#500082,#4f0074,#500085,#4e0093,#4d009c,#4c00a0,#4b00a4,#4b00a8,#4900b4,#3b00cb,#2900e6,#1300f4,#0015ff,#0043ff,#006eff,#008bff,#00acff,#00e1ff,#00ffdc,#00ffb6,#00ff9c,#00ff79,#00ff21,#00ff0c,#00ff03,#1dff00,#93ff00,#acff00,#b7ff00,#f0ff00,#ffb100,#ff9400,#ff2800,#ff2800,#ff2800,#ff2800,#ff2800,#ff2800,#ff2800,#ff2b00,#ff3d00,#ff5900,#ff7100,#ff7600,#ff7800,#ff7c00,#ff8000,#ff8600,#ff9000,#ff9800,#ff9c00,#ffa300,#ffb900,#ffed00,#e8ff00,#d3ff00,#c4ff00,#bbff00,#a6ff00,#45ff00,#11ff00,#00ff06,#00ff16,#00ff2c,#00ff41,#00ff4d,#00ff53,#00ff57)"></div>
<div style="background:linear-gradient(90deg,#00ff5b,#00ff5f,#00ff62,#00ff63,#00ff63,#00ff63,#00ff63,#00ff63,#00ff63,#00ff63,#00ff63,#00ff63,#00ff63,#00ff63,#00ff63,#00ff65,#00ff68,#00ff72,#00ff8c,#00ffad,#00ffb0,#00ff9a,#00ff7d,#00ff6f,#00ff6f,#00ff72,#00ff79,#00ff90,#00ffab,#00ffbb,#00ffc5,#00ffd3,#00ffe5,#00fff7,#00f7ff,#00ecff,#00f0ff,#00fffb,#00ffe6,#00ffdb,#00ffda,#00ffdf,#00fff2,#00fbff,#00ecff,#00edff,#00f5ff,#00fffd,#00ffed,#00ffdb,#00ffc9,#00ff8b,#00ff16,#17ff00,#37ff00,#43ff00,#44ff00,#3eff00,#30ff00,#1bff00,#00ff08,#00ff51,#00ffb8,#00ecff,#00c6ff,#00b9ff,#00cdff,#00fffa,#00ffa9,#00ff44,#00ff03,#22ff00,#40ff00,#54ff00,#67ff00,#81ff00,#9fff00,#b2ff00,#bdff00,#d0ff00,#f5ff00,#ffc700,#ff9f00,#ff9200,#ffa500,#ffc400,#fffb00,#c2ff00,#8aff00,#56ff00,#23ff00,#00ff09,#00ff4e,#00ffa2,#00ffc7,#00ffd8,#00ffed,#00f6ff,#00d4ff,#00b2ff,#0097ff,#0089ff,#0084ff,#007dff,#0077ff,#0069ff,#005cff,#0049ff,#0037ff,#0018ff,#0400fd,#1200f5,#1800f1,#1a00f0,#1b00ef,#1c00ef,#1c00ef,#1f00ed,#2400ea,#3100db,#4200c0,#4a00ad,#4b00a8,#4b00a4,#4c00a2,#4c00a1,#4c009f,#4c009e,#4d009b,#4e0095,#500087,#4f0078,#4f0073,#500082,#4f008e,#50008a,#4f0076,#4f0076,#500086,#4e0094,#4d009b,#4c009e,#4c00a1,#4b00a4,#4a00aa,#4600bb,#3500d5,#2100ec,#0800fa,#0020ff,#004aff,#006fff,#0088ff,#00a6ff,#00d5ff,#00fff5,#00ffcf,#00ffb8,#00ff6e,#00ff49,#00ff28,#00ff09,#54ff00,#6eff00,#8eff00,#a7ff00,#fdff00,#ffbb00,#ff7f00,#ff6000,#ff7400,#ff7e00,#ff8300,#ff9d00,#ff9500,#ff9400,#ff9800,#ffa900,#ffc500,#ffc900,#ffc900,#ffca00,#ffca00,#ffcb00,#ffcc00,#ffcd00,#ffcd00,#ffd200,#fff000,#e2ff00,#ccff00,#beff00,#a6ff00,#9dff00,#68ff00,#11ff00,#00ff0b,#00ff18,#00ff29,#00ff3b,#00ff4a,#00ff4f,#00ff55,#00ff59)"></div>
<div style="background:linear-gradient(90deg,#00ff5c,#00ff60,#00ff62,#00ff63,#00ff63,#00ff63,#00ff63,#00ff63,#00ff63,#00ff63,#00ff63,#00ff63,#00ff63,#00ff63,#00ff63,#00ff64,#00ff67,#00ff6f,#00ff82,#00ff97,#00ff9a,#00ff8b,#00ff76,#00ff6c,#00ff6d,#00ff71,#00ff7c,#00ff96,#00ffb1,#00ffc0,#00ffce,#00ffe0,#00fff6,#00f2ff,#00ddff,#00c9ff,#00c7ff,#00d5ff,#00e8ff,#00f6ff,#00f7ff,#00efff,#00deff,#00cdff,#00c8ff,#00d5ff,#00e4ff,#00f6ff,#00fff4,#00ffdf,#00ffcb,#00ff9e,#00ff2b,#08ff00,#27ff00,#3cff00,#44ff00,#44ff00,#3fff00,#2fff00,#17ff00,#00ff06,#00ff4c,#00ff9d,#00ffcb,#00ffe5,#00ffc4,#00ff98,#00ff45,#00ff07,#17ff00,#35ff00,#4aff00,#55ff00,#5eff00,#6eff00,#89ff00,#a7ff00,#b8ff00,#ccff00,#f0ff00,#ffcf00,#ff9d00,#ff7f00,#ff8300,#ff9800,#ffb900,#fffa00,#b6ff00,#89ff00,#56ff00,#20ff00,#00ff0d,#00ff55,#00ffa2,#00ffc3,#00ffd6,#00ffe9,#00f9ff,#00d4ff,#00abff,#0093ff,#0089ff,#0085ff,#0084ff,#0080ff,#007dff,#006fff,#0060ff,#003aff,#0008ff,#0c00f8,#1500f3,#1800f1,#1900f1,#1900f0,#1900f1,#1a00f0,#1b00ef,#2400eb,#3700d2,#4600bb,#4a00af,#4b00a8,#4b00a5,#4b00a3,#4c00a2,#4c00a0,#4c009d,#4d0097,#4f008b,#4f007d,#4f0073,#4f0073,#4f007b,#4f0078,#4f0072,#4f007b,#500088,#4e0095,#4d009b,#4c009d,#4c009f,#4c00a2,#4b00a6,#4a00ae,#3f00c5,#2c00e2,#1b00f0,#0200fe,#0024ff,#0048ff,#0061ff,#0077ff,#008aff,#00b3ff,#00cdff,#00ecff,#00ffe0,#00ffcc,#00ffa7,#00ff73,#00ff43,#00ff39,#00ff2d,#00ff2b,#00ff01,#8dff00,#b4ff00,#b6ff00,#b1ff00,#b1ff00,#aeff00,#94ff00,#e6ff00,#f0ff00,#f0ff00,#edff00,#dbff00,#d8ff00,#ddff00,#dfff00,#dfff00,#dfff00,#dfff00,#dfff00,#ddff00,#d5ff00,#c3ff00,#98ff00,#8dff00,#84ff00,#4aff00,#36ff00,#02ff00,#00ff1b,#00ff24,#00ff2d,#00ff3a,#00ff47,#00ff4d,#00ff51,#00ff56,#00ff5a)"></div>
<div style="background:linear-gradient(90deg,#00ff5c,#00ff60,#00ff62,#00ff63,#00ff63,#00ff63,#00ff63,#00ff63,#00ff63,#00ff63,#00ff63,#00ff63,#00ff63,#00ff63,#00ff63,#00ff63,#00ff66,#00ff6b,#00ff78,#00ff85,#00ff87,#00ff7d,#00ff70,#00ff6b,#00ff6c,#00ff72,#00ff85,#00ffa0,#00ffb8,#00ffc6,#00ffd7,#00ffec,#00f9ff,#00dfff,#00c9ff,#00b8ff,#00b4ff,#00b9ff,#00c0ff,#00ccff,#00cdff,#00c6ff,#00bcff,#00b5ff,#00b6ff,#00c2ff,#00d6ff,#00ecff,#00fffa,#00ffe2,#00ffcd,#00ffa9,#00ff48,#00ff0a,#12ff00,#29ff00,#3aff00,#43ff00,#43ff00,#3eff00,#2eff00,#18ff00,#00ff04,#00ff2b,#00ff5f,#00ff77,#00ff64,#00ff2f,#00ff06,#15ff00,#2dff00,#44ff00,#4eff00,#55ff00,#5cff00,#62ff00,#74ff00,#94ff00,#aeff00,#c3ff00,#e4ff00,#ffe700,#ffb700,#ff9700,#ff8300,#ff7e00,#ff9100,#ffc600,#d8ff00,#aeff00,#88ff00,#4fff00,#15ff00,#00ff14,#00ff54,#00ff98,#00ffc0,#00ffcb,#00ffe0,#00f9ff,#00baff,#0097ff,#0089ff,#0085ff,#0084ff,#0084ff,#0084ff,#0082ff,#007dff,#0056ff,#0011ff,#0900fa,#1300f4,#1700f2,#1800f1,#1700f1,#1700f2,#1700f2,#1800f1,#1c00ef,#2b00e3,#3b00cc,#4500bd,#4900b2,#4a00aa,#4b00a6,#4b00a4,#4c00a3,#4c009f,#4d009a,#4f0090,#500085,#4f007b,#4f0075,#4f0073,#4f0073,#4f0078,#500080,#4f008c,#4d0097,#4d009b,#4c009d,#4c009e,#4c00a0,#4b00a4,#4b00a9,#4800b8,#3500d5,#2500ea,#1600f3,#0000ff,#001eff,#0035ff,#0047ff,#0058ff,#006cff,#0077ff,#0094ff,#00a7ff,#00bdff,#00e7ff,#00fdff,#00ffeb,#00ffe3,#00ffe2,#00ffdd,#00ffc4,#00ff76,#00ff6e,#00ff6d,#00ff6c,#00ff6b,#00ff6a,#00ff3c,#20ff00,#23ff00,#23ff00,#23ff00,#27ff00,#32ff00,#5dff00,#69ff00,#6aff00,#6bff00,#6bff00,#6bff00,#60ff00,#3bff00,#35ff00,#1eff00,#17ff00,#12ff00,#00ff19,#00ff29,#00ff3b,#00ff40,#00ff3e,#00ff40,#00ff47,#00ff4c,#00ff4f,#00ff52,#00ff57,#00ff5a)"></div>
<div style="background:linear-gradient(90deg,#00ff5c,#00ff60,#00ff62,#00ff63,#00ff63,#00ff63,#00ff63,#00ff63,#00ff63,#00ff63,#00ff63,#00ff63,#00ff63,#00ff63,#00ff63,#00ff63,#00ff65,#00ff68,#00ff6f,#00ff77,#00ff79,#00ff73,#00ff6b,#00ff6a,#00ff6d,#00ff78,#00ff90,#00ffac,#00ffbf,#00ffcc,#00ffdf,#00fff6,#00ecff,#00d1ff,#00beff,#00b3ff,#00b0ff,#00b0ff,#00b1ff,#00b4ff,#00b5ff,#00b2ff,#00b0ff,#00b0ff,#00b2ff,#00b9ff,#00ccff,#00e4ff,#00ffff,#00ffe5,#00ffcf,#00ffb1,#00ff66,#00ff27,#00ff03,#12ff00,#25ff00,#37ff00,#42ff00,#44ff00,#3eff00,#2fff00,#1cff00,#0bff00,#00ff0b,#00ff11,#00ff0d,#09ff00,#18ff00,#2cff00,#3fff00,#4cff00,#50ff00,#56ff00,#5bff00,#5eff00,#66ff00,#7eff00,#9dff00,#b7ff00,#d3ff00,#faff00,#ffdd00,#ffbc00,#ffa500,#ff9100,#ff8700,#ffb000,#eaff00,#bcff00,#abff00,#7eff00,#27ff00,#01ff00,#00ff15,#00ff5c,#00ffb0,#00ffbf,#00ffc5,#00ffe2,#00c2ff,#0097ff,#0089ff,#0086ff,#0085ff,#0084ff,#0082ff,#007cff,#0076ff,#004eff,#000fff,#0900fa,#1200f5,#1600f2,#1600f2,#1500f3,#1400f3,#1400f3,#1500f3,#1800f1,#2100ec,#2f00de,#3900cf,#4100c3,#4800b7,#4a00ae,#4a00a9,#4b00a6,#4b00a3,#4c009e,#4d0097,#4f008e,#500084,#4f007d,#4f0079,#4f007a,#500080,#500087,#4e0090,#4d0099,#4d009c,#4c009d,#4c009e,#4c00a0,#4b00a3,#4b00a8,#4900b0,#3a00cd,#2b00e3,#2000ed,#1500f3,#0700fb,#000aff,#0017ff,#0029ff,#0036ff,#0040ff,#0052ff,#005dff,#0074ff,#0084ff,#008bff,#00abff,#00b6ff,#00b8ff,#00c4ff,#00dfff,#00f3ff,#00fcff,#00fff8,#00fff4,#00ffec,#00ffe3,#00ffbf,#00ffa6,#00ffa3,#00ffa0,#00ff9e,#00ff8b,#00ff6f,#00ff41,#00ff39,#00ff2e,#00ff1e,#00ff1d,#00ff1d,#00ff22,#00ff46,#00ff50,#00ff52,#00ff52,#00ff54,#00ff64,#00ff6e,#00ff6d,#00ff65,#00ff57,#00ff4f,#00ff4e,#00ff4f,#00ff51,#00ff53,#00ff57,#00ff5a)"></div>
<div style="background:linear-gradient(90deg,#00ff5c,#00ff60,#00ff62,#00ff63,#00ff63,#00ff63,#00ff63,#00ff63,#00ff63,#00ff63,#00ff63,#00ff63,#00ff63,#00ff63,#00ff63,#00ff63,#00ff64,#00ff67,#00ff6a,#00ff6e,#00ff6f,#00ff6c,#00ff69,#00ff6b,#00ff70,#00ff82,#00ff9c,#00ffb7,#00ffc4,#00ffd2,#00ffe6,#00fffe,#00e2ff,#00c9ff,#00b7ff,#00aeff,#00acff,#00adff,#00adff,#00afff,#00afff,#00aeff,#00adff,#00acff,#00aeff,#00b4ff,#00c4ff,#00deff,#00fbff,#00ffe7,#00ffd0,#00ffb9,#00ff81,#00ff49,#00ff1b,#00ff04,#0dff00,#21ff00,#33ff00,#42ff00,#44ff00,#40ff00,#33ff00,#25ff00,#1cff00,#1aff00,#1cff00,#24ff00,#31ff00,#3fff00,#4bff00,#4fff00,#52ff00,#56ff00,#59ff00,#5cff00,#5fff00,#6cff00,#88ff00,#a6ff00,#beff00,#d9ff00,#f8ff00,#ffee00,#ffd700,#ffc400,#ffac00,#ffcf00,#e1ff00,#bdff00,#b3ff00,#9dff00,#2bff00,#02ff00,#00ff0a,#00ff48,#00ffb1,#00ffc0,#00ffcd,#00ffea,#00b7ff,#0090ff,#0087ff,#0083ff,#007eff,#0078ff,#006dff,#005fff,#0050ff,#0030ff,#0006ff,#0b00f8,#1300f4,#1600f3,#1500f3,#1300f4,#1100f5,#1100f6,#1100f5,#1400f4,#1a00f0,#2300eb,#2c00e3,#3400d7,#3b00cb,#4300bf,#4800b6,#4a00ae,#4b00a8,#4b00a5,#4c009f,#4d009a,#4e0091,#4f008a,#500083,#500084,#500089,#4f008e,#4e0095,#4d009b,#4c009d,#4c009f,#4c009f,#4c00a1,#4b00a4,#4a00aa,#4900b2,#3d00c9,#2f00dd,#2600e9,#1f00ed,#1a00f0,#1400f4,#1000f6,#0300fd,#0003ff,#0009ff,#0017ff,#0028ff,#0037ff,#0043ff,#004fff,#0068ff,#0073ff,#0079ff,#008aff,#0099ff,#009fff,#00acff,#00beff,#00c4ff,#00d6ff,#00e5ff,#00fcff,#00fff2,#00ffe6,#00ffdd,#00ffd5,#00ffca,#00ffc0,#00ffb9,#00ffb6,#00ffa9,#00ff97,#00ff96,#00ff96,#00ff96,#00ff9f,#00ffa3,#00ffa3,#00ffa3,#00ffa3,#00ffa7,#00ffa9,#00ff9e,#00ff8f,#00ff71,#00ff58,#00ff52,#00ff51,#00ff52,#00ff54,#00ff58,#00ff5a)"></div>
<div style="background:linear-gradient(90deg,#00ff5c,#00ff60,#00ff62,#00ff63,#00ff63,#00ff63,#00ff63,#00ff63,#00ff63,#00ff63,#00ff63,#00ff63,#00ff63,#00ff63,#00ff63,#00ff63,#00ff63,#00ff65,#00ff67,#00ff69,#00ff6a,#00ff69,#00ff68,#00ff6b,#00ff75,#00ff8d,#00ffaa,#00ffbe,#00ffc8,#00ffd7,#00ffeb,#00faff,#00dcff,#00c2ff,#00b1ff,#00aaff,#00a8ff,#00a9ff,#00aaff,#00abff,#00abff,#00aaff,#00a9ff,#00a9ff,#00abff,#00b1ff,#00c0ff,#00dbff,#00faff,#00ffe8,#00ffd1,#00ffbd,#00ff9a,#00ff6c,#00ff3d,#00ff1c,#00ff08,#08ff00,#1dff00,#34ff00,#44ff00,#47ff00,#43ff00,#3bff00,#35ff00,#33ff00,#35ff00,#3bff00,#43ff00,#4bff00,#4fff00,#52ff00,#54ff00,#56ff00,#58ff00,#5aff00,#5dff00,#62ff00,#74ff00,#8fff00,#a6ff00,#b9ff00,#caff00,#d4ff00,#deff00,#e9ff00,#f7ff00,#e0ff00,#bfff00,#adff00,#a1ff00,#7aff00,#09ff00,#00ff15,#00ff4d,#00ff8b,#00ffda,#00ffed,#00ebff,#00c1ff,#0096ff,#007cff,#0075ff,#006cff,#005cff,#0051ff,#0044ff,#0037ff,#0027ff,#0011ff,#0500fc,#1000f6,#1500f3,#1600f2,#1400f3,#1100f5,#0e00f7,#0c00f8,#0c00f8,#0e00f7,#1300f4,#1900f1,#1e00ee,#2600e9,#2d00e0,#3500d5,#3c00c9,#4300bf,#4800b6,#4900b0,#4a00ac,#4a00aa,#4c00a2,#4d009b,#4e0094,#4e0092,#4e0093,#4e0095,#4d009a,#4c009e,#4c00a1,#4c00a2,#4c00a2,#4b00a4,#4b00a7,#4a00ae,#4800b8,#3d00c8,#3200d9,#2a00e5,#2400ea,#2100ec,#1f00ed,#1d00ee,#1900f0,#1800f1,#1700f2,#1100f5,#0800fb,#0300fd,#000dff,#001cff,#0034ff,#0047ff,#0057ff,#0068ff,#0071ff,#0077ff,#0082ff,#0089ff,#008eff,#00a1ff,#00afff,#00c7ff,#00e2ff,#00faff,#00fff3,#00ffe6,#00ffdf,#00ffd8,#00ffd3,#00ffd0,#00ffcc,#00ffc9,#00ffc8,#00ffc7,#00ffc6,#00ffc5,#00ffc3,#00ffc1,#00ffc0,#00ffbf,#00ffbf,#00ffbe,#00ffba,#00ffb1,#00ff88,#00ff5f,#00ff55,#00ff53,#00ff53,#00ff54,#00ff58,#00ff5a)"></div>
<div style="background:linear-gradient(90deg,#00ff5c,#00ff60,#00ff62,#00ff63,#00ff63,#00ff63,#00ff63,#00ff63,#00ff63,#00ff63,#00ff63,#00ff63,#00ff63,#00ff63,#00ff63,#00ff63,#00ff63,#00ff64,#00ff65,#00ff67,#00ff67,#00ff67,#00ff68,#00ff6c,#00ff7c,#00ff99,#00ffb6,#00ffc2,#00ffcc,#00ffda,#00ffee,#00f6ff,#00d9ff,#00beff,#00aeff,#00a7ff,#00a6ff,#00a6ff,#00a7ff,#00a7ff,#00a8ff,#00a7ff,#00a7ff,#00a8ff,#00aaff,#00b0ff,#00bdff,#00dbff,#00fdff,#00ffe6,#00ffd1,#00ffc1,#00ffb1,#00ff90,#00ff5f,#00ff37,#00ff1c,#00ff0b,#06ff00,#1eff00,#3aff00,#48ff00,#49ff00,#49ff00,#47ff00,#46ff00,#47ff00,#49ff00,#4dff00,#4fff00,#51ff00,#54ff00,#55ff00,#56ff00,#57ff00,#58ff00,#5bff00,#5eff00,#65ff00,#78ff00,#8cff00,#9cff00,#a0ff00,#9aff00,#91ff00,#87ff00,#78ff00,#6aff00,#66ff00,#4eff00,#1aff00,#00ff0c,#00ff6c,#00ff91,#00ffe5,#00f9ff,#00c5ff,#00a7ff,#0094ff,#0075ff,#0067ff,#0053ff,#0048ff,#003dff,#002bff,#0021ff,#0019ff,#0011ff,#0001ff,#0a00f9,#1100f5,#1600f2,#1800f1,#1800f1,#1400f3,#0f00f6,#0b00f9,#0800fa,#0700fb,#0800fa,#0c00f8,#1000f6,#1500f3,#1900f1,#1f00ed,#2600e9,#2d00e0,#3500d5,#3c00ca,#4100c2,#4500bd,#4600bb,#4900b4,#4a00ad,#4b00a7,#4b00a3,#4c009f,#4c009d,#4c00a0,#4b00a3,#4b00a5,#4b00a6,#4b00a7,#4b00a9,#4a00ac,#4900b2,#4500bc,#3d00c9,#3400d7,#2d00e1,#2800e8,#2400ea,#2200eb,#2100ec,#2000ed,#1f00ed,#1f00ed,#1d00ee,#1c00ef,#1b00f0,#1400f3,#0e00f7,#0003ff,#001eff,#0037ff,#004cff,#005aff,#0064ff,#006eff,#0073ff,#0079ff,#0081ff,#0089ff,#0097ff,#00b5ff,#00d9ff,#00f4ff,#00fff9,#00ffee,#00ffe4,#00ffde,#00ffd9,#00ffd8,#00ffd6,#00ffd4,#00ffd3,#00ffd0,#00ffcc,#00ffc8,#00ffc5,#00ffc2,#00ffc0,#00ffbf,#00ffbf,#00ffbf,#00ffbe,#00ff96,#00ff65,#00ff57,#00ff54,#00ff53,#00ff54,#00ff58,#00ff5a)"></div>
<div style="background:linear-gradient(90deg,#00ff5c,#00ff60,#00ff62,#00ff63,#00ff63,#00ff63,#00ff63,#00ff63,#00ff64,#00ff64,#00ff64,#00ff64,#00ff64,#00ff63,#00ff63,#00ff63,#00ff63,#00ff63,#00ff64,#00ff65,#00ff65,#00ff65,#00ff68,#00ff6e,#00ff83,#00ffa5,#00ffbd,#00ffc5,#00ffce,#00ffdc,#00fff0,#00f5ff,#00d7ff,#00bdff,#00adff,#00a7ff,#00a5ff,#00a5ff,#00a5ff,#00a5ff,#00a6ff,#00a6ff,#00a7ff,#00a9ff,#00acff,#00b0ff,#00bcff,#00dfff,#00fffc,#00ffe3,#00ffd0,#00ffc4,#00ffbe,#00ffb0,#00ff7f,#00ff4f,#00ff2e,#00ff18,#00ff08,#07ff00,#27ff00,#45ff00,#4bff00,#4dff00,#4dff00,#4dff00,#4dff00,#4fff00,#50ff00,#52ff00,#53ff00,#55ff00,#56ff00,#56ff00,#57ff00,#57ff00,#59ff00,#5cff00,#5eff00,#67ff00,#74ff00,#7eff00,#79ff00,#66ff00,#4bff00,#2aff00,#08ff00,#00ff2c,#00ff3b,#00ff55,#00ffa6,#00ffc1,#00fffa,#00d3ff,#00a8ff,#008aff,#0077ff,#005cff,#0050ff,#003fff,#002fff,#001dff,#0015ff,#000cff,#0500fc,#0900fa,#0b00f8,#0e00f7,#1500f3,#1b00f0,#1c00ef,#1c00ef,#1b00ef,#1a00f0,#1400f3,#0d00f8,#0700fb,#0300fd,#0200fe,#0200fe,#0400fd,#0700fb,#0b00f8,#0f00f6,#1300f4,#1800f1,#1e00ee,#2600e9,#2d00e0,#3200d9,#3700d1,#3b00cc,#3f00c6,#4300bf,#4700b9,#4900b4,#4a00ad,#4b00a8,#4a00aa,#4a00aa,#4a00aa,#4a00ab,#4a00ac,#4a00ae,#4900b3,#4800b8,#4300c0,#3c00ca,#3500d5,#2f00de,#2b00e4,#2800e8,#2500ea,#2400ea,#2300eb,#2200ec,#2100ec,#2100ec,#2000ed,#1f00ed,#1e00ee,#1d00ef,#1700f2,#0600fb,#0015ff,#0032ff,#0045ff,#0053ff,#005dff,#0066ff,#006dff,#0073ff,#007aff,#0081ff,#0093ff,#00b9ff,#00d9ff,#00efff,#00feff,#00fff4,#00ffeb,#00ffe5,#00ffe3,#00ffe0,#00ffdf,#00ffdd,#00ffd9,#00ffd3,#00ffcc,#00ffc6,#00ffc2,#00ffc0,#00ffbe,#00ffbd,#00ffbe,#00ffbe,#00ff98,#00ff66,#00ff58,#00ff54,#00ff54,#00ff54,#00ff58,#00ff5a)"></div>
<div style="background:linear-gradient(90deg,#00ff5c,#00ff60,#00ff62,#00ff63,#00ff63,#00ff63,#00ff64,#00ff64,#00ff65,#00ff66,#00ff66,#00ff66,#00ff65,#00ff64,#00ff64,#00ff63,#00ff63,#00ff63,#00ff64,#00ff64,#00ff64,#00ff65,#00ff68,#00ff70,#00ff89,#00ffb0,#00ffc0,#00ffc6,#00ffcf,#00ffdd,#00fff0,#00f6ff,#00d9ff,#00bfff,#00aeff,#00a7ff,#00a5ff,#00a5ff,#00a5ff,#00a5ff,#00a5ff,#00a7ff,#00a9ff,#00acff,#00afff,#00b2ff,#00c1ff,#00eaff,#00fff3,#00ffdd,#00ffce,#00ffc4,#00ffc0,#00ffbd,#00ff9b,#00ff64,#00ff3d,#00ff24,#00ff12,#00ff06,#13ff00,#3bff00,#4dff00,#4fff00,#50ff00,#50ff00,#51ff00,#52ff00,#52ff00,#54ff00,#55ff00,#56ff00,#56ff00,#56ff00,#56ff00,#57ff00,#58ff00,#5aff00,#5cff00,#5eff00,#62ff00,#65ff00,#56ff00,#37ff00,#07ff00,#00ff42,#00ff7d,#00ffaf,#00ffcb,#00ffd7,#00f6ff,#00bfff,#009fff,#0082ff,#006eff,#004fff,#003aff,#0026ff,#0012ff,#0008ff,#0300fd,#1000f6,#1200f5,#1400f4,#1c00ef,#1e00ee,#1e00ee,#1e00ee,#2000ed,#2300eb,#2300eb,#2100ec,#1e00ee,#1c00ef,#1400f3,#0a00f9,#0300fe,#0003ff,#0006ff,#0007ff,#0005ff,#0002ff,#0200fe,#0500fc,#0900fa,#0d00f7,#1300f4,#1800f1,#1f00ed,#2300eb,#2a00e5,#2f00de,#3300d8,#3700d1,#3c00cb,#4000c4,#4400be,#4800b8,#4800b6,#4800b6,#4900b5,#4800b5,#4800b6,#4800b8,#4600bc,#4300bf,#4000c5,#3b00cc,#3500d4,#3100db,#2d00e1,#2a00e5,#2800e7,#2700e9,#2600e9,#2400ea,#2300eb,#2300eb,#2200ec,#2100ec,#2000ec,#1f00ed,#1e00ee,#1900f1,#0600fb,#0017ff,#002eff,#0040ff,#004dff,#0058ff,#0061ff,#0069ff,#0070ff,#0078ff,#0082ff,#009fff,#00c1ff,#00daff,#00edff,#00faff,#00fffa,#00fff3,#00fff0,#00ffee,#00ffec,#00ffea,#00ffe4,#00ffdb,#00ffd2,#00ffca,#00ffc5,#00ffc1,#00ffbf,#00ffbe,#00ffbf,#00ffbb,#00ff91,#00ff63,#00ff58,#00ff54,#00ff54,#00ff54,#00ff58,#00ff5a)"></div>
<div style="background:linear-gradient(90deg,#00ff5c,#00ff60,#00ff62,#00ff63,#00ff63,#00ff64,#00ff65,#00ff66,#00ff68,#00ff69,#00ff6a,#00ff69,#00ff68,#00ff67,#00ff65,#00ff64,#00ff64,#00ff64,#00ff65,#00ff65,#00ff65,#00ff65,#00ff69,#00ff72,#00ff8d,#00ffb4,#00ffc1,#00ffc6,#00ffd0,#00ffdd,#00ffee,#00f8ff,#00ddff,#00c4ff,#00b2ff,#00aaff,#00a6ff,#00a5ff,#00a5ff,#00a6ff,#00a7ff,#00a9ff,#00acff,#00afff,#00b3ff,#00bbff,#00d4ff,#00fdff,#00ffe7,#00ffd6,#00ffca,#00ffc3,#00ffc0,#00ffbf,#00ffb1,#00ff75,#00ff49,#00ff2d,#00ff1a,#00ff0d,#03ff00,#2eff00,#4cff00,#50ff00,#52ff00,#53ff00,#53ff00,#54ff00,#55ff00,#55ff00,#56ff00,#56ff00,#56ff00,#56ff00,#56ff00,#56ff00,#57ff00,#58ff00,#5aff00,#5bff00,#5aff00,#52ff00,#37ff00,#0aff00,#00ff4f,#00ffaf,#00ffe7,#00fffb,#00f1ff,#00e4ff,#00b5ff,#0087ff,#0077ff,#0064ff,#0048ff,#001dff,#0100ff,#0900fa,#1500f3,#1800f1,#1b00f0,#2000ed,#2100ec,#2200ec,#2400ea,#2500ea,#2500ea,#2500e9,#2700e9,#2800e8,#2800e8,#2700e9,#2100ec,#1d00ee,#1300f4,#0600fc,#0003ff,#000bff,#000fff,#0011ff,#0011ff,#000fff,#000bff,#0007ff,#0003ff,#0200fe,#0700fb,#0c00f8,#1200f5,#1700f2,#1c00ef,#2200eb,#2600e9,#2c00e2,#3000dc,#3400d6,#3900cf,#3d00c9,#3e00c7,#3f00c5,#4000c4,#4100c3,#4100c3,#4000c4,#3f00c6,#3e00c7,#3d00c9,#3a00ce,#3600d3,#3200d9,#2f00de,#2d00e1,#2b00e4,#2a00e6,#2900e7,#2800e8,#2700e9,#2600e9,#2400ea,#2300eb,#2200eb,#2100ec,#2000ed,#1e00ee,#1600f3,#0000ff,#0019ff,#002eff,#003dff,#0049ff,#0054ff,#005dff,#0066ff,#0070ff,#007aff,#008cff,#00adff,#00c9ff,#00dcff,#00ebff,#00f6ff,#00feff,#00fffc,#00fffb,#00fffa,#00fff7,#00fff0,#00ffe4,#00ffd8,#00ffce,#00ffc7,#00ffc3,#00ffc0,#00ffbf,#00ffbf,#00ffb0,#00ff83,#00ff5f,#00ff57,#00ff54,#00ff54,#00ff54,#00ff58,#00ff5a)"></div>
<div style="background:linear-gradient(90deg,#00ff5c,#00ff60,#00ff62,#00ff63,#00ff64,#00ff66,#00ff68,#00ff6a,#00ff6b,#00ff6d,#00ff6e,#00ff6d,#00ff6c,#00ff69,#00ff67,#00ff65,#00ff65,#00ff66,#00ff67,#00ff67,#00ff67,#00ff66,#00ff69,#00ff73,#00ff8d,#00ffb5,#00ffc1,#00ffc6,#00ffcf,#00ffdb,#00ffec,#00fdff,#00e3ff,#00cbff,#00b8ff,#00aeff,#00a9ff,#00a7ff,#00a7ff,#00a8ff,#00aaff,#00adff,#00afff,#00b4ff,#00c1ff,#00d8ff,#00f8ff,#00ffea,#00ffd8,#00ffcd,#00ffc6,#00ffc2,#00ffc0,#00ffbf,#00ffb8,#00ff7f,#00ff52,#00ff35,#00ff20,#00ff12,#00ff05,#21ff00,#49ff00,#50ff00,#54ff00,#55ff00,#55ff00,#55ff00,#56ff00,#56ff00,#56ff00,#56ff00,#56ff00,#56ff00,#56ff00,#56ff00,#57ff00,#57ff00,#58ff00,#58ff00,#54ff00,#44ff00,#1eff00,#00ff29,#00ffa9,#00fff6,#00ceff,#00bfff,#00b8ff,#00b1ff,#0092ff,#0078ff,#0067ff,#0050ff,#0029ff,#0d00f8,#1900f0,#1d00ee,#2100ec,#2300eb,#2400ea,#2600e9,#2700e9,#2800e8,#2900e6,#2900e6,#2a00e6,#2a00e5,#2b00e4,#2b00e3,#2b00e3,#2a00e4,#2300eb,#1d00ef,#1000f6,#0100fe,#000bff,#0014ff,#0019ff,#001cff,#001dff,#001bff,#0019ff,#0016ff,#0012ff,#000dff,#0006ff,#0000ff,#0600fc,#0c00f8,#1100f5,#1700f2,#1b00ef,#2000ed,#2400eb,#2900e7,#2c00e2,#3000db,#3200d9,#3300d8,#3500d5,#3600d3,#3700d2,#3600d2,#3700d1,#3900ce,#3a00cd,#3800cf,#3600d3,#3300d7,#3100db,#2f00de,#2d00e0,#2c00e2,#2b00e4,#2a00e5,#2900e6,#2800e7,#2700e8,#2600e9,#2500ea,#2300eb,#2100ec,#2000ed,#1c00ef,#0f00f6,#0006ff,#001dff,#002eff,#003bff,#0047ff,#0051ff,#005bff,#0066ff,#0072ff,#0081ff,#009dff,#00baff,#00ceff,#00ddff,#00e9ff,#00f1ff,#00f5ff,#00f7ff,#00f8ff,#00fcff,#00fff9,#00ffeb,#00ffdc,#00ffd1,#00ffc8,#00ffc3,#00ffc0,#00ffc0,#00ffbb,#00ff9b,#00ff74,#00ff5c,#00ff57,#00ff54,#00ff53,#00ff54,#00ff58,#00ff5a)"></div>
<div style="background:linear-gradient(90deg,#00ff5c,#00ff60,#00ff63,#00ff64,#00ff66,#00ff69,#00ff6b,#00ff6e,#00ff70,#00ff74,#00ff75,#00ff75,#00ff72,#00ff6d,#00ff6a,#00ff68,#00ff67,#00ff68,#00ff6a,#00ff6b,#00ff6a,#00ff68,#00ff6a,#00ff72,#00ff8c,#00ffb4,#00ffc1,#00ffc5,#00ffcd,#00ffd8,#00ffe7,#00fffb,#00ecff,#00d4ff,#00c1ff,#00b5ff,#00aeff,#00abff,#00abff,#00acff,#00aeff,#00b0ff,#00b5ff,#00caff,#00e5ff,#00fff9,#00ffda,#00ffcd,#00ffc6,#00ffc3,#00ffc0,#00ffbf,#00ffbe,#00ffbe,#00ffb3,#00ff80,#00ff57,#00ff3b,#00ff26,#00ff16,#00ff09,#17ff00,#44ff00,#50ff00,#54ff00,#56ff00,#56ff00,#56ff00,#56ff00,#56ff00,#56ff00,#56ff00,#56ff00,#56ff00,#56ff00,#56ff00,#57ff00,#57ff00,#57ff00,#55ff00,#50ff00,#38ff00,#09ff00,#00ff69,#00ffe3,#00c2ff,#0090ff,#0088ff,#008bff,#008eff,#0083ff,#006dff,#0059ff,#003eff,#0013ff,#1900f1,#1e00ee,#2300eb,#2700e9,#2800e8,#2900e7,#2a00e5,#2a00e4,#2b00e4,#2c00e2,#2c00e2,#2c00e2,#2c00e2,#2c00e1,#2c00e1,#2c00e2,#2b00e4,#2400eb,#1b00f0,#0a00f9,#0006ff,#0014ff,#001eff,#0024ff,#0027ff,#0029ff,#0029ff,#0027ff,#0025ff,#0022ff,#001dff,#0017ff,#0010ff,#0008ff,#0000ff,#0700fb,#0d00f8,#1300f4,#1600f2,#1a00f0,#1d00ee,#2000ec,#2400ea,#2500e9,#2600e9,#2a00e5,#2c00e3,#2c00e2,#2c00e1,#2f00dd,#3400d6,#3700d1,#3800d1,#3600d3,#3400d6,#3200d9,#3100db,#2f00dd,#2e00df,#2d00e0,#2c00e2,#2b00e3,#2b00e4,#2a00e5,#2900e7,#2800e8,#2600e9,#2400ea,#2200ec,#1f00ed,#1a00f0,#0700fb,#000eff,#001fff,#002eff,#003aff,#0045ff,#0050ff,#005cff,#006aff,#007aff,#0091ff,#00adff,#00c1ff,#00d1ff,#00ddff,#00e6ff,#00eaff,#00ecff,#00edff,#00f3ff,#00feff,#00fff1,#00ffe0,#00ffd2,#00ffc8,#00ffc3,#00ffc0,#00ffbf,#00ffaa,#00ff81,#00ff66,#00ff5a,#00ff56,#00ff54,#00ff53,#00ff54,#00ff57,#00ff5a)"></div>
<div style="background:linear-gradient(90deg,#00ff5c,#00ff60,#00ff64,#00ff66,#00ff69,#00ff6c,#00ff70,#00ff75,#00ff7b,#00ff80,#00ff82,#00ff81,#00ff7d,#00ff75,#00ff6e,#00ff6b,#00ff6b,#00ff6b,#00ff6e,#00ff70,#00ff6e,#00ff6b,#00ff6b,#00ff70,#00ff87,#00ffad,#00ffc0,#00ffc4,#00ffcb,#00ffd5,#00ffe2,#00fff3,#00f5ff,#00deff,#00cbff,#00beff,#00b5ff,#00b2ff,#00b1ff,#00b1ff,#00b1ff,#00b5ff,#00cdff,#00f3ff,#00ffe9,#00ffca,#00ffb1,#00ffaa,#00ffaa,#00ffac,#00ffaf,#00ffb2,#00ffb4,#00ffb3,#00ffa6,#00ff7c,#00ff5a,#00ff3f,#00ff2a,#00ff19,#00ff0c,#0fff00,#3eff00,#50ff00,#54ff00,#56ff00,#56ff00,#56ff00,#56ff00,#56ff00,#56ff00,#56ff00,#56ff00,#57ff00,#57ff00,#57ff00,#57ff00,#57ff00,#56ff00,#53ff00,#4dff00,#2dff00,#00ff0c,#00ff9f,#00deff,#008cff,#006fff,#006aff,#0074ff,#007cff,#007aff,#0062ff,#004aff,#002dff,#0005ff,#1900f1,#1f00ed,#2600e9,#2a00e4,#2b00e4,#2c00e3,#2c00e2,#2c00e2,#2d00e1,#2d00e1,#2d00e1,#2d00e1,#2d00e1,#2d00e1,#2c00e1,#2c00e2,#2a00e4,#2200eb,#1700f2,#0300fd,#0010ff,#001eff,#0028ff,#002fff,#0033ff,#0035ff,#0036ff,#0036ff,#0034ff,#0032ff,#002dff,#0028ff,#0021ff,#0019ff,#000fff,#0006ff,#0300fd,#0a00f9,#1000f6,#1400f4,#1700f2,#1a00f0,#1c00ef,#1c00ef,#1d00ee,#1f00ed,#2100ec,#2100ec,#2100ec,#2700e9,#2f00dd,#3600d4,#3700d1,#3700d2,#3500d4,#3400d6,#3200d8,#3100da,#3000dc,#2f00dd,#2e00de,#2e00e0,#2d00e1,#2c00e2,#2b00e4,#2a00e6,#2800e7,#2600e9,#2400ea,#2100ec,#1e00ee,#1100f5,#0000ff,#0012ff,#0021ff,#002eff,#003aff,#0045ff,#0052ff,#0060ff,#0072ff,#0089ff,#00a2ff,#00b6ff,#00c5ff,#00d2ff,#00daff,#00dfff,#00e1ff,#00e3ff,#00eaff,#00f6ff,#00fff6,#00ffe2,#00ffd1,#00ffc7,#00ffc2,#00ffbf,#00ffb8,#00ff87,#00ff68,#00ff5d,#00ff58,#00ff54,#00ff53,#00ff53,#00ff54,#00ff57,#00ff5a)"></div>
<div style="background:linear-gradient(90deg,#00ff5c,#00ff61,#00ff66,#00ff69,#00ff6d,#00ff71,#00ff79,#00ff82,#00ff8a,#00ff8f,#00ff91,#00ff91,#00ff8c,#00ff81,#00ff75,#00ff70,#00ff6f,#00ff71,#00ff77,#00ff7a,#00ff76,#00ff6f,#00ff6c,#00ff6f,#00ff81,#00ffa1,#00ffbb,#00ffc2,#00ffc8,#00ffd0,#00ffdc,#00ffeb,#00fffe,#00ebff,#00d7ff,#00c9ff,#00bfff,#00baff,#00b9ff,#00b9ff,#00baff,#00ceff,#00f9ff,#00ffdc,#00ffbc,#00ff9c,#00ff86,#00ff80,#00ff85,#00ff8c,#00ff93,#00ff9b,#00ffa0,#00ffa1,#00ff94,#00ff77,#00ff5a,#00ff41,#00ff2d,#00ff1b,#00ff0e,#07ff00,#39ff00,#4fff00,#54ff00,#56ff00,#56ff00,#56ff00,#56ff00,#56ff00,#56ff00,#57ff00,#57ff00,#57ff00,#57ff00,#58ff00,#58ff00,#58ff00,#57ff00,#53ff00,#4aff00,#24ff00,#00ff22,#00ffc6,#00acff,#0068ff,#004fff,#0052ff,#0060ff,#006bff,#006aff,#0055ff,#003dff,#001eff,#0300fd,#1800f1,#2000ec,#2a00e5,#2c00e2,#2c00e1,#2d00e1,#2d00e1,#2d00e1,#2d00e0,#2d00e0,#2d00e0,#2d00e0,#2d00e0,#2d00e1,#2d00e1,#2c00e2,#2800e8,#1f00ed,#0f00f6,#0007ff,#001bff,#0029ff,#0034ff,#003bff,#0040ff,#0043ff,#0044ff,#0044ff,#0044ff,#0042ff,#003eff,#0039ff,#0032ff,#0029ff,#001fff,#0014ff,#0009ff,#0200fe,#0900fa,#0f00f7,#1300f4,#1600f2,#1900f1,#1a00f0,#1b00ef,#1c00ef,#1c00ef,#1c00ef,#1d00ef,#1f00ed,#2b00e3,#3500d5,#3700d2,#3700d2,#3600d3,#3500d4,#3400d6,#3300d8,#3200d9,#3100da,#3000db,#3000dd,#2f00de,#2e00df,#2d00e1,#2c00e3,#2a00e5,#2900e7,#2600e9,#2300eb,#2000ed,#1900f1,#0a00f9,#0006ff,#0015ff,#0022ff,#002eff,#003aff,#0047ff,#0056ff,#0069ff,#0081ff,#0099ff,#00abff,#00baff,#00c7ff,#00d0ff,#00d4ff,#00d6ff,#00daff,#00e1ff,#00efff,#00fffa,#00ffe3,#00ffcf,#00ffc4,#00ffc0,#00ffb9,#00ffa2,#00ff68,#00ff58,#00ff58,#00ff56,#00ff53,#00ff52,#00ff52,#00ff53,#00ff57,#00ff5a)"></div>
<div style="background:linear-gradient(90deg,#00ff5d,#00ff63,#00ff69,#00ff6d,#00ff72,#00ff7c,#00ff87,#00ff92,#00ff9b,#00ffa1,#00ffa3,#00ffa3,#00ff9e,#00ff91,#00ff81,#00ff75,#00ff74,#00ff7c,#00ff85,#00ff88,#00ff83,#00ff78,#00ff6e,#00ff6e,#00ff7a,#00ff93,#00ffaf,#00ffbe,#00ffc4,#00ffca,#00ffd4,#00ffe1,#00fff2,#00f9ff,#00e6ff,#00d6ff,#00cbff,#00c6ff,#00c5ff,#00caff,#00d8ff,#00fbff,#00ffd7,#00ffb6,#00ff8f,#00ff68,#00ff56,#00ff53,#00ff5d,#00ff6a,#00ff76,#00ff83,#00ff8d,#00ff90,#00ff86,#00ff71,#00ff59,#00ff43,#00ff2f,#00ff1d,#00ff0f,#02ff00,#34ff00,#4fff00,#54ff00,#56ff00,#56ff00,#56ff00,#56ff00,#56ff00,#57ff00,#57ff00,#58ff00,#58ff00,#59ff00,#59ff00,#5aff00,#5aff00,#58ff00,#54ff00,#48ff00,#1dff00,#00ff37,#00ffda,#008eff,#003fff,#0026ff,#0033ff,#004eff,#005cff,#005bff,#004aff,#0031ff,#0010ff,#0c00f8,#1a00f0,#2300eb,#2c00e2,#2d00e1,#2d00e0,#2d00e0,#2e00e0,#2e00e0,#2e00e0,#2e00e0,#2e00e0,#2d00e0,#2d00e0,#2d00e1,#2c00e1,#2a00e5,#2200eb,#1800f1,#0400fd,#0014ff,#0027ff,#0036ff,#0040ff,#0048ff,#004dff,#0050ff,#0052ff,#0053ff,#0053ff,#0053ff,#0050ff,#004bff,#0043ff,#003bff,#0030ff,#0023ff,#0016ff,#0009ff,#0200fe,#0900fa,#0f00f6,#1300f4,#1700f2,#1900f1,#1a00f0,#1b00ef,#1c00ef,#1c00ef,#1c00ef,#1d00ef,#2900e6,#3500d4,#3700d1,#3700d1,#3700d2,#3600d3,#3500d4,#3500d5,#3400d6,#3300d7,#3200d9,#3100da,#3100db,#3000dc,#2f00de,#2e00e0,#2c00e2,#2b00e4,#2900e7,#2600e9,#2200eb,#1d00ee,#1200f5,#0400fd,#000aff,#0017ff,#0023ff,#002eff,#003bff,#004bff,#005fff,#0079ff,#0091ff,#00a1ff,#00afff,#00bbff,#00c4ff,#00c8ff,#00cbff,#00d0ff,#00d9ff,#00e9ff,#00ffff,#00ffe3,#00ffca,#00ffc1,#00ffbc,#00ffab,#00ff8a,#00ff64,#00ff59,#00ff56,#00ff54,#00ff52,#00ff52,#00ff52,#00ff53,#00ff57,#00ff5a)"></div>
<div style="background:linear-gradient(90deg,#00ff5f,#00ff66,#00ff6c,#00ff73,#00ff7d,#00ff8a,#00ff98,#00ffa4,#00ffad,#00ffb4,#00ffb5,#00ffb4,#00ffb1,#00ffa3,#00ff8f,#00ff80,#00ff7e,#00ff8a,#00ff96,#00ff99,#00ff94,#00ff83,#00ff72,#00ff6f,#00ff73,#00ff87,#00ff9f,#00ffb4,#00ffbf,#00ffc4,#00ffcc,#00ffd6,#00ffe4,#00fff6,#00f5ff,#00e3ff,#00d8ff,#00d2ff,#00d4ff,#00dfff,#00fcff,#00ffd8,#00ffbc,#00ff9d,#00ff61,#00ff2f,#00ff24,#00ff25,#00ff35,#00ff47,#00ff5a,#00ff6d,#00ff7d,#00ff82,#00ff7c,#00ff6c,#00ff58,#00ff43,#00ff30,#00ff1e,#00ff10,#00ff00,#32ff00,#4fff00,#54ff00,#56ff00,#56ff00,#56ff00,#56ff00,#57ff00,#57ff00,#58ff00,#59ff00,#5aff00,#5bff00,#5cff00,#5cff00,#5cff00,#5bff00,#56ff00,#48ff00,#19ff00,#00ff43,#00ffe7,#0074ff,#000aff,#0600fb,#0012ff,#003eff,#0050ff,#0050ff,#0041ff,#0027ff,#0003ff,#1500f3,#1e00ee,#2700e9,#2d00e1,#2d00e0,#2e00e0,#2e00df,#2e00df,#2e00df,#2e00df,#2e00df,#2e00e0,#2d00e0,#2d00e1,#2d00e1,#2b00e4,#2600e9,#1d00ee,#0d00f7,#000bff,#0023ff,#0035ff,#0043ff,#004eff,#0055ff,#005bff,#005eff,#0061ff,#0062ff,#0063ff,#0064ff,#0062ff,#005dff,#0055ff,#004cff,#0040ff,#0032ff,#0023ff,#0013ff,#0006ff,#0500fc,#0b00f8,#1100f5,#1500f3,#1700f2,#1a00f0,#1b00ef,#1c00ef,#1c00ef,#1c00ef,#1d00ee,#2a00e6,#3600d4,#3700d1,#3800d1,#3700d1,#3700d2,#3600d2,#3600d3,#3500d4,#3500d5,#3400d6,#3300d7,#3200d8,#3200da,#3100db,#2f00dd,#2e00df,#2d00e1,#2b00e4,#2800e8,#2500ea,#2000ed,#1800f1,#0b00f9,#0000ff,#000cff,#0017ff,#0023ff,#002fff,#003fff,#0053ff,#006fff,#008aff,#0098ff,#00a4ff,#00afff,#00b7ff,#00bcff,#00c0ff,#00c6ff,#00d0ff,#00e1ff,#00faff,#00ffe1,#00ffc4,#00ffbe,#00ffb6,#00ff9e,#00ff78,#00ff61,#00ff5b,#00ff56,#00ff53,#00ff52,#00ff52,#00ff52,#00ff53,#00ff58,#00ff5c)"></div>
<div style="background:linear-gradient(90deg,#00ff61,#00ff69,#00ff72,#00ff7d,#00ff8b,#00ff9b,#00ffaa,#00ffb5,#00ffbb,#00ffbe,#00ffbf,#00ffbe,#00ffbe,#00ffb4,#00ff9e,#00ff8f,#00ff8e,#00ff9a,#00ffaa,#00ffad,#00ffa9,#00ff91,#00ff79,#00ff6f,#00ff70,#00ff7c,#00ff91,#00ffa7,#00ffb8,#00ffbf,#00ffc4,#00ffca,#00ffd6,#00ffe6,#00fffa,#00f1ff,#00e4ff,#00dfff,#00e2ff,#00f3ff,#00ffe3,#00ffc1,#00ffb1,#00ff8e,#00ff38,#00ff0c,#00ff09,#00ff0a,#00ff14,#00ff25,#00ff3a,#00ff58,#00ff6f,#00ff78,#00ff74,#00ff68,#00ff57,#00ff44,#00ff30,#00ff1e,#00ff0f,#04ff00,#35ff00,#4fff00,#54ff00,#56ff00,#56ff00,#56ff00,#57ff00,#57ff00,#58ff00,#5aff00,#5bff00,#5dff00,#5eff00,#5fff00,#5fff00,#5fff00,#5eff00,#5aff00,#4aff00,#1bff00,#00ff43,#00ffef,#0064ff,#1200f5,#1a00f0,#0300fd,#0035ff,#0049ff,#0049ff,#003aff,#0020ff,#0600fc,#1c00ef,#2300eb,#2a00e5,#2d00e0,#2e00e0,#2e00df,#2e00df,#2e00df,#2e00df,#2e00df,#2d00e0,#2d00e0,#2d00e1,#2d00e1,#2b00e3,#2700e8,#2100ec,#1600f2,#0000ff,#001dff,#0033ff,#0044ff,#0052ff,#005cff,#0063ff,#0068ff,#006cff,#006eff,#0070ff,#0073ff,#0075ff,#0075ff,#0070ff,#0068ff,#005fff,#0052ff,#0042ff,#0030ff,#001eff,#000eff,#0000ff,#0800fa,#0e00f7,#1300f4,#1600f2,#1900f1,#1b00f0,#1c00ef,#1c00ef,#1c00ef,#2000ed,#2d00e1,#3600d2,#3700d1,#3800d0,#3800d0,#3800d1,#3700d1,#3700d2,#3600d2,#3600d3,#3500d4,#3500d5,#3400d6,#3300d7,#3200d8,#3100da,#3000dc,#2f00de,#2d00e1,#2a00e4,#2700e8,#2300eb,#1c00ef,#1100f5,#0700fb,#0001ff,#000cff,#0017ff,#0023ff,#0031ff,#0045ff,#0061ff,#0083ff,#0090ff,#009aff,#00a2ff,#00a9ff,#00afff,#00b4ff,#00bbff,#00c6ff,#00d8ff,#00f3ff,#00ffe1,#00ffc0,#00ffbc,#00ffb3,#00ff98,#00ff71,#00ff63,#00ff5d,#00ff58,#00ff54,#00ff53,#00ff52,#00ff52,#00ff54,#00ff5a,#00ff5e)"></div>
<div style="background:linear-gradient(90deg,#00ff65,#00ff6f,#00ff7c,#00ff8b,#00ff9c,#00ffac,#00ffb9,#00ffbe,#00ffc0,#00ffc1,#00ffc1,#00ffc1,#00ffc0,#00ffbd,#00ffad,#00ff9e,#00ff9d,#00ffa9,#00ffbb,#00ffbc,#00ffba,#00ff9e,#00ff7f,#00ff71,#00ff71,#00ff75,#00ff85,#00ff9b,#00ffaf,#00ffba,#00ffbe,#00ffc1,#00ffc7,#00ffd4,#00ffeb,#00feff,#00f0ff,#00ebff,#00efff,#00fffc,#00ffd1,#00ffbc,#00ffb0,#00ff8c,#00ff33,#00ff08,#00ff07,#00ff07,#00ff07,#00ff0c,#00ff1c,#00ff44,#00ff65,#00ff70,#00ff6f,#00ff65,#00ff56,#00ff44,#00ff31,#00ff1e,#00ff0e,#09ff00,#3aff00,#4fff00,#54ff00,#56ff00,#56ff00,#57ff00,#57ff00,#58ff00,#5aff00,#5cff00,#5eff00,#60ff00,#63ff00,#65ff00,#66ff00,#66ff00,#65ff00,#61ff00,#50ff00,#22ff00,#00ff36,#00ffe9,#0067ff,#1200f5,#1900f1,#0001ff,#0034ff,#0046ff,#0046ff,#0037ff,#001cff,#0a00f9,#1f00ed,#2700e8,#2c00e2,#2d00e0,#2e00e0,#2e00df,#2e00df,#2e00df,#2e00e0,#2d00e0,#2d00e1,#2d00e1,#2c00e2,#2b00e4,#2700e8,#2100ec,#1900f1,#0700fb,#0015ff,#0030ff,#0045ff,#0055ff,#0061ff,#0069ff,#0070ff,#0075ff,#007aff,#007eff,#0080ff,#0084ff,#008bff,#0089ff,#0081ff,#007aff,#0071ff,#0064ff,#0052ff,#003cff,#0028ff,#0015ff,#0005ff,#0500fc,#0c00f8,#1100f5,#1500f3,#1800f1,#1a00f0,#1c00ef,#1c00ef,#1f00ed,#2800e8,#3200da,#3700d2,#3800d0,#3800d0,#3800d0,#3800d0,#3800d0,#3800d1,#3700d1,#3700d1,#3700d2,#3600d3,#3600d4,#3500d5,#3400d6,#3300d7,#3200d9,#3100db,#2f00de,#2d00e1,#2a00e5,#2600e9,#1f00ed,#1700f2,#0e00f7,#0600fb,#0001ff,#000aff,#0015ff,#0023ff,#0035ff,#004fff,#0075ff,#0087ff,#0090ff,#0096ff,#009cff,#00a2ff,#00a7ff,#00afff,#00bbff,#00cdff,#00e8ff,#00ffe9,#00ffc2,#00ffbd,#00ffb3,#00ff9a,#00ff74,#00ff65,#00ff5e,#00ff5a,#00ff57,#00ff55,#00ff54,#00ff54,#00ff56,#00ff5c,#00ff60)"></div>
<div style="background:linear-gradient(90deg,#00ff69,#00ff78,#00ff8a,#00ff9b,#00ffac,#00ffba,#00ffbf,#00ffc1,#00ffc1,#00ffc2,#00ffc2,#00ffc1,#00ffc1,#00ffc0,#00ffb8,#00ffad,#00ffaa,#00ffb4,#00ffbf,#00ffbf,#00ffbe,#00ffa7,#00ff86,#00ff75,#00ff74,#00ff74,#00ff7d,#00ff92,#00ffa9,#00ffb6,#00ffbc,#00ffbe,#00ffc0,#00ffc5,#00ffdd,#00fff6,#00faff,#00f5ff,#00f9ff,#00fff3,#00ffd0,#00ffbd,#00ffb2,#00ff95,#00ff54,#00ff1b,#00ff10,#00ff0d,#00ff08,#00ff07,#00ff0a,#00ff36,#00ff60,#00ff6c,#00ff6c,#00ff63,#00ff55,#00ff44,#00ff31,#00ff1d,#00ff0b,#11ff00,#3fff00,#4fff00,#54ff00,#56ff00,#56ff00,#57ff00,#58ff00,#5aff00,#5cff00,#5fff00,#63ff00,#6bff00,#73ff00,#78ff00,#79ff00,#79ff00,#78ff00,#72ff00,#5fff00,#31ff00,#00ff21,#00ffd1,#0079ff,#000aff,#0400fd,#0019ff,#003cff,#0049ff,#0046ff,#0037ff,#001bff,#0b00f9,#2000ec,#2900e6,#2d00e1,#2d00e0,#2d00e0,#2e00e0,#2d00e0,#2d00e0,#2d00e0,#2d00e1,#2c00e2,#2c00e3,#2a00e5,#2700e9,#2100ec,#1a00f0,#0b00f9,#000fff,#002cff,#0044ff,#0057ff,#0065ff,#0070ff,#0078ff,#0080ff,#0087ff,#008cff,#009aff,#009dff,#00a0ff,#00a7ff,#00a0ff,#0091ff,#0089ff,#0081ff,#0077ff,#0064ff,#0049ff,#0031ff,#001bff,#000aff,#0300fe,#0a00f9,#1000f6,#1400f3,#1800f1,#1a00f0,#1c00ef,#1e00ee,#2400ea,#2e00df,#3500d4,#3700d1,#3800d0,#3800d0,#3800d0,#3800d0,#3800d0,#3800d0,#3800d0,#3800d0,#3700d1,#3700d1,#3700d2,#3600d3,#3600d4,#3500d5,#3400d6,#3300d8,#3100da,#2f00de,#2c00e2,#2900e7,#2300eb,#1b00ef,#1400f3,#0e00f7,#0800fa,#0200fe,#0008ff,#0014ff,#0023ff,#003aff,#005bff,#0075ff,#0083ff,#008aff,#008fff,#0095ff,#009aff,#00a2ff,#00adff,#00bfff,#00daff,#00fffb,#00ffd1,#00ffc1,#00ffb8,#00ffa4,#00ff84,#00ff6f,#00ff62,#00ff5d,#00ff5b,#00ff58,#00ff57,#00ff57,#00ff59,#00ff5e,#00ff62)"></div>
<div style="background:linear-gradient(90deg,#00ff6f,#00ff85,#00ff9a,#00ffac,#00ffba,#00ffc0,#00ffc2,#00ffc2,#00ffc3,#00ffc3,#00ffc3,#00ffc3,#00ffc2,#00ffc1,#00ffbe,#00ffb8,#00ffb5,#00ffb9,#00ffbf,#00ffbf,#00ffbe,#00ffab,#00ff8e,#00ff7a,#00ff75,#00ff77,#00ff7d,#00ff8f,#00ffa6,#00ffb3,#00ffba,#00ffbd,#00ffbf,#00ffc0,#00ffd2,#00ffed,#00fffc,#00fdff,#00fffd,#00ffef,#00ffd5,#00ffc2,#00ffba,#00ffa7,#00ff81,#00ff51,#00ff3d,#00ff31,#00ff1b,#00ff16,#00ff15,#00ff3a,#00ff60,#00ff6c,#00ff6b,#00ff63,#00ff56,#00ff45,#00ff32,#00ff1c,#00ff07,#19ff00,#43ff00,#4eff00,#53ff00,#56ff00,#57ff00,#58ff00,#5aff00,#5cff00,#5fff00,#65ff00,#72ff00,#80ff00,#8cff00,#92ff00,#93ff00,#93ff00,#91ff00,#8aff00,#76ff00,#48ff00,#00ff08,#00ffa7,#009bff,#003fff,#0028ff,#0036ff,#0049ff,#0050ff,#004bff,#003aff,#001dff,#0a00f9,#2100ec,#2a00e6,#2c00e2,#2d00e1,#2d00e1,#2d00e0,#2d00e1,#2d00e1,#2c00e1,#2c00e2,#2a00e5,#2900e7,#2500ea,#2000ec,#1900f0,#0b00f9,#000cff,#002aff,#0043ff,#0059ff,#006aff,#0077ff,#0081ff,#008fff,#009dff,#00afff,#00b7ff,#00c5ff,#00caff,#00cbff,#00caff,#00b9ff,#00a3ff,#0094ff,#008aff,#0084ff,#0075ff,#0056ff,#0039ff,#0021ff,#000eff,#0100ff,#0900fa,#0f00f6,#1400f4,#1800f1,#1a00f0,#1d00ee,#2100ec,#2800e7,#3200d9,#3600d3,#3700d1,#3800d0,#3800cf,#3800cf,#3800cf,#3800d0,#3800d0,#3800d0,#3800d0,#3800d0,#3800d0,#3700d1,#3700d1,#3700d2,#3600d3,#3500d4,#3400d6,#3300d8,#3100da,#2f00de,#2b00e3,#2700e9,#1f00ed,#1a00f0,#1500f3,#1000f6,#0b00f9,#0500fc,#0003ff,#0010ff,#0022ff,#003bff,#0054ff,#0068ff,#0078ff,#0080ff,#0088ff,#008dff,#0095ff,#009fff,#00afff,#00c9ff,#00ecff,#00ffec,#00ffd2,#00ffc1,#00ffb2,#00ff9b,#00ff83,#00ff70,#00ff64,#00ff5f,#00ff5c,#00ff5b,#00ff5b,#00ff5d,#00ff61,#00ff67)"></div>
<div style="background:linear-gradient(90deg,#00ff7d,#00ff95,#00ffab,#00ffba,#00ffc0,#00ffc2,#00ffc3,#00ffc4,#00ffc4,#00ffc5,#00ffc5,#00ffc4,#00ffc4,#00ffc3,#00ffc1,#00ffbf,#00ffbd,#00ffbd,#00ffbf,#00ffbf,#00ffbd,#00ffad,#00ff98,#00ff84,#00ff7c,#00ff7b,#00ff82,#00ff93,#00ffa6,#00ffb3,#00ffba,#00ffbd,#00ffbf,#00ffbf,#00ffcc,#00ffe7,#00fff6,#00fffc,#00fff9,#00ffee,#00ffdb,#00ffcb,#00ffc2,#00ffba,#00ffad,#00ff8f,#00ff7c,#00ff66,#00ff4e,#00ff41,#00ff3c,#00ff4f,#00ff66,#00ff6e,#00ff6c,#00ff64,#00ff57,#00ff47,#00ff34,#00ff1b,#00ff03,#1bff00,#44ff00,#4dff00,#53ff00,#56ff00,#57ff00,#59ff00,#5bff00,#5eff00,#67ff00,#76ff00,#88ff00,#9aff00,#a6ff00,#b0ff00,#b2ff00,#b2ff00,#b1ff00,#a6ff00,#93ff00,#6aff00,#15ff00,#00ff6c,#00e1ff,#006bff,#0050ff,#0051ff,#0058ff,#005aff,#0053ff,#0041ff,#0023ff,#0800fa,#2100ec,#2900e6,#2b00e3,#2c00e2,#2c00e2,#2c00e1,#2c00e2,#2c00e2,#2b00e4,#2900e6,#2600e9,#2300eb,#1e00ee,#1500f3,#0800fb,#000fff,#002bff,#0043ff,#005aff,#006fff,#0080ff,#008eff,#00a3ff,#00bbff,#00cfff,#00e2ff,#00edff,#00f5ff,#00f9ff,#00f9ff,#00f3ff,#00d4ff,#00b4ff,#009eff,#0090ff,#0088ff,#0080ff,#0062ff,#0040ff,#0025ff,#0010ff,#0001ff,#0800fa,#0f00f7,#1400f4,#1800f1,#1b00f0,#1e00ee,#2400eb,#2b00e4,#3200d9,#3600d3,#3700d1,#3800d0,#3800cf,#3800cf,#3800cf,#3800cf,#3800cf,#3800cf,#3800d0,#3800d0,#3800d0,#3800d0,#3800d0,#3700d1,#3700d1,#3700d2,#3600d3,#3500d5,#3300d7,#3100da,#2e00df,#2a00e5,#2400ea,#1f00ed,#1b00ef,#1800f1,#1400f3,#1000f6,#0a00f9,#0400fd,#0009ff,#001cff,#0030ff,#0044ff,#0058ff,#0068ff,#0076ff,#007fff,#0086ff,#008fff,#009cff,#00b5ff,#00d4ff,#00f6ff,#00ffeb,#00ffd4,#00ffc3,#00ffb3,#00ff9c,#00ff88,#00ff76,#00ff68,#00ff60,#00ff5e,#00ff5f,#00ff61,#00ff68,#00ff73)"></div>
<div style="background:linear-gradient(90deg,#00ff91,#00ffa8,#00ffb9,#00ffc0,#00ffc3,#00ffc4,#00ffc5,#00ffc6,#00ffc6,#00ffc7,#00ffc6,#00ffc6,#00ffc5,#00ffc4,#00ffc3,#00ffc1,#00ffc0,#00ffbf,#00ffbf,#00ffbf,#00ffbc,#00ffb2,#00ffa2,#00ff93,#00ff89,#00ff86,#00ff8a,#00ff98,#00ffa9,#00ffb4,#00ffba,#00ffbd,#00ffbe,#00ffbf,#00ffcd,#00ffe5,#00fff3,#00fff8,#00fff7,#00ffee,#00ffe1,#00ffd4,#00ffcb,#00ffc5,#00ffc1,#00ffb9,#00ffae,#00ff9c,#00ff84,#00ff71,#00ff64,#00ff67,#00ff70,#00ff72,#00ff6e,#00ff66,#00ff59,#00ff4a,#00ff36,#00ff1e,#00ff05,#17ff00,#40ff00,#4cff00,#51ff00,#55ff00,#57ff00,#5aff00,#5dff00,#65ff00,#78ff00,#8eff00,#a1ff00,#b4ff00,#c3ff00,#d7ff00,#dfff00,#e0ff00,#dcff00,#c7ff00,#b5ff00,#95ff00,#47ff00,#00ff24,#00ffb9,#00a6ff,#0071ff,#0066ff,#0066ff,#0065ff,#005dff,#004cff,#002eff,#0300fd,#1f00ed,#2800e8,#2a00e5,#2b00e4,#2b00e4,#2b00e3,#2a00e5,#2900e6,#2700e9,#2400ea,#2000ed,#1a00f0,#0e00f7,#0001ff,#0018ff,#0031ff,#0047ff,#005bff,#0072ff,#008bff,#00a6ff,#00c1ff,#00daff,#00f4ff,#00fffa,#00ffe6,#00ffda,#00ffd8,#00ffd8,#00ffd9,#00ffdf,#00f0ff,#00c1ff,#00a5ff,#0094ff,#008bff,#0085ff,#006cff,#0045ff,#0028ff,#0012ff,#0001ff,#0800fa,#0f00f7,#1400f4,#1800f1,#1b00ef,#2000ed,#2600e9,#2c00e2,#3200da,#3500d4,#3700d1,#3800d0,#3900cf,#3900cf,#3900cf,#3900cf,#3800cf,#3800cf,#3800cf,#3800cf,#3800d0,#3800d0,#3800d0,#3800d0,#3800d0,#3700d1,#3700d2,#3600d3,#3500d5,#3300d7,#3100db,#2d00e0,#2900e6,#2400ea,#2100ec,#1e00ee,#1c00ef,#1900f0,#1600f2,#1300f4,#0d00f8,#0200fe,#000cff,#0020ff,#0036ff,#004aff,#005dff,#006cff,#0076ff,#0081ff,#008aff,#009fff,#00bcff,#00dcff,#00f9ff,#00ffec,#00ffd8,#00ffc8,#00ffb5,#00ffa3,#00ff90,#00ff7c,#00ff6d,#00ff66,#00ff64,#00ff69,#00ff79,#00ff86)"></div>
<div style="background:linear-gradient(90deg,#00ffa7,#00ffb9,#00ffc0,#00ffc3,#00ffc5,#00ffc6,#00ffc7,#00ffc8,#00ffc8,#00ffc8,#00ffc8,#00ffc8,#00ffc7,#00ffc6,#00ffc5,#00ffc3,#00ffc2,#00ffc1,#00ffc0,#00ffbf,#00ffbe,#00ffb8,#00ffad,#00ffa2,#00ff99,#00ff95,#00ff97,#00ffa1,#00ffad,#00ffb6,#00ffbb,#00ffbe,#00ffbf,#00ffc2,#00ffd2,#00ffe5,#00fff1,#00fff7,#00fff6,#00fff0,#00ffe6,#00ffdb,#00ffd3,#00ffcd,#00ffc9,#00ffc5,#00ffc1,#00ffbc,#00ffb0,#00ff9d,#00ff87,#00ff7d,#00ff7a,#00ff78,#00ff72,#00ff69,#00ff5c,#00ff4d,#00ff3a,#00ff23,#00ff0b,#0cff00,#34ff00,#4bff00,#50ff00,#53ff00,#57ff00,#5bff00,#60ff00,#73ff00,#8fff00,#a6ff00,#b8ff00,#d2ff00,#eeff00,#fff900,#ffed00,#ffea00,#ffee00,#ffff00,#e3ff00,#c3ff00,#8cff00,#31ff00,#00ff4e,#00ffe0,#00a9ff,#0080ff,#0075ff,#006fff,#0068ff,#0059ff,#003dff,#000cff,#1a00f0,#2400ea,#2700e9,#2800e8,#2800e8,#2800e8,#2600e9,#2400ea,#2100ec,#1b00ef,#1300f4,#0500fc,#0011ff,#0029ff,#003dff,#0050ff,#0061ff,#0076ff,#0096ff,#00beff,#00e5ff,#00fff9,#00ffea,#00ffcb,#00ffc2,#00ffb2,#00ffa2,#00ffaa,#00ffba,#00ffc0,#00ffc4,#00fff8,#00caff,#00aaff,#0097ff,#008cff,#0086ff,#0072ff,#0048ff,#0028ff,#0012ff,#0001ff,#0800fa,#0f00f6,#1400f3,#1800f1,#1c00ef,#2100ec,#2800e8,#2d00e1,#3200d9,#3500d4,#3800d1,#3800cf,#3900cf,#3900cf,#3900cf,#3900cf,#3900cf,#3900cf,#3800cf,#3800cf,#3800cf,#3800cf,#3800d0,#3800d0,#3800d0,#3800d0,#3800d1,#3700d1,#3600d3,#3500d5,#3300d7,#3000db,#2d00e1,#2900e6,#2600e9,#2300eb,#2100ec,#1f00ed,#1e00ee,#1d00ee,#1a00f0,#1600f2,#0f00f6,#0300fd,#0014ff,#002dff,#0043ff,#0056ff,#0064ff,#0071ff,#007cff,#008aff,#00a3ff,#00c3ff,#00e1ff,#00faff,#00ffef,#00ffdc,#00ffcb,#00ffbb,#00ffaa,#00ff95,#00ff84,#00ff79,#00ff73,#00ff7b,#00ff8f,#00ff9d)"></div>
<div style="background:linear-gradient(90deg,#00ffb9,#00ffc1,#00ffc4,#00ffc6,#00ffc7,#00ffc8,#00ffc9,#00ffca,#00ffca,#00ffca,#00ffca,#00ffc9,#00ffc9,#00ffc8,#00ffc7,#00ffc5,#00ffc4,#00ffc3,#00ffc2,#00ffc1,#00ffc0,#00ffbd,#00ffb8,#00ffb1,#00ffaa,#00ffa5,#00ffa6,#00ffac,#00ffb3,#00ffb9,#00ffbd,#00ffbe,#00ffc0,#00ffc8,#00ffd7,#00ffe7,#00fff2,#00fff7,#00fff7,#00fff3,#00ffeb,#00ffe2,#00ffda,#00ffd4,#00ffcf,#00ffca,#00ffc6,#00ffc3,#00ffc0,#00ffb9,#00ffa6,#00ff91,#00ff86,#00ff7e,#00ff76,#00ff6c,#00ff60,#00ff51,#00ff3f,#00ff2a,#00ff13,#00ff00,#23ff00,#44ff00,#4eff00,#52ff00,#57ff00,#5bff00,#69ff00,#87ff00,#a5ff00,#b7ff00,#d2ff00,#f9ff00,#ffe300,#ffd000,#ffba00,#ffb400,#ffb600,#ffc800,#ffe200,#fffd00,#d3ff00,#91ff00,#22ff00,#00ff4f,#00ffcb,#00d1ff,#009bff,#0080ff,#0073ff,#0066ff,#004fff,#0027ff,#0b00f8,#1e00ee,#2200eb,#2300eb,#2300eb,#2200ec,#1e00ed,#1c00ef,#1300f4,#0600fc,#000bff,#0023ff,#003bff,#004eff,#0060ff,#007aff,#008aff,#00b5ff,#00f5ff,#00fff6,#00ffd4,#00ffb2,#00ff9f,#00ff80,#00ff78,#00ff72,#00ff6c,#00ff82,#00ffaf,#00ffbb,#00ffbf,#00fff1,#00cdff,#00abff,#0097ff,#008cff,#0087ff,#0076ff,#0048ff,#0027ff,#0010ff,#0000ff,#0900fa,#1000f6,#1500f3,#1900f1,#1c00ef,#2200eb,#2900e6,#2e00df,#3200d8,#3600d3,#3800d0,#3900cf,#3900ce,#3900ce,#3900ce,#3900cf,#3900cf,#3900cf,#3900cf,#3900cf,#3900cf,#3800cf,#3800cf,#3800cf,#3800d0,#3800d0,#3800d0,#3800d0,#3700d1,#3600d3,#3500d5,#3300d7,#3000dc,#2d00e0,#2a00e5,#2700e8,#2500ea,#2300eb,#2200ec,#2100ec,#1f00ed,#1e00ee,#1c00ef,#1800f1,#0900fa,#0010ff,#002cff,#0041ff,#0052ff,#0061ff,#006eff,#007bff,#008dff,#00aaff,#00c9ff,#00e3ff,#00f9ff,#00fff2,#00ffe0,#00ffcf,#00ffc0,#00ffaf,#00ff9f,#00ff92,#00ff8d,#00ff93,#00ffa4,#00ffb1)"></div>
<div style="background:linear-gradient(90deg,#00ffc1,#00ffc5,#00ffc7,#00ffc9,#00ffca,#00ffcb,#00ffcc,#00ffcc,#00ffcc,#00ffcc,#00ffcc,#00ffcb,#00ffcb,#00ffca,#00ffc9,#00ffc8,#00ffc7,#00ffc6,#00ffc4,#00ffc3,#00ffc2,#00ffc1,#00ffc0,#00ffbc,#00ffb9,#00ffb4,#00ffb4,#00ffb6,#00ffb9,#00ffbc,#00ffbf,#00ffc1,#00ffc5,#00ffcf,#00ffdc,#00ffe9,#00fff3,#00fff9,#00fff9,#00fff6,#00fff0,#00ffe9,#00ffe2,#00ffdb,#00ffd5,#00ffcf,#00ffca,#00ffc6,#00ffc3,#00ffc0,#00ffb9,#00ffa3,#00ff91,#00ff85,#00ff7b,#00ff71,#00ff64,#00ff56,#00ff45,#00ff32,#00ff1d,#00ff09,#11ff00,#36ff00,#4aff00,#50ff00,#56ff00,#5dff00,#77ff00,#9cff00,#b4ff00,#c5ff00,#eaff00,#ffe200,#ffb700,#ff9700,#ff5e00,#ff4600,#ff4700,#ff7a00,#ff9d00,#ffbf00,#ffe200,#e0ff00,#92ff00,#2fff00,#00ff3c,#00ffa0,#00fff3,#00b9ff,#0090ff,#0077ff,#0064ff,#0046ff,#0018ff,#0e00f7,#1700f2,#1800f1,#1800f1,#1700f2,#0d00f8,#0400fd,#0010ff,#0025ff,#003aff,#004fff,#0067ff,#0082ff,#00acff,#00f0ff,#00fff5,#00ffc5,#00ff95,#00ffbf,#00ff85,#00ff69,#00ff5a,#00ff58,#00ff5c,#00ff5f,#00ff6a,#00ff7f,#00ffad,#00ffbb,#00ffc4,#00fffa,#00c9ff,#00a9ff,#0095ff,#008bff,#0086ff,#0074ff,#0044ff,#0024ff,#000dff,#0200fe,#0b00f9,#1100f5,#1600f3,#1900f0,#1d00ee,#2400ea,#2a00e4,#2f00dd,#3300d7,#3600d3,#3800d0,#3900ce,#3a00ce,#3a00ce,#3a00ce,#3900ce,#3900ce,#3900ce,#3900cf,#3900cf,#3900cf,#3900cf,#3900cf,#3800cf,#3800cf,#3800cf,#3800d0,#3800d0,#3800d0,#3700d1,#3600d3,#3500d5,#3300d7,#3000dc,#2d00e0,#2b00e4,#2900e7,#2600e9,#2500ea,#2300eb,#2200eb,#2100ec,#2000ed,#1e00ee,#1900f1,#0800fa,#0015ff,#002eff,#0041ff,#0051ff,#0060ff,#006fff,#007fff,#0093ff,#00b3ff,#00ceff,#00e4ff,#00f7ff,#00fff5,#00ffe5,#00ffd5,#00ffc5,#00ffb8,#00ffab,#00ffa7,#00ffab,#00ffb6,#00ffbd)"></div>
<div style="background:linear-gradient(90deg,#00ffc8,#00ffca,#00ffcc,#00ffcd,#00ffce,#00ffce,#00ffcf,#00ffcf,#00ffce,#00ffce,#00ffce,#00ffcd,#00ffcd,#00ffcc,#00ffcb,#00ffca,#00ffc9,#00ffc8,#00ffc7,#00ffc6,#00ffc5,#00ffc4,#00ffc3,#00ffc2,#00ffc0,#00ffbe,#00ffbe,#00ffbe,#00ffbf,#00ffc0,#00ffc2,#00ffc5,#00ffcc,#00ffd5,#00ffe1,#00ffed,#00fff6,#00fffb,#00fffd,#00fffb,#00fff6,#00ffef,#00ffe9,#00ffe2,#00ffdb,#00ffd5,#00ffce,#00ffc9,#00ffc4,#00ffc1,#00ffbf,#00ffb1,#00ff9a,#00ff8c,#00ff81,#00ff76,#00ff69,#00ff5b,#00ff4b,#00ff39,#00ff26,#00ff13,#01ff00,#23ff00,#40ff00,#4dff00,#54ff00,#5fff00,#86ff00,#acff00,#bbff00,#d0ff00,#fdff00,#ffc200,#ff7d00,#ff2800,#ff2800,#ff2800,#ff2800,#ff2800,#ff2800,#ff6900,#ff8900,#ffca00,#f1ff00,#a1ff00,#41ff00,#00ff24,#00ff78,#00ffcc,#00ecff,#00a7ff,#0082ff,#006aff,#0049ff,#0026ff,#0012ff,#000fff,#000fff,#0011ff,#001eff,#002dff,#0043ff,#0053ff,#0075ff,#008aff,#00eeff,#00ffee,#00ffa2,#00ff7a,#00ff74,#00ff73,#00ff89,#00ffb2,#00ff76,#00ff63,#00ff65,#00ff6f,#00ff76,#00ff7b,#00ff80,#00ff95,#00ffb3,#00ffc0,#00ffd7,#00efff,#00c0ff,#00a3ff,#0092ff,#0089ff,#0083ff,#0067ff,#003cff,#001eff,#0009ff,#0500fc,#0d00f8,#1300f4,#1700f2,#1a00f0,#1e00ee,#2600e9,#2c00e2,#3000dc,#3400d6,#3700d2,#3900cf,#3a00cd,#3a00cd,#3a00cd,#3a00cd,#3a00cd,#3a00cd,#3900ce,#3900ce,#3900ce,#3900cf,#3900cf,#3900cf,#3900cf,#3900cf,#3900cf,#3800cf,#3800cf,#3800d0,#3800d0,#3700d1,#3600d3,#3500d5,#3300d7,#3100db,#2e00df,#2b00e3,#2900e6,#2800e8,#2600e9,#2500ea,#2300eb,#2200ec,#2000ec,#1e00ee,#1600f2,#0000ff,#001bff,#0031ff,#0042ff,#0052ff,#0061ff,#0072ff,#0084ff,#009eff,#00b9ff,#00cfff,#00e3ff,#00f4ff,#00fffb,#00ffeb,#00ffdb,#00ffcf,#00ffc3,#00ffbd,#00ffc1,#00ffc4,#00ffc6)"></div>
<div style="background:linear-gradient(90deg,#00ffd1,#00ffd1,#00ffd2,#00ffd2,#00ffd3,#00ffd3,#00ffd2,#00ffd2,#00ffd1,#00ffd1,#00ffd0,#00ffd0,#00ffcf,#00ffce,#00ffcd,#00ffcc,#00ffcb,#00ffca,#00ffc9,#00ffc8,#00ffc7,#00ffc6,#00ffc5,#00ffc4,#00ffc4,#00ffc3,#00ffc3,#00ffc3,#00ffc3,#00ffc4,#00ffc6,#00ffcb,#00ffd1,#00ffdb,#00ffe6,#00fff1,#00fffa,#00ffff,#00fdff,#00feff,#00fffc,#00fff6,#00fff0,#00ffe9,#00ffe2,#00ffdb,#00ffd3,#00ffcc,#00ffc6,#00ffc2,#00ffc0,#00ffb8,#00ffa1,#00ff92,#00ff86,#00ff7b,#00ff6f,#00ff61,#00ff52,#00ff42,#00ff30,#00ff1d,#00ff0a,#0fff00,#2eff00,#47ff00,#51ff00,#60ff00,#8eff00,#b4ff00,#bdff00,#d4ff00,#fff800,#ffad00,#ff3100,#ff2800,#ff2800,#ff2800,#ff2800,#ff2800,#ff2800,#ff2800,#ff2800,#ff5e00,#ffab00,#fff000,#b5ff00,#5eff00,#00ff00,#00ff5d,#00ffa5,#00ffea,#00d3ff,#00a6ff,#0085ff,#0067ff,#0052ff,#004fff,#004fff,#0050ff,#0056ff,#005fff,#0077ff,#0084ff,#00e9ff,#00eaff,#00ff84,#00ff74,#00ff71,#00ff7b,#00ff87,#00ff9c,#00ffb5,#00ffb0,#00ff8f,#00ff82,#00ff81,#00ff86,#00ff8c,#00ff94,#00ffa0,#00ffb1,#00ffc2,#00ffd6,#00fffa,#00d6ff,#00b2ff,#009aff,#008dff,#0086ff,#0076ff,#0054ff,#0030ff,#0016ff,#0002ff,#0800fa,#0f00f6,#1400f3,#1800f1,#1b00ef,#2000ed,#2800e7,#2d00e0,#3200da,#3500d5,#3800d1,#3900ce,#3a00cc,#3b00cc,#3b00cb,#3b00cc,#3b00cc,#3a00cc,#3a00cd,#3a00cd,#3a00ce,#3900ce,#3900ce,#3900ce,#3900cf,#3900cf,#3900cf,#3900cf,#3900cf,#3900cf,#3800cf,#3800d0,#3700d1,#3600d2,#3500d5,#3300d7,#3000db,#2e00df,#2c00e2,#2b00e4,#2900e6,#2800e8,#2600e9,#2400ea,#2200eb,#2000ed,#1c00ef,#0e00f7,#000aff,#0021ff,#0034ff,#0044ff,#0054ff,#0065ff,#0079ff,#008dff,#00a5ff,#00bcff,#00ceff,#00deff,#00edff,#00fcff,#00fff4,#00ffe8,#00ffdc,#00ffd3,#00ffd6,#00ffd3,#00ffd2)"></div>
<div style="background:linear-gradient(90deg,#00ffdb,#00ffda,#00ffdb,#00ffdb,#00ffda,#00ffd9,#00ffd8,#00ffd7,#00ffd6,#00ffd5,#00ffd4,#00ffd3,#00ffd2,#00ffd1,#00ffd0,#00ffcf,#00ffce,#00ffcd,#00ffcc,#00ffcb,#00ffca,#00ffc9,#00ffc8,#00ffc7,#00ffc6,#00ffc6,#00ffc6,#00ffc6,#00ffc6,#00ffc8,#00ffca,#00ffcf,#00ffd6,#00ffe0,#00ffeb,#00fff6,#00fffe,#00faff,#00f8ff,#00f9ff,#00fcff,#00fffd,#00fff7,#00fff0,#00ffe9,#00ffe0,#00ffd8,#00ffcf,#00ffc8,#00ffc3,#00ffc0,#00ffba,#00ffa6,#00ff97,#00ff8b,#00ff80,#00ff74,#00ff68,#00ff5a,#00ff4a,#00ff39,#00ff28,#00ff14,#00ff01,#19ff00,#38ff00,#4dff00,#5eff00,#8dff00,#b4ff00,#bdff00,#d2ff00,#fffc00,#ffb300,#ff4a00,#ff2800,#ff2800,#ff2800,#ff2800,#ff2800,#ff2800,#ff2800,#ff2800,#ff2800,#ff3600,#ff9c00,#ffdb00,#d2ff00,#7aff00,#20ff00,#00ff34,#00ff82,#00ffb7,#00fff0,#00e6ff,#00b1ff,#009eff,#0099ff,#0097ff,#0093ff,#0093ff,#0095ff,#00acff,#00c4ff,#00ffdd,#00ffd7,#00ff99,#00ff8d,#00ff99,#00ffa5,#00ffb1,#00ffbb,#00ffbc,#00ffb2,#00ffa1,#00ff95,#00ff96,#00ff9d,#00ffa6,#00ffb2,#00ffc0,#00ffcf,#00ffe5,#00fffe,#00deff,#00bdff,#00a1ff,#008fff,#0085ff,#007aff,#005fff,#003fff,#0022ff,#000cff,#0400fd,#0c00f8,#1200f4,#1700f2,#1a00f0,#1c00ef,#2300eb,#2b00e4,#2f00dd,#3300d7,#3600d3,#3900cf,#3a00cd,#3b00cb,#3c00ca,#3c00ca,#3c00ca,#3c00ca,#3b00cb,#3b00cb,#3b00cc,#3a00cc,#3a00cd,#3a00cd,#3a00ce,#3900ce,#3900ce,#3900ce,#3900cf,#3900cf,#3900cf,#3900cf,#3900cf,#3800cf,#3800d0,#3700d2,#3500d5,#3300d8,#3000db,#2e00de,#2d00e1,#2c00e3,#2a00e5,#2900e7,#2700e8,#2500ea,#2200eb,#1f00ed,#1800f1,#0400fd,#0013ff,#0026ff,#0036ff,#0046ff,#0056ff,#006aff,#007eff,#0093ff,#00a9ff,#00baff,#00caff,#00d7ff,#00e5ff,#00f1ff,#00fdff,#00fff7,#00ffef,#00ffec,#00ffe5,#00ffdf)"></div>
<div style="background:linear-gradient(90deg,#00ffeb,#00ffe9,#00ffe6,#00ffe3,#00ffe3,#00ffe1,#00ffdf,#00ffde,#00ffdc,#00ffdb,#00ffd9,#00ffd8,#00ffd6,#00ffd5,#00ffd4,#00ffd2,#00ffd1,#00ffd0,#00ffcf,#00ffce,#00ffcd,#00ffcc,#00ffcb,#00ffca,#00ffc9,#00ffc9,#00ffc9,#00ffc9,#00ffc9,#00ffcb,#00ffce,#00ffd3,#00ffdb,#00ffe5,#00fff1,#00fffb,#00faff,#00f4ff,#00f2ff,#00f2ff,#00f5ff,#00faff,#00fffe,#00fff7,#00ffef,#00ffe6,#00ffdc,#00ffd2,#00ffca,#00ffc4,#00ffc0,#00ffbb,#00ffaa,#00ff9c,#00ff90,#00ff85,#00ff7a,#00ff6e,#00ff61,#00ff53,#00ff44,#00ff33,#00ff20,#00ff0e,#06ff00,#24ff00,#42ff00,#58ff00,#82ff00,#afff00,#baff00,#ccff00,#f1ff00,#ffd000,#ff9900,#ff6a00,#ff2800,#ff2800,#ff2800,#ff2800,#ff2800,#ff2800,#ff2800,#ff2800,#ff2800,#ff6f00,#ffa800,#ffe100,#bdff00,#94ff00,#5dff00,#00ff0c,#00ff53,#00ff7c,#00ffae,#00ffd5,#00fffe,#00f2ff,#00edff,#00dbff,#00d7ff,#00d9ff,#00e7ff,#00fffb,#00ffd2,#00ffc6,#00ffb5,#00ffb2,#00ffb8,#00ffbc,#00ffbe,#00ffbe,#00ffbc,#00ffb6,#00ffac,#00ffa8,#00ffad,#00ffb8,#00ffc2,#00ffd6,#00ffe6,#00fffb,#00ebff,#00d3ff,#00baff,#00a0ff,#008fff,#0081ff,#0073ff,#005fff,#0045ff,#002aff,#0013ff,#0000ff,#0a00f9,#1100f5,#1600f3,#1900f1,#1c00ef,#2000ed,#2700e8,#2d00e0,#3100da,#3500d5,#3800d1,#3a00cd,#3b00cb,#3c00ca,#3d00c9,#3d00c9,#3d00c9,#3d00c9,#3c00c9,#3c00ca,#3c00ca,#3b00cb,#3b00cb,#3b00cc,#3a00cc,#3a00cd,#3a00cd,#3a00ce,#3900ce,#3900ce,#3900ce,#3900ce,#3900ce,#3900ce,#3900cf,#3800d0,#3700d2,#3500d5,#3300d8,#3100db,#2f00dd,#2e00df,#2d00e1,#2b00e3,#2a00e6,#2800e8,#2500ea,#2100ec,#1d00ee,#0e00f7,#0005ff,#0018ff,#0028ff,#0037ff,#0047ff,#0059ff,#006eff,#0085ff,#0097ff,#00a8ff,#00b5ff,#00c2ff,#00ceff,#00d9ff,#00e4ff,#00edff,#00f4ff,#00f9ff,#00fffb,#00fff1)"></div>
<div style="background:linear-gradient(90deg,#00f9ff,#00fffe,#00fff5,#00ffef,#00ffee,#00ffe9,#00ffe7,#00ffe6,#00ffe3,#00ffe2,#00ffe0,#00ffde,#00ffdd,#00ffdb,#00ffd9,#00ffd8,#00ffd6,#00ffd5,#00ffd3,#00ffd2,#00ffd1,#00ffd0,#00ffcf,#00ffce,#00ffcd,#00ffcc,#00ffcc,#00ffcc,#00ffcd,#00ffce,#00ffd1,#00ffd6,#00ffdf,#00ffea,#00fff6,#00fdff,#00f4ff,#00eeff,#00ebff,#00ebff,#00eeff,#00f2ff,#00f8ff,#00ffff,#00fff6,#00ffec,#00ffe0,#00ffd4,#00ffca,#00ffc3,#00ffc0,#00ffba,#00ffac,#00ffa0,#00ff95,#00ff8b,#00ff80,#00ff75,#00ff69,#00ff5c,#00ff4e,#00ff3f,#00ff2e,#00ff1c,#00ff09,#0fff00,#30ff00,#4aff00,#6bff00,#99ff00,#aeff00,#beff00,#d8ff00,#fffa00,#ffd800,#ffc000,#ffa200,#ff9c00,#ff9a00,#ff7800,#ff4900,#ff4700,#ff4700,#ff4700,#ff4a00,#ff8e00,#ffb800,#ffde00,#caff00,#b4ff00,#abff00,#6dff00,#00ff08,#00ff1d,#00ff46,#00ff57,#00ff95,#00ffc5,#00ffce,#00ffe2,#00ffe5,#00ffe4,#00ffdf,#00ffcf,#00ffc2,#00ffc0,#00ffbe,#00ffbf,#00ffbf,#00ffbf,#00ffbf,#00ffbf,#00ffbd,#00ffbb,#00ffbb,#00ffbd,#00ffcb,#00ffd9,#00ffee,#00faff,#00e7ff,#00d2ff,#00bcff,#00a7ff,#0096ff,#0086ff,#007aff,#006aff,#0056ff,#0041ff,#002aff,#0015ff,#0002ff,#0900fa,#1100f5,#1600f2,#1900f0,#1c00ef,#2000ed,#2500e9,#2b00e3,#3000dc,#3400d7,#3700d2,#3900ce,#3b00cb,#3c00c9,#3d00c8,#3e00c7,#3e00c7,#3e00c7,#3e00c7,#3e00c8,#3d00c8,#3d00c9,#3d00c9,#3c00ca,#3c00ca,#3b00cb,#3b00cb,#3b00cc,#3a00cc,#3a00cd,#3a00cd,#3a00cd,#3a00cd,#3a00cd,#3a00cd,#3a00cd,#3900ce,#3800d0,#3700d2,#3500d5,#3300d8,#3100da,#3000dc,#2f00de,#2d00e0,#2c00e2,#2a00e5,#2800e8,#2400ea,#1f00ed,#1500f3,#0500fc,#000cff,#001bff,#0029ff,#0038ff,#0048ff,#005cff,#0076ff,#0087ff,#0096ff,#00a1ff,#00acff,#00b7ff,#00c1ff,#00cbff,#00d2ff,#00d9ff,#00dfff,#00eaff,#00f3ff)"></div>
<div style="background:linear-gradient(90deg,#00daff,#00e3ff,#00eeff,#00f6ff,#00fbff,#00fff9,#00fff6,#00fff3,#00ffec,#00ffeb,#00ffe8,#00ffe5,#00ffe5,#00ffe3,#00ffe0,#00ffdf,#00ffdd,#00ffdb,#00ffda,#00ffd9,#00ffd7,#00ffd5,#00ffd4,#00ffd3,#00ffd1,#00ffd1,#00ffd0,#00ffd0,#00ffd1,#00ffd2,#00ffd4,#00ffda,#00ffe3,#00ffef,#00fffc,#00f6ff,#00edff,#00e7ff,#00e4ff,#00e4ff,#00e6ff,#00eaff,#00f0ff,#00f7ff,#00fffd,#00fff2,#00ffe4,#00ffd6,#00ffca,#00ffc2,#00ffbf,#00ffb9,#00ffae,#00ffa3,#00ff9a,#00ff90,#00ff87,#00ff7c,#00ff71,#00ff66,#00ff59,#00ff4b,#00ff3b,#00ff2b,#00ff18,#00ff04,#1aff00,#34ff00,#4eff00,#70ff00,#8cff00,#a4ff00,#b6ff00,#d4ff00,#eaff00,#f9ff00,#fff500,#ffe800,#ffe200,#ffce00,#ffc500,#ffc400,#ffc400,#ffc400,#ffc500,#ffd600,#fffb00,#e9ff00,#c0ff00,#abff00,#a0ff00,#80ff00,#0dff00,#00ff08,#00ff0e,#00ff18,#00ff50,#00ffad,#00ffbd,#00ffc2,#00ffc3,#00ffc3,#00ffc2,#00ffc0,#00ffbf,#00ffbf,#00ffbf,#00ffbf,#00ffbf,#00ffc0,#00ffc0,#00ffc0,#00ffc6,#00ffca,#00ffda,#00ffe4,#00fffb,#00f2ff,#00dbff,#00c9ff,#00b4ff,#00a4ff,#0091ff,#0085ff,#0077ff,#006cff,#005dff,#004cff,#0038ff,#0024ff,#0011ff,#0100fe,#0b00f9,#1300f4,#1800f1,#1c00ef,#1e00ee,#2100ec,#2600e9,#2b00e4,#2f00de,#3300d8,#3600d3,#3900cf,#3b00cc,#3c00c9,#3e00c7,#3f00c6,#3f00c6,#3f00c5,#3f00c5,#3f00c5,#3f00c6,#3f00c6,#3e00c7,#3e00c7,#3d00c8,#3d00c8,#3d00c9,#3c00ca,#3c00ca,#3b00cb,#3b00cb,#3b00cb,#3b00cb,#3b00cb,#3b00cb,#3b00cb,#3b00cb,#3b00cc,#3a00cd,#3800cf,#3700d2,#3500d4,#3400d7,#3200d9,#3100db,#3000dd,#2e00df,#2c00e2,#2a00e5,#2700e9,#2200ec,#1b00f0,#0d00f8,#0000ff,#000eff,#001bff,#0028ff,#0036ff,#0048ff,#005eff,#0073ff,#0083ff,#008eff,#0097ff,#00a1ff,#00a9ff,#00b2ff,#00b9ff,#00beff,#00c3ff,#00cdff,#00d5ff)"></div>
<div style="background:linear-gradient(90deg,#00b8ff,#00c2ff,#00cbff,#00d5ff,#00ddff,#00e7ff,#00edff,#00f3ff,#00fdff,#00fffe,#00fff8,#00fff0,#00fff0,#00ffec,#00ffe8,#00ffe8,#00ffe5,#00ffe3,#00ffe2,#00ffe1,#00ffde,#00ffdd,#00ffdc,#00ffda,#00ffd9,#00ffd7,#00ffd7,#00ffd6,#00ffd6,#00ffd7,#00ffd9,#00ffde,#00ffe7,#00fff4,#00fbff,#00eeff,#00e5ff,#00dfff,#00dcff,#00dcff,#00deff,#00e1ff,#00e7ff,#00efff,#00f9ff,#00fff8,#00ffe9,#00ffd8,#00ffc9,#00ffc0,#00ffbd,#00ffb8,#00ffb0,#00ffa7,#00ff9e,#00ff96,#00ff8d,#00ff84,#00ff7a,#00ff6f,#00ff64,#00ff57,#00ff4a,#00ff3a,#00ff29,#00ff13,#07ff00,#1bff00,#30ff00,#45ff00,#59ff00,#6fff00,#82ff00,#9bff00,#a0ff00,#a5ff00,#bfff00,#d1ff00,#d4ff00,#dcff00,#dfff00,#dfff00,#dfff00,#dbff00,#d7ff00,#ccff00,#9eff00,#92ff00,#8aff00,#68ff00,#40ff00,#2cff00,#00ff0c,#00ff22,#00ff24,#00ff44,#00ff74,#00ffaf,#00ffbd,#00ffbf,#00ffbf,#00ffbf,#00ffc1,#00ffc2,#00ffc2,#00ffc3,#00ffc3,#00ffc3,#00ffc8,#00ffd1,#00ffd4,#00ffd8,#00ffed,#00fffb,#00efff,#00e0ff,#00cbff,#00bdff,#00a6ff,#009bff,#0088ff,#0080ff,#0072ff,#0068ff,#005aff,#004eff,#003eff,#002eff,#001bff,#0006ff,#0700fb,#1200f5,#1700f2,#1d00ee,#1f00ed,#2300eb,#2500ea,#2900e7,#2c00e2,#2f00dd,#3300d8,#3600d3,#3800cf,#3b00cc,#3d00c9,#3e00c7,#3f00c5,#4000c4,#4000c4,#4000c3,#4000c3,#4000c4,#4000c4,#4000c4,#3f00c5,#3f00c5,#3f00c6,#3e00c6,#3e00c7,#3e00c8,#3d00c8,#3d00c9,#3d00c9,#3c00c9,#3c00c9,#3c00c9,#3c00c9,#3c00c9,#3c00ca,#3c00ca,#3b00cb,#3a00cd,#3900cf,#3700d1,#3600d3,#3400d5,#3300d7,#3200d9,#3000db,#2e00de,#2c00e2,#2900e6,#2500ea,#1e00ee,#1300f4,#0800fa,#0001ff,#000cff,#0018ff,#0024ff,#0032ff,#0044ff,#0056ff,#0068ff,#0078ff,#0080ff,#008bff,#0091ff,#009bff,#00a1ff,#00a4ff,#00a7ff,#00adff,#00b3ff)"></div>
<div style="background:linear-gradient(90deg,#0098ff,#00a0ff,#00a6ff,#00b1ff,#00baff,#00c2ff,#00ccff,#00d3ff,#00ddff,#00e4ff,#00ecff,#00f5ff,#00f8ff,#00ffff,#00fff7,#00fff6,#00fff1,#00ffeb,#00ffeb,#00ffea,#00ffe6,#00ffe5,#00ffe5,#00ffe3,#00ffe1,#00ffdf,#00ffdf,#00ffdf,#00ffde,#00ffde,#00ffdf,#00ffe4,#00ffed,#00fffb,#00f3ff,#00e5ff,#00dcff,#00d6ff,#00d3ff,#00d3ff,#00d5ff,#00d8ff,#00deff,#00e6ff,#00f1ff,#00ffff,#00ffee,#00ffd8,#00ffc6,#00ffbf,#00ffbd,#00ffb8,#00ffb2,#00ffaa,#00ffa3,#00ff9b,#00ff94,#00ff8b,#00ff83,#00ff79,#00ff6f,#00ff64,#00ff58,#00ff4b,#00ff3b,#00ff26,#00ff0d,#00ff00,#11ff00,#1cff00,#25ff00,#2fff00,#3aff00,#46ff00,#47ff00,#4bff00,#64ff00,#6aff00,#6bff00,#6bff00,#6cff00,#6bff00,#6aff00,#4fff00,#38ff00,#35ff00,#1aff00,#11ff00,#10ff00,#00ff07,#00ff3e,#00ff4c,#00ff5d,#00ff71,#00ff75,#00ff96,#00ffb2,#00ffc2,#00ffc6,#00ffc8,#00ffc9,#00ffc9,#00ffd6,#00ffde,#00ffe1,#00ffe5,#00ffe5,#00ffe6,#00fff0,#00faff,#00efff,#00e9ff,#00d8ff,#00c2ff,#00b6ff,#00a9ff,#0095ff,#008fff,#007eff,#0077ff,#006bff,#0061ff,#0056ff,#0049ff,#003cff,#002fff,#0020ff,#0010ff,#0200fe,#1100f5,#1800f1,#1e00ee,#2200eb,#2600e9,#2800e8,#2a00e5,#2c00e2,#2f00de,#3100da,#3400d6,#3600d2,#3900cf,#3b00cb,#3d00c8,#3f00c6,#4000c4,#4100c3,#4100c2,#4100c2,#4200c1,#4200c1,#4200c2,#4100c2,#4100c2,#4100c3,#4100c3,#4000c4,#4000c4,#3f00c5,#3f00c6,#3f00c6,#3e00c7,#3e00c7,#3e00c7,#3e00c7,#3e00c7,#3e00c7,#3e00c7,#3e00c8,#3d00c8,#3d00c9,#3c00cb,#3a00cc,#3900ce,#3800d0,#3700d2,#3500d4,#3400d6,#3300d8,#3100db,#2f00de,#2c00e2,#2800e8,#2100ec,#1900f1,#1000f6,#0900fa,#0200fe,#0007ff,#0011ff,#001cff,#0029ff,#0038ff,#0048ff,#0057ff,#0062ff,#006fff,#0076ff,#0083ff,#0086ff,#0087ff,#0089ff,#008cff,#0092ff)"></div>
<div style="background:linear-gradient(90deg,#0079ff,#007dff,#0082ff,#0090ff,#0096ff,#009cff,#00a9ff,#00b0ff,#00b8ff,#00c3ff,#00caff,#00d4ff,#00daff,#00e1ff,#00eaff,#00efff,#00f6ff,#00feff,#00fffe,#00fffb,#00fff4,#00fff0,#00fff0,#00ffee,#00ffea,#00ffe7,#00ffe8,#00ffe7,#00ffe7,#00ffe5,#00ffe5,#00ffe9,#00fff3,#00fbff,#00e9ff,#00dbff,#00d2ff,#00cdff,#00caff,#00caff,#00cbff,#00cfff,#00d5ff,#00dcff,#00e7ff,#00f6ff,#00fff3,#00ffd8,#00ffc2,#00ffbe,#00ffbd,#00ffb9,#00ffb4,#00ffae,#00ffa8,#00ffa1,#00ff9b,#00ff93,#00ff8c,#00ff83,#00ff7b,#00ff71,#00ff67,#00ff5b,#00ff4e,#00ff3d,#00ff29,#00ff1c,#00ff0f,#00ff0c,#00ff0b,#00ff0a,#00ff09,#00ff08,#00ff08,#00ff09,#00ff05,#00ff06,#00ff08,#00ff09,#00ff0d,#00ff0f,#00ff12,#00ff32,#00ff4f,#00ff53,#00ff67,#00ff75,#00ff75,#00ff7a,#00ffa5,#00ffbb,#00ffbf,#00ffc3,#00ffc6,#00ffd8,#00ffeb,#00ffee,#00ffef,#00fff5,#00fff9,#00fffb,#00f5ff,#00ecff,#00e4ff,#00d9ff,#00d7ff,#00d6ff,#00cfff,#00beff,#00acff,#00a8ff,#00a1ff,#008dff,#0086ff,#0082ff,#0075ff,#006eff,#0063ff,#005aff,#004fff,#0044ff,#0038ff,#002bff,#001eff,#0010ff,#0002ff,#0900fa,#1400f3,#1f00ed,#2500ea,#2800e8,#2b00e3,#2d00e0,#2f00de,#3100db,#3200d8,#3400d6,#3600d3,#3800d0,#3a00cd,#3c00ca,#3e00c7,#3f00c5,#4000c3,#4100c2,#4200c1,#4200c0,#4300c0,#4300c0,#4300c0,#4300c0,#4300c0,#4200c0,#4200c1,#4200c1,#4200c2,#4100c2,#4100c3,#4000c3,#4000c4,#4000c4,#4000c5,#3f00c5,#3f00c5,#3f00c5,#3f00c5,#3f00c5,#3f00c5,#3f00c6,#3e00c7,#3d00c8,#3c00ca,#3b00cb,#3a00cd,#3900cf,#3800d0,#3700d2,#3500d4,#3300d7,#3100da,#2f00de,#2b00e4,#2500ea,#1e00ee,#1700f2,#1200f5,#0c00f8,#0700fb,#0200fe,#0005ff,#000eff,#001bff,#0028ff,#0033ff,#003eff,#004aff,#0054ff,#005fff,#0061ff,#0064ff,#0066ff,#006dff,#0075ff)"></div>
<div style="background:linear-gradient(90deg,#0051ff,#0056ff,#0060ff,#006eff,#0072ff,#007dff,#0088ff,#008bff,#0094ff,#00a0ff,#00a5ff,#00b1ff,#00b8ff,#00beff,#00c8ff,#00cfff,#00d5ff,#00deff,#00e3ff,#00e7ff,#00f0ff,#00f5ff,#00f8ff,#00fbff,#00fffc,#00fff6,#00fff7,#00fff6,#00fff4,#00ffef,#00ffec,#00fff0,#00fff8,#00f3ff,#00deff,#00d0ff,#00c7ff,#00c2ff,#00c0ff,#00c0ff,#00c2ff,#00c5ff,#00caff,#00d2ff,#00ddff,#00ecff,#00fffb,#00ffd8,#00ffc0,#00ffbe,#00ffbe,#00ffbb,#00ffb7,#00ffb2,#00ffad,#00ffa7,#00ffa2,#00ff9c,#00ff95,#00ff8e,#00ff87,#00ff7f,#00ff76,#00ff6d,#00ff62,#00ff56,#00ff47,#00ff3c,#00ff33,#00ff33,#00ff35,#00ff37,#00ff3a,#00ff3c,#00ff3f,#00ff44,#00ff47,#00ff4d,#00ff55,#00ff59,#00ff67,#00ff71,#00ff76,#00ff99,#00ffa9,#00ffac,#00ffbf,#00ffd3,#00ffd6,#00ffd8,#00ffe9,#00fffc,#00ffff,#00fdff,#00f7ff,#00e8ff,#00dcff,#00d9ff,#00d6ff,#00c9ff,#00c0ff,#00beff,#00b9ff,#00b4ff,#00aaff,#0099ff,#0098ff,#0097ff,#0095ff,#008eff,#007fff,#007cff,#007aff,#0073ff,#006aff,#0066ff,#005dff,#0053ff,#0049ff,#003fff,#0034ff,#0028ff,#001bff,#000dff,#0100ff,#0a00f9,#1200f4,#1a00f0,#2200eb,#2a00e5,#2e00df,#3100db,#3300d8,#3400d6,#3600d4,#3700d2,#3800d0,#3a00ce,#3b00cc,#3c00ca,#3e00c7,#3f00c5,#4000c3,#4200c2,#4200c0,#4300bf,#4400bf,#4400be,#4400be,#4400be,#4400be,#4400be,#4400be,#4400be,#4300bf,#4300bf,#4300c0,#4300c0,#4200c0,#4200c1,#4200c1,#4100c2,#4100c2,#4100c2,#4100c3,#4100c3,#4100c3,#4100c3,#4100c3,#4000c4,#4000c4,#3f00c6,#3e00c7,#3d00c8,#3c00ca,#3b00cb,#3a00cd,#3900cf,#3800d1,#3600d3,#3400d6,#3100da,#2e00df,#2a00e5,#2400ea,#1e00ee,#1a00f0,#1600f2,#1300f4,#1000f6,#0e00f7,#0a00f9,#0200fe,#0008ff,#000fff,#0019ff,#0025ff,#002dff,#0034ff,#0037ff,#003cff,#0041ff,#0048ff,#004eff)"></div>
<div style="background:linear-gradient(90deg,#0027ff,#002eff,#003aff,#0045ff,#004dff,#005aff,#0063ff,#0067ff,#0074ff,#007eff,#0082ff,#0090ff,#0096ff,#0099ff,#00a5ff,#00adff,#00b1ff,#00b9ff,#00c2ff,#00c6ff,#00cdff,#00d5ff,#00d9ff,#00ddff,#00e3ff,#00eaff,#00ecff,#00efff,#00f1ff,#00f8ff,#00feff,#00fcff,#00f7ff,#00e4ff,#00cfff,#00c3ff,#00bbff,#00b7ff,#00b6ff,#00b6ff,#00b7ff,#00baff,#00bfff,#00c7ff,#00d1ff,#00e0ff,#00f8ff,#00ffdc,#00ffbf,#00ffbf,#00ffbf,#00ffbc,#00ffb9,#00ffb6,#00ffb2,#00ffae,#00ffa9,#00ffa4,#00ff9f,#00ff99,#00ff93,#00ff8c,#00ff86,#00ff7f,#00ff77,#00ff6f,#00ff65,#00ff5d,#00ff58,#00ff59,#00ff5c,#00ff60,#00ff67,#00ff6a,#00ff6f,#00ff7a,#00ff7f,#00ff88,#00ff99,#00ff9d,#00ffae,#00ffc0,#00ffc5,#00ffd8,#00ffe9,#00ffee,#00fffb,#00f0ff,#00ecff,#00e8ff,#00d8ff,#00caff,#00c7ff,#00c5ff,#00bcff,#00a9ff,#00a4ff,#00a3ff,#00a1ff,#0095ff,#008bff,#0089ff,#0088ff,#0087ff,#0083ff,#0079ff,#0076ff,#0075ff,#0074ff,#0071ff,#0069ff,#0065ff,#0061ff,#005bff,#0054ff,#004dff,#0044ff,#003aff,#002fff,#0023ff,#0017ff,#000bff,#0200fe,#0c00f8,#1400f3,#1e00ee,#2200eb,#2900e6,#2e00df,#3300d7,#3600d2,#3800cf,#3a00cd,#3b00cc,#3c00cb,#3c00c9,#3d00c8,#3e00c7,#3f00c5,#4000c4,#4100c3,#4200c1,#4300c0,#4400bf,#4400be,#4500bd,#4500bd,#4500bc,#4500bc,#4500bc,#4500bc,#4500bc,#4500bc,#4500bd,#4500bd,#4500bd,#4400bd,#4400be,#4400be,#4300bf,#4300bf,#4300c0,#4300c0,#4300c0,#4200c0,#4200c0,#4200c1,#4200c1,#4200c1,#4200c1,#4100c2,#4100c3,#4000c4,#3f00c5,#3e00c7,#3d00c8,#3c00c9,#3b00cb,#3a00cd,#3900cf,#3700d2,#3500d5,#3200d9,#2e00df,#2a00e5,#2500ea,#2200ec,#1e00ee,#1d00ee,#1d00ee,#1c00ef,#1b00f0,#1400f3,#1000f6,#0e00f7,#0800fa,#0001ff,#0006ff,#000aff,#000dff,#0015ff,#001cff,#0022ff,#0025ff)"></div>
<div style="background:linear-gradient(90deg,#0200fe,#0005ff,#0012ff,#001bff,#0027ff,#0032ff,#003cff,#0043ff,#004fff,#0058ff,#0061ff,#006fff,#0072ff,#0078ff,#0086ff,#008aff,#008cff,#0095ff,#00a0ff,#00a3ff,#00a8ff,#00b4ff,#00b8ff,#00bbff,#00bfff,#00c6ff,#00ccff,#00cfff,#00d2ff,#00d7ff,#00dcff,#00dfff,#00dbff,#00ceff,#00beff,#00b4ff,#00afff,#00acff,#00abff,#00abff,#00acff,#00afff,#00b4ff,#00bbff,#00c4ff,#00d2ff,#00e9ff,#00ffe8,#00ffc1,#00ffbf,#00ffbe,#00ffbd,#00ffbb,#00ffb9,#00ffb6,#00ffb3,#00ffb0,#00ffac,#00ffa8,#00ffa4,#00ff9f,#00ff9a,#00ff95,#00ff91,#00ff8c,#00ff88,#00ff82,#00ff7d,#00ff7b,#00ff7f,#00ff84,#00ff88,#00ff95,#00ff99,#00ff9d,#00ffae,#00ffb5,#00ffbb,#00ffd1,#00ffd9,#00ffe2,#00fff8,#00fdff,#00f0ff,#00ddff,#00d7ff,#00caff,#00b8ff,#00b4ff,#00b1ff,#00a0ff,#0095ff,#0094ff,#0093ff,#008eff,#0082ff,#0080ff,#007fff,#007fff,#007bff,#0075ff,#0073ff,#0071ff,#0070ff,#006dff,#0068ff,#0065ff,#0062ff,#005fff,#005bff,#0056ff,#0050ff,#004bff,#0044ff,#003dff,#0034ff,#002aff,#0020ff,#0014ff,#0008ff,#0300fd,#0c00f8,#1600f2,#1d00ee,#2700e9,#2f00de,#3200d9,#3600d4,#3900cf,#3c00cb,#3e00c7,#3f00c5,#4000c4,#4000c4,#4000c3,#4100c3,#4100c2,#4200c1,#4200c0,#4300bf,#4400be,#4400bd,#4500bd,#4500bc,#4600bb,#4600bb,#4600bb,#4600ba,#4600ba,#4700ba,#4700ba,#4600ba,#4600bb,#4600bb,#4600bb,#4600bb,#4600bc,#4500bc,#4500bc,#4500bd,#4500bd,#4400bd,#4400be,#4400be,#4400be,#4400be,#4400be,#4400bf,#4300bf,#4300bf,#4300c0,#4200c1,#4200c2,#4100c3,#4000c4,#4000c5,#3f00c6,#3e00c7,#3d00c9,#3b00cb,#3a00cd,#3800d0,#3500d4,#3200d8,#2f00dd,#2c00e2,#2900e6,#2700e9,#2600e9,#2600e9,#2500ea,#2400ea,#2100ec,#2000ed,#1f00ed,#1b00ef,#1600f2,#1500f3,#1400f3,#1300f4,#0b00f9,#0600fb,#0400fd,#0300fd)"></div>
<div style="background:linear-gradient(90deg,#1a00f0,#1500f3,#0e00f7,#0a00f9,#0001ff,#0009ff,#0015ff,#001eff,#0028ff,#0033ff,#003cff,#0047ff,#004dff,#0055ff,#0061ff,#0065ff,#0068ff,#0073ff,#007dff,#007eff,#0083ff,#0092ff,#0095ff,#0096ff,#0099ff,#00a1ff,#00abff,#00adff,#00afff,#00b2ff,#00b6ff,#00beff,#00bdff,#00b5ff,#00abff,#00a4ff,#00a2ff,#00a0ff,#00a0ff,#00a0ff,#00a1ff,#00a4ff,#00a8ff,#00aeff,#00b6ff,#00c2ff,#00d6ff,#00feff,#00ffd3,#00ffc6,#00ffc2,#00ffc0,#00ffbd,#00ffbb,#00ffba,#00ffb8,#00ffb7,#00ffb4,#00ffb0,#00ffad,#00ffaa,#00ffa7,#00ffa4,#00ffa2,#00ffa1,#00ffa1,#00ff9e,#00ff9b,#00ff9b,#00ffa4,#00ffac,#00ffaf,#00ffbe,#00ffc7,#00ffca,#00ffd8,#00ffe9,#00fff0,#00faff,#00edff,#00e3ff,#00ceff,#00c5ff,#00b9ff,#00a6ff,#00a2ff,#009aff,#008aff,#0088ff,#0086ff,#0080ff,#0079ff,#0078ff,#0078ff,#0076ff,#0071ff,#006fff,#006eff,#006dff,#006aff,#0067ff,#0064ff,#0062ff,#005fff,#005cff,#0058ff,#0054ff,#0050ff,#004cff,#0047ff,#0041ff,#003bff,#0034ff,#002dff,#0025ff,#001bff,#0011ff,#0006ff,#0500fc,#0d00f7,#1500f3,#1f00ed,#2700e9,#2f00de,#3700d2,#3e00c7,#4000c5,#4000c4,#4100c2,#4200c1,#4300bf,#4400bf,#4400bf,#4400bf,#4400bf,#4400be,#4400be,#4500bd,#4500bc,#4600bc,#4600bb,#4600bb,#4700ba,#4700ba,#4700b9,#4700b9,#4700b9,#4700b9,#4700b9,#4700b9,#4700b9,#4700b9,#4700b9,#4700b9,#4700ba,#4700ba,#4700ba,#4700ba,#4600ba,#4600bb,#4600bb,#4600bb,#4600bb,#4600bc,#4500bc,#4500bc,#4500bc,#4500bc,#4500bd,#4500bd,#4400bd,#4400be,#4300bf,#4300c0,#4200c1,#4200c2,#4100c3,#4000c4,#3f00c5,#3e00c7,#3d00c9,#3b00cb,#3900ce,#3700d2,#3400d6,#3100da,#2f00dd,#2e00df,#2d00e1,#2c00e1,#2c00e2,#2b00e4,#2900e6,#2900e7,#2800e8,#2600e9,#2400ea,#2300eb,#2300eb,#2100ec,#1d00ee,#1b00ef,#1b00f0,#1b00f0)"></div>
<div style="background:linear-gradient(90deg,#2500ea,#2200eb,#1f00ed,#1d00ee,#1600f2,#1400f4,#0b00f9,#0500fc,#0002ff,#000eff,#0015ff,#0020ff,#0028ff,#002fff,#0038ff,#003fff,#0044ff,#004dff,#0055ff,#005aff,#0061ff,#006dff,#006fff,#0071ff,#0074ff,#0082ff,#0088ff,#0089ff,#008aff,#008bff,#0090ff,#009dff,#009eff,#009aff,#0096ff,#0093ff,#0095ff,#0095ff,#0095ff,#0095ff,#0096ff,#0098ff,#009cff,#00a1ff,#00a7ff,#00b0ff,#00bfff,#00dbff,#00ffff,#00ffe8,#00ffde,#00ffd6,#00ffc9,#00ffc8,#00ffc6,#00ffc5,#00ffc4,#00ffc1,#00ffb9,#00ffb7,#00ffb6,#00ffb4,#00ffb3,#00ffb2,#00ffb6,#00ffbd,#00ffbd,#00ffbd,#00ffbe,#00ffc8,#00ffd6,#00ffdb,#00ffe7,#00fff7,#00ffff,#00f2ff,#00dfff,#00d5ff,#00c2ff,#00b5ff,#00aeff,#0099ff,#0093ff,#008dff,#007fff,#007eff,#007cff,#0075ff,#0072ff,#0070ff,#006eff,#006bff,#0069ff,#0068ff,#0066ff,#0064ff,#0061ff,#005fff,#005dff,#005bff,#0058ff,#0054ff,#0051ff,#004eff,#004aff,#0046ff,#0041ff,#003dff,#0038ff,#0032ff,#002cff,#0025ff,#001eff,#0016ff,#000dff,#0003ff,#0600fc,#0e00f7,#1700f2,#1e00ee,#2700e8,#2f00dd,#3700d1,#3e00c8,#4300c0,#4500bc,#4500bc,#4500bc,#4500bc,#4500bc,#4500bc,#4600bc,#4600bc,#4600bb,#4600bb,#4600bb,#4700ba,#4700ba,#4700b9,#4700b9,#4700b9,#4800b9,#4800b8,#4800b8,#4800b8,#4800b8,#4800b8,#4800b8,#4800b8,#4800b8,#4800b8,#4800b8,#4800b8,#4800b8,#4800b8,#4800b8,#4800b9,#4800b9,#4700b9,#4700b9,#4700b9,#4700ba,#4700ba,#4700ba,#4700ba,#4700ba,#4600ba,#4600bb,#4600bb,#4600bb,#4600bb,#4500bc,#4500bd,#4500bd,#4400be,#4400bf,#4300bf,#4200c0,#4200c2,#4100c3,#4000c4,#3e00c6,#3d00c9,#3b00cb,#3900cf,#3700d2,#3500d4,#3400d6,#3300d7,#3200d8,#3200da,#3100db,#2f00dd,#2f00de,#2e00df,#2d00e1,#2c00e2,#2b00e3,#2a00e4,#2900e6,#2800e8,#2700e9,#2600e9,#2600e9)"></div>
<div style="background:linear-gradient(90deg,#2c00e3,#2a00e5,#2800e8,#2600e9,#2300eb,#2200ec,#1d00ee,#1b00f0,#1600f2,#0f00f6,#0c00f8,#0300fd,#0003ff,#0008ff,#0010ff,#001aff,#001fff,#0025ff,#002eff,#0035ff,#003bff,#0042ff,#0045ff,#0049ff,#0050ff,#005cff,#0060ff,#0061ff,#0061ff,#0063ff,#006fff,#007aff,#007bff,#007bff,#007bff,#007cff,#0086ff,#0088ff,#0088ff,#0088ff,#0089ff,#008bff,#0091ff,#0094ff,#0097ff,#009dff,#00a5ff,#00b5ff,#00ceff,#00e2ff,#00ecff,#00f5ff,#00fffb,#00fff9,#00fff5,#00ffef,#00ffed,#00ffe4,#00ffd4,#00ffd3,#00ffd2,#00ffd0,#00ffce,#00ffce,#00ffd2,#00ffe2,#00ffe7,#00ffea,#00ffee,#00fff7,#00f9ff,#00eeff,#00e4ff,#00d5ff,#00c7ff,#00bdff,#00a8ff,#00a0ff,#0092ff,#0087ff,#0084ff,#007bff,#0075ff,#0072ff,#006cff,#006aff,#0068ff,#0064ff,#0062ff,#0060ff,#005eff,#005cff,#005aff,#0059ff,#0057ff,#0055ff,#0052ff,#0050ff,#004eff,#004bff,#0047ff,#0044ff,#0040ff,#003dff,#0038ff,#0034ff,#002fff,#0029ff,#0024ff,#001eff,#0017ff,#000fff,#0007ff,#0100ff,#0800fb,#0f00f6,#1600f3,#1e00ee,#2700e9,#2f00de,#3700d2,#3e00c7,#4300bf,#4500bd,#4600bb,#4600bb,#4600bb,#4600ba,#4700ba,#4700ba,#4700ba,#4700b9,#4700b9,#4800b9,#4800b8,#4800b8,#4800b8,#4800b8,#4800b8,#4800b8,#4800b7,#4800b7,#4800b7,#4800b7,#4800b7,#4800b7,#4800b7,#4800b7,#4800b7,#4800b7,#4800b7,#4800b7,#4800b7,#4800b7,#4800b7,#4800b7,#4800b7,#4800b8,#4800b8,#4800b8,#4800b8,#4800b8,#4800b8,#4800b8,#4800b9,#4800b9,#4700b9,#4700b9,#4700b9,#4700b9,#4700ba,#4700ba,#4600ba,#4600bb,#4600bb,#4500bc,#4500bc,#4500bd,#4400be,#4300bf,#4200c0,#4100c2,#4000c4,#3f00c6,#3d00c8,#3c00ca,#3b00cc,#3a00ce,#3900cf,#3800cf,#3700d1,#3600d2,#3600d4,#3500d5,#3400d6,#3300d7,#3200d9,#3100da,#3000db,#3000dd,#2f00de,#2e00df,#2d00e1,#2c00e2)"></div>
<div style="background:linear-gradient(90deg,#3200da,#3000dd,#2d00e0,#2c00e3,#2a00e5,#2900e7,#2700e9,#2500ea,#2200eb,#2000ed,#1f00ed,#1800f1,#1600f3,#1400f3,#0f00f6,#0700fb,#0500fc,#0300fd,#0008ff,#000fff,#0014ff,#0018ff,#001aff,#0020ff,#002aff,#0032ff,#0035ff,#0036ff,#0037ff,#0039ff,#0043ff,#004dff,#0051ff,#0052ff,#0053ff,#0057ff,#0066ff,#006bff,#006dff,#006dff,#006eff,#0074ff,#0081ff,#0082ff,#0084ff,#0085ff,#0088ff,#008eff,#00a2ff,#00aeff,#00b4ff,#00b8ff,#00beff,#00c0ff,#00c9ff,#00d6ff,#00daff,#00e1ff,#00ecff,#00eeff,#00efff,#00f7ff,#00fdff,#00fdff,#00faff,#00efff,#00e9ff,#00e0ff,#00d9ff,#00d3ff,#00c8ff,#00b7ff,#00b0ff,#00a5ff,#0094ff,#008fff,#007fff,#007aff,#0075ff,#006dff,#006aff,#0066ff,#0061ff,#005eff,#005bff,#0058ff,#0056ff,#0053ff,#0051ff,#004fff,#004eff,#004cff,#004bff,#0049ff,#0047ff,#0045ff,#0043ff,#0040ff,#003eff,#003bff,#0037ff,#0033ff,#002fff,#002bff,#0027ff,#0021ff,#001cff,#0016ff,#0010ff,#0009ff,#0002ff,#0400fc,#0b00f9,#1000f6,#1700f2,#1c00ef,#2200eb,#2c00e2,#3600d2,#3e00c8,#4300c0,#4500bc,#4600bb,#4600bb,#4700ba,#4700b9,#4700b9,#4800b9,#4800b8,#4800b8,#4800b8,#4800b7,#4800b7,#4800b7,#4800b7,#4800b7,#4800b7,#4800b7,#4800b7,#4800b7,#4800b7,#4800b6,#4800b6,#4800b6,#4800b6,#4800b6,#4800b6,#4800b6,#4800b6,#4800b6,#4800b6,#4800b6,#4800b6,#4800b7,#4800b7,#4800b7,#4800b7,#4800b7,#4800b7,#4800b7,#4800b7,#4800b7,#4800b7,#4800b7,#4800b7,#4800b7,#4800b8,#4800b8,#4800b8,#4800b8,#4800b8,#4800b8,#4800b9,#4700b9,#4700b9,#4700ba,#4700ba,#4600bb,#4600bb,#4500bc,#4500bd,#4400be,#4300bf,#4200c1,#4100c2,#4000c4,#3f00c5,#3f00c6,#3e00c7,#3e00c8,#3d00c9,#3c00ca,#3b00cb,#3b00cc,#3a00cd,#3a00ce,#3900cf,#3800d1,#3700d2,#3600d3,#3500d4,#3400d5,#3300d7,#3200d9)"></div>
<div style="background:linear-gradient(90deg,#3800d0,#3500d4,#3300d8,#3100db,#2f00dd,#2e00df,#2d00e1,#2b00e3,#2a00e5,#2900e7,#2800e8,#2500ea,#2400ea,#2300eb,#1f00ed,#1c00ef,#1b00ef,#1b00f0,#1200f4,#0e00f7,#0d00f7,#0c00f8,#0b00f9,#0600fc,#0004ff,#0008ff,#000aff,#000bff,#000bff,#000dff,#0013ff,#001fff,#0026ff,#0027ff,#0029ff,#002cff,#0037ff,#0040ff,#0043ff,#0044ff,#0046ff,#004fff,#005cff,#0060ff,#0060ff,#0061ff,#0063ff,#006bff,#007bff,#007eff,#007fff,#0081ff,#0083ff,#0085ff,#0092ff,#00a1ff,#00a3ff,#00a6ff,#00aaff,#00abff,#00adff,#00bcff,#00c5ff,#00c6ff,#00c3ff,#00beff,#00b9ff,#00acff,#00a4ff,#00a1ff,#009bff,#008bff,#0084ff,#0080ff,#0073ff,#006dff,#0065ff,#005fff,#005cff,#0057ff,#0053ff,#0051ff,#004eff,#004bff,#0048ff,#0046ff,#0044ff,#0041ff,#0040ff,#003eff,#003dff,#003cff,#003bff,#003aff,#0038ff,#0036ff,#0033ff,#0031ff,#002eff,#002bff,#0027ff,#0023ff,#001fff,#001aff,#0015ff,#0010ff,#000aff,#0004ff,#0200fe,#0800fa,#0d00f8,#1300f4,#1900f1,#1d00ee,#2100ec,#2700e9,#2d00e1,#3700d2,#4300c0,#4500bd,#4600bb,#4700ba,#4700ba,#4700b9,#4800b8,#4800b8,#4800b7,#4800b7,#4800b7,#4800b6,#4800b6,#4800b6,#4800b6,#4800b6,#4800b6,#4800b6,#4800b6,#4800b6,#4800b6,#4800b6,#4800b6,#4800b6,#4800b6,#4800b6,#4800b6,#4800b6,#4800b6,#4800b6,#4800b6,#4800b6,#4800b6,#4800b6,#4800b6,#4800b6,#4800b6,#4800b6,#4800b6,#4800b6,#4800b6,#4800b6,#4800b6,#4800b6,#4800b6,#4800b6,#4800b6,#4800b6,#4800b6,#4800b6,#4800b7,#4800b7,#4800b7,#4800b7,#4800b7,#4800b7,#4800b7,#4800b8,#4800b8,#4800b8,#4700b9,#4700b9,#4700ba,#4600ba,#4600bb,#4500bc,#4400bd,#4400bf,#4300c0,#4300c0,#4200c1,#4200c1,#4100c2,#4100c3,#4000c4,#4000c4,#3f00c5,#3f00c5,#3e00c6,#3d00c8,#3d00c9,#3c00ca,#3c00cb,#3b00cc,#3a00ce,#3900cf)"></div>
<div style="background:linear-gradient(90deg,#3e00c8,#3b00cb,#3900cf,#3700d2,#3500d4,#3400d6,#3200d8,#3100da,#3000dc,#2f00de,#2e00df,#2d00e1,#2c00e2,#2b00e4,#2900e7,#2800e8,#2800e8,#2700e9,#2200eb,#2100ec,#2100ec,#2100ec,#2000ed,#1b00f0,#1600f2,#1500f3,#1500f3,#1500f3,#1400f3,#1400f4,#1200f5,#0800fa,#0300fd,#0200fe,#0200fe,#0000ff,#0006ff,#0014ff,#0018ff,#0019ff,#001bff,#0022ff,#002fff,#0034ff,#0036ff,#0037ff,#003bff,#0045ff,#0050ff,#0052ff,#0053ff,#0054ff,#0058ff,#005fff,#006eff,#0079ff,#007eff,#0081ff,#0084ff,#0086ff,#0087ff,#0091ff,#0095ff,#0095ff,#0095ff,#0093ff,#0092ff,#008aff,#0083ff,#0080ff,#007cff,#0073ff,#0068ff,#0061ff,#0058ff,#0051ff,#004bff,#0046ff,#0043ff,#003fff,#003dff,#003bff,#0039ff,#0037ff,#0035ff,#0033ff,#0031ff,#0030ff,#002eff,#002dff,#002cff,#002cff,#002bff,#002aff,#0029ff,#0027ff,#0024ff,#0021ff,#001eff,#001bff,#0017ff,#0013ff,#000eff,#0009ff,#0004ff,#0100fe,#0600fc,#0a00f9,#1000f6,#1600f3,#1a00f0,#1f00ed,#2300eb,#2800e8,#2b00e4,#2f00de,#3500d5,#3e00c7,#4600bc,#4600ba,#4700b9,#4800b8,#4800b8,#4800b7,#4800b6,#4800b6,#4800b5,#4800b5,#4800b5,#4800b5,#4800b5,#4800b5,#4900b5,#4900b5,#4900b5,#4900b5,#4900b5,#4900b5,#4900b5,#4900b5,#4900b5,#4900b5,#4900b5,#4900b5,#4900b5,#4900b5,#4900b5,#4900b5,#4900b5,#4900b5,#4900b5,#4900b5,#4900b5,#4900b5,#4900b5,#4900b5,#4900b5,#4900b5,#4800b5,#4800b5,#4800b5,#4800b5,#4800b5,#4800b5,#4800b5,#4800b5,#4800b5,#4800b5,#4800b5,#4800b5,#4800b5,#4800b5,#4800b6,#4800b6,#4800b6,#4800b6,#4800b6,#4800b6,#4800b6,#4800b7,#4800b7,#4800b7,#4800b8,#4800b8,#4700b9,#4700ba,#4600bb,#4600bb,#4600bb,#4500bc,#4500bd,#4400bd,#4400be,#4400be,#4400bf,#4300bf,#4300c0,#4200c1,#4200c2,#4100c2,#4100c2,#4000c3,#3f00c5,#3e00c6)"></div>
<div style="background:linear-gradient(90deg,#4200c1,#4000c4,#3e00c7,#3c00ca,#3b00cc,#3900ce,#3800cf,#3700d1,#3600d2,#3500d4,#3400d5,#3300d7,#3200d8,#3100da,#3000db,#3000dd,#2f00dd,#2e00df,#2d00e1,#2c00e2,#2c00e3,#2b00e3,#2a00e4,#2800e8,#2700e9,#2600e9,#2600e9,#2600e9,#2600e9,#2600e9,#2400ea,#1e00ee,#1c00ef,#1c00ef,#1c00ef,#1c00ef,#1900f1,#0e00f7,#0c00f8,#0c00f8,#0b00f9,#0800fb,#0005ff,#000aff,#000bff,#000cff,#0010ff,#001dff,#0025ff,#0027ff,#0028ff,#002bff,#0033ff,#003fff,#004fff,#005fff,#006aff,#0073ff,#0079ff,#007dff,#0080ff,#0083ff,#0084ff,#0084ff,#0084ff,#0083ff,#0082ff,#007fff,#0079ff,#0072ff,#0068ff,#005bff,#004eff,#0044ff,#003bff,#0035ff,#0031ff,#002dff,#002aff,#0027ff,#0026ff,#0025ff,#0025ff,#0023ff,#0022ff,#0020ff,#001fff,#001eff,#001dff,#001cff,#001cff,#001cff,#001cff,#001bff,#001aff,#0018ff,#0015ff,#0012ff,#000fff,#000bff,#0007ff,#0003ff,#0100fe,#0500fc,#0900fa,#0e00f7,#1300f4,#1700f2,#1c00ef,#2100ec,#2600e9,#2900e6,#2d00e1,#3000dc,#3300d8,#3600d2,#3b00cb,#4200c1,#4700ba,#4800b8,#4800b7,#4800b6,#4900b5,#4900b4,#4900b4,#4900b4,#4900b3,#4900b3,#4900b3,#4900b3,#4900b3,#4900b3,#4900b3,#4900b3,#4900b3,#4900b3,#4900b3,#4900b3,#4900b3,#4900b3,#4900b3,#4900b3,#4900b3,#4900b3,#4900b3,#4900b3,#4900b3,#4900b3,#4900b3,#4900b3,#4900b3,#4900b3,#4900b3,#4900b3,#4900b3,#4900b3,#4900b3,#4900b3,#4900b3,#4900b3,#4900b3,#4900b3,#4900b3,#4900b3,#4900b3,#4900b3,#4900b3,#4900b3,#4900b3,#4900b3,#4900b4,#4900b4,#4900b4,#4900b4,#4900b4,#4900b4,#4900b4,#4900b4,#4900b4,#4900b4,#4900b4,#4900b5,#4900b5,#4800b5,#4800b6,#4800b6,#4800b6,#4800b7,#4800b7,#4800b7,#4800b8,#4800b8,#4800b9,#4700b9,#4700b9,#4700b9,#4700ba,#4600bb,#4600bb,#4600bc,#4500bc,#4500bd,#4400be,#4300c0)"></div>
<div style="background:linear-gradient(90deg,#4700ba,#4500bd,#4300c0,#4100c2,#4000c4,#3f00c5,#3e00c7,#3d00c8,#3d00c9,#3c00ca,#3b00cc,#3a00cd,#3900ce,#3900cf,#3800d0,#3700d2,#3600d2,#3600d4,#3500d5,#3400d6,#3400d7,#3300d7,#3200d9,#3100da,#3000db,#3000dc,#3000dc,#3000dc,#3000dc,#2f00dd,#2e00df,#2c00e2,#2b00e3,#2b00e3,#2b00e3,#2b00e4,#2900e7,#2400ea,#2400eb,#2300eb,#2300eb,#2000ed,#1700f2,#1600f3,#1500f3,#1500f3,#1300f4,#0700fb,#0400fd,#0300fd,#0200fe,#0100ff,#000bff,#001bff,#0031ff,#0047ff,#005aff,#0069ff,#0073ff,#007aff,#007fff,#0080ff,#0082ff,#0082ff,#0082ff,#0081ff,#007eff,#0079ff,#0072ff,#0066ff,#0057ff,#0045ff,#0034ff,#0026ff,#001dff,#0018ff,#0015ff,#0012ff,#0010ff,#000fff,#000eff,#000fff,#0010ff,#0010ff,#000fff,#000eff,#000dff,#000cff,#000bff,#000bff,#000cff,#000dff,#000dff,#000cff,#000bff,#0009ff,#0006ff,#0003ff,#0000ff,#0300fd,#0600fc,#0900fa,#0d00f8,#1100f5,#1500f3,#1a00f0,#1e00ee,#2400ea,#2800e8,#2c00e1,#3000dc,#3300d8,#3500d4,#3800d0,#3b00cc,#3e00c8,#4200c2,#4600bb,#4800b6,#4900b4,#4900b3,#4900b2,#4900b1,#4900b1,#4900b1,#4900b1,#4900b1,#4900b1,#4900b1,#4900b1,#4900b1,#4900b1,#4900b1,#4900b1,#4900b1,#4900b1,#4900b1,#4900b1,#4900b1,#4900b1,#4900b1,#4900b1,#4900b1,#4900b1,#4900b1,#4900b1,#4900b1,#4900b1,#4900b1,#4900b1,#4900b1,#4900b1,#4900b1,#4900b1,#4900b1,#4900b1,#4900b1,#4900b1,#4900b1,#4900b1,#4900b1,#4900b1,#4900b1,#4900b1,#4900b1,#4900b1,#4900b1,#4900b1,#4900b1,#4900b1,#4900b1,#4900b1,#4900b1,#4900b1,#4900b1,#4900b1,#4900b1,#4900b1,#4900b1,#4900b1,#4900b1,#4900b2,#4900b2,#4900b2,#4900b2,#4900b2,#4900b2,#4900b3,#4900b3,#4900b3,#4900b3,#4900b3,#4900b4,#4900b4,#4900b4,#4900b4,#4900b4,#4900b5,#4800b5,#4800b6,#4800b6,#4800b7,#4800b8,#4700b9)"></div>
<div style="background:linear-gradient(90deg,#4900b4,#4800b6,#4700b9,#4600bb,#4500bc,#4400bd,#4400be,#4300bf,#4200c0,#4200c1,#4100c2,#4100c3,#4000c4,#3f00c5,#3f00c6,#3e00c7,#3e00c7,#3d00c8,#3d00c9,#3c00ca,#3c00cb,#3b00cb,#3b00cc,#3a00cd,#3900ce,#3900cf,#3900cf,#3900cf,#3800cf,#3800d0,#3700d1,#3600d3,#3600d4,#3500d4,#3500d4,#3500d5,#3300d7,#3200d9,#3100da,#3100db,#3000db,#2e00de,#2b00e3,#2b00e4,#2b00e4,#2a00e5,#2800e8,#2000ed,#1f00ed,#1f00ed,#1e00ee,#1b00ef,#1100f5,#0700fb,#0011ff,#0030ff,#004bff,#005fff,#006dff,#0076ff,#007cff,#007fff,#0081ff,#0082ff,#0081ff,#007fff,#007bff,#0075ff,#006bff,#005bff,#0046ff,#002dff,#0017ff,#0006ff,#0100fe,#0400fd,#0500fc,#0600fb,#0700fb,#0700fb,#0700fb,#0500fc,#0300fd,#0300fd,#0300fd,#0400fd,#0400fd,#0400fc,#0500fc,#0500fc,#0400fd,#0200fe,#0200fe,#0200fe,#0200fe,#0400fd,#0600fb,#0800fa,#0a00f9,#0d00f7,#1000f6,#1400f3,#1800f1,#1e00ee,#2200eb,#2900e6,#2c00e1,#3100db,#3400d6,#3700d1,#3a00cd,#3c00ca,#3e00c7,#4000c4,#4200c1,#4400be,#4700b9,#4900b4,#4900b1,#4900af,#4a00ae,#4a00ae,#4a00ae,#4a00ae,#4a00ae,#4a00ae,#4a00ae,#4a00ae,#4a00ae,#4a00ae,#4a00ae,#4a00ae,#4a00ae,#4a00ae,#4a00ae,#4a00ae,#4a00ae,#4a00ae,#4a00ae,#4a00ae,#4a00ae,#4a00ae,#4a00ae,#4a00ae,#4a00ae,#4a00ae,#4a00ae,#4a00ae,#4a00ae,#4a00ae,#4a00ae,#4a00ae,#4a00ae,#4a00ae,#4a00ae,#4a00ae,#4a00ae,#4a00ae,#4a00ae,#4a00ae,#4a00ae,#4a00ae,#4a00ae,#4a00ae,#4a00ae,#4a00ae,#4a00ae,#4a00ae,#4a00ae,#4a00ae,#4a00ae,#4a00ae,#4a00ae,#4a00ae,#4a00ae,#4a00ae,#4a00ae,#4a00ae,#4a00ae,#4a00ae,#4a00ae,#4a00ae,#4a00ae,#4a00ae,#4a00ae,#4a00ae,#4a00ae,#4a00ae,#4a00ae,#4a00af,#4a00af,#4a00af,#4900af,#4900af,#4900af,#4900af,#4900af,#4900b0,#4900b0,#4900b0,#4900b0,#4900b1,#4900b2,#4900b3)"></div>
<div style="background:linear-gradient(90deg,#4a00ae,#4900b0,#4900b2,#4900b4,#4800b5,#4800b6,#4800b7,#4800b8,#4800b8,#4700b9,#4700ba,#4700ba,#4600bb,#4600bb,#4500bc,#4500bc,#4500bd,#4400be,#4400be,#4400bf,#4300bf,#4300c0,#4300c0,#4200c1,#4200c1,#4100c2,#4100c2,#4100c2,#4100c2,#4100c3,#4000c3,#4000c4,#3f00c5,#3f00c5,#3f00c6,#3e00c7,#3e00c7,#3d00c9,#3c00ca,#3c00ca,#3b00cb,#3b00cc,#3900ce,#3800cf,#3800d0,#3800d0,#3600d3,#3300d7,#3300d8,#3200d8,#3100da,#2c00e3,#2100ec,#1900f0,#0900fa,#0018ff,#003dff,#0056ff,#0067ff,#0072ff,#0079ff,#007dff,#007fff,#0080ff,#007fff,#007dff,#0078ff,#0071ff,#0064ff,#0051ff,#0036ff,#0013ff,#0400fc,#1100f5,#1500f3,#1600f2,#1600f2,#1600f2,#1700f2,#1700f2,#1700f2,#1300f4,#1100f5,#1100f5,#1100f5,#1100f5,#1100f5,#1100f5,#1200f5,#1100f5,#1000f6,#0d00f8,#0c00f8,#0d00f8,#0d00f8,#0e00f7,#1100f5,#1300f4,#1500f3,#1a00f0,#1e00ed,#2400ea,#2b00e4,#2f00de,#3400d7,#3800d1,#3b00cc,#3d00c8,#4000c5,#4100c2,#4300bf,#4500bd,#4600bb,#4700b9,#4800b7,#4900b5,#4900b2,#4a00ae,#4a00ac,#4a00ab,#4a00aa,#4a00aa,#4a00aa,#4a00aa,#4a00aa,#4a00aa,#4a00aa,#4a00aa,#4a00aa,#4a00aa,#4a00aa,#4a00aa,#4a00aa,#4a00aa,#4a00aa,#4a00aa,#4a00aa,#4a00aa,#4a00aa,#4a00aa,#4a00aa,#4a00aa,#4a00aa,#4a00aa,#4a00aa,#4a00aa,#4a00aa,#4a00aa,#4a00aa,#4a00aa,#4a00aa,#4a00aa,#4a00aa,#4a00aa,#4a00aa,#4a00aa,#4a00aa,#4a00aa,#4a00aa,#4a00aa,#4a00aa,#4a00aa,#4a00aa,#4a00aa,#4a00aa,#4a00aa,#4a00aa,#4a00aa,#4a00aa,#4a00aa,#4a00aa,#4a00aa,#4a00aa,#4a00aa,#4a00aa,#4a00aa,#4a00aa,#4a00aa,#4a00aa,#4a00aa,#4a00aa,#4a00aa,#4a00aa,#4a00aa,#4a00aa,#4a00aa,#4a00aa,#4a00aa,#4a00aa,#4a00aa,#4a00aa,#4a00aa,#4a00aa,#4a00aa,#4a00ab,#4a00ab,#4a00ab,#4a00ab,#4a00ab,#4a00ab,#4a00ab,#4a00ac,#4a00ad,#4a00ae)"></div>
<div style="background:linear-gradient(90deg,#4a00aa,#4a00ab,#4a00ad,#4a00ae,#4900af,#4900b0,#4900b0,#4900b1,#4900b1,#4900b2,#4900b2,#4900b3,#4900b3,#4900b3,#4900b4,#4900b4,#4900b5,#4900b5,#4900b5,#4800b5,#4800b6,#4800b6,#4800b6,#4800b6,#4800b6,#4800b7,#4800b7,#4800b7,#4800b7,#4800b8,#4800b7,#4800b8,#4800b8,#4800b9,#4700b9,#4700b9,#4700b9,#4700ba,#4600ba,#4600bb,#4600bb,#4600bc,#4500bc,#4500bd,#4400bd,#4400be,#4400bf,#4300c0,#4200c1,#4200c1,#4000c4,#3800cf,#2900e6,#2000ed,#1900f1,#0002ff,#0032ff,#004fff,#0063ff,#006fff,#0077ff,#007bff,#007eff,#007fff,#007eff,#007bff,#0076ff,#006dff,#005fff,#004aff,#0027ff,#0600fb,#1600f2,#1b00ef,#1c00ef,#1c00ef,#1c00ef,#1c00ef,#1c00ef,#1c00ef,#1c00ef,#1b00f0,#1a00f0,#1a00f0,#1a00f0,#1a00f0,#1a00f0,#1a00f0,#1b00f0,#1a00f0,#1900f1,#1700f2,#1600f2,#1600f2,#1700f2,#1700f2,#1a00f0,#2300eb,#2b00e3,#3000db,#3700d1,#3b00cc,#4000c5,#4200c1,#4400bd,#4600bb,#4800b9,#4800b7,#4800b5,#4900b4,#4900b3,#4900b2,#4900b1,#4900b0,#4900af,#4a00ad,#4a00ab,#4a00a9,#4b00a7,#4b00a6,#4b00a6,#4b00a6,#4b00a6,#4b00a6,#4b00a6,#4b00a6,#4b00a6,#4b00a6,#4b00a6,#4b00a6,#4b00a6,#4b00a6,#4b00a6,#4b00a6,#4b00a6,#4b00a6,#4b00a6,#4b00a6,#4b00a6,#4b00a6,#4b00a6,#4b00a6,#4b00a6,#4b00a6,#4b00a6,#4b00a6,#4b00a6,#4b00a6,#4b00a6,#4b00a6,#4b00a6,#4b00a6,#4b00a6,#4b00a6,#4b00a6,#4b00a6,#4b00a6,#4b00a6,#4b00a6,#4b00a6,#4b00a6,#4b00a6,#4b00a6,#4b00a6,#4b00a6,#4b00a6,#4b00a6,#4b00a6,#4b00a6,#4b00a6,#4b00a6,#4b00a6,#4b00a6,#4b00a6,#4b00a6,#4b00a6,#4b00a6,#4b00a6,#4b00a6,#4b00a6,#4b00a6,#4b00a6,#4b00a6,#4b00a6,#4b00a6,#4b00a6,#4b00a6,#4b00a6,#4b00a6,#4b00a6,#4b00a6,#4b00a6,#4b00a6,#4b00a6,#4b00a6,#4b00a6,#4b00a6,#4b00a6,#4b00a6,#4b00a7,#4b00a7,#4b00a7,#4b00a8,#4a00a9)"></div>
<div style="background:linear-gradient(90deg,#4b00a6,#4b00a7,#4b00a9,#4a00a9,#4a00aa,#4a00aa,#4a00ab,#4a00ab,#4a00ab,#4a00ac,#4a00ac,#4a00ac,#4a00ac,#4a00ad,#4a00ad,#4a00ad,#4a00ae,#4a00ae,#4a00ae,#4a00ae,#4a00af,#4a00af,#4a00af,#4a00af,#4900af,#4900af,#4900af,#4900af,#4900af,#4900af,#4a00af,#4a00af,#4900af,#4900af,#4900af,#4900b0,#4a00af,#4900af,#4900af,#4900af,#4900b0,#4900af,#4900af,#4900af,#4900b0,#4900b0,#4900af,#4900af,#4900b0,#4900b0,#4900b3,#4300c0,#2d00e1,#2200ec,#1d00ee,#0a00f9,#002bff,#004bff,#005fff,#006dff,#0075ff,#007aff,#007dff,#007eff,#007dff,#007aff,#0074ff,#006bff,#005cff,#0045ff,#001eff,#1500f3,#1c00ef,#1c00ef,#1c00ef,#1c00ef,#1c00ef,#1c00ef,#1c00ef,#1c00ef,#1c00ef,#1c00ef,#1c00ef,#1c00ef,#1c00ef,#1c00ef,#1c00ef,#1c00ef,#1c00ef,#1c00ef,#1c00ef,#1c00ef,#1c00ef,#1c00ef,#1c00ef,#1c00ef,#1f00ed,#3300d7,#4900b2,#4a00ae,#4a00ac,#4a00aa,#4a00ab,#4a00aa,#4a00ab,#4a00aa,#4a00aa,#4a00aa,#4a00aa,#4a00aa,#4a00aa,#4a00aa,#4a00aa,#4a00a9,#4b00a8,#4b00a7,#4b00a6,#4b00a4,#4b00a3,#4b00a3,#4b00a3,#4b00a3,#4b00a3,#4b00a3,#4b00a3,#4b00a3,#4b00a3,#4b00a3,#4b00a3,#4b00a3,#4b00a3,#4b00a3,#4b00a3,#4b00a3,#4b00a3,#4b00a3,#4b00a3,#4b00a3,#4b00a3,#4b00a3,#4b00a3,#4b00a3,#4b00a3,#4b00a3,#4b00a3,#4b00a3,#4b00a3,#4b00a3,#4b00a3,#4b00a3,#4b00a3,#4b00a3,#4b00a3,#4b00a3,#4b00a3,#4b00a3,#4b00a3,#4b00a3,#4b00a3,#4b00a3,#4b00a3,#4b00a3,#4b00a3,#4b00a3,#4b00a3,#4b00a3,#4b00a3,#4b00a3,#4b00a3,#4b00a3,#4b00a3,#4b00a3,#4b00a3,#4b00a3,#4b00a3,#4b00a3,#4b00a3,#4b00a3,#4b00a3,#4b00a3,#4b00a3,#4b00a3,#4b00a3,#4b00a3,#4b00a3,#4b00a3,#4b00a3,#4b00a3,#4b00a3,#4b00a3,#4b00a3,#4b00a3,#4b00a3,#4b00a3,#4b00a3,#4b00a3,#4b00a3,#4b00a3,#4b00a3,#4b00a3,#4b00a3,#4b00a3,#4b00a4,#4b00a5)"></div></div></div>
<svg id="ov" width="1600" height="660" viewBox="0 0 1600 660">
<g fill="none" stroke="#000" stroke-width="1.6" stroke-linejoin="round"><path d="M240.0 53.0C240.4 53.5 240.4 55.5 242.5 56.2C244.6 57.0 249.2 57.5 252.5 57.5C255.8 57.5 260.5 57.0 262.5 56.2C264.5 55.5 264.2 53.5 264.5 53.0"/>
<path d="M322.5 53.0C323.1 53.7 325.0 56.0 326.2 57.0C327.5 58.0 326.9 58.3 330.0 58.8C333.1 59.2 338.3 59.4 345.0 59.5C351.7 59.6 361.7 59.4 370.0 59.5C378.3 59.6 386.7 59.8 395.0 60.0C403.3 60.2 411.7 60.4 420.0 60.5C428.3 60.6 435.0 60.4 445.0 60.5C455.0 60.6 467.5 60.8 480.0 61.0C492.5 61.2 509.2 61.5 520.0 61.8C530.8 62.0 536.7 62.2 545.0 62.5C553.3 62.8 565.0 63.2 570.0 63.2C575.0 63.2 571.7 63.0 575.0 62.5C578.3 62.0 585.4 61.3 590.0 60.5C594.6 59.7 599.9 58.8 602.5 57.5C605.1 56.2 605.0 53.8 605.5 53.0"/>
<path d="M185.5 132.5C185.7 130.2 185.9 127.1 187.5 125.0C189.1 122.9 191.7 121.3 195.0 120.0C198.3 118.7 203.3 117.8 207.5 117.0C211.7 116.2 215.4 115.8 220.0 115.5C224.6 115.2 230.0 115.3 235.0 115.5C240.0 115.7 245.0 116.0 250.0 116.8C255.0 117.5 260.0 118.6 265.0 120.0C270.0 121.4 275.0 123.1 280.0 125.0C285.0 126.9 290.0 129.4 295.0 131.2C300.0 133.1 305.0 135.1 310.0 136.2C315.0 137.4 320.0 137.9 325.0 138.2C330.0 138.6 335.0 138.6 340.0 138.2C345.0 137.9 350.0 137.1 355.0 136.2C360.0 135.4 365.4 134.2 370.0 133.0C374.6 131.8 378.3 130.2 382.5 128.8C386.7 127.3 390.4 125.6 395.0 124.2C399.6 122.9 405.0 121.4 410.0 120.5C415.0 119.6 420.0 119.0 425.0 118.8C430.0 118.5 435.4 118.5 440.0 118.8C444.6 119.0 448.8 119.7 452.5 120.5C456.2 121.3 459.9 122.2 462.5 123.8C465.1 125.2 467.1 127.4 468.0 129.5C468.9 131.6 468.5 133.7 468.0 136.2C467.5 138.8 466.3 142.3 465.0 145.0C463.7 147.7 461.5 150.3 460.0 152.5C458.5 154.7 454.9 156.5 455.8 158.0C456.6 159.5 461.4 160.1 465.0 161.2C468.6 162.4 473.8 163.5 477.5 165.0C481.2 166.5 485.0 167.9 487.5 170.0C490.0 172.1 491.2 174.8 492.5 177.5C493.8 180.2 494.2 183.3 495.0 186.2C495.8 189.2 495.8 192.5 497.5 195.0C499.2 197.5 501.2 199.6 505.0 201.2C508.8 202.9 515.0 203.9 520.0 205.0C525.0 206.1 530.0 206.5 535.0 208.0C540.0 209.5 545.8 211.3 550.0 213.8C554.2 216.2 557.1 219.8 560.0 222.5C562.9 225.2 565.0 227.1 567.5 230.0C570.0 232.9 572.7 236.2 575.0 240.0C577.3 243.8 579.6 248.3 581.2 252.5C582.9 256.7 584.6 261.2 585.0 265.0C585.4 268.8 585.0 272.1 583.8 275.0C582.5 277.9 580.0 280.4 577.5 282.5C575.0 284.6 571.7 286.2 568.8 287.5C565.8 288.8 562.7 288.8 560.0 290.5C557.3 292.2 555.8 294.9 552.5 297.5C549.2 300.1 544.6 303.3 540.0 306.2C535.4 309.2 530.0 312.1 525.0 315.0C520.0 317.9 515.0 321.2 510.0 323.8C505.0 326.2 500.0 328.3 495.0 330.0C490.0 331.7 485.8 332.7 480.0 333.8C474.2 334.8 467.5 335.3 460.0 336.2C452.5 337.2 444.2 338.5 435.0 339.5C425.8 340.5 415.0 341.2 405.0 342.0C395.0 342.8 385.0 343.9 375.0 344.2C365.0 344.6 354.2 344.3 345.0 344.2C335.8 344.2 328.3 344.0 320.0 343.8C311.7 343.5 302.5 343.0 295.0 342.5C287.5 342.0 281.7 341.2 275.0 340.5C268.3 339.8 261.2 339.2 255.0 338.2C248.8 337.3 242.7 336.2 237.5 335.0C232.3 333.8 227.3 332.7 223.8 331.2C220.2 329.8 217.8 328.1 216.2 326.2C214.7 324.4 214.2 322.1 214.2 320.0C214.2 317.9 214.7 315.8 216.2 313.8C217.8 311.7 220.6 309.6 223.8 307.5C226.9 305.4 231.0 303.3 235.0 301.2C239.0 299.2 246.8 295.4 247.5 295.0C248.2 294.6 239.0 299.2 239.1 299.1C239.2 299.0 245.2 296.1 248.2 294.5C251.2 293.0 254.2 291.5 257.3 290.0C260.3 288.5 263.5 287.1 266.4 285.5C269.2 283.8 272.1 282.0 274.5 280.0C277.0 278.0 278.6 275.4 280.9 273.6C283.2 271.9 285.5 270.4 288.2 269.5C290.9 268.5 293.3 268.3 297.3 267.8C301.2 267.3 307.0 266.8 311.8 266.4C316.7 265.9 321.5 265.5 326.4 265.1C331.2 264.6 336.1 264.2 340.9 263.6C345.8 263.1 351.1 262.5 355.5 261.8C359.8 261.2 364.1 260.5 367.3 259.6C370.5 258.7 373.0 257.6 374.5 256.4C376.1 255.2 376.7 253.6 376.4 252.4C376.1 251.1 374.7 249.9 372.7 248.7C370.8 247.5 367.7 246.2 364.5 245.1C361.4 243.9 357.6 243.0 353.6 241.8C349.7 240.6 345.2 239.2 340.9 237.8C336.7 236.5 332.4 235.1 328.2 233.6C323.9 232.2 319.4 230.6 315.5 229.1C311.5 227.6 307.6 226.2 304.5 224.5C301.5 222.9 298.8 220.8 297.3 219.1C295.8 217.4 296.1 216.2 295.5 214.5C294.8 212.9 294.8 210.7 293.6 209.1C292.4 207.5 290.9 206.3 288.2 205.1C285.5 203.9 281.2 203.0 277.3 201.8C273.3 200.6 268.8 199.5 264.5 197.8C260.3 196.2 255.5 193.9 251.8 191.8C248.2 189.8 245.8 187.4 242.7 185.5C239.7 183.5 237.4 182.0 233.6 180.0C229.8 178.0 224.4 175.8 220.0 173.2C215.6 170.8 211.2 167.8 207.5 165.0C203.8 162.2 200.2 159.2 197.5 156.2C194.8 153.3 193.1 150.4 191.2 147.5C189.4 144.6 187.2 141.2 186.2 138.8C185.3 136.2 185.3 134.8 185.5 132.5Z"/>
<path d="M680.0 53.0C680.4 54.2 682.5 57.4 682.5 60.0C682.5 62.6 681.7 66.2 680.0 68.8C678.3 71.2 675.8 73.2 672.5 75.0C669.2 76.8 664.6 78.2 660.0 79.5C655.4 80.8 649.6 81.7 645.0 82.5C640.4 83.3 637.1 83.7 632.5 84.5C627.9 85.3 622.1 86.4 617.5 87.5C612.9 88.6 608.3 89.6 605.0 91.2C601.7 92.9 599.0 95.2 597.5 97.5C596.0 99.8 595.8 102.5 595.8 105.0C595.8 107.5 596.2 110.0 597.5 112.5C598.8 115.0 600.8 117.7 603.8 120.0C606.7 122.3 610.2 124.2 615.0 126.2C619.8 128.3 626.7 130.4 632.5 132.5C638.3 134.6 644.6 136.7 650.0 138.8C655.4 140.8 660.4 142.9 665.0 145.0C669.6 147.1 673.8 149.0 677.5 151.2C681.2 153.5 684.6 155.6 687.5 158.8C690.4 161.9 692.3 166.2 695.0 170.0C697.7 173.8 701.9 178.3 703.8 181.2C705.6 184.2 706.2 185.2 706.2 187.5C706.2 189.8 706.5 193.0 703.8 195.0C701.0 197.0 694.4 198.0 690.0 199.5C685.6 201.0 680.8 202.4 677.5 203.8C674.2 205.1 672.1 205.8 670.0 207.5C667.9 209.2 666.2 212.1 665.0 213.8C663.8 215.4 663.8 215.6 662.5 217.5C661.2 219.4 658.3 222.7 657.5 225.0C656.7 227.3 656.2 229.4 657.5 231.2C658.8 233.1 661.2 234.8 665.0 236.2C668.8 237.7 674.6 238.8 680.0 240.0C685.4 241.2 691.7 242.3 697.5 243.8C703.3 245.2 709.2 246.9 715.0 248.8C720.8 250.6 727.1 252.9 732.5 255.0C737.9 257.1 742.5 259.2 747.5 261.2C752.5 263.3 757.5 265.4 762.5 267.5C767.5 269.6 772.5 271.9 777.5 273.8C782.5 275.6 787.5 277.2 792.5 278.8C797.5 280.3 802.9 281.8 807.5 283.0C812.1 284.2 816.5 285.2 820.0 286.2C823.5 287.3 827.3 288.5 828.8 289.5C830.2 290.5 830.2 291.3 828.8 292.0C827.3 292.7 824.0 293.3 820.0 293.8C816.0 294.2 810.8 294.3 805.0 294.5C799.2 294.7 791.2 294.7 785.0 295.0C778.8 295.3 772.5 295.4 767.5 296.2C762.5 297.1 758.5 298.3 755.0 300.0C751.5 301.7 748.5 303.8 746.2 306.2C744.0 308.8 742.3 311.9 741.2 315.0C740.2 318.1 739.6 321.9 740.0 325.0C740.4 328.1 741.9 331.2 743.8 333.8C745.6 336.2 749.2 337.7 751.2 340.0C753.3 342.3 755.0 344.2 756.2 347.5C757.5 350.8 758.3 356.5 758.8 360.0C759.2 363.5 758.7 366.4 759.1 368.6C759.5 370.8 759.8 371.8 760.9 373.2C762.0 374.5 763.2 375.8 765.5 376.8C767.7 377.9 770.6 378.7 774.5 379.5C778.5 380.4 784.2 381.0 789.1 381.7C793.9 382.5 798.8 383.2 803.6 384.1C808.5 384.9 814.1 385.9 818.2 386.8C822.3 387.7 828.8 388.6 828.2 389.5C827.6 390.5 819.2 391.4 814.5 392.3C809.8 393.2 805.5 394.1 800.0 395.0C794.5 395.9 787.9 396.8 781.8 397.7C775.8 398.6 769.7 399.5 763.6 400.5C757.6 401.4 750.9 402.3 745.5 403.2C740.0 404.1 734.8 405.0 730.9 405.9C727.0 406.8 724.1 407.6 721.8 408.6C719.5 409.6 718.4 410.2 717.3 411.9C716.1 413.7 715.7 418.8 714.9 419.2C714.2 419.6 713.7 414.7 712.7 414.5C711.8 414.2 710.5 417.5 709.1 417.7C707.7 417.9 706.4 416.1 704.5 415.5C702.7 415.0 700.5 414.3 698.2 414.5C695.9 414.6 693.2 415.4 690.9 416.3C688.6 417.1 686.4 418.2 684.5 419.5C682.7 420.8 681.1 422.3 680.0 424.1C678.9 425.9 678.0 428.2 677.8 430.5C677.7 432.7 678.1 435.5 679.1 437.7C680.1 439.9 681.7 441.9 683.6 443.5C685.6 445.2 687.9 446.4 690.9 447.7C693.9 449.0 697.9 450.2 701.8 451.4C705.8 452.6 710.3 453.8 714.5 455.0C718.8 456.2 722.7 457.6 727.3 458.6C731.8 459.7 737.0 460.6 741.8 461.4C746.7 462.1 751.2 462.9 756.4 463.2C761.5 463.5 767.0 463.5 772.7 463.2C778.5 462.9 784.8 462.3 790.9 461.4C797.0 460.5 803.0 458.9 809.1 457.7C815.2 456.5 822.1 455.2 827.3 454.1C832.4 453.0 834.5 453.1 840.0 451.4C845.5 449.6 853.3 445.9 860.0 443.8C866.7 441.6 873.3 440.1 880.0 438.8C886.7 437.4 893.3 436.3 900.0 435.5C906.7 434.7 914.2 433.9 920.0 433.8C925.8 433.6 930.0 433.7 935.0 434.5C940.0 435.3 946.0 437.0 950.0 438.8C954.0 440.5 957.5 443.8 958.8 445.0C960.0 446.2 957.1 445.0 957.5 446.2C957.9 447.5 961.0 450.6 961.2 452.5C961.5 454.4 960.6 455.9 958.8 457.5C956.9 459.1 952.3 461.0 950.0 462.0C947.7 463.0 948.3 462.6 945.0 463.8C941.7 464.9 935.8 467.2 930.0 468.8C924.2 470.3 917.5 471.5 910.0 473.0C902.5 474.5 893.3 476.1 885.0 477.5C876.7 478.9 868.3 480.2 860.0 481.2C851.7 482.3 843.3 483.0 835.0 483.8C826.7 484.5 818.3 485.0 810.0 485.5C801.7 486.0 793.3 486.5 785.0 487.0C776.7 487.5 768.3 488.2 760.0 488.8C751.7 489.3 743.3 489.9 735.0 490.5C726.7 491.1 718.3 491.8 710.0 492.5C701.7 493.2 693.3 494.1 685.0 495.0C676.7 495.9 668.3 497.0 660.0 498.0C651.7 499.0 643.3 500.1 635.0 501.2C626.7 502.4 618.3 504.0 610.0 505.0C601.7 506.0 593.3 506.8 585.0 507.5C576.7 508.2 566.7 509.4 560.0 509.5C553.3 509.6 551.7 508.7 545.0 508.2C538.3 507.8 530.8 507.5 520.0 507.0C509.2 506.5 496.7 505.9 480.0 505.0C463.3 504.1 438.3 502.8 420.0 501.8C401.7 500.7 385.3 499.7 370.0 498.8C354.7 497.8 340.5 497.1 328.0 496.2C315.5 495.4 304.7 494.6 295.0 493.8C285.3 492.9 278.3 492.1 270.0 491.2C261.7 490.4 253.3 489.7 245.0 488.8C236.7 487.8 228.3 486.5 220.0 485.5C211.7 484.5 202.4 483.4 195.0 482.5C187.6 481.6 178.8 480.4 175.5 480.0"/>
<path d="M1137.5 53.5C1140.4 54.1 1148.8 55.5 1155.0 57.0C1161.2 58.5 1168.8 60.7 1175.0 62.5C1181.2 64.3 1187.5 66.1 1192.5 68.0C1197.5 69.9 1201.7 71.5 1205.0 73.8C1208.3 76.0 1210.8 78.3 1212.5 81.2C1214.2 84.2 1215.0 87.9 1215.0 91.2C1215.0 94.6 1214.2 98.1 1212.5 101.2C1210.8 104.4 1208.3 107.5 1205.0 110.0C1201.7 112.5 1196.7 114.4 1192.5 116.2C1188.3 118.1 1183.1 119.8 1180.0 121.2C1176.9 122.7 1174.6 123.5 1173.8 125.0C1172.9 126.5 1173.1 128.7 1175.0 130.0C1176.9 131.3 1180.8 132.2 1185.0 133.0C1189.2 133.8 1194.2 134.0 1200.0 134.5C1205.8 135.0 1213.3 135.4 1220.0 136.2C1226.7 137.1 1233.9 138.4 1240.0 139.5C1246.1 140.6 1250.9 141.3 1256.4 142.7C1261.8 144.2 1268.2 145.9 1272.7 148.2C1277.3 150.5 1280.3 153.8 1283.6 156.4C1287.0 158.9 1289.7 161.7 1292.7 163.6C1295.8 165.6 1298.2 166.7 1301.8 168.2C1305.5 169.7 1310.6 171.1 1314.5 172.7C1318.5 174.4 1321.8 176.1 1325.5 178.2C1329.1 180.3 1332.7 183.0 1336.4 185.5C1340.0 187.9 1344.5 190.8 1347.3 192.7C1350.0 194.7 1350.3 195.0 1352.7 197.3C1355.2 199.5 1359.1 203.5 1361.8 206.4C1364.5 209.2 1367.1 211.8 1369.1 214.5C1371.1 217.3 1372.6 220.0 1373.6 222.7C1374.7 225.5 1375.5 228.3 1375.5 230.9C1375.5 233.5 1375.0 235.8 1373.6 238.2C1372.3 240.6 1369.8 243.0 1367.3 245.5C1364.7 247.9 1361.2 250.3 1358.2 252.7C1355.2 255.2 1352.1 257.9 1349.1 260.0C1346.1 262.1 1343.0 263.8 1340.0 265.5C1337.0 267.1 1334.2 268.3 1330.9 270.0C1327.6 271.7 1323.9 273.6 1320.0 275.5C1316.1 277.3 1311.5 279.2 1307.3 280.9C1303.0 282.6 1299.1 283.9 1294.5 285.5C1290.0 287.0 1285.8 288.7 1280.0 290.0C1274.2 291.3 1266.1 292.2 1260.0 293.3C1253.9 294.4 1248.9 295.4 1243.3 296.7C1237.8 297.9 1232.2 299.3 1226.7 300.8C1221.1 302.4 1215.6 304.3 1210.0 305.8C1204.4 307.4 1198.9 308.8 1193.3 310.0C1187.8 311.2 1182.2 312.5 1176.7 313.3C1171.1 314.2 1163.6 314.7 1160.0 315.0C1156.4 315.3 1160.0 315.0 1155.0 315.0C1150.0 315.0 1138.3 315.2 1130.0 315.0C1121.7 314.8 1112.9 314.4 1105.0 313.8C1097.1 313.1 1090.0 312.2 1082.5 311.2C1075.0 310.3 1067.1 309.1 1060.0 308.0C1052.9 306.9 1046.7 305.3 1040.0 304.5C1033.3 303.7 1026.7 303.2 1020.0 303.0C1013.3 302.8 1005.8 302.7 1000.0 303.0C994.2 303.3 988.3 303.8 985.0 305.0C981.7 306.2 980.2 307.9 980.0 310.0C979.8 312.1 982.5 314.6 983.8 317.5C985.0 320.4 986.5 324.6 987.5 327.5C988.5 330.4 987.9 332.9 990.0 335.0C992.1 337.1 995.8 338.5 1000.0 340.0C1004.2 341.5 1010.0 342.6 1015.0 343.8C1020.0 344.9 1025.4 345.8 1030.0 347.0C1034.6 348.2 1038.8 349.5 1042.5 351.2C1046.2 353.0 1049.6 355.2 1052.5 357.5C1055.4 359.8 1057.5 362.5 1060.0 365.0C1062.5 367.5 1065.0 370.6 1067.5 372.5C1070.0 374.4 1072.1 374.7 1075.0 376.2C1077.9 377.8 1080.8 380.5 1085.0 382.0C1089.2 383.5 1094.2 384.4 1100.0 385.5C1105.8 386.6 1113.3 387.8 1120.0 388.8C1126.7 389.7 1132.9 390.4 1140.0 391.2C1147.1 392.1 1155.0 392.9 1162.5 393.8C1170.0 394.6 1178.3 395.4 1185.0 396.2C1191.7 397.1 1197.5 397.8 1202.5 398.8C1207.5 399.7 1211.5 400.5 1215.0 402.0C1218.5 403.5 1221.2 405.1 1223.8 407.5C1226.2 409.9 1228.1 413.1 1230.0 416.2C1231.9 419.4 1233.3 423.3 1235.0 426.2C1236.7 429.2 1237.5 432.0 1240.0 433.8C1242.5 435.5 1245.8 436.0 1250.0 437.0C1254.2 438.0 1259.6 438.9 1265.0 440.0C1270.4 441.1 1277.1 442.3 1282.5 443.8C1287.9 445.2 1293.3 446.9 1297.5 448.8C1301.7 450.6 1304.6 452.9 1307.5 455.0C1310.4 457.1 1312.1 459.0 1315.0 461.2C1317.9 463.5 1321.2 466.7 1325.0 468.8C1328.8 470.8 1332.5 472.4 1337.5 473.8C1342.5 475.1 1348.8 476.0 1355.0 477.0C1361.2 478.0 1368.8 479.0 1375.0 479.5C1381.2 480.0 1389.2 479.9 1392.0 480.0"/>
<path d="M1069.5 265.5C1069.1 264.2 1072.0 263.0 1075.0 262.5C1078.0 262.0 1083.3 262.0 1087.5 262.5C1091.7 263.0 1096.8 264.3 1100.0 265.5C1103.2 266.7 1106.6 268.4 1107.0 269.5C1107.4 270.6 1105.3 271.6 1102.5 272.0C1099.7 272.4 1094.2 272.2 1090.0 272.0C1085.8 271.8 1080.9 271.6 1077.5 270.5C1074.1 269.4 1069.9 266.8 1069.5 265.5Z"/>
<path d="M532.4 363.9C532.7 362.9 533.7 361.3 535.5 360.3C537.2 359.3 539.9 358.5 542.7 357.9C545.6 357.2 549.2 356.7 552.4 356.4C555.7 356.2 559.1 356.3 562.1 356.4C565.2 356.5 568.2 357.1 570.6 356.9C573.0 356.7 574.8 356.3 576.7 355.5C578.5 354.6 579.7 352.9 581.5 351.8C583.3 350.7 585.4 349.5 587.6 348.8C589.8 348.1 592.7 347.6 594.8 347.6C597.0 347.6 599.2 347.9 600.3 348.8C601.4 349.7 601.5 351.3 601.5 353.0C601.6 354.7 601.4 357.1 600.7 359.1C600.0 361.1 598.8 363.1 597.3 365.2C595.7 367.2 593.4 369.4 591.2 371.2C589.0 373.0 586.6 374.6 583.9 376.1C581.3 377.5 578.3 378.8 575.5 379.7C572.6 380.6 569.8 381.3 567.0 381.5C564.1 381.8 561.1 381.7 558.5 381.2C555.9 380.6 553.6 379.6 551.2 378.5C548.8 377.3 546.2 375.8 543.9 374.2C541.7 372.7 539.6 370.7 537.9 369.4C536.2 368.1 534.5 367.3 533.6 366.4C532.7 365.5 532.1 364.9 532.4 363.9Z"/>
<path d="M355.0 210.0C355.4 211.2 356.0 214.8 357.5 217.5C359.0 220.2 360.8 223.5 363.8 226.2C366.7 229.0 370.6 231.5 375.0 233.8C379.4 236.0 385.0 237.9 390.0 240.0C395.0 242.1 401.0 244.4 405.0 246.2C409.0 248.1 411.7 249.4 413.8 251.2C415.8 253.1 417.5 255.3 417.5 257.5C417.5 259.7 415.8 262.2 413.8 264.5C411.7 266.8 407.9 268.9 405.0 271.2C402.1 273.6 398.8 276.0 396.2 278.8C393.8 281.5 391.2 285.0 390.0 287.5C388.8 290.0 388.1 291.9 388.8 293.8C389.4 295.6 391.0 297.2 393.8 298.8C396.5 300.3 400.6 301.8 405.0 303.0C409.4 304.2 415.0 305.0 420.0 305.8C425.0 306.5 430.0 307.1 435.0 307.5C440.0 307.9 445.0 308.3 450.0 308.2C455.0 308.2 460.0 307.8 465.0 307.0C470.0 306.2 475.0 305.3 480.0 303.8C485.0 302.2 490.4 299.6 495.0 297.5C499.6 295.4 503.3 293.3 507.5 291.2C511.7 289.2 515.8 287.4 520.0 285.0C524.2 282.6 529.0 279.7 532.5 277.0C536.0 274.3 539.2 271.6 541.2 268.8C543.3 265.9 544.3 262.9 545.0 260.0C545.7 257.1 545.9 254.2 545.5 251.2C545.1 248.3 544.0 245.2 542.5 242.5C541.0 239.8 538.8 237.3 536.2 235.0C533.8 232.7 531.0 230.8 527.5 228.8C524.0 226.7 519.6 224.4 515.0 222.5C510.4 220.6 505.0 219.0 500.0 217.5C495.0 216.0 490.0 214.8 485.0 213.8C480.0 212.7 474.6 212.5 470.0 211.2C465.4 210.0 461.2 208.0 457.5 206.2C453.8 204.5 450.4 202.6 447.5 200.8C444.6 198.9 442.9 196.6 440.0 195.0C437.1 193.4 434.2 192.0 430.0 191.2C425.8 190.5 420.8 190.4 415.0 190.5C409.2 190.6 401.7 191.3 395.0 192.0C388.3 192.7 380.4 193.4 375.0 194.5C369.6 195.6 365.6 197.0 362.5 198.8C359.4 200.5 357.5 203.1 356.2 205.0C355.0 206.9 355.2 209.2 355.0 210.0C354.8 210.8 354.6 208.8 355.0 210.0Z"/>
<path d="M960.0 54.5C955.4 54.8 935.0 55.8 922.5 56.2C910.0 56.8 895.4 57.1 885.0 57.5C874.6 57.9 868.3 58.3 860.0 58.8C851.7 59.2 843.3 59.4 835.0 60.0C826.7 60.6 818.3 61.3 810.0 62.5C801.7 63.7 792.1 65.3 785.0 67.0C777.9 68.7 772.9 70.5 767.5 72.5C762.1 74.5 757.5 76.8 752.5 78.8C747.5 80.8 742.5 83.0 737.5 84.5C732.5 86.0 727.9 87.0 722.5 88.0C717.1 89.0 711.2 90.0 705.0 90.8C698.8 91.5 691.7 91.8 685.0 92.5C678.3 93.2 670.8 94.0 665.0 95.0C659.2 96.0 653.5 97.1 650.0 98.8C646.5 100.4 644.9 102.7 643.8 105.0C642.6 107.3 642.6 110.0 643.0 112.5C643.4 115.0 644.5 117.5 646.2 120.0C648.0 122.5 650.6 125.2 653.8 127.5C656.9 129.8 660.6 131.8 665.0 133.8C669.4 135.8 675.0 137.6 680.0 139.5C685.0 141.4 690.0 143.2 695.0 145.0C700.0 146.8 705.0 148.4 710.0 150.0C715.0 151.6 720.0 153.0 725.0 154.5C730.0 156.0 735.4 157.4 740.0 158.8C744.6 160.1 749.4 160.8 752.5 162.5C755.6 164.2 757.3 165.8 758.8 168.8C760.2 171.7 760.6 176.0 761.2 180.0C761.9 184.0 762.4 188.3 762.5 192.5C762.6 196.7 762.4 201.7 762.0 205.0C761.6 208.3 761.0 210.0 760.0 212.5C759.0 215.0 757.1 216.7 756.2 220.0C755.4 223.3 754.8 228.3 755.0 232.5C755.2 236.7 755.8 241.0 757.5 245.0C759.2 249.0 761.7 252.9 765.0 256.2C768.3 259.6 772.5 262.3 777.5 265.0C782.5 267.7 788.8 270.2 795.0 272.5C801.2 274.8 808.3 276.9 815.0 278.8C821.7 280.6 828.3 282.2 835.0 283.8C841.7 285.3 848.3 286.6 855.0 288.0C861.7 289.4 868.3 290.8 875.0 292.0C881.7 293.2 888.3 294.3 895.0 295.0C901.7 295.7 908.3 296.0 915.0 296.2C921.7 296.5 929.2 296.5 935.0 296.2C940.8 296.0 945.0 295.6 950.0 295.0C955.0 294.4 959.6 293.5 965.0 292.5C970.4 291.5 977.1 290.4 982.5 288.8C987.9 287.1 993.1 285.0 997.5 282.5C1001.9 280.0 1005.9 276.9 1008.8 273.8C1011.6 270.6 1013.4 266.9 1014.5 263.8C1015.6 260.6 1014.6 257.7 1015.5 255.0C1016.4 252.3 1017.2 249.6 1020.0 247.5C1022.8 245.4 1027.5 243.7 1032.5 242.5C1037.5 241.3 1043.8 240.8 1050.0 240.5C1056.2 240.2 1063.3 240.2 1070.0 240.5C1076.7 240.8 1083.8 241.2 1090.0 242.0C1096.2 242.8 1102.1 244.0 1107.5 245.5C1112.9 247.0 1117.9 249.0 1122.5 251.2C1127.1 253.5 1130.4 256.0 1135.0 258.8C1139.6 261.5 1144.6 264.7 1150.0 267.5C1155.4 270.3 1161.2 273.2 1167.5 275.5C1173.8 277.8 1180.4 279.8 1187.5 281.2C1194.6 282.8 1202.9 283.9 1210.0 284.5C1217.1 285.1 1223.3 285.2 1230.0 285.0C1236.7 284.8 1242.9 284.0 1250.0 283.0C1257.1 282.0 1265.1 280.6 1272.5 278.8C1279.9 276.9 1288.8 274.1 1294.5 272.2C1300.3 270.3 1303.0 269.1 1307.3 267.3C1311.5 265.5 1316.1 263.4 1320.0 261.3C1323.9 259.2 1327.6 256.9 1330.9 254.5C1334.2 252.2 1337.4 249.8 1340.0 247.3C1342.6 244.7 1344.8 242.0 1346.4 239.1C1347.9 236.2 1349.0 233.0 1349.5 230.0C1349.9 227.0 1349.9 223.9 1349.1 220.9C1348.3 217.9 1346.7 214.7 1344.5 211.8C1342.4 208.9 1338.0 205.8 1336.4 203.6C1334.8 201.5 1337.7 200.6 1335.0 198.8C1332.3 196.9 1325.8 194.2 1320.0 192.5C1314.2 190.8 1308.3 189.5 1300.0 188.8C1291.7 188.0 1280.0 188.2 1270.0 188.0C1260.0 187.8 1249.6 187.8 1240.0 187.5C1230.4 187.2 1221.2 186.7 1212.5 186.2C1203.8 185.8 1195.0 185.1 1187.5 185.0C1180.0 184.9 1173.8 185.1 1167.5 185.5C1161.2 185.9 1155.4 186.3 1150.0 187.5C1144.6 188.7 1140.0 190.6 1135.0 192.5C1130.0 194.4 1125.4 197.2 1120.0 198.8C1114.6 200.3 1108.3 201.6 1102.5 202.0C1096.7 202.4 1090.4 202.0 1085.0 201.2C1079.6 200.5 1074.2 199.4 1070.0 197.5C1065.8 195.6 1062.5 193.3 1060.0 190.0C1057.5 186.7 1056.9 181.2 1055.0 177.5C1053.1 173.8 1050.8 170.4 1048.8 167.5C1046.8 164.6 1043.8 161.6 1043.0 160.0C1042.2 158.4 1042.6 158.1 1043.8 158.0C1044.9 157.9 1047.3 158.3 1050.0 159.5C1052.7 160.7 1056.2 162.8 1060.0 165.0C1063.8 167.2 1067.9 170.2 1072.5 172.5C1077.1 174.8 1082.1 177.2 1087.5 178.8C1092.9 180.3 1099.2 181.3 1105.0 182.0C1110.8 182.7 1117.1 183.1 1122.5 183.0C1127.9 182.9 1132.9 182.4 1137.5 181.2C1142.1 180.1 1146.5 178.3 1150.0 176.2C1153.5 174.2 1156.8 171.5 1158.8 168.8C1160.8 166.0 1162.0 162.9 1162.0 160.0C1162.0 157.1 1160.8 153.8 1158.8 151.2C1156.8 148.7 1153.5 146.5 1150.0 144.5C1146.5 142.5 1141.7 141.0 1137.5 139.5C1133.3 138.0 1127.9 136.8 1125.0 135.5C1122.1 134.2 1120.4 133.3 1120.0 132.0C1119.6 130.7 1120.8 129.1 1122.5 127.5C1124.2 125.9 1126.7 124.2 1130.0 122.5C1133.3 120.8 1139.0 119.6 1142.5 117.5C1146.0 115.4 1149.2 112.9 1151.2 110.0C1153.2 107.1 1154.3 103.1 1154.5 100.0C1154.7 96.9 1154.1 94.2 1152.5 91.2C1150.9 88.3 1148.8 85.0 1145.0 82.5C1141.2 80.0 1135.4 78.1 1130.0 76.2C1124.6 74.4 1119.2 72.8 1112.5 71.2C1105.8 69.7 1098.3 68.5 1090.0 67.0C1081.7 65.5 1073.3 63.9 1062.5 62.5C1051.7 61.1 1037.5 59.8 1025.0 58.8C1012.5 57.7 1000.0 57.0 987.5 56.2C975.0 55.5 954.6 54.8 950.0 54.5C945.4 54.2 964.6 54.2 960.0 54.5Z"/>
<path d="M600.0 528.0C600.8 527.5 602.5 526.0 605.0 525.0C607.5 524.0 610.0 522.6 615.0 522.0C620.0 521.4 627.5 521.2 635.0 521.2C642.5 521.2 651.7 521.7 660.0 522.0C668.3 522.3 676.7 522.7 685.0 523.0C693.3 523.3 701.7 523.4 710.0 523.8C718.3 524.1 727.5 525.0 735.0 525.0C742.5 525.0 748.3 524.4 755.0 523.8C761.7 523.1 768.3 522.3 775.0 521.2C781.7 520.2 787.5 519.0 795.0 517.5C802.5 516.0 811.7 514.2 820.0 512.5C828.3 510.8 836.7 508.9 845.0 507.0C853.3 505.1 861.7 503.2 870.0 501.2C878.3 499.2 886.7 497.1 895.0 495.0C903.3 492.9 912.5 490.5 920.0 488.8C927.5 487.0 935.0 486.0 940.0 484.5C945.0 483.0 946.7 481.1 950.0 480.0C953.3 478.9 955.8 478.8 960.0 478.0C964.2 477.2 970.0 475.9 975.0 475.0C980.0 474.1 985.4 473.5 990.0 472.5C994.6 471.5 999.0 470.2 1002.5 468.8C1006.0 467.3 1009.1 465.8 1011.2 463.8C1013.4 461.7 1014.5 459.0 1015.5 456.2C1016.5 453.5 1016.5 450.1 1017.5 447.5C1018.5 444.9 1019.6 442.5 1021.2 440.5C1022.9 438.5 1024.8 437.0 1027.5 435.5C1030.2 434.0 1034.8 432.8 1037.5 431.2C1040.2 429.7 1043.1 427.8 1043.8 426.2C1044.4 424.7 1043.1 423.1 1041.2 422.0C1039.4 420.9 1036.5 420.1 1032.5 419.5C1028.5 418.9 1022.9 418.7 1017.5 418.2C1012.1 417.8 1005.8 417.6 1000.0 417.0C994.2 416.4 988.3 415.5 982.5 414.5C976.7 413.5 968.8 412.0 965.0 411.2C961.2 410.5 964.2 411.0 960.0 410.0C955.8 409.0 946.2 407.0 940.0 405.5C933.8 404.0 928.3 402.7 922.5 401.2C916.7 399.8 909.6 398.5 905.0 397.0C900.4 395.5 897.5 394.3 895.0 392.5C892.5 390.7 892.5 387.9 890.0 386.2C887.5 384.6 885.8 383.6 880.0 382.5C874.2 381.4 863.3 380.5 855.0 379.5C846.7 378.5 837.5 377.3 830.0 376.2C822.5 375.2 815.0 374.0 810.0 373.0C805.0 372.0 802.9 371.3 800.0 370.0C797.1 368.7 795.2 366.7 792.5 365.0C789.8 363.3 785.8 363.3 783.8 360.0C781.7 356.7 780.8 350.0 780.0 345.0C779.2 340.0 778.8 334.6 778.8 330.0C778.8 325.4 779.0 321.0 780.0 317.5C781.0 314.0 782.5 310.9 785.0 308.8C787.5 306.6 790.8 305.3 795.0 304.5C799.2 303.7 804.2 303.7 810.0 303.8C815.8 303.8 823.3 304.2 830.0 305.0C836.7 305.8 843.3 307.5 850.0 308.8C856.7 310.0 863.3 311.0 870.0 312.5C876.7 314.0 884.2 315.8 890.0 317.5C895.8 319.2 900.4 320.5 905.0 322.5C909.6 324.5 914.0 327.0 917.5 329.5C921.0 332.0 923.3 335.1 926.2 337.5C929.2 339.9 931.5 342.2 935.0 343.8C938.5 345.3 943.3 346.2 947.5 347.0C951.7 347.8 955.4 348.5 960.0 348.8C964.6 349.0 968.3 347.7 975.0 348.2C981.7 348.8 992.5 350.5 1000.0 352.0C1007.5 353.5 1014.2 355.3 1020.0 357.5C1025.8 359.7 1030.6 362.5 1035.0 365.0C1039.4 367.5 1042.9 370.2 1046.2 372.5C1049.6 374.8 1051.9 376.5 1055.0 378.8C1058.1 381.0 1061.7 384.0 1065.0 386.2C1068.3 388.5 1071.2 390.5 1075.0 392.0C1078.8 393.5 1082.5 394.2 1087.5 395.0C1092.5 395.8 1098.8 396.4 1105.0 397.0C1111.2 397.6 1119.2 398.0 1125.0 398.8C1130.8 399.5 1135.4 400.2 1140.0 401.2C1144.6 402.3 1148.8 403.1 1152.5 405.0C1156.2 406.9 1159.2 409.6 1162.5 412.5C1165.8 415.4 1169.6 419.2 1172.5 422.5C1175.4 425.8 1177.7 429.7 1180.0 432.5C1182.3 435.3 1183.3 437.7 1186.2 439.5C1189.2 441.3 1192.7 442.1 1197.5 443.2C1202.3 444.4 1209.2 445.5 1215.0 446.2C1220.8 447.0 1227.5 447.4 1232.5 448.0C1237.5 448.6 1240.8 448.8 1245.0 450.0C1249.2 451.2 1253.8 452.7 1257.5 455.0C1261.2 457.3 1264.8 460.8 1267.5 463.8C1270.2 466.7 1272.1 470.0 1273.8 472.5C1275.4 475.0 1275.2 476.8 1277.5 478.8C1279.8 480.8 1282.9 483.1 1287.5 484.5C1292.1 485.9 1298.8 486.4 1305.0 487.0C1311.2 487.6 1319.2 487.7 1325.0 488.0C1330.8 488.3 1335.8 488.3 1340.0 488.8C1344.2 489.2 1345.8 490.1 1350.0 490.5C1354.2 490.9 1360.0 490.9 1365.0 491.2C1370.0 491.6 1375.5 492.4 1380.0 492.5C1384.5 492.6 1390.0 492.1 1392.0 492.0"/>
<path d="M175.5 493.0C178.8 493.5 187.6 494.7 195.0 495.8C202.4 496.8 211.7 498.4 220.0 499.5C228.3 500.6 236.7 501.6 245.0 502.5C253.3 503.4 261.7 504.2 270.0 505.0C278.3 505.8 285.3 506.4 295.0 507.0C304.7 507.6 315.5 508.2 328.0 508.8C340.5 509.3 354.7 509.7 370.0 510.5C385.3 511.3 405.4 512.8 420.0 513.8C434.6 514.7 447.5 515.6 457.5 516.2C467.5 516.9 474.2 517.0 480.0 517.5C485.8 518.0 489.2 518.5 492.5 519.5C495.8 520.5 497.9 522.3 500.0 523.8C502.1 525.2 504.2 527.3 505.0 528.0"/>
<path d="M745.0 413.8C746.5 412.7 750.4 412.1 755.0 411.2C759.6 410.4 765.8 409.6 772.5 408.8C779.2 407.9 787.9 407.0 795.0 406.2C802.1 405.5 808.3 404.9 815.0 404.5C821.7 404.1 829.2 403.8 835.0 403.8C840.8 403.8 846.5 403.9 850.0 404.5C853.5 405.1 855.4 406.0 856.2 407.5C857.1 409.0 856.0 411.5 855.0 413.8C854.0 416.0 852.1 418.8 850.0 421.2C847.9 423.8 845.4 426.4 842.5 428.8C839.6 431.1 836.2 433.4 832.5 435.5C828.8 437.6 824.6 439.5 820.0 441.2C815.4 443.0 810.0 444.7 805.0 446.2C800.0 447.8 795.0 449.2 790.0 450.5C785.0 451.8 780.0 452.9 775.0 453.8C770.0 454.6 764.6 455.4 760.0 455.5C755.4 455.6 750.8 455.4 747.5 454.5C744.2 453.6 741.8 451.8 740.0 450.0C738.2 448.2 737.6 446.0 737.0 443.8C736.4 441.5 736.0 438.5 736.2 436.2C736.5 434.0 737.1 431.7 738.8 430.0C740.4 428.3 744.4 427.7 746.2 426.2C748.1 424.8 750.0 422.7 750.0 421.2C750.0 419.8 747.1 418.8 746.2 417.5C745.4 416.2 743.5 414.8 745.0 413.8Z"/>
<path d="M684.5 431.2C684.5 430.1 686.0 429.2 687.5 428.8C689.0 428.3 692.3 428.3 693.8 428.8C695.2 429.2 696.2 430.3 696.2 431.2C696.2 432.2 695.2 433.8 693.8 434.5C692.3 435.2 689.0 436.0 687.5 435.5C686.0 435.0 684.5 432.4 684.5 431.2Z"/>
<path d="M559.7 371.8C559.9 370.9 562.5 370.0 564.5 369.4C566.6 368.8 569.6 368.3 571.8 368.2C574.0 368.1 576.7 368.3 577.9 368.8C579.1 369.3 579.5 370.4 579.1 371.2C578.7 372.0 577.1 373.0 575.5 373.6C573.8 374.3 571.4 374.9 569.4 375.1C567.4 375.3 564.9 375.2 563.3 374.6C561.7 374.1 559.5 372.7 559.7 371.8Z"/>
<path d="M852.5 82.5C852.7 79.8 853.8 77.1 856.2 75.0C858.8 72.9 862.7 71.2 867.5 70.0C872.3 68.8 877.9 68.5 885.0 68.0C892.1 67.5 901.7 67.2 910.0 67.0C918.3 66.8 928.3 66.7 935.0 66.8C941.7 66.8 945.8 67.0 950.0 67.5C954.2 68.0 958.1 68.5 960.0 69.5C961.9 70.5 961.9 71.6 961.2 73.8C960.6 75.9 957.7 79.8 956.2 82.5C954.8 85.2 953.5 88.1 952.5 90.0C951.5 91.9 952.9 92.6 950.0 93.8C947.1 94.9 941.7 96.0 935.0 97.0C928.3 98.0 918.3 99.6 910.0 100.0C901.7 100.4 892.5 99.9 885.0 99.5C877.5 99.1 870.0 98.9 865.0 97.5C860.0 96.1 857.1 93.8 855.0 91.2C852.9 88.8 852.3 85.2 852.5 82.5Z"/>
<path d="M812.5 213.8C811.7 210.4 810.8 205.6 810.0 200.0C809.2 194.4 808.2 185.8 807.5 180.0C806.8 174.2 805.5 169.2 805.5 165.0C805.5 160.8 805.9 158.1 807.5 155.0C809.1 151.9 811.2 148.8 815.0 146.2C818.8 143.8 823.3 141.5 830.0 140.0C836.7 138.5 845.8 137.8 855.0 137.0C864.2 136.2 875.8 136.0 885.0 135.5C894.2 135.0 902.9 133.9 910.0 133.8C917.1 133.6 922.1 133.7 927.5 134.5C932.9 135.3 938.5 136.6 942.5 138.8C946.5 140.9 948.8 144.4 951.2 147.5C953.8 150.6 956.9 156.2 957.5 157.5C958.1 158.8 954.2 154.2 955.0 155.0C955.8 155.8 960.2 159.6 962.5 162.5C964.8 165.4 967.5 169.6 968.8 172.5C970.0 175.4 970.6 177.1 970.0 180.0C969.4 182.9 966.7 187.1 965.0 190.0C963.3 192.9 960.4 195.0 960.0 197.5C959.6 200.0 960.4 202.7 962.5 205.0C964.6 207.3 970.0 210.2 972.5 211.2C975.0 212.3 975.6 210.0 977.5 211.2C979.4 212.5 982.9 216.0 983.8 218.8C984.6 221.5 984.0 224.6 982.5 227.5C981.0 230.4 978.3 233.5 975.0 236.2C971.7 239.0 966.7 241.7 962.5 243.8C958.3 245.8 953.3 247.3 950.0 248.8C946.7 250.2 945.0 250.8 942.5 252.5C940.0 254.2 937.5 256.8 935.0 258.8C932.5 260.8 930.8 263.0 927.5 264.5C924.2 266.0 919.6 267.2 915.0 268.0C910.4 268.8 905.4 269.4 900.0 269.5C894.6 269.6 888.3 269.4 882.5 268.8C876.7 268.1 870.8 266.8 865.0 265.5C859.2 264.2 852.9 262.8 847.5 261.2C842.1 259.7 836.7 258.1 832.5 256.2C828.3 254.4 825.2 252.3 822.5 250.0C819.8 247.7 817.7 245.0 816.2 242.5C814.8 240.0 813.8 237.3 813.8 235.0C813.8 232.7 816.0 231.2 816.2 228.8C816.5 226.2 815.6 222.5 815.0 220.0C814.4 217.5 813.3 217.1 812.5 213.8Z"/>
<path d="M1182.5 242.5C1183.5 239.8 1186.7 237.1 1190.0 235.0C1193.3 232.9 1198.3 231.9 1202.5 230.0C1206.7 228.1 1210.8 225.8 1215.0 223.8C1219.2 221.7 1222.9 219.3 1227.5 217.5C1232.1 215.7 1237.1 214.1 1242.5 213.0C1247.9 211.9 1253.8 210.9 1260.0 210.8C1266.2 210.6 1276.7 211.8 1280.0 212.0C1283.3 212.2 1278.5 211.5 1280.0 211.8C1281.5 212.1 1286.1 212.6 1289.1 213.6C1292.1 214.7 1295.8 216.4 1298.2 218.2C1300.6 220.0 1302.5 222.4 1303.6 224.5C1304.8 226.7 1305.2 228.6 1305.1 230.9C1304.9 233.2 1304.0 235.9 1302.7 238.2C1301.4 240.5 1299.5 242.7 1297.3 244.5C1295.0 246.4 1292.0 247.8 1289.1 249.1C1286.2 250.4 1283.2 251.2 1280.0 252.2C1276.8 253.2 1274.6 253.9 1270.0 255.0C1265.4 256.1 1258.3 257.3 1252.5 258.8C1246.7 260.2 1240.8 262.4 1235.0 263.8C1229.2 265.1 1222.9 266.6 1217.5 267.0C1212.1 267.4 1207.1 267.4 1202.5 266.2C1197.9 265.1 1193.1 262.5 1190.0 260.0C1186.9 257.5 1185.0 254.2 1183.8 251.2C1182.5 248.3 1181.5 245.2 1182.5 242.5Z"/>
<path d="M960.0 372.5C961.0 370.4 960.8 367.9 962.5 366.2C964.2 364.6 966.7 363.3 970.0 362.5C973.3 361.7 978.3 361.0 982.5 361.2C986.7 361.5 991.9 362.3 995.0 363.8C998.1 365.2 999.8 367.3 1001.2 370.0C1002.7 372.7 1004.0 377.1 1003.8 380.0C1003.5 382.9 1002.1 385.3 1000.0 387.5C997.9 389.7 994.6 391.9 991.2 393.0C987.9 394.1 983.8 394.4 980.0 394.2C976.2 394.1 972.1 393.3 968.8 392.0C965.4 390.7 962.1 388.5 960.0 386.2C957.9 384.0 956.2 381.0 956.2 378.8C956.2 376.5 959.0 374.6 960.0 372.5Z"/>
<path d="M175.5 88.0C178.8 88.2 187.6 89.0 195.0 89.5C202.4 90.0 210.4 90.3 220.0 90.8C229.6 91.2 242.1 91.6 252.5 92.0C262.9 92.4 270.0 92.8 282.5 93.2C295.0 93.8 312.9 94.6 327.5 95.0C342.1 95.4 356.2 95.4 370.0 95.8C383.8 96.1 397.5 96.6 410.0 97.0C422.5 97.4 433.3 97.6 445.0 98.0C456.7 98.4 469.6 99.0 480.0 99.5C490.4 100.0 499.2 100.5 507.5 101.2C515.8 102.0 522.9 102.6 530.0 103.8C537.1 104.9 543.3 105.8 550.0 108.0C556.7 110.2 565.8 115.0 570.0 117.0C574.2 119.0 571.2 118.2 575.0 120.0C578.8 121.8 586.7 125.1 592.5 127.5C598.3 129.9 603.3 132.2 610.0 134.5C616.7 136.8 626.7 139.1 632.5 141.2C638.3 143.4 641.5 145.2 645.0 147.5C648.5 149.8 651.5 152.1 653.8 155.0C656.0 157.9 657.6 162.1 658.8 165.0C659.9 167.9 660.5 169.8 660.5 172.5C660.5 175.2 660.1 178.6 658.8 181.2C657.4 183.9 655.6 186.2 652.5 188.2C649.4 190.3 645.0 192.2 640.0 193.8C635.0 195.3 628.3 196.5 622.5 197.5C616.7 198.5 611.2 199.2 605.0 199.5C598.8 199.8 590.8 199.8 585.0 199.5C579.2 199.2 574.2 198.2 570.0 197.5C565.8 196.8 564.2 196.5 560.0 195.0C555.8 193.5 549.6 191.7 545.0 188.8C540.4 185.8 536.2 181.9 532.5 177.5C528.8 173.1 525.4 167.1 522.5 162.5C519.6 157.9 517.1 154.2 515.0 150.0C512.9 145.8 511.7 141.2 510.0 137.5C508.3 133.8 507.5 130.2 505.0 127.5C502.5 124.8 499.2 123.2 495.0 121.2C490.8 119.2 485.4 117.2 480.0 115.5C474.6 113.8 468.3 112.2 462.5 111.2C456.7 110.3 452.1 110.3 445.0 110.0C437.9 109.7 428.3 109.3 420.0 109.5C411.7 109.7 403.3 110.4 395.0 111.2C386.7 112.1 378.3 113.5 370.0 114.5C361.7 115.5 352.1 116.5 345.0 117.0C337.9 117.5 333.3 117.9 327.5 117.5C321.7 117.1 316.2 115.7 310.0 114.5C303.8 113.3 296.7 111.8 290.0 110.5C283.3 109.2 276.2 107.9 270.0 107.0C263.8 106.1 258.8 105.5 252.5 105.0C246.2 104.5 239.2 104.3 232.5 104.2C225.8 104.2 218.8 104.2 212.5 104.5C206.2 104.8 200.0 105.4 195.0 106.2C190.0 107.1 185.8 108.4 182.5 109.5C179.2 110.6 176.7 112.4 175.5 113.0"/>
<path d="M176.0 184.5C178.0 185.0 184.0 186.3 188.2 187.3C192.3 188.3 197.3 189.3 200.9 190.5C204.5 191.8 207.3 193.0 210.0 194.5C212.7 196.1 215.2 197.9 217.3 200.0C219.4 202.1 220.9 204.8 222.7 207.3C224.5 209.7 226.1 212.4 228.2 214.5C230.3 216.7 232.4 218.5 235.5 220.0C238.5 221.5 242.1 222.6 246.4 223.6C250.6 224.7 256.1 225.6 260.9 226.4C265.8 227.1 270.6 227.5 275.5 228.2C280.3 228.9 285.2 229.6 290.0 230.5C294.8 231.5 300.0 232.8 304.5 234.0C309.1 235.2 313.3 236.5 317.3 237.8C321.2 239.1 325.0 240.5 328.2 241.8C331.4 243.1 334.2 244.2 336.4 245.5C338.5 246.7 340.6 247.9 340.9 249.1C341.2 250.3 340.0 251.5 338.2 252.7C336.4 253.9 333.5 255.4 330.0 256.4C326.5 257.3 321.8 258.0 317.3 258.5C312.7 259.1 307.9 259.3 302.7 259.5C297.6 259.6 291.8 259.5 286.4 259.6C280.9 259.7 275.5 259.7 270.0 260.0C264.5 260.3 258.5 260.7 253.6 261.3C248.8 261.9 244.8 262.6 240.9 263.6C237.0 264.6 233.6 265.9 230.0 267.3C226.4 268.6 222.7 270.2 219.1 271.8C215.5 273.5 211.8 275.4 208.2 277.3C204.5 279.2 200.9 281.5 197.3 283.3C193.6 285.1 189.9 286.5 186.4 288.2C182.8 289.8 177.7 292.3 176.0 293.1"/>
<path d="M175.5 317.5C177.1 318.8 181.8 322.3 185.0 325.0C188.2 327.7 191.7 331.0 195.0 333.8C198.3 336.5 201.9 339.4 205.0 341.2C208.1 343.1 207.1 343.5 213.8 345.0C220.4 346.5 233.5 348.1 245.0 350.0C256.5 351.9 268.8 354.2 282.5 356.2C296.2 358.3 314.6 360.7 327.5 362.5C340.4 364.3 352.1 366.1 360.0 367.0C367.9 367.9 370.0 368.4 375.0 368.0C380.0 367.6 384.2 365.9 390.0 364.5C395.8 363.1 403.3 361.0 410.0 359.5C416.7 358.0 424.2 356.4 430.0 355.8C435.8 355.1 441.5 355.0 445.0 355.8C448.5 356.5 450.4 358.2 451.2 360.0C452.1 361.8 451.0 364.2 450.0 366.2C449.0 368.2 447.5 370.1 445.0 372.0C442.5 373.9 439.2 376.1 435.0 377.5C430.8 378.9 425.0 380.1 420.0 380.5C415.0 380.9 410.0 380.7 405.0 380.0C400.0 379.3 394.6 377.2 390.0 376.2C385.4 375.3 381.7 374.5 377.5 374.5C373.3 374.5 368.8 375.1 365.0 376.2C361.2 377.4 358.3 379.0 355.0 381.2C351.7 383.5 348.3 386.9 345.0 390.0C341.7 393.1 337.9 397.1 335.0 400.0C332.1 402.9 329.0 405.2 327.5 407.5C326.0 409.8 325.8 411.7 326.2 413.8C326.7 415.8 327.7 417.9 330.0 420.0C332.3 422.1 336.2 424.4 340.0 426.2C343.8 428.1 348.3 429.9 352.5 431.2C356.7 432.6 361.2 433.5 365.0 434.5C368.8 435.5 372.8 436.2 375.0 437.5C377.2 438.8 378.4 440.6 378.0 442.5C377.6 444.4 375.5 446.8 372.5 448.8C369.5 450.8 364.6 453.1 360.0 454.5C355.4 455.9 350.0 456.6 345.0 457.0C340.0 457.4 335.8 457.5 330.0 457.0C324.2 456.5 316.7 455.1 310.0 453.8C303.3 452.4 295.8 450.3 290.0 448.8C284.2 447.2 279.6 446.0 275.0 444.5C270.4 443.0 265.8 441.7 262.5 440.0C259.2 438.3 257.1 436.2 255.0 434.5C252.9 432.8 252.1 431.0 250.0 430.0C247.9 429.0 245.8 428.8 242.5 428.8C239.2 428.7 234.2 428.9 230.0 429.5C225.8 430.1 221.7 431.2 217.5 432.5C213.3 433.8 209.2 435.6 205.0 437.5C200.8 439.4 197.4 441.2 192.5 443.8C187.6 446.2 178.3 451.0 175.5 452.5"/>
<path d="M460.0 487.5C460.2 485.8 462.9 484.6 465.0 482.5C467.1 480.4 470.0 477.3 472.5 475.0C475.0 472.7 478.5 470.6 480.0 468.8C481.5 466.9 481.5 465.6 481.2 463.8C481.0 461.9 480.6 459.6 478.8 457.5C476.9 455.4 473.5 452.9 470.0 451.2C466.5 449.6 462.5 448.8 457.5 447.5C452.5 446.2 445.4 444.9 440.0 443.8C434.6 442.6 428.7 441.8 425.0 440.5C421.3 439.2 419.0 437.8 418.0 436.2C417.0 434.7 417.2 432.9 418.8 431.2C420.3 429.6 424.0 427.9 427.5 426.2C431.0 424.6 435.4 422.8 440.0 421.2C444.6 419.7 450.0 417.8 455.0 417.0C460.0 416.2 465.0 416.2 470.0 416.2C475.0 416.2 480.6 416.9 485.0 417.0C489.4 417.1 493.8 417.5 496.2 417.0C498.8 416.5 499.6 415.1 500.0 413.8C500.4 412.4 500.0 410.4 498.8 408.8C497.5 407.1 495.2 405.2 492.5 403.8C489.8 402.3 484.2 401.4 482.5 400.0C480.8 398.6 482.3 397.0 482.1 395.5C482.0 393.9 481.9 392.6 481.5 390.6C481.1 388.6 480.3 386.0 479.7 383.3C479.1 380.7 478.3 377.7 477.9 374.8C477.5 372.0 477.1 368.4 477.3 366.4C477.5 364.3 478.1 363.7 479.1 362.7C480.1 361.7 481.4 360.9 483.3 360.3C485.3 359.7 488.0 359.2 490.6 359.1C493.2 358.9 496.3 358.9 499.1 359.5C501.9 360.0 504.7 361.1 507.6 362.1C510.4 363.2 513.2 364.4 516.1 365.8C518.9 367.1 521.7 368.5 524.5 370.0C527.4 371.5 530.2 373.3 533.0 374.8C535.9 376.4 538.7 377.7 541.5 379.1C544.3 380.5 547.2 382.2 550.0 383.3C552.8 384.4 555.7 385.3 558.5 385.8C561.3 386.3 564.1 386.5 567.0 386.4C569.8 386.3 572.6 385.9 575.5 385.2C578.3 384.4 581.3 383.2 583.9 382.1C586.6 381.0 589.0 379.9 591.2 378.5C593.4 377.1 595.3 375.7 597.3 373.6C599.3 371.6 601.6 368.8 603.3 366.4C605.1 363.9 606.5 361.5 607.6 359.1C608.7 356.7 609.5 354.2 610.0 351.8C610.5 349.4 610.9 346.8 610.6 344.5C610.3 342.3 609.4 340.3 608.2 338.5C607.0 336.7 604.9 335.1 603.3 333.6C601.7 332.2 601.2 331.6 598.5 330.0C595.8 328.4 591.4 326.0 587.3 324.3C583.1 322.6 577.6 321.5 573.6 319.8C569.7 318.1 565.4 316.0 563.4 314.1C561.4 312.2 561.4 310.3 561.8 308.4C562.2 306.5 563.3 304.6 565.7 302.7C568.0 300.8 571.9 298.8 575.9 297.0C579.9 295.3 585.6 294.2 589.5 292.5C593.5 290.8 597.5 289.1 599.8 286.8C602.0 284.5 602.8 282.1 603.2 278.9C603.6 275.6 601.9 271.3 602.0 267.5C602.2 263.7 603.4 259.5 604.3 256.1C605.3 252.7 605.6 249.5 607.7 247.0C609.8 244.6 612.7 242.5 616.8 241.4C621.0 240.2 627.0 240.0 632.7 240.2C638.4 240.4 644.5 241.5 650.9 242.5C657.3 243.5 664.5 244.8 671.4 246.4C678.2 247.9 685.0 249.6 691.8 251.6C698.6 253.6 705.8 256.0 712.3 258.4C718.7 260.8 724.4 263.4 730.5 265.9C736.5 268.4 742.6 271.0 748.6 273.2C754.7 275.3 761.1 277.3 766.8 278.9C772.5 280.5 778.2 281.8 782.7 282.7C787.3 283.7 792.0 283.9 794.1 284.5C796.2 285.2 796.7 285.8 795.2 286.4C793.7 286.9 789.7 287.6 785.0 288.0C780.3 288.3 772.9 288.4 766.8 288.6C760.8 288.9 754.3 289.0 748.6 289.5C743.0 290.1 737.1 290.6 732.7 291.8C728.4 293.1 725.2 294.8 722.5 297.0C719.8 299.2 718.3 301.8 716.8 305.0C715.3 308.2 714.0 312.6 713.4 316.4C712.8 320.2 712.7 323.9 713.4 327.7C714.2 331.5 716.4 334.9 718.0 339.1C719.5 343.3 721.6 348.2 722.5 352.7C723.4 357.3 722.8 362.5 723.6 366.4C724.4 370.2 725.8 373.4 727.3 375.9C728.8 378.4 730.3 379.8 732.7 381.4C735.2 382.9 738.5 384.2 741.8 385.4C745.2 386.6 749.1 387.6 752.7 388.6C756.4 389.6 760.6 390.5 763.6 391.4C766.7 392.2 771.5 393.0 770.9 393.7C770.3 394.5 764.2 395.1 760.0 395.9C755.8 396.7 750.3 397.8 745.5 398.6C740.6 399.5 735.8 400.2 730.9 401.0C726.1 401.8 721.2 402.5 716.4 403.2C711.5 403.9 706.4 404.5 701.8 405.4C697.3 406.2 692.7 407.1 689.1 408.3C685.5 409.5 682.4 410.9 680.0 412.6C677.6 414.4 675.8 416.6 674.5 418.6C673.3 420.7 672.7 422.7 672.4 425.0C672.0 427.3 672.0 429.8 672.4 432.3C672.7 434.7 673.3 437.3 674.5 439.5C675.8 441.8 677.6 444.1 680.0 445.9C682.4 447.7 685.8 449.0 689.1 450.5C692.4 451.9 696.1 453.1 700.0 454.5C703.9 455.8 708.2 457.2 712.7 458.6C717.3 460.1 722.1 461.8 727.3 463.2C732.4 464.5 738.2 465.8 743.6 466.8C749.1 467.9 754.5 468.9 760.0 469.5C765.5 470.2 770.9 470.4 776.4 470.5C781.8 470.5 787.3 470.4 792.7 470.1C798.2 469.8 803.6 469.3 809.1 468.6C814.5 467.9 820.3 466.8 825.5 465.9C830.6 465.0 834.2 465.3 840.0 463.2C845.8 461.0 852.5 455.4 860.0 453.0C867.5 450.6 877.5 449.9 885.0 448.8C892.5 447.6 899.6 446.5 905.0 446.2C910.4 446.0 914.4 446.3 917.5 447.0C920.6 447.7 923.1 449.2 923.8 450.5C924.4 451.8 923.5 453.4 921.2 455.0C919.0 456.6 915.2 458.3 910.0 460.0C904.8 461.7 896.7 463.4 890.0 465.0C883.3 466.6 877.5 468.0 870.0 469.5C862.5 471.0 853.3 472.6 845.0 473.8C836.7 474.9 828.3 475.6 820.0 476.2C811.7 476.9 803.3 477.1 795.0 477.5C786.7 477.9 778.3 478.3 770.0 478.8C761.7 479.2 753.3 479.5 745.0 480.0C736.7 480.5 728.3 481.1 720.0 481.8C711.7 482.4 703.3 483.0 695.0 483.8C686.7 484.5 678.3 485.3 670.0 486.2C661.7 487.2 653.3 488.5 645.0 489.5C636.7 490.5 628.3 491.5 620.0 492.5C611.7 493.5 602.5 494.7 595.0 495.5C587.5 496.3 580.8 497.1 575.0 497.5C569.2 497.9 565.0 497.8 560.0 498.0C555.0 498.2 551.7 498.8 545.0 498.8C538.3 498.8 528.3 498.3 520.0 498.0C511.7 497.7 502.1 497.5 495.0 497.0C487.9 496.5 482.7 495.8 477.5 495.0C472.3 494.2 466.7 493.8 463.8 492.5C460.8 491.2 459.8 489.2 460.0 487.5Z"/>
<path d="M1392.0 455.0C1390.8 455.3 1387.8 456.5 1385.0 457.0C1382.2 457.5 1378.8 458.3 1375.0 458.0C1371.2 457.7 1366.7 456.2 1362.5 455.0C1358.3 453.8 1354.6 452.2 1350.0 450.5C1345.4 448.8 1340.0 446.5 1335.0 444.5C1330.0 442.5 1324.2 440.4 1320.0 438.8C1315.8 437.1 1312.1 435.9 1310.0 434.5C1307.9 433.1 1306.7 431.9 1307.5 430.5C1308.3 429.1 1312.1 427.7 1315.0 426.2C1317.9 424.8 1321.2 423.7 1325.0 422.0C1328.8 420.3 1334.2 418.5 1337.5 416.2C1340.8 414.0 1343.0 411.0 1345.0 408.8C1347.0 406.5 1349.1 404.2 1349.5 402.5C1349.9 400.8 1349.1 399.8 1347.5 398.8C1345.9 397.7 1343.8 396.8 1340.0 396.2C1336.2 395.7 1331.7 395.6 1325.0 395.5C1318.3 395.4 1308.3 395.7 1300.0 395.5C1291.7 395.3 1283.3 395.0 1275.0 394.5C1266.7 394.0 1258.3 393.2 1250.0 392.5C1241.7 391.8 1233.3 391.0 1225.0 390.5C1216.7 390.0 1208.3 389.9 1200.0 389.5C1191.7 389.1 1183.3 388.4 1175.0 388.0C1166.7 387.6 1158.3 387.6 1150.0 387.0C1141.7 386.4 1132.5 385.6 1125.0 384.5C1117.5 383.4 1110.0 382.1 1105.0 380.5C1100.0 378.9 1097.1 376.8 1095.0 375.0C1092.9 373.2 1091.7 371.2 1092.5 370.0C1093.3 368.8 1096.9 368.8 1100.0 367.5C1103.1 366.2 1108.8 364.6 1111.2 362.5C1113.8 360.4 1114.0 357.7 1115.0 355.0C1116.0 352.3 1117.9 348.8 1117.5 346.2C1117.1 343.8 1115.0 341.7 1112.5 340.0C1110.0 338.3 1106.7 337.3 1102.5 336.2C1098.3 335.2 1092.9 334.4 1087.5 333.8C1082.1 333.1 1075.4 333.1 1070.0 332.5C1064.6 331.9 1059.2 330.8 1055.0 330.0C1050.8 329.2 1047.2 328.5 1045.0 327.5C1042.8 326.5 1041.8 325.0 1042.0 323.8C1042.2 322.5 1043.2 320.7 1046.2 320.0C1049.2 319.3 1054.4 319.5 1060.0 319.5C1065.6 319.5 1073.3 319.7 1080.0 320.0C1086.7 320.3 1092.5 320.8 1100.0 321.2C1107.5 321.8 1116.7 322.4 1125.0 323.0C1133.3 323.6 1141.7 324.5 1150.0 325.0C1158.3 325.5 1167.5 325.9 1175.0 326.2C1182.5 326.6 1188.3 327.2 1195.0 327.0C1201.7 326.8 1208.3 326.0 1215.0 325.0C1221.7 324.0 1228.8 322.9 1235.0 321.2C1241.2 319.6 1248.3 316.0 1252.5 315.0C1256.7 314.0 1256.0 316.0 1260.0 315.0C1264.0 314.0 1271.1 311.2 1276.7 309.2C1282.2 307.1 1287.8 304.7 1293.3 302.5C1298.9 300.3 1305.0 297.9 1310.0 295.8C1315.0 293.8 1319.5 292.2 1323.3 290.0C1327.1 287.8 1330.3 285.0 1332.7 282.7C1335.2 280.5 1336.4 278.5 1338.2 276.4C1340.0 274.2 1341.7 272.0 1343.6 270.0C1345.6 268.0 1347.9 266.2 1350.0 264.5C1352.1 262.9 1354.1 261.7 1356.4 260.0C1358.6 258.3 1361.2 256.4 1363.6 254.5C1366.1 252.7 1368.3 250.9 1370.9 249.1C1373.5 247.3 1376.9 245.5 1379.1 243.6C1381.3 241.8 1382.9 240.3 1384.0 238.2C1385.1 236.1 1385.5 233.5 1385.5 230.9C1385.4 228.3 1384.7 225.3 1383.6 222.7C1382.6 220.2 1380.8 217.7 1379.1 215.5C1377.4 213.2 1375.0 211.2 1373.6 209.1C1372.3 207.0 1371.5 205.0 1370.9 202.7C1370.3 200.5 1370.6 197.6 1370.0 195.5C1369.4 193.3 1369.2 191.7 1367.3 190.0C1365.3 188.3 1361.5 187.1 1358.2 185.5C1354.8 183.8 1351.2 181.8 1347.3 180.0C1343.3 178.2 1338.8 176.2 1334.5 174.5C1330.3 172.9 1326.1 171.7 1321.8 170.0C1317.6 168.3 1313.3 166.5 1309.1 164.5C1304.8 162.6 1300.6 160.5 1296.4 158.2C1292.1 155.9 1287.9 153.2 1283.6 150.9C1279.4 148.6 1275.5 146.5 1270.9 144.5C1266.4 142.6 1261.2 140.8 1256.4 139.1C1251.5 137.4 1246.1 135.8 1241.8 134.5C1237.6 133.3 1233.8 132.9 1230.9 131.8C1228.0 130.8 1226.1 129.7 1224.5 128.2C1223.0 126.7 1221.7 124.5 1221.8 122.7C1221.9 120.9 1222.0 119.4 1225.0 117.5C1228.0 115.6 1234.2 113.2 1240.0 111.2C1245.8 109.2 1253.3 107.4 1260.0 105.5C1266.7 103.6 1273.3 101.8 1280.0 100.0C1286.7 98.2 1293.3 96.5 1300.0 95.0C1306.7 93.5 1313.3 92.2 1320.0 91.2C1326.7 90.3 1333.3 90.0 1340.0 89.5C1346.7 89.0 1354.2 88.3 1360.0 88.0C1365.8 87.7 1369.7 87.7 1375.0 87.5C1380.3 87.3 1389.2 87.1 1392.0 87.0"/>
<path d="M1392.0 295.0C1390.6 295.6 1385.9 297.1 1383.3 298.3C1380.8 299.6 1377.5 301.1 1376.7 302.5C1375.8 303.9 1376.9 305.0 1378.3 306.7C1379.7 308.3 1382.7 310.8 1385.0 312.5C1387.3 314.2 1390.8 316.0 1392.0 316.7"/>
<path d="M281.2 436.2C281.5 435.0 283.1 433.6 285.0 433.0C286.9 432.4 290.2 432.1 292.5 432.5C294.8 432.9 298.1 434.2 298.8 435.5C299.4 436.8 297.7 438.8 296.2 440.0C294.8 441.2 292.1 442.4 290.0 442.5C287.9 442.6 285.2 441.8 283.8 440.8C282.3 439.7 281.0 437.5 281.2 436.2Z"/>
<path d="M175.5 98.8C176.5 98.8 179.6 98.9 181.2 99.2C182.9 99.6 185.5 100.0 185.5 100.8C185.5 101.5 182.9 103.0 181.2 103.8C179.6 104.5 176.5 105.2 175.5 105.5"/>
<path d="M176.0 197.3C178.0 197.2 184.3 196.7 188.2 196.7C192.0 196.7 196.1 196.6 199.1 197.3C202.1 198.0 204.2 199.2 206.4 200.9C208.5 202.6 210.0 204.8 211.8 207.3C213.6 209.7 215.2 213.0 217.3 215.5C219.4 217.9 221.5 220.1 224.5 221.8C227.6 223.5 231.2 224.7 235.5 225.8C239.7 227.0 245.2 227.9 250.0 228.7C254.8 229.5 259.7 229.9 264.5 230.5C269.4 231.2 274.2 231.7 279.1 232.4C283.9 233.0 288.8 233.6 293.6 234.5C298.5 235.5 303.6 236.8 308.2 238.2C312.7 239.5 317.4 241.4 320.9 242.7C324.4 244.1 327.4 245.3 329.1 246.4C330.8 247.4 331.1 248.1 330.9 249.1C330.8 250.1 330.2 251.4 328.2 252.4C326.2 253.3 323.0 254.2 319.1 254.9C315.2 255.6 309.7 256.1 304.5 256.4C299.4 256.7 293.6 256.6 288.2 256.7C282.7 256.8 277.3 256.7 271.8 256.9C266.4 257.1 260.3 257.4 255.5 257.8C250.6 258.3 246.7 259.1 242.7 259.6C238.8 260.2 235.5 260.5 231.8 261.3C228.2 262.0 224.5 263.1 220.9 264.2C217.3 265.3 213.6 266.5 210.0 267.8C206.4 269.2 202.7 270.8 199.1 272.4C195.5 273.9 192.0 275.3 188.2 276.9C184.3 278.5 178.0 281.0 176.0 281.8"/>
<path d="M175.5 327.5C176.5 327.9 179.2 328.5 181.2 330.0C183.2 331.5 186.0 334.2 187.5 336.2C189.0 338.3 190.2 340.4 190.0 342.5C189.8 344.6 188.7 347.0 186.2 348.8C183.8 350.5 177.3 352.3 175.5 353.0"/>
<path d="M534.2 410.0C533.9 410.0 532.2 407.6 530.6 406.4C529.0 405.2 526.8 403.9 524.5 402.7C522.3 401.5 519.9 400.2 517.3 399.1C514.6 398.0 511.6 397.2 508.8 396.1C506.0 394.9 502.9 393.7 500.3 392.4C497.7 391.1 494.9 389.7 493.0 388.2C491.1 386.7 489.9 385.2 488.8 383.3C487.7 381.5 486.9 379.3 486.4 377.3C485.9 375.3 485.7 372.7 485.8 371.2C485.9 369.7 486.0 369.0 487.0 368.2C488.0 367.4 489.6 366.7 491.8 366.4C494.0 366.1 497.5 366.0 500.3 366.4C503.1 366.7 505.8 367.5 508.8 368.5C511.8 369.6 515.3 371.0 518.5 372.4C521.7 373.9 524.9 375.7 528.2 377.3C531.4 378.9 534.8 380.6 537.9 382.1C540.9 383.6 543.5 385.2 546.4 386.4C549.2 387.6 551.8 388.6 554.8 389.4C557.9 390.2 561.3 390.8 564.5 391.0C567.8 391.1 571.0 390.9 574.2 390.4C577.5 389.8 580.7 388.8 583.9 387.6C587.2 386.3 590.6 384.6 593.6 382.7C596.7 380.8 599.7 378.4 602.1 376.1C604.5 373.7 606.4 371.4 608.2 368.8C610.0 366.2 611.7 363.1 613.0 360.3C614.3 357.5 615.4 354.6 616.1 351.8C616.8 349.0 617.3 346.0 617.3 343.3C617.3 340.7 616.7 337.9 616.1 336.1C615.4 334.2 615.2 334.4 613.4 332.3C611.6 330.1 608.7 325.6 605.5 323.2C602.2 320.7 597.9 319.2 594.1 317.5C590.3 315.8 585.4 314.5 582.7 313.0C580.1 311.4 578.8 309.9 578.2 308.4C577.6 306.9 577.8 305.4 579.3 303.9C580.8 302.3 584.1 300.8 587.3 299.3C590.5 297.8 595.4 296.5 598.6 294.8C601.9 293.1 604.7 291.6 606.6 289.1C608.5 286.6 609.6 283.4 610.0 280.0C610.4 276.6 608.9 272.4 608.9 268.6C608.9 264.8 609.2 260.5 610.0 257.3C610.8 254.1 611.3 251.3 613.4 249.3C615.5 247.3 618.5 246.2 622.5 245.5C626.5 244.7 631.8 244.5 637.3 244.8C642.8 245.0 649.4 246.0 655.5 247.0C661.5 248.1 667.2 249.4 673.6 250.9C680.1 252.4 687.7 254.2 694.1 256.1C700.5 258.0 706.2 260.0 712.3 262.3C718.3 264.5 724.4 267.4 730.5 269.8C736.5 272.2 743.0 274.7 748.6 276.6C754.3 278.5 760.4 279.9 764.5 281.1C768.7 282.3 772.3 283.1 773.6 283.9C775.0 284.6 774.8 285.1 772.5 285.7C770.2 286.2 765.1 286.8 760.0 287.3C754.9 287.8 747.5 288.1 741.8 288.6C736.1 289.1 730.5 289.2 725.9 290.2C721.4 291.2 718.0 292.7 714.5 294.8C711.1 296.9 708.1 299.5 705.5 302.7C702.8 305.9 700.5 309.9 698.6 314.1C696.7 318.3 695.4 322.8 694.1 327.7C692.8 332.7 691.4 338.7 690.7 343.6C689.9 348.6 689.0 353.1 689.5 357.3C690.1 361.4 692.0 366.1 694.1 368.6C696.1 371.1 698.1 370.5 701.8 372.3C705.5 374.1 711.5 377.1 716.4 379.5C721.2 382.0 726.7 384.7 730.9 386.8C735.2 388.9 739.5 390.9 741.8 392.3C744.1 393.6 745.2 394.1 744.5 395.0C743.9 395.9 741.4 396.8 738.2 397.7C735.0 398.6 730.0 399.7 725.5 400.5C720.9 401.2 715.8 401.8 710.9 402.3C706.1 402.8 700.6 403.0 696.4 403.5C692.1 404.1 688.8 404.4 685.5 405.4C682.1 406.4 678.9 407.8 676.4 409.5C673.8 411.3 671.7 413.6 670.0 415.9C668.3 418.2 667.1 420.8 666.4 423.2C665.6 425.6 665.3 428.0 665.5 430.5C665.6 432.9 666.2 435.3 667.3 437.7C668.3 440.2 669.7 442.9 671.8 445.0C673.9 447.1 676.8 448.8 680.0 450.5C683.2 452.1 687.0 453.3 690.9 455.0C694.8 456.7 699.4 458.8 703.6 460.5C707.9 462.1 712.4 463.6 716.4 465.0C720.3 466.4 723.3 467.7 727.3 468.6C731.2 469.6 735.9 470.2 740.0 470.8C744.1 471.4 752.7 471.6 751.8 472.3C751.0 473.0 742.0 474.0 735.0 475.0C728.0 476.0 718.3 477.2 710.0 478.0C701.7 478.8 693.3 479.1 685.0 479.5C676.7 479.9 668.3 480.2 660.0 480.5C651.7 480.8 643.3 481.1 635.0 481.2C626.7 481.4 617.1 481.2 610.0 481.2C602.9 481.2 598.5 481.7 592.5 481.2C586.5 480.8 577.9 480.0 573.8 478.8C569.6 477.5 569.8 475.4 567.5 473.8C565.2 472.1 562.9 470.8 560.0 468.8C557.1 466.7 553.3 464.2 550.0 461.2C546.7 458.3 542.7 454.2 540.0 451.2C537.3 448.3 534.0 446.2 533.8 443.8C533.5 441.2 537.4 439.0 538.8 436.2C540.1 433.5 542.0 430.8 542.0 427.5C542.0 424.2 540.3 419.8 538.8 416.2C537.2 412.7 533.3 407.3 532.5 406.2C531.7 405.2 534.6 410.0 534.2 410.0Z"/>
<path d="M1392.0 95.5C1388.3 95.6 1377.0 95.9 1370.0 96.2C1363.0 96.6 1356.7 97.1 1350.0 97.5C1343.3 97.9 1336.7 98.1 1330.0 98.8C1323.3 99.4 1316.7 100.1 1310.0 101.2C1303.3 102.4 1296.7 104.0 1290.0 105.5C1283.3 107.0 1276.5 108.6 1270.0 110.0C1263.5 111.4 1256.2 113.0 1250.9 114.2C1245.6 115.4 1241.4 116.3 1238.2 117.3C1235.0 118.2 1233.1 118.9 1231.8 120.0C1230.5 121.1 1230.4 122.3 1230.5 123.6C1230.7 125.0 1231.2 126.9 1232.7 128.2C1234.3 129.5 1236.7 130.2 1240.0 131.3C1243.3 132.3 1248.2 133.2 1252.7 134.5C1257.3 135.8 1262.4 137.3 1267.3 139.1C1272.1 140.9 1277.0 143.2 1281.8 145.5C1286.7 147.7 1291.5 150.6 1296.4 152.7C1301.2 154.8 1306.1 156.7 1310.9 158.2C1315.8 159.7 1320.6 160.8 1325.5 161.8C1330.3 162.8 1335.2 163.5 1340.0 164.0C1344.8 164.5 1349.7 164.6 1354.5 164.5C1359.4 164.5 1364.8 164.2 1369.1 163.6C1373.3 163.0 1377.0 161.8 1380.0 160.9C1383.0 160.0 1385.5 159.2 1387.3 158.2C1389.1 157.1 1390.3 155.2 1390.9 154.5"/>
<path d="M1392.0 197.3C1390.9 197.6 1387.3 198.2 1385.5 199.1C1383.6 200.0 1381.9 201.4 1380.9 202.7C1379.9 204.1 1379.5 205.6 1379.6 207.3C1379.8 208.9 1380.7 211.1 1381.8 212.7C1382.9 214.4 1385.2 215.6 1386.4 217.3C1387.6 218.9 1388.4 220.5 1389.1 222.7C1389.8 225.0 1390.8 227.6 1390.5 230.9C1390.2 234.2 1389.3 239.5 1387.3 242.7C1385.2 245.9 1381.5 247.6 1378.2 250.0C1374.8 252.4 1370.6 255.0 1367.3 257.3C1363.9 259.5 1360.6 261.5 1358.2 263.6C1355.8 265.8 1353.5 267.9 1352.7 270.0C1352.0 272.1 1352.4 274.5 1353.6 276.4C1354.8 278.2 1357.1 279.8 1360.0 280.9C1362.9 282.0 1367.3 282.5 1370.9 282.7C1374.5 283.0 1378.3 282.7 1381.8 282.4C1385.3 282.0 1390.3 280.8 1392.0 280.5"/>
<path d="M1392.0 355.0C1390.6 355.6 1386.2 356.9 1383.3 358.3C1380.5 359.7 1376.9 361.4 1375.0 363.3C1373.1 365.3 1372.5 368.5 1371.7 370.0C1370.8 371.5 1371.9 371.0 1370.0 372.5C1368.1 374.0 1364.2 376.9 1360.0 378.8C1355.8 380.6 1350.8 382.2 1345.0 383.8C1339.2 385.3 1331.7 387.0 1325.0 388.0C1318.3 389.0 1312.5 389.1 1305.0 389.5C1297.5 389.9 1288.3 390.4 1280.0 390.5C1271.7 390.6 1263.3 390.3 1255.0 390.0C1246.7 389.7 1238.3 389.2 1230.0 388.8C1221.7 388.3 1213.3 387.9 1205.0 387.5C1196.7 387.1 1188.3 386.7 1180.0 386.2C1171.7 385.8 1162.5 385.6 1155.0 385.0C1147.5 384.4 1140.4 383.5 1135.0 382.5C1129.6 381.5 1123.3 379.9 1122.5 378.8C1121.7 377.6 1126.2 376.5 1130.0 375.5C1133.8 374.5 1141.7 372.8 1145.0 372.5C1148.3 372.2 1147.9 374.2 1150.0 373.8C1152.1 373.3 1154.2 371.5 1157.5 370.0C1160.8 368.5 1166.2 366.7 1170.0 365.0C1173.8 363.3 1176.7 361.7 1180.0 360.0C1183.3 358.3 1187.3 356.7 1190.0 355.0C1192.7 353.3 1194.2 351.5 1196.2 350.0C1198.3 348.5 1200.2 347.9 1202.5 346.2C1204.8 344.6 1206.5 341.5 1210.0 340.0C1213.5 338.5 1218.9 338.3 1223.3 337.5C1227.8 336.7 1232.2 336.2 1236.7 335.3C1241.1 334.4 1245.6 333.3 1250.0 332.0C1254.4 330.7 1258.9 329.1 1263.3 327.5C1267.8 325.9 1272.2 324.2 1276.7 322.5C1281.1 320.8 1285.6 319.0 1290.0 317.5C1294.4 316.0 1298.9 314.4 1303.3 313.3C1307.8 312.2 1312.2 311.4 1316.7 310.8C1321.1 310.2 1325.6 309.9 1330.0 309.7C1334.4 309.5 1338.9 309.5 1343.3 309.7C1347.8 309.9 1352.2 310.1 1356.7 310.8C1361.1 311.6 1365.8 312.9 1370.0 314.2C1374.2 315.4 1378.0 316.7 1381.7 318.3C1385.3 320.0 1390.3 323.2 1392.0 324.2"/>
<path d="M441.2 432.5C440.8 431.5 442.3 430.5 445.0 430.0C447.7 429.5 453.3 428.9 457.5 429.5C461.7 430.1 466.3 432.4 470.0 433.8C473.7 435.1 478.5 436.5 479.5 437.5C480.5 438.5 479.1 439.4 476.2 439.5C473.4 439.6 467.3 438.5 462.5 438.0C457.7 437.5 451.0 437.2 447.5 436.2C444.0 435.3 441.7 433.5 441.2 432.5Z"/>
<path d="M176.0 207.3C177.7 206.9 183.1 205.5 186.4 205.1C189.6 204.6 192.7 204.2 195.5 204.5C198.2 204.9 200.5 205.8 202.7 207.3C205.0 208.8 207.1 211.4 209.1 213.6C211.1 215.9 212.3 218.8 214.5 220.9C216.8 223.0 219.5 224.9 222.7 226.4C225.9 227.8 229.4 228.5 233.6 229.5C237.9 230.4 243.3 231.2 248.2 231.8C253.0 232.5 257.9 232.8 262.7 233.3C267.6 233.7 272.4 234.0 277.3 234.5C282.1 235.1 287.0 235.8 291.8 236.7C296.7 237.7 302.3 239.2 306.4 240.4C310.5 241.6 313.9 242.8 316.4 244.0C318.8 245.2 320.6 246.2 320.9 247.3C321.2 248.4 320.0 249.6 318.2 250.5C316.4 251.5 313.5 252.2 310.0 252.7C306.5 253.3 301.8 253.8 297.3 254.0C292.7 254.2 287.6 254.2 282.7 254.2C277.9 254.2 273.0 254.0 268.2 254.2C263.3 254.3 258.2 254.6 253.6 255.1C249.1 255.6 244.8 256.7 240.9 257.3C237.0 257.8 233.6 257.8 230.0 258.5C226.4 259.2 222.7 260.4 219.1 261.5C215.5 262.5 211.8 263.6 208.2 264.9C204.5 266.2 200.9 267.6 197.3 269.1C193.6 270.5 189.9 272.2 186.4 273.6C182.8 275.1 177.7 277.0 176.0 277.6"/>
<path d="M615.7 258.4C616.2 255.6 617.5 253.2 619.5 251.6C621.6 250.0 624.5 249.1 628.2 248.6C631.9 248.1 636.9 248.3 641.8 248.6C646.7 249.0 652.0 249.9 657.7 250.9C663.4 251.9 669.8 253.1 675.9 254.5C682.0 256.0 688.4 257.8 694.1 259.5C699.8 261.3 704.7 263.1 710.0 265.2C715.3 267.3 720.6 270.0 725.9 272.0C731.2 274.1 737.1 276.2 741.8 277.7C746.6 279.2 752.0 280.2 754.3 281.1C756.6 282.1 756.8 282.7 755.5 283.4C754.1 284.2 750.5 285.0 746.4 285.7C742.2 286.4 735.4 286.7 730.5 287.5C725.5 288.3 721.0 289.0 716.8 290.2C712.7 291.4 708.9 292.9 705.5 294.8C702.0 296.7 699.2 299.1 696.4 301.6C693.5 304.1 691.1 306.9 688.4 309.5C685.8 312.2 683.7 315.3 680.5 317.5C677.2 319.7 673.3 321.7 669.1 322.7C664.9 323.8 660.0 324.0 655.5 323.9C650.9 323.8 646.7 322.9 641.8 322.0C636.9 321.2 631.2 320.0 625.9 318.6C620.6 317.3 614.5 315.8 610.0 314.1C605.5 312.4 600.9 310.1 598.6 308.4C596.4 306.7 595.8 305.4 596.4 303.9C596.9 302.3 599.6 300.8 602.0 299.3C604.5 297.8 608.6 296.7 611.1 294.8C613.7 292.9 616.0 290.6 617.3 288.0C618.5 285.3 618.8 282.1 618.6 278.9C618.5 275.6 616.9 272.0 616.4 268.6C615.9 265.2 615.2 261.2 615.7 258.4Z"/>
<path d="M621.8 370.5C622.0 369.2 622.7 367.9 624.5 366.8C626.4 365.8 627.7 364.4 632.7 364.1C637.7 363.8 648.5 364.1 654.5 365.0C660.6 365.9 664.2 367.9 669.1 369.5C673.9 371.2 678.8 372.9 683.6 375.0C688.5 377.1 693.6 380.0 698.2 382.3C702.7 384.5 707.1 386.8 710.9 388.6C714.7 390.5 718.9 392.0 720.9 393.2C722.9 394.4 723.5 395.1 722.7 395.9C722.0 396.7 719.8 397.5 716.4 398.1C712.9 398.6 707.0 398.9 701.8 399.2C696.7 399.4 690.9 399.5 685.5 399.5C680.0 399.5 673.6 399.6 669.1 399.2C664.5 398.7 661.5 398.0 658.2 396.8C654.8 395.7 652.1 394.2 649.1 392.3C646.1 390.3 643.0 387.3 640.0 385.0C637.0 382.7 633.6 380.5 630.9 378.6C628.2 376.8 625.2 375.5 623.6 374.1C622.1 372.7 621.7 371.7 621.8 370.5Z"/>
<path d="M586.2 462.5C585.8 460.6 587.7 459.4 590.0 457.5C592.3 455.6 596.2 453.1 600.0 451.2C603.8 449.4 607.9 447.6 612.5 446.2C617.1 444.9 622.1 443.5 627.5 443.0C632.9 442.5 639.6 442.6 645.0 443.2C650.4 443.9 655.0 445.4 660.0 447.0C665.0 448.6 669.6 450.8 675.0 453.0C680.4 455.2 686.7 458.3 692.5 460.5C698.3 462.7 705.2 464.8 710.0 466.2C714.8 467.8 719.6 468.5 721.2 469.5C722.9 470.5 722.7 471.2 720.0 472.0C717.3 472.8 710.8 473.8 705.0 474.5C699.2 475.2 692.5 475.8 685.0 476.2C677.5 476.7 668.3 477.0 660.0 477.0C651.7 477.0 643.3 476.8 635.0 476.2C626.7 475.7 617.1 475.0 610.0 473.8C602.9 472.5 596.5 470.6 592.5 468.8C588.5 466.9 586.7 464.4 586.2 462.5Z"/>
<path d="M1235.5 123.6C1235.5 122.5 1235.9 121.3 1237.3 120.4C1238.6 119.5 1240.5 118.9 1243.6 118.2C1246.8 117.5 1251.2 116.8 1256.4 116.0C1261.5 115.2 1268.5 114.4 1274.5 113.6C1280.6 112.8 1286.7 112.0 1292.7 111.3C1298.8 110.6 1304.8 109.8 1310.9 109.5C1317.0 109.1 1323.0 109.0 1329.1 109.1C1335.2 109.2 1341.8 109.5 1347.3 110.0C1352.7 110.5 1357.7 110.9 1361.8 111.8C1365.9 112.7 1369.7 113.8 1371.8 115.5C1373.9 117.1 1373.5 119.5 1374.5 121.8C1375.6 124.1 1376.7 127.0 1378.2 129.1C1379.7 131.2 1381.8 132.9 1383.6 134.5C1385.5 136.2 1387.8 137.6 1389.1 139.1C1390.4 140.6 1391.1 141.5 1391.3 143.6C1391.4 145.8 1391.3 149.7 1390.0 151.8C1388.7 153.9 1386.5 155.2 1383.6 156.4C1380.8 157.6 1377.0 158.5 1372.7 159.1C1368.5 159.7 1363.0 159.9 1358.2 160.0C1353.3 160.1 1348.5 159.9 1343.6 159.6C1338.8 159.3 1333.9 158.9 1329.1 158.2C1324.2 157.5 1319.4 156.7 1314.5 155.5C1309.7 154.2 1304.8 152.7 1300.0 150.9C1295.2 149.1 1290.3 146.7 1285.5 144.5C1280.6 142.4 1275.8 140.1 1270.9 138.2C1266.1 136.3 1260.9 134.5 1256.4 133.1C1251.8 131.7 1246.8 131.0 1243.6 130.0C1240.5 129.0 1238.6 128.3 1237.3 127.3C1235.9 126.2 1235.5 124.8 1235.5 123.6Z"/>
<path d="M1392.0 243.6C1390.3 244.8 1385.3 248.5 1381.8 250.9C1378.3 253.3 1374.2 255.9 1370.9 258.2C1367.6 260.5 1364.1 262.4 1361.8 264.5C1359.5 266.7 1357.6 268.9 1357.3 270.9C1357.0 272.9 1358.0 275.0 1360.0 276.4C1362.0 277.7 1365.8 278.6 1369.1 279.1C1372.4 279.5 1376.2 279.5 1380.0 279.1C1383.8 278.7 1390.0 277.3 1392.0 276.9"/>
<path d="M1146.2 379.5C1147.9 378.0 1164.8 375.1 1170.0 373.8C1175.2 372.4 1174.2 372.5 1177.5 371.2C1180.8 370.0 1185.4 367.9 1190.0 366.2C1194.6 364.6 1201.1 362.8 1205.0 361.2C1208.9 359.7 1209.7 358.2 1213.3 356.7C1216.9 355.1 1222.2 353.5 1226.7 352.0C1231.1 350.5 1235.6 348.9 1240.0 347.5C1244.4 346.1 1248.9 344.8 1253.3 343.3C1257.8 341.9 1262.2 340.5 1266.7 338.8C1271.1 337.2 1275.6 335.2 1280.0 333.3C1284.4 331.4 1288.9 329.3 1293.3 327.5C1297.8 325.7 1302.2 323.9 1306.7 322.5C1311.1 321.1 1315.6 320.0 1320.0 319.2C1324.4 318.3 1328.9 317.8 1333.3 317.5C1337.8 317.2 1342.2 317.2 1346.7 317.5C1351.1 317.8 1355.6 318.3 1360.0 319.2C1364.4 320.0 1369.4 321.1 1373.3 322.5C1377.2 323.9 1380.6 325.8 1383.3 327.5C1386.1 329.2 1388.8 330.8 1390.0 332.5C1391.2 334.2 1391.9 336.1 1390.8 337.5C1389.7 338.9 1386.2 339.7 1383.3 340.8C1380.4 341.9 1376.7 342.9 1373.3 344.2C1370.0 345.4 1366.4 346.8 1363.3 348.3C1360.3 349.9 1357.5 351.7 1355.0 353.3C1352.5 355.0 1350.0 356.5 1348.3 358.3C1346.7 360.1 1345.7 362.2 1345.0 364.2C1344.3 366.1 1345.0 368.1 1344.2 370.0C1343.3 371.9 1340.7 374.0 1340.0 375.8C1339.3 377.7 1342.5 379.9 1340.0 381.2C1337.5 382.6 1330.8 382.9 1325.0 383.8C1319.2 384.6 1312.5 385.6 1305.0 386.2C1297.5 386.9 1288.3 387.3 1280.0 387.5C1271.7 387.7 1263.3 387.7 1255.0 387.5C1246.7 387.3 1238.3 386.8 1230.0 386.5C1221.7 386.2 1213.3 385.8 1205.0 385.5C1196.7 385.2 1187.5 385.0 1180.0 384.5C1172.5 384.0 1165.6 383.3 1160.0 382.5C1154.4 381.7 1144.6 381.0 1146.2 379.5Z"/>
<path d="M176.0 242.7C176.7 242.0 178.9 239.8 180.0 238.2C181.1 236.5 182.0 234.7 182.7 232.7C183.5 230.8 183.6 227.9 184.5 226.4C185.5 224.8 186.4 224.0 188.2 223.6C190.0 223.2 193.0 223.5 195.5 224.0C197.9 224.5 200.0 225.5 202.7 226.4C205.5 227.3 208.5 228.5 211.8 229.5C215.2 230.5 218.8 231.6 222.7 232.4C226.7 233.2 230.9 233.7 235.5 234.2C240.0 234.6 245.2 234.8 250.0 235.1C254.8 235.4 259.7 235.5 264.5 236.0C269.4 236.5 274.5 237.1 279.1 237.8C283.6 238.6 287.9 239.5 291.8 240.5C295.8 241.6 300.0 242.9 302.7 244.0C305.5 245.1 307.7 246.1 308.2 246.9C308.6 247.8 307.3 248.5 305.5 249.1C303.6 249.7 300.5 250.2 297.3 250.5C294.1 250.9 290.6 251.1 286.4 251.3C282.1 251.4 276.7 251.3 271.8 251.5C267.0 251.6 261.8 251.8 257.3 252.2C252.7 252.5 248.5 253.1 244.5 253.6C240.6 254.2 237.3 254.8 233.6 255.5C230.0 256.2 226.4 256.8 222.7 257.8C219.1 258.8 215.5 260.1 211.8 261.3C208.2 262.5 204.5 263.7 200.9 265.1C197.3 266.5 194.2 267.8 190.0 269.5C185.8 271.1 178.3 274.0 176.0 274.9"/>
<path d="M622.5 259.5C623.1 257.8 623.8 255.1 625.9 253.9C628.0 252.7 630.8 252.3 635.0 252.3C639.2 252.2 645.6 252.8 650.9 253.4C656.2 254.1 661.5 255.1 666.8 256.1C672.1 257.2 677.4 258.1 682.7 259.5C688.0 260.9 693.3 262.7 698.6 264.5C703.9 266.4 709.6 268.9 714.5 270.9C719.5 272.9 724.6 275.0 728.2 276.6C731.8 278.2 735.0 279.3 736.1 280.5C737.3 281.6 737.1 282.5 735.0 283.4C732.9 284.3 727.8 284.8 723.6 285.7C719.5 286.6 714.2 287.4 710.0 288.6C705.8 289.9 702.0 291.4 698.6 293.2C695.2 295.0 692.6 297.3 689.5 299.3C686.5 301.4 683.9 303.8 680.5 305.5C677.0 307.2 673.3 308.6 669.1 309.5C664.9 310.5 660.0 310.9 655.5 311.1C650.9 311.3 646.0 311.1 641.8 310.7C637.7 310.2 633.7 309.4 630.5 308.4C627.2 307.4 623.8 306.1 622.5 304.5C621.2 303.0 621.6 300.9 622.5 299.3C623.4 297.7 626.3 296.5 628.2 294.8C630.1 293.1 632.7 291.2 633.9 289.1C635.0 287.0 635.2 284.5 635.0 282.3C634.8 280.0 634.1 277.7 632.7 275.5C631.4 273.2 628.8 270.5 627.0 268.6C625.3 266.7 623.3 265.6 622.5 264.1C621.7 262.6 621.9 261.2 622.5 259.5Z"/>
<path d="M663.6 383.2C663.9 382.4 665.2 381.3 667.3 381.0C669.4 380.7 673.3 380.8 676.4 381.4C679.4 381.9 682.4 383.0 685.5 384.1C688.5 385.2 692.3 386.5 694.5 387.7C696.8 388.9 698.6 390.4 699.1 391.4C699.5 392.4 698.9 393.3 697.3 393.7C695.6 394.2 692.0 394.4 689.1 394.1C686.2 393.8 682.9 392.8 680.0 391.9C677.1 391.0 674.2 389.6 671.8 388.6C669.5 387.6 667.2 386.8 665.8 385.9C664.5 385.0 663.4 384.0 663.6 383.2Z"/>
<path d="M613.8 461.2C614.2 459.7 616.9 457.5 620.0 456.2C623.1 455.0 627.9 454.2 632.5 453.8C637.1 453.3 642.5 453.3 647.5 453.8C652.5 454.2 657.5 455.2 662.5 456.2C667.5 457.3 672.9 458.6 677.5 460.0C682.1 461.4 686.8 463.2 690.0 464.5C693.2 465.8 696.6 466.7 697.0 467.5C697.4 468.3 695.8 469.0 692.5 469.5C689.2 470.0 682.9 470.3 677.5 470.5C672.1 470.7 665.8 470.7 660.0 470.5C654.2 470.3 647.9 469.9 642.5 469.5C637.1 469.1 631.7 468.7 627.5 468.0C623.3 467.3 619.8 466.6 617.5 465.5C615.2 464.4 613.3 462.8 613.8 461.2Z"/>
<path d="M1245.5 123.6C1245.5 122.6 1246.7 121.3 1249.1 120.4C1251.5 119.5 1255.8 118.7 1260.0 118.2C1264.2 117.7 1269.7 117.5 1274.5 117.3C1279.4 117.1 1284.2 116.8 1289.1 116.9C1293.9 117.0 1299.1 117.1 1303.6 117.6C1308.2 118.2 1312.4 119.0 1316.4 120.0C1320.3 121.0 1323.6 122.3 1327.3 123.6C1330.9 125.0 1334.8 126.7 1338.2 128.2C1341.5 129.7 1343.9 131.8 1347.3 132.7C1350.6 133.6 1354.2 133.5 1358.2 133.6C1362.1 133.8 1367.6 133.2 1370.9 133.6C1374.2 134.1 1376.1 135.0 1378.2 136.4C1380.3 137.7 1382.3 140.0 1383.6 141.8C1385.0 143.6 1386.4 145.6 1386.4 147.3C1386.4 148.9 1385.3 150.8 1383.6 151.8C1382.0 152.8 1380.0 152.9 1376.4 153.1C1372.7 153.2 1366.7 152.8 1361.8 152.7C1357.0 152.6 1352.1 152.7 1347.3 152.4C1342.4 152.1 1337.6 151.7 1332.7 150.9C1327.9 150.1 1323.0 149.0 1318.2 147.6C1313.3 146.3 1308.5 144.5 1303.6 142.7C1298.8 141.0 1293.9 138.9 1289.1 137.3C1284.2 135.6 1279.4 134.1 1274.5 132.7C1269.7 131.4 1264.2 130.2 1260.0 129.1C1255.8 128.0 1251.5 127.3 1249.1 126.4C1246.7 125.5 1245.5 124.6 1245.5 123.6Z"/>
<path d="M1392.0 248.2C1390.6 249.2 1386.5 252.6 1383.6 254.5C1380.7 256.5 1377.3 258.2 1374.5 260.0C1371.8 261.8 1369.1 263.8 1367.3 265.5C1365.5 267.1 1363.9 268.6 1363.6 270.0C1363.3 271.4 1363.9 272.7 1365.5 273.6C1367.0 274.6 1370.0 275.5 1372.7 275.8C1375.5 276.1 1378.6 275.8 1381.8 275.5C1385.0 275.1 1390.3 273.9 1392.0 273.6"/>
<path d="M1168.3 380.0C1168.3 379.2 1169.4 378.5 1171.7 377.5C1173.9 376.5 1178.1 375.3 1181.7 374.2C1185.3 373.1 1189.2 372.1 1193.3 370.8C1197.5 369.6 1202.2 368.1 1206.7 366.7C1211.1 365.3 1215.6 363.8 1220.0 362.5C1224.4 361.2 1228.9 360.1 1233.3 359.2C1237.8 358.2 1242.2 357.5 1246.7 356.7C1251.1 355.8 1255.6 355.1 1260.0 354.2C1264.4 353.2 1269.4 351.8 1273.3 350.8C1277.2 349.9 1280.3 349.2 1283.3 348.7C1286.4 348.1 1289.4 347.6 1291.7 347.5C1293.9 347.4 1296.1 347.4 1296.7 348.3C1297.2 349.3 1294.7 351.7 1295.0 353.3C1295.3 355.0 1297.2 356.7 1298.3 358.3C1299.4 360.0 1300.6 361.7 1301.7 363.3C1302.8 365.0 1304.1 366.7 1305.0 368.3C1305.9 370.0 1307.0 371.8 1307.0 373.3C1307.0 374.9 1306.4 376.4 1305.0 377.5C1303.6 378.6 1301.4 379.4 1298.3 380.0C1295.3 380.6 1290.8 380.7 1286.7 380.8C1282.5 381.0 1277.8 380.8 1273.3 380.8C1268.9 380.8 1264.4 380.8 1260.0 380.8C1255.6 380.9 1251.1 381.1 1246.7 381.3C1242.2 381.6 1237.8 382.2 1233.3 382.5C1228.9 382.8 1224.4 383.1 1220.0 383.3C1215.6 383.6 1211.1 383.9 1206.7 384.2C1202.2 384.4 1197.8 384.7 1193.3 384.7C1188.9 384.7 1183.6 384.5 1180.0 384.2C1176.4 383.8 1173.6 383.2 1171.7 382.5C1169.7 381.8 1168.3 380.8 1168.3 380.0Z"/>
<path d="M1300.8 346.7C1300.8 345.9 1301.8 344.6 1303.3 343.7C1304.9 342.7 1307.9 341.7 1310.0 340.8C1312.1 339.9 1314.4 339.4 1315.8 338.3C1317.2 337.2 1316.5 335.4 1318.3 334.2C1320.1 332.9 1323.6 331.8 1326.7 330.8C1329.7 329.9 1333.1 328.9 1336.7 328.3C1340.3 327.8 1345.0 327.5 1348.3 327.5C1351.7 327.5 1354.7 327.7 1356.7 328.3C1358.6 329.0 1360.0 330.4 1360.0 331.3C1360.0 332.3 1358.9 333.3 1356.7 334.2C1354.4 335.1 1350.3 335.9 1346.7 336.7C1343.1 337.4 1338.9 338.1 1335.0 338.7C1331.1 339.2 1326.7 339.5 1323.3 340.0C1320.0 340.5 1317.5 340.8 1315.0 341.7C1312.5 342.5 1310.3 343.9 1308.3 345.0C1306.4 346.1 1304.6 347.7 1303.3 348.0C1302.1 348.3 1300.8 347.4 1300.8 346.7Z"/>
<path d="M288.8 378.8C289.2 378.1 291.0 377.0 292.5 376.8C294.0 376.5 296.6 376.9 297.5 377.5C298.4 378.1 298.6 379.8 298.0 380.5C297.4 381.2 295.2 381.8 293.8 381.8C292.3 381.8 290.3 381.0 289.5 380.5C288.7 380.0 288.2 379.4 288.8 378.8Z"/>
<path d="M176.0 138.0C177.0 138.8 180.7 141.0 182.0 143.0C183.3 145.0 184.0 147.7 184.0 150.0C184.0 152.3 183.3 155.0 182.0 157.0C180.7 159.0 177.0 161.2 176.0 162.0"/>
<path d="M176.0 142.0C176.5 142.7 178.3 144.7 179.0 146.0C179.7 147.3 180.0 148.5 180.0 150.0C180.0 151.5 179.7 153.7 179.0 155.0C178.3 156.3 176.5 157.5 176.0 158.0"/>
<path d="M1392.0 108.0C1391.0 108.5 1387.7 109.5 1386.0 111.0C1384.3 112.5 1382.8 115.0 1382.0 117.0C1381.2 119.0 1380.8 120.8 1381.0 123.0C1381.2 125.2 1382.0 127.8 1383.0 130.0C1384.0 132.2 1385.5 134.7 1387.0 136.0C1388.5 137.3 1391.2 137.7 1392.0 138.0"/>
<path d="M1392.0 114.0C1391.5 114.7 1389.7 116.5 1389.0 118.0C1388.3 119.5 1388.0 121.2 1388.0 123.0C1388.0 124.8 1388.3 127.5 1389.0 129.0C1389.7 130.5 1391.5 131.5 1392.0 132.0"/>
<path d="M885.0 54.0C897.5 54.0 931.7 53.9 960.0 53.9C988.3 53.9 1039.2 54.0 1055.0 54.0"/></g>
<g stroke="#b8b8b8" stroke-opacity="0.85" stroke-width="1.2" stroke-dasharray="7 6" fill="none"><line x1="176.0" y1="54" x2="176.0" y2="528"/><line x1="328.0" y1="54" x2="328.0" y2="528"/><line x1="480.0" y1="54" x2="480.0" y2="528"/><line x1="632.0" y1="54" x2="632.0" y2="528"/><line x1="784.0" y1="54" x2="784.0" y2="528"/><line x1="936.0" y1="54" x2="936.0" y2="528"/><line x1="1088.0" y1="54" x2="1088.0" y2="528"/><line x1="1240.0" y1="54" x2="1240.0" y2="528"/><line x1="1392.0" y1="54" x2="1392.0" y2="528"/><line x1="176" y1="133.0" x2="1392" y2="133.0"/><line x1="176" y1="212.0" x2="1392" y2="212.0"/><line x1="176" y1="291.0" x2="1392" y2="291.0"/><line x1="176" y1="370.0" x2="1392" y2="370.0"/><line x1="176" y1="449.0" x2="1392" y2="449.0"/></g>
<line x1="175" y1="528.5" x2="1393" y2="528.5" stroke="#000" stroke-width="1"/>
<line x1="1392" y1="53" x2="1392" y2="529" stroke="#000" stroke-width="2"/>
</svg>
<div class="xt" style="left:126.0px">0</div><div class="xt" style="left:278.0px">45</div><div class="xt" style="left:430.0px">90</div><div class="xt" style="left:582.0px">135</div><div class="xt" style="left:734.0px">180</div><div class="xt" style="left:886.0px">225</div><div class="xt" style="left:1038.0px">270</div><div class="xt" style="left:1190.0px">315</div><div class="xt" style="left:1342.0px">360</div><div class="yt" style="top:115.3px">60</div><div class="yt" style="top:194.3px">30</div><div class="yt" style="top:273.3px">0</div><div class="yt" style="top:352.3px">-30</div><div class="yt" style="top:431.3px">-60</div>
<div id="xl">Longitude</div>
<div id="yl">Latitude</div>
<div id="cb"></div><div class="ct" style="top:176px">4</div><div class="ct" style="top:254px">3</div><div class="ct" style="top:333px">2</div><div class="ct" style="top:412px">1</div>
<div id="cl">Density (10<sup>4</sup> cm<sup>-3</sup>)</div>
</body></html>
